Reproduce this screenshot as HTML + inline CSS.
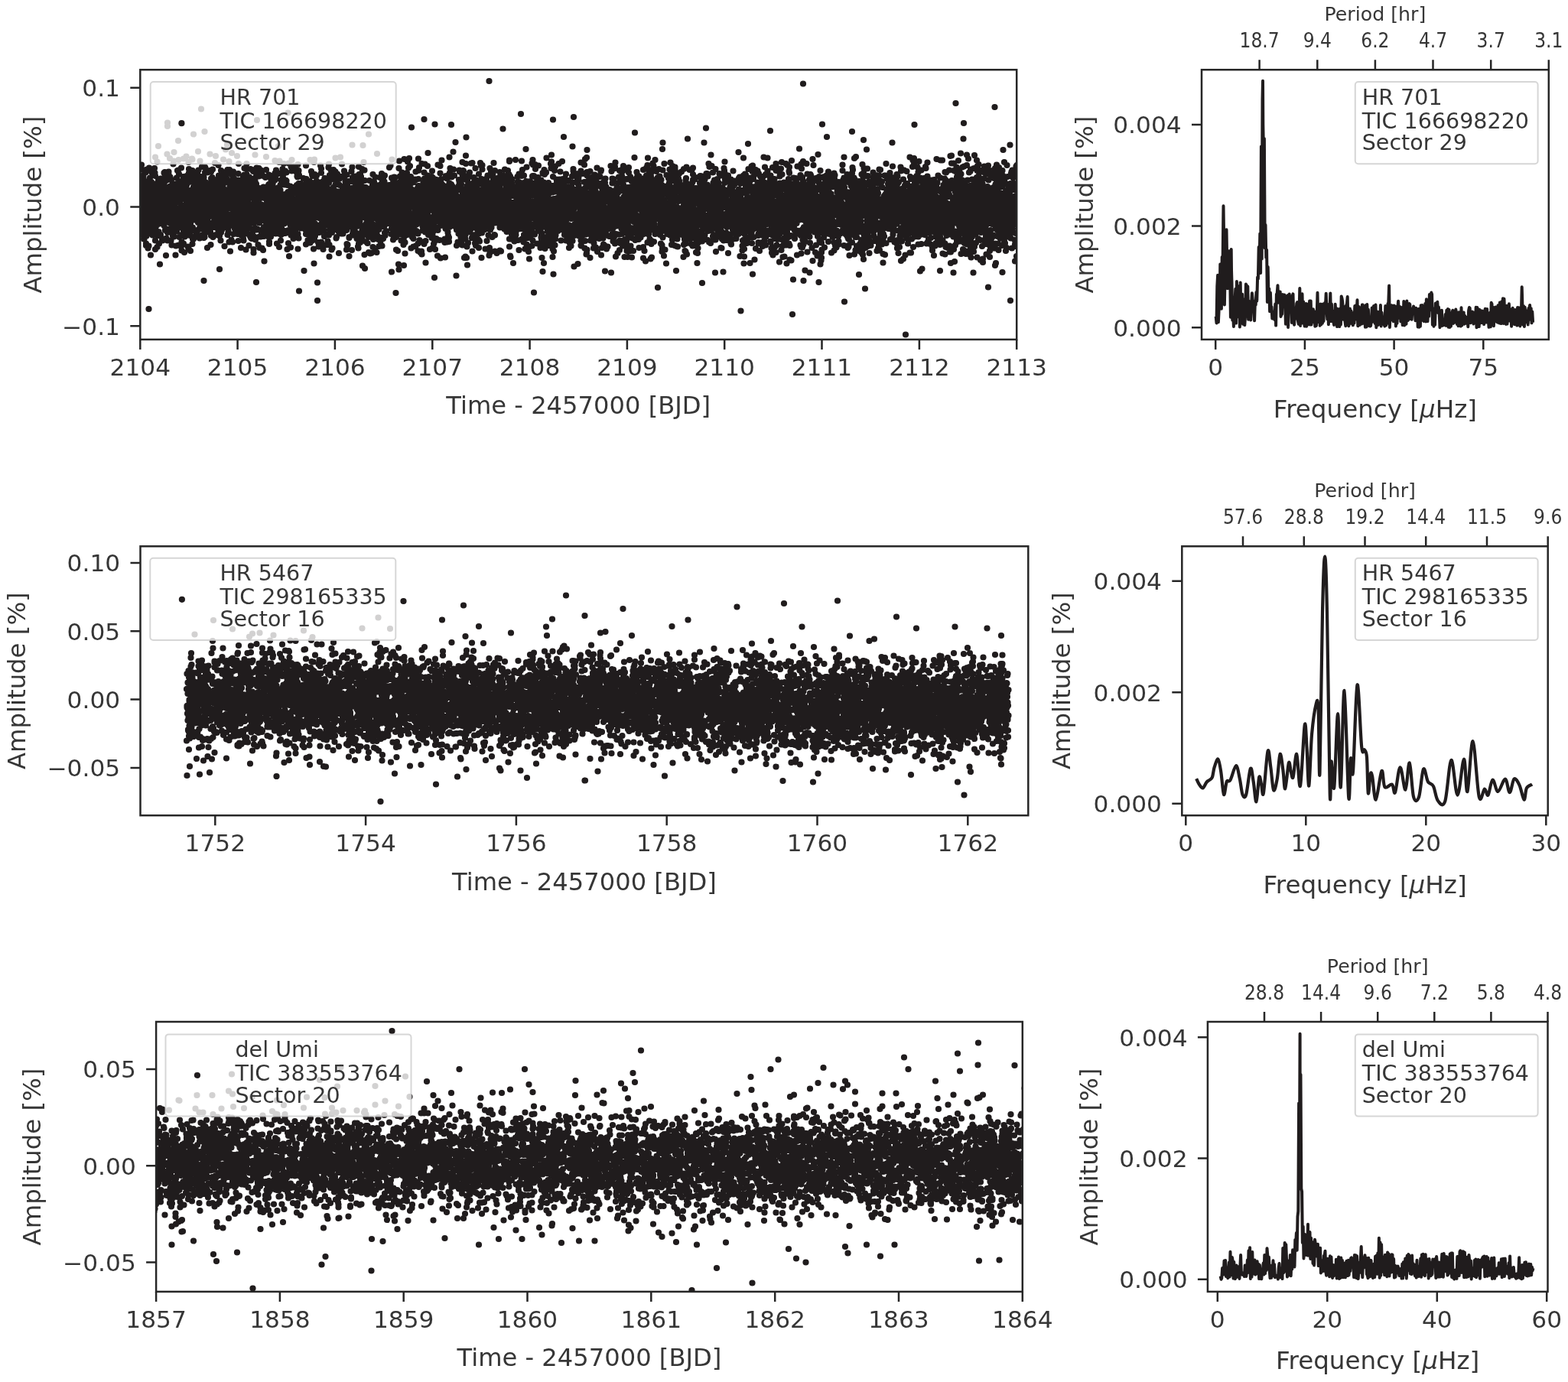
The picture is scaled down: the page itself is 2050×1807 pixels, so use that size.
<!DOCTYPE html>
<html><head><meta charset="utf-8"><title>Light curves and periodograms</title>
<style>
html,body{margin:0;padding:0;background:#fff;overflow:hidden}
svg{display:block}
text{font-family:"DejaVu Sans","Liberation Sans",sans-serif;fill:#363636}
text.c{font-family:"DejaVu Sans Condensed","DejaVu Sans","Liberation Sans",sans-serif;font-stretch:condensed}
</style></head><body>
<svg width="2050" height="1807" viewBox="0 0 2050 1807"><defs><clipPath id="a"><rect x="183.3" y="91.2" width="1145.9" height="352.7"/></clipPath><clipPath id="b"><rect x="183.5" y="714.3" width="1160.8" height="351.9"/></clipPath><clipPath id="c"><rect x="204.1" y="1336" width="1132.7" height="352.9"/></clipPath><clipPath id="d"><rect x="1571" y="91.2" width="453.8" height="352.7"/></clipPath><clipPath id="e"><rect x="1545.3" y="714.3" width="478.4" height="351.9"/></clipPath><clipPath id="f"><rect x="1578.9" y="1336" width="444.6" height="352.9"/></clipPath></defs><rect width="100%" height="100%" fill="#fff"/><path clip-path="url(#a)" d="M179.5 274h0m0 6h0m0-3h0m0 15.5h0m0-12.5h0m0 12.5h0m0.5-42h0m0.5 51h0m0-21h0m0-22.5h0m0.5 12h0m0-26h0m0.5 6.5h0m0 39.5h0m0 3h0m0-31.5h0m0-43h0m0.5 24.5h0m0 42.5h0m0-7.5h0m0 1h0m0-40h0m0 20.5h0m0 16h0m0.5 4.5h0m0-23h0m0 5.5h0m0 14h0m0-27.5h0m0-6h0m0.5 41h0m0-14h0m0.5-34h0m0 61.5h0m0 9h0m0-24.5h0m0.5-20h0m0 9.5h0m0 7.5h0m0.5-23.5h0m0 22h0m0-30.5h0m0.5 18.5h0m0-31.5h0m0 19.5h0m0 5h0m0-43h0m0 53h0m0.5 6.5h0m0 10h0m0-4h0m0-13h0m0-30.5h0m0.5 60h0m0.5-46.5h0m0-29h0m0.5 22h0m0 18h0m0 13.5h0m0-5.5h0m0.5 32h0m0-73h0m0 32h0m0-29h0m0.5 7h0m0 53h0m0-24.5h0m0 45h0m0-14h0m0-9h0m0-4h0m0-37.5h0m0 5h0m0 7.5h0m0.5-9.5h0m0 13.5h0m0 48h0m0-35.5h0m0-17h0m0-4.5h0m0 16h0m0.5 30h0m0-30.5h0m0-12h0m0.5 45h0m0-44h0m0-15h0m0 8h0m0 2.5h0m0-9.5h0m0.5 26.5h0m0 37h0m0-45.5h0m0.5-38.5h0m0 53h0m0 5.5h0m0-34.5h0m0-3.5h0m0.5 41.5h0m0 33.5h0m0-64.5h0m0 62h0m0.5-10h0m0.5-30h0m0-19.5h0m0-37.5h0m0.5 53h0m0-31h0m0 55h0m0-39.5h0m0 35.5h0m0.5-42h0m0 31.5h0m0-26h0m0 31.5h0m0.5-52.5h0m0 15.5h0m0-4.5h0m0 17.5h0m0 59h0m0-49.5h0m0.5-15.5h0m0-12.5h0m0.5 157h0m0-82.5h0m0-53h0m0.5-29.5h0m0-19.5h0m0 73.5h0m0.5 10h0m0-57.5h0m0 22h0m0 10.5h0m0 6.5h0m0-42.5h0m0.5 12.5h0m0-3.5h0m0-18.5h0m0 45.5h0m0-25h0m0.5 52h0m0-26.5h0m0.5-21h0m0 6.5h0m0-7.5h0m0 77h0m0-71h0m0.5-16.5h0m0 13.5h0m0-5h0m0-7.5h0m0 37h0m0-8.5h0m0-2.5h0m0 19h0m0 2h0m0-36h0m0.5 39h0m0-18.5h0m0-13h0m0 13.5h0m0-10h0m0-31h0m0.5 25.5h0m0-38h0m0 56h0m0-41.5h0m0 31h0m0 1h0m0-28h0m0.5 50h0m0-39.5h0m0.5 19h0m0-25.5h0m0 42h0m0 17.5h0m0-27h0m0.5 2h0m0-31.5h0m0.5 25.5h0m0-16.5h0m0 45.5h0m0.5-53h0m0.5 30.5h0m0-9h0m0 31h0m0-19.5h0m0.5-65.5h0m0 82h0m0-57.5h0m0 44.5h0m0.5-63h0m0 43h0m0.5 13.5h0m0-77h0m0 24.5h0m0 96h0m0-64.5h0m0 53h0m0.5-41.5h0m0-20h0m0 4h0m0 2.5h0m0 5.5h0m0.5 17.5h0m0-14.5h0m0 33h0m0.5-33h0m0-21h0m0 33h0m0.5-20h0m0 34.5h0m0-20.5h0m0-20h0m0 24.5h0m0.5-27.5h0m0 16.5h0m0-28h0m0 83.5h0m0-62h0m0-20h0m0-29.5h0m0 92.5h0m0.5 4h0m0-32.5h0m0.5-26.5h0m0 24h0m0-19.5h0m0-7.5h0m0 34.5h0m0.5 4.5h0m0-37.5h0m0 45.5h0m0-37.5h0m0-64.5h0m0 43.5h0m0 50.5h0m0.5-12.5h0m0 18.5h0m0-9.5h0m0 21.5h0m0-60.5h0m0.5 47h0m0 29h0m0-60.5h0m0-21.5h0m0.5 29.5h0m0 14h0m0 5.5h0m0.5-3h0m0 63h0m0-98.5h0m0.5 2.5h0m0 36.5h0m0-31.5h0m0 2.5h0m0 14h0m0.5 37.5h0m0-55.5h0m0-19.5h0m0 44h0m0 2.5h0m0 27h0m0.5-39h0m0-2.5h0m0-5h0m0 6h0m0-20.5h0m0.5 21.5h0m0-30.5h0m0 46.5h0m0-17.5h0m0.5 9.5h0m0-24h0m0 16h0m0-13.5h0m0.5 59.5h0m0-31.5h0m0-20h0m0.5 19.5h0m0 3.5h0m0-13.5h0m0-34.5h0m0 77.5h0m0-47.5h0m0-8.5h0m0.5-1.5h0m0 31h0m0-28h0m0.5 22h0m0-7h0m0.5 6h0m0 13h0m0.5-40h0m0-28h0m0 15.5h0m0 31h0m0 22.5h0m0-15.5h0m0.5-36.5h0m0 14.5h0m0.5 3h0m0-32.5h0m0-3h0m0.5 76h0m0-64h0m0 28h0m0-14.5h0m0.5 15h0m0-2h0m0-14h0m0-15.5h0m0.5 27.5h0m0 72.5h0m0-50.5h0m0.5-31h0m0 59h0m0-11.5h0m0-54h0m0 20.5h0m0.5 15h0m0-19.5h0m0.5-5h0m0 27.5h0m0-20.5h0m0-4h0m0-1h0m0 18h0m0 13h0m0-33.5h0m0 43h0m0-98h0m0 68h0m0.5-109h0m0 124.5h0m0 29.5h0m0-10.5h0m0-139h0m0.5 99.5h0m0 6h0m0-36h0m0 0.5h0m0.5 12h0m0 5h0m0 26.5h0m0-7h0m0.5-44h0m0 19.5h0m0-22.5h0m0 76h0m0-45.5h0m0 4h0m0 9.5h0m0.5-14h0m0 45.5h0m0-21.5h0m0 9h0m0-26h0m0 20.5h0m0-32h0m0.5 34.5h0m0-12.5h0m0.5 19.5h0m0-39h0m0 19h0m0-64.5h0m0.5 24.5h0m0 37.5h0m0-25.5h0m0.5 21h0m0.5 50h0m0-67h0m0 44h0m0-43.5h0m0.5 18.5h0m0 12h0m0-18.5h0m0-6h0m0 37h0m0 9.5h0m0-65.5h0m0.5 19h0m0 24h0m0 26.5h0m0 16h0m0-57.5h0m0 32.5h0m0 5h0m0-47.5h0m0 15h0m0.5-12.5h0m0 30.5h0m0-23h0m0 19h0m0.5-33h0m0-8.5h0m0 38.5h0m0-14h0m0.5 43.5h0m0-25h0m0 19.5h0m0.5-13.5h0m0 1.5h0m0-76.5h0m0 33.5h0m0 0h0m0 14.5h0m0.5 11.5h0m0 14h0m0-15.5h0m0-62h0m0.5 99h0m0-42h0m0 8.5h0m0-16.5h0m0 32.5h0m0-6h0m0-87h0m0 62h0m0.5 24.5h0m0 0.5h0m0 14.5h0m0-38h0m0.5 14h0m0-9.5h0m0 7h0m0-15.5h0m0 36.5h0m0.5-50.5h0m0 29.5h0m0.5-30h0m0 40h0m0-11h0m0 60.5h0m0.5-77.5h0m0 65.5h0m0.5-61h0m0 28.5h0m0-3.5h0m0-45h0m0 32.5h0m0.5 22.5h0m0-55.5h0m0 62.5h0m0-70h0m0 48.5h0m0-32.5h0m0 0.5h0m0 39h0m0.5 3.5h0m0-6.5h0m0-24.5h0m0 20h0m0.5-16h0m0 28h0m0-69.5h0m0 51h0m0 24.5h0m0.5-39.5h0m0-2.5h0m0-13h0m0 29.5h0m0-13h0m0 28h0m0-48h0m0.5 36h0m0-23.5h0m0-68.5h0m0 57h0m0-18.5h0m0.5-13.5h0m0 40.5h0m0 71h0m0-72.5h0m0 26.5h0m0-18h0m0.5-19.5h0m0 38.5h0m0-48h0m0 67h0m0.5-51h0m0 66.5h0m0-20h0m0-15.5h0m0-9.5h0m0.5-4h0m0 2h0m0 13h0m0 7h0m0-9.5h0m0-14.5h0m0 17h0m0.5-24h0m0 44h0m0-44h0m0 37.5h0m0-35.5h0m0.5 27.5h0m0.5-10.5h0m0 6h0m0 18h0m0-33.5h0m0-11.5h0m0 17.5h0m0 30h0m0 24.5h0m0.5-64.5h0m0-38h0m0.5 27.5h0m0 80.5h0m0-42h0m0 21.5h0m0-15h0m0 24.5h0m0.5-19.5h0m0-11h0m0 34.5h0m0.5-39.5h0m0.5-5h0m0 22.5h0m0-60h0m0 17.5h0m0.5 0h0m0 22.5h0m0-3h0m0-44.5h0m0.5 70.5h0m0-16.5h0m0-77.5h0m0 75h0m0-38h0m0-6.5h0m0 6h0m0 74.5h0m0-67.5h0m0.5 36.5h0m0.5-11.5h0m0 54h0m0-40.5h0m0-34.5h0m0 38.5h0m0.5 16h0m0-36h0m0 21.5h0m0-49h0m0-9h0m0.5 59h0m0-27.5h0m0.5 15h0m0-28h0m0-9.5h0m0 12h0m0.5-1h0m0 4h0m0-3h0m0-7.5h0m0 29.5h0m0.5-34.5h0m0-41h0m0 66h0m0.5 30h0m0-8.5h0m0-4.5h0m0-31h0m0-14.5h0m0-12h0m0 37.5h0m0-3h0m0 27.5h0m0.5 13h0m0-68.5h0m0 23h0m0.5-10h0m0 28h0m0 2h0m0-15.5h0m0.5 22h0m0-36h0m0 54.5h0m0 18h0m0.5-23h0m0-1h0m0-29.5h0m0.5-57h0m0 112.5h0m0-88.5h0m0 19h0m0 52.5h0m0-35h0m0.5 0h0m0 26.5h0m0-78h0m0 67.5h0m0-62.5h0m0.5 33h0m0 45.5h0m0-26h0m0-1.5h0m0-39h0m0.5 36h0m0-23h0m0 1h0m0 45.5h0m0.5-31.5h0m0 13h0m0-21h0m0.5 34.5h0m0-65h0m0 9.5h0m0 25.5h0m0-34.5h0m0 45.5h0m0 6h0m0-16.5h0m0 13h0m0-6h0m0 58h0m0.5-45h0m0-54.5h0m0 58.5h0m0.5-56.5h0m0 71h0m0 7h0m0-79h0m0.5 36.5h0m0-13.5h0m0 3.5h0m0-7.5h0m0.5 34.5h0m0-8h0m0-25.5h0m0-42h0m0.5 57h0m0-15h0m0 69.5h0m0-54h0m0 15h0m0-31h0m0-40.5h0m0 54.5h0m0-40h0m0.5 74.5h0m0-18.5h0m0 33.5h0m0.5-56h0m0 7h0m0.5 49h0m0-32h0m0-8.5h0m0 1.5h0m0-18h0m0-80h0m0 69h0m0.5 22h0m0-12.5h0m0-15.5h0m0 13h0m0 1.5h0m0-21h0m0.5 33.5h0m0 22h0m0-43.5h0m0.5 30.5h0m0-19h0m0-7.5h0m0 22h0m0-42.5h0m0.5 49h0m0-22h0m0 0.5h0m0 13.5h0m0.5 41h0m0-47h0m0.5 19h0m0-28.5h0m0-12.5h0m0 21h0m0 25h0m0.5-9h0m0-15.5h0m0 41h0m0.5-34.5h0m0.5 39h0m0-58.5h0m0 18h0m0-7h0m0 7.5h0m0 10h0m0-0.5h0m0-28.5h0m0-15.5h0m0.5 18.5h0m0 2.5h0m0 10.5h0m0 8.5h0m0-13.5h0m0.5 30h0m0-32.5h0m0-28.5h0m0.5 72h0m0-9.5h0m0-31.5h0m0 31.5h0m0-93h0m0 58.5h0m0.5-34h0m0 46.5h0m0.5-7.5h0m0 3.5h0m0 0.5h0m0-11h0m0 7h0m0.5-18h0m0 26.5h0m0.5-2h0m0-30h0m0 73.5h0m0-76.5h0m0 18.5h0m0-19h0m0.5-24h0m0 50h0m0 36h0m0.5 0h0m0-38.5h0m0 40.5h0m0-22.5h0m0.5-16h0m0-29h0m0 68.5h0m0 8.5h0m0.5-24.5h0m0-28h0m0 26.5h0m0-7h0m0-132.5h0m0 117.5h0m0 4h0m0.5-9h0m0 34h0m0.5-43h0m0-28h0m0 62.5h0m0-9.5h0m0 19h0m0-33.5h0m0.5 18h0m0.5 22.5h0m0-41h0m0-14.5h0m0 10h0m0 45.5h0m0-49.5h0m0.5 20.5h0m0-1.5h0m0.5 16.5h0m0-13h0m0 15h0m0-39.5h0m0.5 65.5h0m0 56h0m0-92.5h0m0-11h0m0-31.5h0m0 64h0m0-51.5h0m0.5 48.5h0m0 16h0m0-12.5h0m0.5 13.5h0m0-72.5h0m0-65.5h0m0 132.5h0m0.5-32h0m0 5h0m0-29.5h0m0-29.5h0m0 24.5h0m0-17.5h0m0 62h0m0.5 6h0m0-13h0m0 9.5h0m0-31.5h0m0-39h0m0.5 27.5h0m0 51h0m0-5h0m0-54.5h0m0 30.5h0m0.5 24h0m0-23.5h0m0-23h0m0 5h0m0 24.5h0m0-23h0m0.5 31h0m0-32.5h0m0.5 26.5h0m0-23.5h0m0 18.5h0m0 7h0m0.5 4h0m0 4h0m0 36h0m0-43h0m0-16.5h0m0.5 11h0m0-50h0m0 33.5h0m0-8h0m0 43h0m0.5-20.5h0m0 30h0m0-26h0m0-24h0m0 20.5h0m0-24.5h0m0 29h0m0.5 3.5h0m0-18h0m0-9.5h0m0-11.5h0m0 39.5h0m0.5-41h0m0 56.5h0m0-0.5h0m0-26h0m0.5 11.5h0m0 18h0m0-18.5h0m0-15h0m0.5-11h0m0 14h0m0 4h0m0-4h0m0.5 12.5h0m0-60h0m0-21.5h0m0.5 38.5h0m0 31.5h0m0-20.5h0m0 4h0m0 48h0m0.5 17h0m0-49h0m0-20.5h0m0-4.5h0m0 25.5h0m0.5-47h0m0 53h0m0-35h0m0 65.5h0m0-55h0m0 10.5h0m0-20h0m0 48h0m0-58h0m0.5 36h0m0-10.5h0m0 8.5h0m0.5-1h0m0 0.5h0m0 11.5h0m0-7h0m0.5-1.5h0m0-38h0m0 10.5h0m0.5 2.5h0m0 3h0m0-26.5h0m0.5 40h0m0-5h0m0 4h0m0 17.5h0m0 32h0m0-57.5h0m0.5 1.5h0m0-1.5h0m0.5 44.5h0m0-35.5h0m0-24h0m0 13.5h0m0 45h0m0.5-15.5h0m0-10.5h0m0 4h0m0-38.5h0m0 16h0m0 56.5h0m0.5-60h0m0 18.5h0m0 21.5h0m0.5-41.5h0m0 32h0m0-65.5h0m0 43.5h0m0.5-13.5h0m0-2.5h0m0 5h0m0 9.5h0m0.5-51h0m0 82.5h0m0-42.5h0m0 63h0m0-32.5h0m0-1h0m0 24h0m0-38h0m0.5 30.5h0m0-55h0m0 51.5h0m0-42.5h0m0 34h0m0 12h0m0.5-9.5h0m0-29h0m0 37h0m0-44h0m0.5 33h0m0-10.5h0m0.5 22h0m0 6h0m0-28h0m0.5-20.5h0m0 1h0m0 8.5h0m0 2h0m0 2.5h0m0.5 2.5h0m0-14h0m0-6h0m0.5-27h0m0 37.5h0m0 48.5h0m0-67h0m0.5 27h0m0-13.5h0m0-19h0m0.5 37.5h0m0-5h0m0 16.5h0m0.5 30h0m0-73.5h0m0 117h0m0-68h0m0-6h0m0 9.5h0m0.5-14h0m0 25h0m0-53.5h0m0.5-14.5h0m0 9h0m0 27h0m0 5h0m0-16h0m0 46h0m0-14h0m0.5-3h0m0 0.5h0m0-7.5h0m0 37h0m0.5-73h0m0 62.5h0m0-9h0m0-72h0m0 38h0m0 8.5h0m0 31.5h0m0.5-30.5h0m0 0h0m0-12.5h0m0.5 6.5h0m0 36h0m0-40.5h0m0.5-14.5h0m0 15.5h0m0 2h0m0-35h0m0.5 22.5h0m0.5 19h0m0 7.5h0m0-11.5h0m0 24.5h0m0-45.5h0m0.5 30h0m0-3h0m0-63h0m0 80.5h0m0-13.5h0m0-2.5h0m0 12h0m0.5-48.5h0m0-9h0m0 2.5h0m0 17h0m0 50h0m0.5-11h0m0-19h0m0-13.5h0m0 32h0m0-59h0m0 69h0m0-41h0m0.5 25h0m0-14.5h0m0-26h0m0 44h0m0 39h0m0.5-50.5h0m0-7.5h0m0-16h0m0.5 17h0m0 27.5h0m0-67.5h0m0.5 53h0m0-82.5h0m0.5 87.5h0m0 14h0m0-37h0m0.5-27.5h0m0 25.5h0m0 31.5h0m0.5-34.5h0m0 1h0m0.5-1h0m0 38.5h0m0-21h0m0 0h0m0-83.5h0m0.5 118h0m0-13.5h0m0-56.5h0m0-15h0m0 46h0m0.5-7h0m0 24.5h0m0-20h0m0 40.5h0m0.5-8h0m0-30h0m0-2.5h0m0 36.5h0m0.5-30h0m0-2.5h0m0 11h0m0 1h0m0 23h0m0-78h0m0.5 25h0m0-4h0m0 69h0m0-32.5h0m0-14.5h0m0 24.5h0m0-83h0m0 50.5h0m0-3h0m0.5-36.5h0m0 42.5h0m0.5-21h0m0.5 5h0m0 39.5h0m0 40.5h0m0-56.5h0m0.5 8h0m0-30h0m0.5 39h0m0-8h0m0.5-30h0m0-15h0m0 52h0m0-31.5h0m0 8.5h0m0 27h0m0-25.5h0m0 47h0m0.5-49h0m0-64.5h0m0.5 93h0m0-31h0m0-35h0m0 42.5h0m0-7.5h0m0-2h0m0.5 56.5h0m0-86.5h0m0 25h0m0.5-14.5h0m0-4.5h0m0 37.5h0m0.5 11.5h0m0 3.5h0m0-18h0m0-46h0m0 45.5h0m0 2h0m0.5-37.5h0m0 33h0m0 38.5h0m0-10.5h0m0.5-32h0m0-3h0m0 6h0m0-7.5h0m0 30h0m0-55.5h0m0 31h0m0.5 7h0m0-27h0m0 51h0m0-16.5h0m0.5 17h0m0-2h0m0-45.5h0m0 1h0m0 47h0m0-42h0m0 44.5h0m0.5-15.5h0m0-22h0m0 9h0m0 19h0m0.5-20h0m0-13h0m0 41h0m0-20.5h0m0 12.5h0m0.5-25.5h0m0 12h0m0.5-23h0m0-5.5h0m0 6h0m0-15.5h0m0.5 41h0m0-1h0m0 23.5h0m0-15h0m0-46h0m0 33h0m0 9h0m0.5-78.5h0m0 55.5h0m0 6h0m0-5.5h0m0.5 46h0m0-46h0m0 34h0m0-48.5h0m0.5 27.5h0m0-8h0m0.5 35.5h0m0-44.5h0m0-20.5h0m0 79.5h0m0-88h0m0.5 59.5h0m0-33h0m0 15h0m0 13.5h0m0-68h0m0.5 74.5h0m0-23h0m0 27h0m0-29h0m0 41.5h0m0.5-27.5h0m0-26.5h0m0 29.5h0m0 0h0m0.5-15.5h0m0-21.5h0m0.5-1h0m0 6h0m0 3h0m0 1h0m0-9h0m0 11h0m0-6.5h0m0.5 55.5h0m0-58.5h0m0 20.5h0m0-28h0m0 63.5h0m0-36h0m0 28.5h0m0.5-54h0m0 21.5h0m0-23.5h0m0 67h0m0 19.5h0m0-60h0m0.5 21h0m0-18h0m0 40.5h0m0-47.5h0m0 17.5h0m0.5-30.5h0m0 15h0m0 3h0m0.5 27h0m0-14.5h0m0.5-21.5h0m0 25.5h0m0-4.5h0m0-28h0m0.5 10.5h0m0 26h0m0-26.5h0m0-6h0m0 48h0m0-33h0m0-0.5h0m0.5 44.5h0m0-58h0m0 21.5h0m0-38.5h0m0 50.5h0m0-47.5h0m0-9h0m0 40h0m0.5 1.5h0m0 42h0m0-38.5h0m0-16.5h0m0 1h0m0-3.5h0m0.5 25.5h0m0-27.5h0m0-1.5h0m0 6.5h0m0.5 30.5h0m0-32.5h0m0 24h0m0-62h0m0 53.5h0m0 13h0m0-44.5h0m0-13.5h0m0.5 74.5h0m0-18.5h0m0-53.5h0m0 32h0m0 9h0m0 24.5h0m0-0.5h0m0-5.5h0m0.5 14.5h0m0-43h0m0.5 9.5h0m0-14.5h0m0 31h0m0.5 38.5h0m0-50.5h0m0-19.5h0m0.5-28.5h0m0.5 70.5h0m0-3.5h0m0 10h0m0-77h0m0 53.5h0m0-52.5h0m0-15h0m0.5 42.5h0m0-1.5h0m0-1.5h0m0 9.5h0m0 5.5h0m0 37h0m0-59h0m0.5-8h0m0-2h0m0 27h0m0-42.5h0m0.5 64.5h0m0-45h0m0.5 8h0m0-6.5h0m0 25.5h0m0-25.5h0m0.5 18.5h0m0 23h0m0 12.5h0m0 2.5h0m0.5-45.5h0m0 23h0m0-39h0m0 40h0m0-9.5h0m0-7.5h0m0 61h0m0.5-23h0m0-66.5h0m0 44.5h0m0.5-18.5h0m0 22h0m0-22h0m0.5 15.5h0m0 36h0m0-20h0m0-55h0m0.5 75.5h0m0-88.5h0m0 21.5h0m0 9.5h0m0 16h0m0 13h0m0-6.5h0m0-4.5h0m0.5-3h0m0-22.5h0m0 35h0m0-31h0m0 62.5h0m0.5-75h0m0 17.5h0m0 57.5h0m0-34h0m0-33h0m0.5 68h0m0.5-23.5h0m0-17.5h0m0.5-2h0m0 37.5h0m0-62h0m0 32.5h0m0-7h0m0-48h0m0 46h0m0-23h0m0 35.5h0m0.5 6.5h0m0 24h0m0-62.5h0m0 54h0m0-80h0m0 15h0m0.5 72h0m0-51h0m0 19h0m0-24h0m0-29.5h0m0.5 68h0m0-57.5h0m0 91.5h0m0-59.5h0m0 23.5h0m0 40.5h0m0-54.5h0m0 2.5h0m0-44.5h0m0.5 51.5h0m0-52h0m0 14.5h0m0 5h0m0 17.5h0m0.5-34h0m0 48h0m0-51h0m0 76h0m0-36h0m0-8h0m0.5 4.5h0m0-8h0m0 15h0m0.5-40.5h0m0 39h0m0 22.5h0m0-95.5h0m0.5 19.5h0m0 91.5h0m0-32h0m0-38.5h0m0 3h0m0 2h0m0-5h0m0.5 44h0m0-31.5h0m0.5-15h0m0-10.5h0m0 35h0m0 12h0m0 92h0m0.5-149.5h0m0 52.5h0m0-42.5h0m0.5 71h0m0-143.5h0m0 116.5h0m0 14.5h0m0.5-28.5h0m0-11h0m0 28.5h0m0 22.5h0m0.5-11.5h0m0-8h0m0.5 40h0m0-45h0m0 1h0m0-28.5h0m0 17h0m0 22.5h0m0-38h0m0.5 13.5h0m0 16.5h0m0.5-22h0m0-37h0m0 53h0m0 17.5h0m0-28h0m0 16.5h0m0-48.5h0m0.5 61h0m0-35h0m0 12h0m0-22.5h0m0 63.5h0m0.5-35h0m0 49.5h0m0-67.5h0m0.5 23.5h0m0-0.5h0m0-53.5h0m0.5 30h0m0 2.5h0m0.5 51h0m0-32.5h0m0-29.5h0m0 31.5h0m0-56.5h0m0.5 52h0m0-3h0m0.5 32.5h0m0-36.5h0m0-41h0m0 58h0m0.5 40h0m0-72h0m0 18.5h0m0.5-21h0m0 22h0m1-42h0m0 69h0m0 28h0m0.5-82.5h0m0 33h0m0-22h0m0 16h0m0.5 25.5h0m0-8.5h0m0 20.5h0m0-29h0m0.5-3.5h0m0 65h0m0-42.5h0m0-19.5h0m0-20.5h0m0 24h0m0.5 16.5h0m0-11.5h0m0.5-18h0m0 1h0m0 1h0m0-23.5h0m0.5-3h0m0-13.5h0m0 24h0m0 49h0m0.5-32.5h0m0.5-67.5h0m0 44h0m0-27h0m0 52h0m0 19.5h0m0.5-48.5h0m0 2h0m0.5 9.5h0m0 24h0m0-2h0m0-10h0m0 16h0m0-21.5h0m0 12h0m0 31h0m0-48h0m0 2h0m0 34h0m0-33h0m0.5 8.5h0m0-38.5h0m0 22.5h0m0 16h0m0 7.5h0m0 10h0m0.5 3h0m0 5.5h0m0-22.5h0m0.5 11.5h0m0 0h0m0 21h0m0-38h0m0.5 6h0m0 36h0m0-18h0m0-49.5h0m0 21.5h0m0 5h0m0.5 4h0m0-31.5h0m0-12.5h0m0 61.5h0m0-21h0m0 5.5h0m0.5-21.5h0m0 41.5h0m0-42.5h0m0 67h0m0-53h0m0 50h0m0.5-39h0m0-1.5h0m0 26h0m0-34.5h0m0.5 11h0m0 12h0m0.5-59h0m0 44h0m0-12.5h0m0 27.5h0m0-33h0m0 32h0m0-33.5h0m0.5-9h0m0 13h0m0 50h0m0.5-71h0m0 10.5h0m0 33.5h0m0-46.5h0m0 52h0m0-33h0m0 0.5h0m0.5-25.5h0m0 28.5h0m0.5 36.5h0m0-35h0m0 16h0m0 5h0m0 9h0m0.5-38h0m0 33h0m0 19h0m0-32h0m0-23.5h0m0 20h0m0-31h0m0 44h0m0-45.5h0m0.5 23h0m0 30h0m0-48.5h0m0 22h0m0 28.5h0m0.5-52.5h0m0.5 20h0m0 7h0m0-30.5h0m0 44h0m0 13h0m0-3h0m0-39.5h0m0.5 47h0m0-9.5h0m0-22h0m0 18h0m0.5-22.5h0m0 12.5h0m0 22.5h0m0-18h0m0 21h0m0-38.5h0m0.5 6.5h0m0-19h0m0 25h0m0.5 6.5h0m0-69h0m0 25.5h0m0 38.5h0m0-11h0m0-36.5h0m0.5 32.5h0m0.5 46.5h0m0-19h0m0-52.5h0m0.5 30h0m0-41.5h0m0.5 41h0m0-5.5h0m0 30h0m0-32h0m0-9.5h0m0 22.5h0m0.5 49.5h0m0-67h0m0 33h0m0-36.5h0m0-2h0m0 29h0m0.5-16h0m0 27.5h0m0-3h0m0 1.5h0m0-16.5h0m0 22h0m0-21.5h0m0.5 14h0m0-55.5h0m0 41.5h0m0 4h0m0 8h0m0-13h0m0 18h0m0.5-31h0m0-9.5h0m0 27.5h0m0-10h0m0 7.5h0m0.5-44h0m0-35.5h0m0 112.5h0m0.5-17h0m0-8h0m0 27h0m0-35.5h0m0 27.5h0m0.5-39h0m0 64.5h0m0-111h0m0.5 56h0m0-57.5h0m0 64.5h0m0 15h0m0-10h0m0-6h0m0-3h0m0-10.5h0m0-4.5h0m0.5 18.5h0m0 0h0m0.5 31.5h0m0-28h0m0 6h0m0-6h0m0-22.5h0m0-7h0m0 50.5h0m0-57h0m0.5 37.5h0m0 10h0m0-37h0m0 62h0m0-32h0m0-14.5h0m0-7.5h0m0 45.5h0m0.5-70.5h0m0 45.5h0m0-19.5h0m0 45.5h0m0-33h0m0-15h0m0.5 39.5h0m0-38.5h0m0.5 42h0m0-14h0m0-10.5h0m0.5 16h0m0-33.5h0m0 25.5h0m0-28h0m0 19.5h0m0-38.5h0m0 62h0m0.5-79.5h0m0 19.5h0m0 38.5h0m0-6h0m0.5 17.5h0m0-58.5h0m0.5 24.5h0m0.5 20.5h0m0-15h0m0 7.5h0m0 11h0m0-10.5h0m0-56h0m0.5 12.5h0m0 28.5h0m0-13.5h0m0-15.5h0m0 56h0m0 10.5h0m1-27h0m0 37.5h0m0-1h0m0.5-20.5h0m0-58h0m0 40h0m0 41.5h0m0-48h0m0 34h0m0-5.5h0m0-31.5h0m0.5 2h0m0 20h0m0-40.5h0m0.5 38h0m0-2.5h0m0.5-17.5h0m0 2.5h0m0-19.5h0m0-11h0m1 16.5h0m0 84h0m0-57.5h0m0 1.5h0m0-12h0m0 20.5h0m0.5 25.5h0m0-48h0m0 4h0m0 22.5h0m0.5-6h0m0 8h0m0-137h0m0 103.5h0m0.5 67h0m0-66.5h0m0 32h0m0 17.5h0m0-13h0m0.5-1h0m0-33h0m0-40.5h0m0 50.5h0m0 21.5h0m0-14h0m0 5.5h0m0.5-21.5h0m0-2h0m0 9h0m0 19.5h0m0 53h0m0-63.5h0m0.5-10.5h0m0 12h0m0 13h0m0.5-6.5h0m0-9.5h0m0-17.5h0m0.5 9.5h0m0 30h0m0 2h0m0-50.5h0m0 48h0m0.5-47.5h0m0 79.5h0m0-42h0m0.5 12h0m0-24.5h0m0 4.5h0m0 34h0m0-89.5h0m0.5 42.5h0m0 43h0m0-45h0m0 14h0m0-25.5h0m0 57h0m0.5-80.5h0m0-14.5h0m0.5 64.5h0m0 5.5h0m0-25h0m0.5-31.5h0m0 52.5h0m0-7h0m0-0.5h0m0-17h0m0.5 1h0m0 44.5h0m0.5-4h0m0-22h0m0 3h0m0 14h0m0 25h0m0-94h0m0.5 78.5h0m0-32h0m0-19.5h0m0 16.5h0m0 15h0m0.5-16h0m0 9h0m0-1.5h0m0-21.5h0m0.5 26.5h0m0.5-5.5h0m0 3h0m0 12h0m0-1.5h0m0.5-13.5h0m0 9.5h0m0 9.5h0m0-10.5h0m0 25.5h0m0.5-49.5h0m0-5.5h0m0-24.5h0m0 64h0m0.5-24.5h0m0-1h0m0 45.5h0m0.5-14.5h0m0-30.5h0m0 2h0m0 11.5h0m0 24h0m0-30.5h0m0.5 5h0m0-47.5h0m0 55.5h0m0-17h0m0-22h0m0.5-11.5h0m0 55h0m0.5-54h0m0.5 94h0m0-110.5h0m0 41h0m0-26h0m0 27h0m0 49h0m0-60h0m0.5-20.5h0m0 53.5h0m0 7h0m0.5-13.5h0m0-49.5h0m0 57h0m0-39h0m0 24.5h0m0 46h0m0-71.5h0m0.5 57.5h0m0-4.5h0m0-64h0m0 151.5h0m0-139h0m0.5 24h0m0-8h0m0.5 33.5h0m1-40h0m0-11h0m0 58.5h0m0.5-41h0m0 18.5h0m0 3h0m0.5 14h0m0-31h0m0-3h0m0.5 7h0m0-3h0m0 19.5h0m0-18.5h0m0-21h0m0 5.5h0m0.5 21.5h0m0 2h0m0-16h0m0 4.5h0m0.5 11.5h0m0 3h0m0-20.5h0m0-2h0m0.5 45h0m0-55h0m0 24.5h0m0 9.5h0m0.5-43.5h0m0.5 53h0m0-44h0m0.5 112h0m0-57h0m0.5-10h0m0-20.5h0m0 13.5h0m0-21.5h0m0 28.5h0m0.5 7.5h0m0-43h0m0 27h0m0-13.5h0m0.5 35h0m0-49.5h0m0 42h0m0.5-19h0m0 1h0m0.5-18h0m0 32h0m0 17.5h0m0-54h0m0 43h0m0 24.5h0m0-103h0m0.5 84.5h0m0-25.5h0m0-18.5h0m0-20h0m0 22.5h0m0 8h0m0 23h0m0-56.5h0m0.5 57.5h0m0.5-41.5h0m0 51h0m0-36.5h0m0-20h0m0 24h0m0.5-15h0m0 43h0m0.5-34h0m0-8.5h0m0 19.5h0m0 40.5h0m0-52h0m0-3.5h0m0-21.5h0m0 55.5h0m0.5-50h0m0 11h0m0.5 4.5h0m0 18h0m0 14.5h0m0.5-52h0m0.5 11h0m0 33h0m0 1h0m0-2.5h0m0 22h0m0 12h0m0-53h0m0.5-25h0m0 4.5h0m0 14.5h0m0.5 25.5h0m0-42.5h0m0 23h0m0 12h0m0 8.5h0m0 28h0m0 7h0m0-108.5h0m0.5 40h0m0 46.5h0m0 9.5h0m0-35.5h0m0.5 7h0m0 0h0m0-16h0m0 33h0m0.5-54h0m0 5h0m0 57h0m0-28.5h0m0-31.5h0m0-17.5h0m0.5 91h0m0-31.5h0m0-43.5h0m0 8.5h0m0 15h0m0.5 28h0m0-7h0m0-56.5h0m0 80.5h0m0.5-17.5h0m0-29h0m0-32h0m0 33h0m0 24.5h0m0.5-42.5h0m0 44.5h0m0-7.5h0m0-24.5h0m0 24h0m0.5 19.5h0m0-24.5h0m0-27.5h0m0 14h0m0-9.5h0m0.5 12h0m0 39.5h0m0-59.5h0m0 80h0m0.5-86.5h0m0 105.5h0m0-42h0m0-32.5h0m0-18.5h0m0 29h0m0-68.5h0m0 31.5h0m0.5 70h0m0-48h0m0 6.5h0m0-63.5h0m0 49h0m0.5-29.5h0m0 21.5h0m0 0h0m0-6h0m0.5 65h0m0-60.5h0m0 25.5h0m0 19h0m0 10.5h0m0.5-22h0m0-50.5h0m0.5 68.5h0m0-26.5h0m0 23.5h0m0.5-11.5h0m0-2.5h0m0-12h0m0.5-4.5h0m0-36h0m0 7h0m0 37h0m0.5-0.5h0m0 2.5h0m0 4.5h0m0-13.5h0m0-15h0m0-8.5h0m0.5 29h0m0-17h0m0-8.5h0m0 123h0m0 23.5h0m0.5-133h0m0 14h0m0-31.5h0m0 42h0m0.5 32.5h0m0-52.5h0m0 31h0m0-11h0m0-33h0m0.5 71h0m0-54h0m0.5 2h0m0 0h0m0 5h0m0 6h0m0.5 1.5h0m0-14h0m0-8h0m0 43h0m0-31.5h0m0.5-33.5h0m0 28h0m0 15.5h0m0-3h0m0-20.5h0m0.5 6h0m0-24h0m0 35.5h0m0 9h0m0 32h0m0-67h0m0.5 26h0m0-5h0m0-55h0m0.5 86h0m0-4.5h0m0-16h0m0-3h0m0-14h0m0 13.5h0m0-3.5h0m0.5 1.5h0m0-30h0m0-26h0m0 5.5h0m0 67h0m0 23.5h0m0.5-19h0m0-28.5h0m0-30.5h0m0.5 35h0m0-22h0m0 26h0m0-5.5h0m0-34h0m0 51h0m0-4h0m0 8h0m0.5-21h0m0-14h0m0 40.5h0m0-27.5h0m0 18h0m0-21h0m0.5-25h0m0 16.5h0m0.5-22.5h0m0 9.5h0m0 12.5h0m0-5h0m0 72h0m0.5-79.5h0m0 13h0m0 20h0m0 41h0m0-49.5h0m0 13h0m0-20h0m0-17.5h0m0 7h0m0 38.5h0m0.5-25h0m0 3h0m0-1h0m0.5 32h0m0 8h0m0-38.5h0m0-13.5h0m0.5 3h0m0-27h0m0 29.5h0m0 22h0m0-1h0m0.5-28.5h0m0.5 14h0m0-9.5h0m0 11h0m0 24h0m0.5-18.5h0m0-25h0m0 8.5h0m0-7h0m0 20h0m0-11h0m0-25h0m0 18h0m0.5 32.5h0m0-45.5h0m0 2.5h0m0 32.5h0m0 43.5h0m0.5-43h0m0-28.5h0m0 13h0m0 20h0m0 25h0m0 0.5h0m0.5-63h0m0 13h0m0 6.5h0m0 6h0m0 15.5h0m0-7h0m0-11h0m0.5 40h0m0-35.5h0m0-38h0m0 36.5h0m0-12h0m0 7h0m0.5 50.5h0m0-33.5h0m0-44.5h0m0 35.5h0m0 8h0m0.5-22h0m0 32h0m0-33.5h0m0 29h0m0-31h0m0.5-6h0m0 41.5h0m0-58.5h0m0 87.5h0m0-54h0m0-47h0m0.5 20h0m0 8.5h0m0-33h0m0 93h0m0.5 28h0m0-83.5h0m0 30h0m0 38h0m0-61.5h0m0.5 27.5h0m0 8h0m0-65h0m0.5 48h0m0 20.5h0m0.5-25h0m0 2h0m0 26h0m0 2.5h0m0.5-35h0m0-46h0m0 39.5h0m0 7h0m0.5 2h0m0 4h0m0-22h0m0 18h0m0-37h0m0.5 93h0m0.5-65h0m0-3h0m0 45.5h0m0-38h0m0.5 8.5h0m0 50h0m0-77h0m0 23h0m0 7.5h0m0 14h0m0-65h0m0.5 30.5h0m0-30.5h0m0 64.5h0m0-31h0m0.5-4.5h0m0 21h0m0.5 20.5h0m0-46.5h0m0-29h0m0 23h0m0 38h0m0-8h0m0-26h0m0.5 28.5h0m0-17.5h0m0 10h0m0.5-21.5h0m0-13.5h0m0 39.5h0m0 6.5h0m0.5-11.5h0m0-40.5h0m0 56.5h0m0 9h0m0-40h0m0 11.5h0m0.5 1h0m0-6.5h0m0 8.5h0m0.5 24h0m0-10h0m0-58.5h0m0 37h0m0 2.5h0m0-22.5h0m0-35h0m0.5 84h0m0-11.5h0m0.5 0.5h0m0-17.5h0m0 38h0m0 11.5h0m0.5-12.5h0m0-12h0m0 23h0m0-35.5h0m0 10h0m0.5-45.5h0m0 21.5h0m0 34.5h0m0-3h0m0.5-6h0m0-18h0m0-40.5h0m0.5 29h0m0 34h0m0-61h0m0.5 48.5h0m0-27.5h0m0 5.5h0m0.5-15h0m0 61.5h0m0-29h0m0-4.5h0m0.5 62h0m0-79h0m0 23.5h0m0 12h0m0.5-12.5h0m0-2h0m0-39h0m0.5 18.5h0m0-2h0m0-8.5h0m0.5 35h0m0-44.5h0m0 61.5h0m0-1.5h0m0-28.5h0m0.5 7h0m0 8h0m0-73.5h0m0.5 59h0m0 33h0m0-32h0m0.5 40h0m0.5-19.5h0m0-24h0m0-0.5h0m0 31h0m0-26h0m0 25h0m0.5-77h0m0.5 44h0m0-28h0m0.5 49.5h0m0-12.5h0m0 32h0m0-52h0m0 56.5h0m0.5-8h0m0-43.5h0m0 53h0m0.5-9.5h0m0-50.5h0m0 33h0m0-6h0m0.5 6.5h0m0-11h0m0 29h0m0-32h0m0 14h0m0.5-15.5h0m0-8h0m0-32h0m0 56h0m0-12.5h0m0 8.5h0m0-5.5h0m0.5-17.5h0m0-8.5h0m0 24.5h0m0-38h0m0.5 18.5h0m0 22h0m0-6.5h0m0.5 5h0m0-32.5h0m0 19h0m0.5-14h0m0 52.5h0m0-26.5h0m0-1h0m0 18.5h0m0 14.5h0m0-59.5h0m0 37h0m0-32h0m0.5 2.5h0m0 10h0m0-7h0m0 37h0m0-13.5h0m0-34h0m0 13h0m0 2h0m0 41.5h0m0.5 4h0m0 25.5h0m0.5-98h0m0 35h0m0 55.5h0m0-46h0m0 7h0m0.5-7h0m0-9h0m0 56.5h0m0-79h0m0 79.5h0m0-54h0m0.5 53h0m0-66.5h0m0 14h0m1-30.5h0m0 30.5h0m0.5 16h0m0-7.5h0m0.5 0h0m0-16h0m0 26h0m0 2h0m0 47h0m0-81.5h0m0 43h0m0 13.5h0m0 1h0m0-33h0m0-4.5h0m0 7.5h0m1 9.5h0m0-27.5h0m0.5 13h0m0 19.5h0m0 1h0m0-21.5h0m0-26.5h0m0.5 39h0m0.5-23h0m0-14.5h0m0 31h0m0.5-24h0m0-7h0m0 16.5h0m0-42.5h0m0 44h0m0 13h0m0.5-18.5h0m0 0h0m0 1h0m0 33.5h0m0 30h0m0-81h0m0.5-56.5h0m0 105.5h0m0-57.5h0m0-19h0m0 65.5h0m0-17.5h0m0-19h0m0 41.5h0m0.5-57h0m0 74h0m0-58h0m0 26.5h0m0-24h0m0.5 52h0m0-56.5h0m0 3.5h0m0 37h0m0 21h0m0.5-39.5h0m0 8h0m0 17h0m0-24.5h0m0.5 18.5h0m0-56h0m0 18h0m0 37h0m0.5-12.5h0m0.5-27h0m0 8.5h0m0 43h0m0-63.5h0m0.5 16.5h0m0 51.5h0m0-16h0m0-28h0m0.5 5.5h0m0 16.5h0m0-50h0m0 76.5h0m0.5-63.5h0m0 20.5h0m0.5 20.5h0m0.5-25.5h0m0 47h0m0-39.5h0m0 3.5h0m0.5 42h0m0-59.5h0m0 4.5h0m0 39h0m0-51h0m0 23.5h0m0 16.5h0m0.5-9.5h0m0 14h0m0-20.5h0m0 14h0m0.5-41.5h0m0-7h0m0.5 88h0m0-56h0m0 45.5h0m0-73.5h0m0 27.5h0m0 17.5h0m0.5 41h0m0-17h0m0-55.5h0m0 53.5h0m0.5-16.5h0m0-7.5h0m0 37h0m0-44.5h0m0-5.5h0m0-50.5h0m0 67.5h0m0.5-52h0m0 60.5h0m0-66h0m0 27.5h0m0.5 57h0m0-47.5h0m0-8h0m0 33h0m0-62h0m0.5 64.5h0m0-15.5h0m0 12h0m0-37.5h0m0 8h0m0.5-32h0m0 89.5h0m0-48.5h0m0-33.5h0m1 24h0m0-27h0m0-1h0m0 29h0m0 0h0m0.5-7.5h0m0 54.5h0m0-57h0m0.5 33.5h0m0-33.5h0m0 25h0m0.5-54h0m0 32h0m0-16.5h0m0 64h0m0-37.5h0m0-16h0m0 49.5h0m0 15h0m0.5-43.5h0m0-10h0m0 23.5h0m0-2.5h0m0-35h0m0 1.5h0m0 102h0m0-92.5h0m0 29h0m0.5-20.5h0m0-73.5h0m0.5 88h0m0-21h0m0-1.5h0m0.5 50.5h0m0-33.5h0m0 0h0m0-60.5h0m0 66h0m0-8.5h0m0-18h0m0 7.5h0m0 23.5h0m0.5-36h0m0 21.5h0m0.5-45.5h0m0 28.5h0m0 2h0m0 14h0m0 66h0m0.5 18h0m0-115h0m0 70.5h0m0-11h0m0.5 9.5h0m0.5-7.5h0m0-28h0m0 14.5h0m0 12h0m0-51h0m0.5 24h0m0 11h0m0 36h0m0-23h0m0.5-47h0m0 36.5h0m0-13.5h0m0-4.5h0m0.5 6h0m0-9.5h0m0 26.5h0m0-2.5h0m0-12h0m0.5 11h0m0-37.5h0m0 37.5h0m0 0h0m0.5-19h0m0 13h0m0-26.5h0m0 25h0m0-26h0m0 67.5h0m0-61h0m0.5 29.5h0m0-19h0m0.5 27.5h0m0-38.5h0m0 16.5h0m0-22.5h0m0.5 19.5h0m0 9.5h0m0 50.5h0m0-20h0m0-62h0m0 28.5h0m0 23h0m0-124h0m0.5 129.5h0m0-14h0m0-14.5h0m0.5 0h0m0 14h0m0-28.5h0m0 28h0m0-0.5h0m0-19.5h0m0-34h0m0.5 43.5h0m0-20h0m0 19h0m0.5-14.5h0m0 11h0m0-11h0m0 33.5h0m0-49h0m0 56.5h0m0-28h0m0-14.5h0m0 37h0m0 32h0m0-85h0m0.5 9.5h0m0 19.5h0m0.5 11h0m0-7.5h0m0 10.5h0m0.5-28h0m0 42h0m0-20.5h0m0 48h0m0-74h0m0.5 14.5h0m0.5 6h0m0.5-14.5h0m0 33h0m0-54.5h0m0 14.5h0m0.5 67h0m0-55h0m0 1.5h0m0 36.5h0m0-51.5h0m0-26.5h0m0 32.5h0m0.5-18.5h0m0 71h0m0.5-32.5h0m0-21.5h0m0 36h0m0.5-1h0m0-56.5h0m0 43.5h0m0.5-31.5h0m0 45.5h0m0 7.5h0m0-8.5h0m0-16h0m0-10.5h0m1 40h0m0-48.5h0m0 68.5h0m0-65h0m0 5.5h0m0-36.5h0m0.5 65h0m0-36h0m0.5 6h0m0-4.5h0m0 24h0m0-40h0m0.5-4h0m0 26h0m0 5h0m0.5-8.5h0m0-8h0m0 73.5h0m0-77.5h0m0 11.5h0m0 14.5h0m0 25h0m0.5-25h0m0-77.5h0m0 106.5h0m0-43h0m0 1.5h0m0-6h0m0 0.5h0m0 34h0m0.5-12h0m0-3h0m0-14.5h0m0.5 21h0m0 1h0m0.5-21.5h0m0-20h0m0 67.5h0m0-18h0m0.5-51h0m0 33.5h0m0 9.5h0m0 10.5h0m0-5h0m0-27h0m0 16.5h0m0.5 40h0m0-46.5h0m0 18.5h0m0 6h0m0-16.5h0m0.5-26h0m0-9h0m0.5 32.5h0m0-4.5h0m0-7.5h0m0-37h0m0.5 10.5h0m0 29h0m0 39h0m0-55.5h0m0 9h0m0.5-15.5h0m0 67h0m0-20.5h0m0-53.5h0m0.5 22h0m0-14.5h0m0 22.5h0m0-5h0m0 45.5h0m0.5-68.5h0m0 12h0m0 9h0m0-1.5h0m0.5 12.5h0m0-5h0m0 17.5h0m0-61h0m0 39.5h0m0.5 2h0m0 53h0m0-43.5h0m0-39.5h0m0 33.5h0m0.5-24.5h0m0.5 31h0m0.5-34h0m0 42h0m0-22h0m0-23h0m0 19h0m0 51.5h0m0-78.5h0m0.5 29.5h0m0 22h0m0 7.5h0m0-40h0m0 32.5h0m0.5 11.5h0m0-36.5h0m0.5 33h0m0-55.5h0m0.5 57h0m0-13h0m0-37.5h0m0-14.5h0m0 75h0m0-51h0m0.5 54.5h0m0-21h0m0-7.5h0m0-1.5h0m0 6h0m0.5-14h0m0-27.5h0m0 32h0m0 2.5h0m0-10h0m0-22h0m0.5 1h0m0 10.5h0m0 11h0m0.5-17h0m0 51.5h0m0.5-42h0m0 19h0m0-32h0m0.5 30.5h0m0 1h0m0-4.5h0m0-30h0m0 43h0m0-29.5h0m0.5 30h0m0-28h0m0 5h0m0.5 27.5h0m0-21h0m0 0.5h0m0-26h0m0 38h0m0-3h0m0 11h0m0.5-4.5h0m0-2.5h0m0.5 5.5h0m0.5-17h0m0-20.5h0m0-10.5h0m0 20.5h0m0.5-5h0m0-9.5h0m0 37h0m0-66h0m0.5 72h0m0.5-32h0m0 23h0m0-19h0m0-2h0m0.5-44.5h0m0.5 26.5h0m0 20.5h0m0 0h0m0 15.5h0m0.5-16h0m0 30h0m0 13h0m0-53h0m0.5-20.5h0m0 21.5h0m0 101.5h0m0-70h0m0 13h0m0.5-33.5h0m0 18.5h0m0-20.5h0m0-54.5h0m0.5 32h0m0 19.5h0m0 46.5h0m0.5-64h0m0 17.5h0m0 7h0m0-5.5h0m0.5 8h0m0 44h0m0-78.5h0m0.5 53.5h0m0-11h0m0-10h0m0-13.5h0m0 1h0m0 53.5h0m0.5-4h0m0-64h0m0 13.5h0m0.5 18h0m0 8.5h0m0 18.5h0m0-41.5h0m0-21h0m0-5h0m0 24h0m0 45h0m0-47.5h0m0.5 23.5h0m0-19.5h0m0 13h0m0 26h0m0-10h0m0-18h0m0 9h0m0.5-32.5h0m0-12.5h0m0 41.5h0m0-26.5h0m0 18.5h0m0.5-7h0m0 7.5h0m0 44.5h0m0-27.5h0m0.5 100h0m0-109h0m0-5.5h0m0-2.5h0m0.5 60.5h0m0-38.5h0m0 21.5h0m0-4.5h0m0.5-24h0m0-15h0m0-17h0m0.5 18h0m0 31h0m0.5-5h0m0-36h0m0-3.5h0m0.5 23h0m0 9.5h0m0 16h0m0 26h0m0-88.5h0m0 2h0m0 3.5h0m0 37.5h0m0 11.5h0m0.5-17h0m0-3h0m0-20.5h0m0 9h0m0-3.5h0m0 24h0m0.5-36.5h0m0 33h0m0-6h0m0-28.5h0m0 18h0m0 82.5h0m0.5-44.5h0m0-15h0m0-0.5h0m0-65.5h0m0 33h0m0 99.5h0m0.5-82.5h0m0 25h0m0 11.5h0m0-96h0m0 64.5h0m0.5 18h0m0-28h0m0 35.5h0m0-33h0m0 2h0m0 8h0m0 15.5h0m0-30.5h0m0 20.5h0m0-9h0m0.5-6.5h0m0-17.5h0m0 11.5h0m0 8.5h0m0-39.5h0m0 7.5h0m0 30h0m0.5 8h0m0 14h0m0-39.5h0m0 8.5h0m0 25.5h0m0-3.5h0m0-21.5h0m1 55h0m0-79.5h0m0 31h0m0 9.5h0m0-23.5h0m0 35.5h0m0.5 18.5h0m0-21h0m0-12.5h0m0 15h0m0-25.5h0m0.5 20h0m0 7h0m0 7h0m0-70.5h0m0 27h0m0 29.5h0m0.5 5.5h0m0.5-15.5h0m0-14.5h0m0.5 9.5h0m0-20.5h0m0-3h0m0.5 39.5h0m0-28.5h0m0-9h0m0 74.5h0m0.5-57h0m0-14h0m0 22h0m0 76h0m0-79h0m0 28.5h0m0 18.5h0m0.5-23h0m0-38h0m0 12h0m0 34h0m0 9.5h0m0-101.5h0m0 91h0m0.5-34h0m0 15.5h0m0.5 14.5h0m0-35h0m0 23.5h0m0 48h0m0-14.5h0m0.5-78h0m0 46.5h0m0-54h0m0 7.5h0m0.5 51h0m0-43.5h0m0 12h0m0.5 17.5h0m0 11.5h0m0-47.5h0m0 9h0m0 18h0m0-29.5h0m0.5 52h0m0 2.5h0m0 10h0m0-51.5h0m0 33.5h0m0-48.5h0m0 34h0m0.5-21h0m0 30h0m0-15.5h0m0-32.5h0m0 67h0m0-71.5h0m0.5 81h0m0-9.5h0m0-3h0m0-18.5h0m0 11.5h0m0-34h0m0-4.5h0m0.5-37.5h0m0.5 71h0m0-45.5h0m0 19h0m0-7h0m0.5 41.5h0m0-14.5h0m0-56.5h0m0.5 59.5h0m0 8h0m0.5-34h0m0-13h0m0 37.5h0m0-70.5h0m0.5 62.5h0m0 11h0m0 21.5h0m0.5-85h0m0 42.5h0m0-28.5h0m0 35h0m0.5-25.5h0m0.5-9.5h0m0 22.5h0m0 28.5h0m0-35.5h0m0 11h0m0 3.5h0m0.5 63.5h0m0-28h0m0.5-130h0m0 93h0m0 24h0m0.5 11.5h0m0 13h0m0-9h0m0-46.5h0m0 8.5h0m0.5 49h0m0-62h0m0-10.5h0m0.5 33h0m0-17.5h0m0 5h0m0 3h0m0 23h0m0.5 22.5h0m0-52.5h0m0 7h0m0-3h0m0-3.5h0m0 30h0m0.5-35h0m0 62.5h0m0-73.5h0m0 54h0m0 30h0m0.5-31.5h0m0-31h0m0-11h0m0-12h0m0 23.5h0m0.5 7h0m0-15h0m0 44h0m0-38.5h0m0.5 10.5h0m0-10h0m0 19.5h0m0-5.5h0m0.5-38h0m0.5 1h0m0 51h0m0-3.5h0m0-19h0m0.5-39.5h0m0 59h0m0 5h0m0 33h0m0-56h0m0.5 1.5h0m0.5 35h0m0-46h0m0 34.5h0m0-29.5h0m0 20.5h0m0 12h0m0.5-43h0m0 27.5h0m0 7.5h0m0.5-32h0m0.5 32h0m0 0.5h0m0-26.5h0m0-13.5h0m0 41h0m0.5-24h0m0 12h0m0 43.5h0m0-57.5h0m0 44.5h0m0 22.5h0m0-47h0m0.5-38h0m0 23.5h0m0 8h0m0 1h0m0-9h0m0-32.5h0m0-26.5h0m0 47h0m0-31.5h0m0.5 20h0m0 15h0m0 24h0m0-20.5h0m0.5-10.5h0m0 16.5h0m0-48.5h0m0 53h0m0-21h0m0 18h0m0.5 1h0m0-10h0m0 54h0m0-57h0m0.5 17h0m0 13h0m0.5-12h0m0 55h0m0-72.5h0m0 7h0m0 0h0m0 27h0m0-42.5h0m0 10h0m0 0h0m0.5 27.5h0m0-4h0m0-5.5h0m0 10.5h0m0 2h0m0-27h0m0 8h0m0.5 13.5h0m0 32h0m0-65h0m0 24h0m0.5-20h0m0 16.5h0m0 8.5h0m0-13h0m0 61.5h0m0.5-45.5h0m0-69h0m0 48.5h0m0-13h0m0 83h0m0-75h0m0 22.5h0m0-24.5h0m0.5 12h0m0-5.5h0m0-1h0m0.5-13h0m0 53.5h0m0-19.5h0m0-7.5h0m0 21.5h0m0-9h0m0.5-20.5h0m0 12.5h0m0 1.5h0m0-38.5h0m0.5-3.5h0m0 29h0m0-22.5h0m0 48.5h0m0.5-9h0m0-34h0m0 33h0m0-25h0m0.5 41h0m0-46.5h0m0-10.5h0m0-86.5h0m0 163h0m0-93.5h0m0 47.5h0m0-30.5h0m0.5 39h0m0-15h0m0 27h0m0-2h0m0-58h0m0.5 20.5h0m0-15.5h0m0-24h0m0 38.5h0m0-6h0m0.5-12.5h0m0 69h0m0.5 40h0m0-97h0m0 38.5h0m0 30h0m1-46h0m0-12h0m0 20h0m0-7h0m0 26h0m0-24h0m0.5-27h0m0 10h0m0.5 9.5h0m0-21h0m0 16.5h0m0.5-43h0m0 64h0m0 8.5h0m0-6h0m0-54h0m0 19.5h0m0 27h0m0.5-76h0m0 71h0m0 15h0m0 1h0m0-45h0m0 55h0m0.5 10h0m0-30.5h0m0 16.5h0m0 4.5h0m0-2h0m0-55.5h0m0.5 61.5h0m0-40h0m0-1.5h0m0.5-16.5h0m0 13.5h0m0-8.5h0m0.5 17h0m0 25h0m0-35.5h0m0.5-16h0m0 47.5h0m0 39.5h0m0.5-69.5h0m0-21.5h0m0 24h0m0 27.5h0m0-14h0m0.5-21.5h0m0 11h0m0 3.5h0m0.5 31h0m0-52.5h0m0 53.5h0m0-62.5h0m0 54.5h0m0.5-5h0m0-26.5h0m0 12h0m0.5-5.5h0m0 8.5h0m0-2.5h0m0 16.5h0m0-56h0m0 23h0m0 57h0m0.5-63.5h0m0 19h0m0-43h0m0 101h0m0.5-28h0m0 1h0m0-7.5h0m0 17.5h0m0-15h0m0-57h0m0.5 9.5h0m0-12.5h0m0 14h0m0 42h0m0-28h0m0 9h0m0-0.5h0m0.5 33.5h0m0-19.5h0m0.5 36h0m0-21h0m0-45h0m0.5-7.5h0m0 11.5h0m0 19.5h0m0-21h0m0.5-16h0m0 51h0m0-24.5h0m0 50h0m0-53.5h0m0 100.5h0m0-107.5h0m0.5-93h0m0 92.5h0m0.5 71h0m0-29.5h0m0-6.5h0m0-16h0m0-22.5h0m0 62h0m0-42.5h0m0 4h0m0-17h0m0 10h0m0 6.5h0m0 11.5h0m0 2.5h0m0.5-15h0m0 10h0m0-49h0m0 37h0m0.5-19.5h0m0 11h0m0.5 49h0m0-50.5h0m0-9.5h0m0 32.5h0m0-41.5h0m0-8h0m0.5 46h0m0-8h0m0.5-22h0m0-5.5h0m0-4.5h0m0.5 13.5h0m0 80h0m0-82h0m0.5-5.5h0m0 26h0m0 28h0m0-85.5h0m0.5 30.5h0m0 37.5h0m0.5-28h0m0 25h0m0-23h0m0 11.5h0m0.5-23h0m0 15h0m0 12.5h0m0-6.5h0m0.5 47h0m0-41h0m0.5-23.5h0m0-5h0m0-9h0m0 36h0m0 9h0m0.5 5.5h0m0-69h0m0 9.5h0m0.5 65h0m0 46h0m0-42.5h0m0-4h0m0.5-33.5h0m0.5 0.5h0m0 22h0m0-30.5h0m0-15.5h0m0.5 42h0m0-35.5h0m0 2h0m0-33h0m0 73.5h0m0-1h0m0.5-11h0m0-24.5h0m0 4.5h0m0 11h0m0.5 10.5h0m0.5-13.5h0m0-4h0m0 4.5h0m0-15.5h0m0-2h0m0.5 31.5h0m0-20h0m0.5 17.5h0m0 14.5h0m0-37h0m0 28.5h0m0.5 0.5h0m0-10h0m0.5 48h0m0-54h0m0 51.5h0m0-17.5h0m0-24.5h0m0 21h0m0.5-24h0m0 44.5h0m0-27.5h0m0 32h0m0.5-64.5h0m0 1.5h0m0 82.5h0m0-62h0m0-15h0m0-15.5h0m0 36h0m0.5 14h0m0 5h0m0-23.5h0m0-25.5h0m0.5 29h0m0-16.5h0m0-32.5h0m0.5 56h0m0-35.5h0m0.5 4h0m0.5 31.5h0m0-19.5h0m0-13.5h0m0-19.5h0m0 83h0m0-85.5h0m0 50.5h0m0.5-11.5h0m0-26.5h0m0 21.5h0m0 2.5h0m0 14.5h0m0.5-5.5h0m0 27.5h0m0-16.5h0m0-41h0m0 56.5h0m0.5-26.5h0m0-47.5h0m0 79h0m0-56.5h0m0 12h0m0.5 15h0m0 12h0m0-14h0m0 36.5h0m0.5-66.5h0m0 14h0m0 4h0m0 51.5h0m0-5.5h0m0.5-71h0m0 57.5h0m0-30h0m0-61.5h0m0.5 86.5h0m0-66h0m0.5-6h0m0 69h0m0-2h0m0.5-24.5h0m0-20h0m0 28h0m0-21h0m0.5 14.5h0m0-6.5h0m0.5 8.5h0m0-25h0m0 10.5h0m0-88.5h0m0 120.5h0m0.5-52h0m0 51.5h0m0-10h0m0-28h0m0-2.5h0m0 3.5h0m0.5 13h0m0-9h0m0 41.5h0m0.5-44.5h0m0 30.5h0m0-22h0m0.5 27.5h0m0 3.5h0m0-42.5h0m0 13h0m0 16h0m0 19.5h0m0-20h0m0.5 14h0m0-23.5h0m0 0.5h0m0-65h0m0.5 23h0m0.5 25h0m0 38.5h0m0-4.5h0m0-21.5h0m0 36.5h0m0.5-13h0m0-53h0m0 60.5h0m0.5-20.5h0m0-9h0m0-7h0m0.5 23.5h0m0 10.5h0m0.5-33h0m0 24h0m0-92.5h0m0.5 72.5h0m0 31.5h0m0 4h0m0-36.5h0m0 34.5h0m0-30.5h0m0 9h0m0-16.5h0m0.5 106.5h0m0-94h0m0.5-2h0m0-7h0m0 43h0m0 20.5h0m0.5-72.5h0m0.5 27h0m0-16h0m0 18.5h0m0.5-17.5h0m0 56h0m0-56h0m0.5 35h0m0 2h0m0-36.5h0m0.5 44.5h0m0-34.5h0m0-12.5h0m0-10.5h0m0 32h0m0 2.5h0m0.5-40h0m0 26.5h0m0-34h0m0.5-12.5h0m0 83.5h0m0-68.5h0m0-0.5h0m0.5 39.5h0m0-52h0m0 37h0m0.5-2h0m0 0h0m0 30h0m0-1h0m0-5.5h0m0.5 25h0m0-60h0m0.5 24h0m0 38h0m0-42.5h0m0 47.5h0m0-33h0m0-46.5h0m0 23h0m0.5 21.5h0m0-3h0m0 1h0m0 0h0m0-37h0m0.5 30.5h0m0 9.5h0m0-4.5h0m0 26.5h0m0-46.5h0m0 61.5h0m0-17h0m0-9h0m0.5-32.5h0m0 22.5h0m0 24h0m0-11.5h0m0.5 26h0m0-92h0m0 25.5h0m0-42h0m0 56.5h0m0.5 13.5h0m0-14h0m0 30h0m0.5 2h0m0-68.5h0m0 39.5h0m0 1h0m0-49h0m0.5 70h0m0-35h0m0-34.5h0m0 41h0m0 16h0m0-14h0m0.5 20.5h0m0-8.5h0m0-31.5h0m0 39.5h0m0.5-52h0m0 14.5h0m0-15.5h0m0 61h0m0 42.5h0m0-80.5h0m0 44h0m0-33.5h0m0.5-14h0m0 6h0m0.5-5.5h0m0 8h0m0.5-13.5h0m0 9h0m0 2h0m0 41.5h0m0 12h0m0-5.5h0m0 28.5h0m0.5-121.5h0m0-10.5h0m0 81.5h0m0-3h0m0-29h0m0.5 15h0m0-88.5h0m0.5 88h0m0-18.5h0m0 88h0m0-66.5h0m0 16.5h0m0.5 35.5h0m0-45h0m0-15h0m0 11h0m0-25h0m0.5 98h0m0-116.5h0m0 12.5h0m0 59h0m0-59h0m0-6.5h0m0.5 24.5h0m0 2.5h0m0.5 19h0m0-8h0m0 7.5h0m0 20.5h0m0-59h0m0 45h0m0 29.5h0m0-33.5h0m0 1.5h0m0.5-14.5h0m0-5h0m0.5-17.5h0m0-8.5h0m0 55h0m0-20.5h0m0.5 11.5h0m0-32h0m0 25h0m0 9h0m0.5-15.5h0m0 13.5h0m0-55h0m0 44.5h0m0-50h0m0 34h0m0.5 20h0m0 19h0m0 5h0m0-36.5h0m0-7h0m0.5 20h0m0.5 19.5h0m0-10h0m0-12h0m0-14h0m0-15h0m0.5 7.5h0m0 20.5h0m0 8h0m0-71h0m0 65.5h0m0-13h0m0 23h0m0.5-22h0m0 29.5h0m0-37.5h0m0-5h0m0.5 57h0m0-47h0m0-7h0m0.5-44h0m0 32h0m0 83.5h0m0.5-53.5h0m0-2h0m0-24.5h0m0.5 23h0m0-5.5h0m0 21.5h0m0.5-1h0m0-38h0m0-3.5h0m0 10.5h0m0 37.5h0m0-38h0m0.5 24h0m0 18.5h0m0-59h0m0-6.5h0m0 13h0m0.5 9h0m0 53.5h0m0-57h0m0 28h0m0 6.5h0m0 3h0m0.5-49h0m0 33.5h0m0-26h0m0-8.5h0m0-2.5h0m0 20.5h0m0 6.5h0m0.5 55.5h0m0-11h0m0.5-87h0m0 41h0m0 24.5h0m0.5 10.5h0m0 25h0m0.5-47.5h0m0 16.5h0m0-8h0m0 13h0m0-45.5h0m0-14h0m0 76h0m0.5-72h0m0 34.5h0m0-25h0m0.5 26h0m0-17h0m0 41h0m0.5-46.5h0m0 4.5h0m0 8h0m0-17.5h0m0.5 3.5h0m0 27h0m0 8h0m0 27h0m0-64h0m0 52.5h0m0-17h0m0 7h0m0 0.5h0m0.5-8.5h0m0 1.5h0m0.5 28.5h0m0-43h0m0 3.5h0m0-5.5h0m0.5 22.5h0m0 23h0m0-86.5h0m0 78h0m0-17h0m0 35.5h0m0.5-51.5h0m0-32h0m0 58.5h0m0-32h0m0.5 15.5h0m0 7.5h0m0 25.5h0m0-61.5h0m1-41h0m0 86h0m0.5-39.5h0m0 4h0m0 7h0m0-22h0m0.5 30h0m0-8h0m0 8.5h0m0-62.5h0m0.5 23.5h0m0 97h0m0-103h0m0.5 70.5h0m0-7h0m0-40.5h0m0 14.5h0m0-5.5h0m0.5-44.5h0m0-5.5h0m0.5 76h0m0-33.5h0m1-9h0m0-2h0m0 39h0m0-12.5h0m0.5-2h0m0-2.5h0m0-1.5h0m0-25.5h0m0 34.5h0m0.5 23.5h0m0-46.5h0m0 19h0m0-6.5h0m0 2.5h0m0.5 17h0m0-23h0m0-27h0m0 56h0m0-55h0m0 15.5h0m0.5 11.5h0m0 16h0m0-18.5h0m0.5 20h0m0 5h0m0-27h0m0-10.5h0m0 13.5h0m0-12h0m0 15h0m0 60h0m0.5-57.5h0m0-22.5h0m0 53h0m0-12h0m0.5 11h0m0-61h0m0 27.5h0m0.5-3.5h0m0 29h0m0-56h0m0.5 64h0m0-47.5h0m0 65h0m0-52.5h0m0 32h0m0-10h0m0.5-31h0m0-12.5h0m0 30h0m0 0h0m0 3.5h0m0-30h0m0.5 2.5h0m0-17.5h0m0.5 40.5h0m0 29h0m0-22.5h0m0-30.5h0m0 15.5h0m0.5 20h0m0 26h0m0-68.5h0m0 48h0m0-20h0m0-9h0m0.5 36h0m0-16h0m0-23.5h0m0-2h0m0 73h0m0-75h0m0.5 9h0m0 74.5h0m0-68h0m0-160h0m0 176h0m0.5 5h0m0-5h0m0-13.5h0m0 55.5h0m0.5-76.5h0m0-27.5h0m0 110.5h0m0-75.5h0m0.5-11.5h0m0 57h0m0-2h0m0.5-12.5h0m0-9h0m0-24.5h0m0 41h0m0.5-12h0m0-37h0m0 18h0m0 0h0m0-5h0m0-34h0m0 0.5h0m0 44.5h0m0.5 10.5h0m0-18.5h0m0 37h0m0-72h0m0.5 40h0m0 22.5h0m0-23.5h0m0.5-25.5h0m0 53h0m0-16.5h0m0-10.5h0m0 45h0m0.5-79h0m0 22h0m0 9.5h0m0.5 28.5h0m0-40.5h0m0 20.5h0m0-44.5h0m0 44h0m0-20.5h0m0.5-15h0m0 33.5h0m0-18h0m0 8h0m0 4.5h0m0.5 13h0m0-9.5h0m0-53.5h0m0.5 51h0m0-31.5h0m0 13h0m0 10h0m0.5 25.5h0m0 26h0m0.5 21.5h0m0-62.5h0m0-43h0m0 34h0m0 50.5h0m0-16h0m0-11.5h0m0.5-8.5h0m0 13.5h0m0-51.5h0m0 4h0m0 37h0m0.5-21.5h0m0 5.5h0m0 16.5h0m0-28.5h0m0 35h0m0.5-16.5h0m0 11h0m0.5 9h0m0-18.5h0m0 9h0m0-20h0m0-16h0m0 13.5h0m0.5 26h0m0-19.5h0m0 19.5h0m0 52h0m0.5-67.5h0m0 16.5h0m0-15h0m0 25h0m0-19.5h0m0-19.5h0m0.5 20h0m0 2h0m0-5h0m0 1.5h0m0-2h0m0.5 12.5h0m0-25h0m0 32h0m0.5-10h0m0-29.5h0m0-4h0m0 36h0m0.5-7.5h0m0 15.5h0m0.5-19.5h0m0 0h0m0-36h0m0 9.5h0m0 38h0m0.5-17.5h0m0 3.5h0m0 17.5h0m0-39h0m0 4h0m0-11h0m0 36.5h0m0-7h0m0.5-41.5h0m0 102.5h0m0-41.5h0m0 10h0m0-21.5h0m0 23h0m0-51.5h0m0-9h0m0 23.5h0m0.5-8.5h0m0 24h0m0 15h0m0-32.5h0m0.5 11h0m0-9.5h0m0 9h0m0 27.5h0m0.5-11.5h0m0 8.5h0m0 35h0m0-53h0m0.5 4.5h0m0 2h0m0-21h0m0 18.5h0m0.5-42.5h0m0 2.5h0m0 32h0m0-1h0m0-3h0m0 19h0m0.5-2h0m0 4.5h0m0-18h0m0.5-13.5h0m0.5 13.5h0m0-42h0m0-60.5h0m0.5 86.5h0m0 6.5h0m0-24.5h0m0.5 12h0m0 2.5h0m0-20.5h0m0 47h0m0-19h0m0.5 38.5h0m0.5-47h0m0 49h0m0-46h0m0 12.5h0m0.5-31.5h0m0-13h0m0 68.5h0m0-31.5h0m0.5-7.5h0m0 27h0m0-48h0m0.5 51h0m0-7.5h0m0 0.5h0m0.5-31h0m0-9h0m0 44.5h0m0.5 14h0m0-8h0m0 7h0m0.5-18h0m0-18h0m0 43h0m0-14.5h0m0 19h0m0.5-49h0m0 20h0m0.5 21h0m0-48h0m0 39.5h0m0.5-19.5h0m0-30h0m0-14h0m0 61.5h0m0.5-47.5h0m0 56h0m0-19.5h0m0.5-13.5h0m0 29h0m0 10.5h0m0-33h0m0.5-17.5h0m0-21h0m0 47h0m0-26h0m0.5-13h0m0 36h0m0-29h0m0 69.5h0m0-103h0m0 81.5h0m0-38h0m0-42h0m0 111.5h0m0.5-80h0m0.5 92h0m0-104h0m0.5 26h0m0 39.5h0m0-45.5h0m0 85.5h0m0-55.5h0m0-45h0m0 36h0m0-29.5h0m0.5 58h0m0 1h0m0-14.5h0m0-44.5h0m0.5 27.5h0m0.5 37h0m0-53.5h0m0-14h0m0 5h0m0 53h0m0 4h0m0-67h0m0.5 8h0m0-7.5h0m0 53.5h0m0-37.5h0m0 36h0m0 0.5h0m0-22h0m0.5 48h0m0-58.5h0m0 40.5h0m0-39.5h0m0.5 0.5h0m0-4.5h0m0 50.5h0m0-11h0m0-3h0m0-4.5h0m0-18.5h0m0.5 36.5h0m0-9h0m0-12h0m0 63.5h0m0-67h0m0.5-33h0m0.5 10.5h0m0 40.5h0m0 12h0m0.5 8.5h0m0-14.5h0m0-45h0m0.5 16.5h0m0 37h0m0-42.5h0m0 34h0m0 11h0m0-12.5h0m0.5 11h0m0-32h0m0 15.5h0m0.5-85h0m0 89h0m0.5 5h0m0-36.5h0m0 33.5h0m0 7h0m0-27h0m0.5 1.5h0m0-25h0m0 12.5h0m0-6.5h0m0 4h0m0-19h0m0.5 49.5h0m0-12h0m0-33h0m0.5 20h0m0 8.5h0m0 0.5h0m0-22h0m0 10h0m0.5 11.5h0m0-17.5h0m0-12h0m0 8h0m0 31.5h0m0-20h0m0 7h0m0 10h0m0-20.5h0m0 12h0m0-30h0m0-18h0m0 67h0m0.5-60h0m0 7h0m0 26h0m0 19h0m0-27.5h0m0 2.5h0m0.5 3.5h0m0-22h0m0 53h0m0 14.5h0m0-39.5h0m0.5-6.5h0m0 13.5h0m0-6h0m0-20h0m0 13.5h0m0 8.5h0m0 9.5h0m0.5-59.5h0m0 28h0m0 13.5h0m0-14.5h0m0 38.5h0m0-14.5h0m0-40.5h0m0 89h0m0.5-84h0m0 31h0m0 1.5h0m0.5 10h0m0-29h0m1-0.5h0m0 22h0m0-28h0m0 2.5h0m0.5 32h0m0-135.5h0m0 150h0m0-54.5h0m0.5 48.5h0m0-29.5h0m0-24h0m0.5-9.5h0m0 61h0m0-64.5h0m0 19.5h0m0 6.5h0m0-42h0m0 76.5h0m0.5 10.5h0m0-20.5h0m0-22.5h0m0 58h0m0-39h0m0 1.5h0m0 2h0m0-19.5h0m0.5 15h0m0-50.5h0m0 50.5h0m0-31.5h0m0 58h0m0-26.5h0m0.5 10.5h0m0.5-27.5h0m0 36h0m0-20.5h0m0-5h0m0.5 15h0m0-30.5h0m0 66h0m0-77.5h0m0.5 33h0m0 15.5h0m0 19.5h0m0-67h0m0-10.5h0m0 26.5h0m0.5 40.5h0m0-35.5h0m0 12h0m0.5-9h0m0 7.5h0m0-10h0m0.5 28.5h0m0-38.5h0m0 74h0m0-82h0m0.5 26h0m0 5.5h0m0-10.5h0m0-11.5h0m0 58.5h0m0.5-69h0m0-47.5h0m0 109h0m0-42.5h0m0.5 30h0m0 9.5h0m0 1h0m0-41.5h0m0-23.5h0m0.5 33h0m0 26.5h0m0 12.5h0m0-90.5h0m0 72h0m0 29h0m0 6.5h0m0.5-1.5h0m0-66.5h0m0-12.5h0m0.5 26.5h0m0 8.5h0m0.5-17.5h0m0-18h0m0 41.5h0m0-17h0m0 7.5h0m0.5 34h0m0-24h0m0.5-40h0m0 82h0m0-50h0m0 24h0m0-44h0m0-19h0m0 60h0m0-47.5h0m0.5 12h0m0-4.5h0m0 29.5h0m0-7h0m0-26h0m0-8h0m0.5 1.5h0m0 88.5h0m0-46h0m0-37.5h0m0.5 18.5h0m0-7h0m0 3h0m0 12h0m0-16.5h0m0.5-28h0m0.5 37.5h0m0 47.5h0m0-24.5h0m0-3h0m0-14.5h0m0.5-4h0m0-3h0m0 20h0m0-9h0m0.5-18h0m0-3h0m0 3h0m0.5 3.5h0m0 15.5h0m0-35h0m0 49.5h0m0 7.5h0m0-30h0m0.5 44.5h0m0-73.5h0m0-34.5h0m0.5 41.5h0m0 13.5h0m0-38h0m0 73.5h0m0-61.5h0m0.5-33.5h0m0 105.5h0m0-70h0m0 25.5h0m0 13h0m0-53h0m0.5 34h0m0-48.5h0m0 50h0m0.5 8.5h0m0.5-18.5h0m0 17h0m0-32h0m0-10.5h0m0 50.5h0m0 102h0m0-98h0m0.5-11.5h0m0-25.5h0m0-0.5h0m0.5 26h0m0-2h0m0-25h0m0-15h0m0 49.5h0m0 24.5h0m0 1.5h0m0-40h0m0-21.5h0m0 20.5h0m0.5-50.5h0m0 50.5h0m0-19.5h0m0 4.5h0m0.5-11.5h0m0 56.5h0m0-74.5h0m0 46.5h0m0-25.5h0m0.5 5.5h0m0 35h0m0-10.5h0m0-20.5h0m0 38h0m0-26.5h0m0 11.5h0m0-3.5h0m0.5-14h0m0 13h0m0-4h0m0.5 6h0m0-19.5h0m0 44.5h0m0-9h0m0-27.5h0m0 34h0m0.5-33.5h0m0-10.5h0m0 22.5h0m0-7.5h0m0-13h0m0.5 20h0m0-4.5h0m0-24.5h0m0-8h0m0 83h0m0.5-52.5h0m0 9h0m0-35.5h0m0 59h0m0.5-39h0m0-10.5h0m0 4.5h0m0 37.5h0m0-36.5h0m0-22.5h0m0.5 64h0m0-34.5h0m0-45h0m0 66.5h0m0.5-18h0m0-9.5h0m0-18.5h0m0 49.5h0m0 1h0m0-31h0m0 25h0m0.5 20h0m0-4.5h0m0-16h0m0-40h0m0 33.5h0m0-19h0m0 36h0m0.5 10h0m0.5-33.5h0m0 34.5h0m0.5 21.5h0m0-50h0m0 4h0m0.5-13.5h0m0.5 33.5h0m0-40h0m0-22.5h0m0 75h0m0-55h0m0.5 50h0m0-23h0m0-1.5h0m0 32h0m0-47.5h0m0 41.5h0m0.5 12.5h0m0-71.5h0m0 89h0m0-51.5h0m0 19.5h0m0.5-66.5h0m0 9.5h0m0 35.5h0m0.5-57.5h0m0 26h0m0 9h0m0 94h0m0.5-87h0m0-17h0m0-25h0m0 29.5h0m0 3.5h0m0-32h0m0 67.5h0m0-1.5h0m0-35.5h0m1 12.5h0m0 74h0m0-105.5h0m0 79h0m0.5-57h0m0-11h0m0-27.5h0m0.5 72h0m0-48h0m0 25h0m0 0h0m0-27h0m0 5.5h0m0-21.5h0m0.5 97h0m0-72.5h0m0 33.5h0m0-11h0m0.5 5h0m0 38h0m0-78.5h0m0 11h0m0-9.5h0m0 73h0m0-70.5h0m0.5 20.5h0m0 46h0m0-58.5h0m0 23h0m0-9h0m0.5-40h0m0 63h0m0-13.5h0m0-33.5h0m0.5 28h0m0-23h0m0 48.5h0m0-7h0m0-38.5h0m0-43h0m0.5 70h0m0 22h0m0-19.5h0m0 14.5h0m0-19.5h0m0.5-21h0m0 3.5h0m0.5 17.5h0m0 28h0m0-18.5h0m0-6h0m0 25h0m0.5-29h0m0 12.5h0m0 23h0m0-54h0m0.5-1h0m0 40h0m0-34.5h0m0-20.5h0m0 30h0m0 43h0m0.5-68h0m0 3.5h0m0 31.5h0m0-0.5h0m0-16.5h0m0 11.5h0m0.5-26.5h0m0 74h0m0-42h0m0-37.5h0m0 79h0m0-18h0m0-29.5h0m0.5 16h0m0.5 7.5h0m0-36h0m0.5 11h0m0 23.5h0m0-44.5h0m0-0.5h0m0-3.5h0m0 27h0m0.5-24h0m0 21.5h0m0-0.5h0m0 22.5h0m0-79h0m0 92h0m0 9h0m0.5-25.5h0m0-69.5h0m0 61.5h0m0-7h0m0.5-63h0m0 34.5h0m0 31h0m0-74.5h0m0 90.5h0m0-30h0m0 50h0m0-21h0m0-41.5h0m0.5 36h0m0-43.5h0m0 1h0m0 63h0m0-22h0m0.5-18h0m0-6.5h0m0 45.5h0m0-57.5h0m0 31h0m0 1.5h0m0.5 55h0m0-75h0m0 64.5h0m0-13h0m0-61h0m0 11h0m0.5 10h0m0-9h0m0 1h0m0 19.5h0m0-127.5h0m0 74.5h0m0.5 65.5h0m0 23.5h0m0-77h0m0 115.5h0m0.5-97h0m0 2h0m0-20.5h0m0 58.5h0m0 27h0m0.5-68.5h0m0 19h0m0.5-14.5h0m0 13h0m0-54.5h0m0 90h0m0-36h0m0 4.5h0m0-8h0m0.5 47h0m0-74h0m0-3.5h0m0 2.5h0m0 45.5h0m0 20h0m0.5 1.5h0m0-7h0m0-88h0m0.5 90h0m0-5h0m0.5-23h0m0-29h0m0.5-10h0m0 44.5h0m0-13.5h0m0-37h0m0 47.5h0m0.5 16.5h0m0-60h0m0 24h0m0-20.5h0m0.5 40.5h0m0-23.5h0m0 10h0m0-7.5h0m0.5 27h0m0.5 5.5h0m0 8h0m0-36.5h0m0 6h0m0.5-5h0m0 1h0m0 4.5h0m0-35.5h0m0 2.5h0m0.5 38h0m0-63h0m0 32h0m0 39.5h0m0-11.5h0m0.5 13.5h0m0-29.5h0m0 19.5h0m0-28h0m0.5 36.5h0m0-3.5h0m0-26h0m0-22h0m0.5 7.5h0m0 35h0m0 1h0m0-11.5h0m0-8.5h0m0 0h0m0-10h0m0.5-23.5h0m0 71.5h0m0.5-9h0m0 6h0m0-47h0m0.5 68.5h0m0-40.5h0m0 12h0m0-36.5h0m0 1h0m0.5 29h0m0-6h0m0-11h0m0 26.5h0m0-53h0m0 24h0m0 37.5h0m0-15.5h0m0.5 18h0m0-38h0m0.5 26h0m0 5h0m0-40h0m0 21h0m0 20.5h0m0 1.5h0m0-2h0m0-83h0m0.5 67.5h0m0 14.5h0m0-59h0m0 41.5h0m0 10.5h0m0 13.5h0m0.5-31.5h0m0 3h0m0 19.5h0m0-26h0m0.5 31.5h0m0.5-13h0m0-104h0m0 102.5h0m0-22h0m0 15.5h0m0-7h0m0 33.5h0m0-49.5h0m0.5-11h0m0 10.5h0m0.5 55.5h0m0-20.5h0m0 2h0m0-28.5h0m0 33h0m0.5-11.5h0m0-45.5h0m0 25.5h0m0 19h0m0 4h0m0-37.5h0m0-14h0m0.5 47h0m0 27h0m0-44h0m0 22.5h0m0 21h0m0-54.5h0m0 14h0m0 23.5h0m0-5h0m0.5-19.5h0m0 10h0m0-1h0m0.5-46.5h0m0 28.5h0m0 58.5h0m0-35.5h0m0-23.5h0m0.5 5.5h0m0 31.5h0m0-8.5h0m0-14h0m0 17.5h0m0.5-21h0m0.5 31.5h0m0-4h0m0-26.5h0m0.5 43.5h0m0-61.5h0m0.5 46h0m0 16.5h0m0-51h0m0-11.5h0m0.5-13.5h0m0 8h0m0 16h0m0-13h0m0 9h0m0 55h0m0-60h0m0.5 27h0m0 18h0m0-29.5h0m0-8h0m0 35.5h0m0 11h0m0-50.5h0m0-4h0m0.5 73.5h0m0-47h0m0.5 40h0m0.5-57h0m0 15.5h0m0.5-27.5h0m0 0.5h0m0 17.5h0m0.5-20h0m0 55h0m0.5 20.5h0m0-49.5h0m0-2h0m0.5 16h0m0-38.5h0m0 7h0m0 42h0m0.5-52h0m0 67h0m0-30h0m0.5-51h0m0 84.5h0m0-33.5h0m0.5-43h0m0 16.5h0m0 1h0m0-64.5h0m0 123.5h0m0.5-50h0m0 40.5h0m0-45h0m0 7h0m0-4h0m0 11.5h0m0.5 21.5h0m0-41h0m0 9h0m0-41h0m0-2.5h0m0 82h0m0.5-37.5h0m0-112.5h0m0 72.5h0m0 59.5h0m0-3h0m0.5-9h0m0-17.5h0m0-0.5h0m0 8.5h0m0 85h0m0-93h0m0-4.5h0m0.5 42.5h0m0 14.5h0m0-26h0m0-21.5h0m1 7h0m0-10.5h0m0.5-6h0m0 35.5h0m0 13.5h0m0.5-42.5h0m0 35h0m0-6h0m0.5-17.5h0m0 36.5h0m0-7h0m0.5-51h0m0 49.5h0m0.5-15.5h0m0 7.5h0m0-57h0m0 7h0m0 14h0m0.5 41.5h0m0 2h0m0-62h0m0 60.5h0m0-5h0m0.5-20.5h0m0 75.5h0m0-105h0m0.5 10.5h0m0 11.5h0m0 20h0m0-55h0m0 13.5h0m0 39h0m0.5-48h0m0 31.5h0m0 38h0m0-65.5h0m0 6h0m0 43h0m0.5 23h0m0-3.5h0m0-55.5h0m0 60h0m0-15.5h0m0.5-36h0m0 13.5h0m0 9h0m0-30h0m0 38h0m0-20h0m0 22h0m1-3.5h0m0-16h0m0 5.5h0m0 33h0m0-25.5h0m0.5-16.5h0m0 23.5h0m0-36.5h0m0 34h0m0.5 19h0m0 8h0m0-43h0m0 11h0m0 38.5h0m0-108.5h0m0 11h0m0 36h0m0 6.5h0m0.5 47h0m0 8.5h0m0-44h0m0-2.5h0m0-14h0m0.5 16.5h0m0-29h0m0 20.5h0m0 13.5h0m0-35h0m0 18.5h0m0-7.5h0m0.5 14h0m0 8.5h0m0 12.5h0m0-3.5h0m0-35.5h0m0 23h0m0.5 4h0m0 1h0m0 3h0m0-24h0m0 13h0m0.5-47.5h0m0.5 61h0m0-3h0m0-9.5h0m0 24h0m0-37.5h0m0.5 8.5h0m0 34.5h0m0.5-2h0m0-13h0m0-23h0m0 40h0m0.5-13h0m0-56h0m0-22.5h0m0.5 59.5h0m0 49.5h0m0.5-30.5h0m0-86h0m0 44h0m0 12.5h0m0-26.5h0m0 77h0m0.5-37.5h0m0-2.5h0m0 20h0m0-15.5h0m0-34h0m0 17.5h0m0.5 13h0m0 5h0m0-25.5h0m0 51h0m0.5 26h0m0-58h0m0 4h0m0-2.5h0m0.5 13.5h0m0-8h0m0-75.5h0m0 125h0m0.5-48h0m0-87h0m0 33.5h0m0-4.5h0m0 101.5h0m0-74h0m0 15h0m0.5 19h0m0-43.5h0m0 32.5h0m0-22.5h0m0.5 21h0m0-4.5h0m0.5 31.5h0m0-61.5h0m0 58.5h0m0-11.5h0m0.5 9h0m0-32.5h0m0-5h0m0 14.5h0m0-11h0m0.5 27.5h0m0-47h0m0 51.5h0m0-13.5h0m0-46h0m0 59h0m0.5 8.5h0m0-28h0m0-30h0m0-8.5h0m0.5 27.5h0m0 15h0m0-5.5h0m0-2.5h0m0-32.5h0m0.5 21h0m0-6.5h0m0-7h0m0 11.5h0m0 81h0m0-113h0m0 50.5h0m0.5-1h0m0-35h0m0 76h0m0-52.5h0m0-7h0m0.5 5.5h0m0.5 14.5h0m0-7h0m0-36h0m0 63.5h0m0-23h0m0 35.5h0m0-3h0m0-51h0m0.5-8.5h0m0 53.5h0m0-40.5h0m0-7.5h0m0-0.5h0m0 7h0m0-21h0m0.5 12.5h0m0 35.5h0m0 22h0m0-58.5h0m0.5 43.5h0m0-7.5h0m0-18.5h0m0.5 47.5h0m0 0.5h0m0-24h0m0-52.5h0m0.5 7.5h0m0 63.5h0m0-37h0m0 13.5h0m0.5 40h0m0-24.5h0m0-20.5h0m0 26.5h0m0.5-7h0m0-25h0m0-35h0m0 79h0m0-72h0m0.5 24h0m0 23.5h0m0 7h0m0 4.5h0m0-49h0m0 13h0m0 3.5h0m0.5-44h0m0 19.5h0m0-6.5h0m0 12.5h0m0.5 21.5h0m0-14.5h0m0 2.5h0m0-18h0m0.5 10.5h0m0-6.5h0m0 25h0m0 22.5h0m0-52.5h0m0 9h0m0 14.5h0m0-17h0m0 30.5h0m0.5 30h0m0-38h0m0 25.5h0m0 24.5h0m0-13.5h0m0-69.5h0m0 38h0m0 10.5h0m0.5-27.5h0m0.5 16.5h0m0-14h0m0-31h0m0-3h0m0.5-10.5h0m0 66h0m0-43h0m0 53.5h0m0.5-37.5h0m0 22h0m0 48.5h0m0.5-89.5h0m0 62.5h0m0-34h0m0.5 4h0m0-0.5h0m0 20h0m0-16h0m0 17h0m0-52.5h0m0.5 64h0m0-33.5h0m0-29h0m0 36.5h0m0 23.5h0m0.5-17.5h0m0-3.5h0m0 7.5h0m0 9.5h0m0-40.5h0m0.5 55h0m0-55.5h0m0 47h0m0.5-48h0m0 54.5h0m0.5-40.5h0m0-3.5h0m0-11h0m0-24h0m0.5 11h0m0 66.5h0m0-55.5h0m0 25.5h0m0-16.5h0m0.5-18h0m0-20h0m0 52.5h0m0.5 10h0m0-43.5h0m0-20.5h0m0 111h0m0.5-77.5h0m0-11.5h0m0.5-3.5h0m0 36h0m0 16.5h0m0 30.5h0m0-44h0m0.5-33h0m0 31h0m0 28h0m0.5-46.5h0m0 36.5h0m0-57h0m0 47.5h0m0.5-1.5h0m0 26.5h0m0-51h0m0 19h0m0.5 40h0m0-17.5h0m0.5-39.5h0m0-6h0m0 11h0m0 1h0m0.5-9h0m0 39.5h0m0-21h0m0 42.5h0m0-63.5h0m0 43h0m0-8h0m0.5-10h0m0-10h0m0 36h0m0-73.5h0m0.5 4.5h0m0 43h0m0 72.5h0m0-51h0m0-56h0m0.5 74.5h0m0-29.5h0m0-40.5h0m0-18.5h0m0.5 41h0m0-10.5h0m0 31.5h0m0.5-51h0m0 42.5h0m0 14.5h0m0-43h0m0-13.5h0m0 61.5h0m0.5-51.5h0m0 39.5h0m0 31h0m0.5-47.5h0m0 17.5h0m0.5-8.5h0m0-10h0m0.5 22h0m0 23.5h0m0-37.5h0m0.5 14.5h0m0-38h0m0 16h0m0.5 12.5h0m0-9.5h0m0 0.5h0m0.5-28.5h0m0 38h0m0-2h0m0.5 20.5h0m0-50.5h0m0 2h0m0 26.5h0m0-11h0m0 1.5h0m0.5-1h0m0-28.5h0m0 23h0m0-19.5h0m0.5 31h0m0-28.5h0m0 42h0m0-47h0m0.5 48h0m0-28h0m0.5 8h0m0-26h0m0 10h0m0-44h0m0.5 139.5h0m0-76.5h0m0 13h0m0.5-26.5h0m0-42.5h0m0.5 30.5h0m0 52.5h0m0-13h0m0.5-29h0m0-31.5h0m0 72.5h0m0-14h0m0-52.5h0m0.5 39.5h0m0 8h0m0 12h0m0-29.5h0m0.5 2.5h0m0 43.5h0m0.5-18h0m0-63.5h0m0 33h0m0 21.5h0m0.5-28h0m0-11h0m0 10h0m0.5 1.5h0m0 5h0m0-9h0m0-36.5h0m0 89h0m0-36.5h0m0.5 5h0m0-16h0m0.5-44h0m0 49h0m0 3h0m0 11.5h0m0 24h0m0-38h0m0 51h0m0.5-64.5h0m0 32h0m0-73.5h0m0 105h0m0.5-43.5h0m0-22.5h0m0 14.5h0m0 5.5h0m0 64h0m0.5-58.5h0m0-14.5h0m0 43.5h0m0-41.5h0m0 1.5h0m0.5 29.5h0m0-30h0m0 8.5h0m0 15h0m0-36h0m0 37.5h0m0-8h0m0-19h0m0-4h0m0.5 14.5h0m0-29h0m0 12h0m0 25.5h0m0 9.5h0m0.5-41.5h0m0 35h0m0-17h0m0.5-16.5h0m0 30h0m0-30.5h0m0 79.5h0m0-64h0m0.5 9h0m0-37h0m0 13h0m0.5 26.5h0m0 37.5h0m0-51h0m0 41.5h0m0.5-75h0m0 34.5h0m0.5 17.5h0m0-9.5h0m0-4.5h0m0.5 21.5h0m0-68h0m0 26.5h0m0 77.5h0m0.5-12.5h0m0-23h0m0-60.5h0m0 62h0m0.5-60.5h0m0 59h0m0-16.5h0m0-26h0m0 69h0m0-34.5h0m0.5 4h0m0-12h0m0-29h0m0.5 3h0m0 30h0m0.5 11h0m0 15.5h0m0-7h0m0-29h0m0.5-40h0m0 50h0m0-18h0m0-1h0m0 27.5h0m0.5-5h0m0 22h0m0-30h0m0 17.5h0m0.5 28h0m0-4.5h0m0-56.5h0m0 8.5h0m0-28h0m0 26.5h0m0-46h0m0 3h0m0.5 54h0m0 15.5h0m0 8h0m0-36h0m0 7h0m0 22h0m0.5 27h0m0-80h0m0-7h0m0 27.5h0m0-45h0m0.5 51h0m0 9.5h0m0-14.5h0m0-5.5h0m0 1h0m0 14.5h0m0.5 10h0m0-22.5h0m0 2.5h0m0.5 14h0m0 21.5h0m0-35h0m0 7.5h0m0 65h0m0-79.5h0m0.5-6.5h0m0 30.5h0m0 32.5h0m0.5-64.5h0m0 47.5h0m0-24h0m0 13.5h0m0-64h0m0 68.5h0m0 31h0m0.5-28h0m0-32h0m0 43h0m0.5-47h0m0 5.5h0m0 22h0m0 3h0m0-17h0m0 44.5h0m0.5-32h0m0-48.5h0m0 83.5h0m0-24.5h0m0-36h0m0-23.5h0m0.5 68.5h0m0-3.5h0m0 14.5h0m0 14.5h0m0.5-76h0m0-4.5h0m0 38.5h0m0 19.5h0m0.5-35.5h0m0 17.5h0m0 37.5h0m0-72h0m0 17.5h0m0 65.5h0m0.5-51h0m0-4h0m0-13.5h0m0-22.5h0m0-11h0m0 12h0m0 36.5h0m0.5 13h0m0-41h0m0 24.5h0m0-2.5h0m0.5-57.5h0m0 43.5h0m0 34h0m0-26.5h0m0-44.5h0m0 64h0m0.5-36.5h0m0 6.5h0m0 11h0m0 10.5h0m0-36h0m0 64.5h0m0.5-38.5h0m0-16.5h0m0 26h0m0 48h0m0-69h0m0 28.5h0m0-2.5h0m0.5-33h0m0 8.5h0m0 9.5h0m0-12.5h0m0 0h0m0 30.5h0m0.5 11.5h0m0-69h0m0 34.5h0m0.5 56h0m0-61.5h0m0 10.5h0m0-8h0m0.5 37.5h0m0 2h0m0-14.5h0m0 10.5h0m0 7h0m0-4h0m0-30h0m0.5-22.5h0m0-4.5h0m0-7.5h0m0 47h0m0.5-21.5h0m0 20.5h0m0 0h0m0 54h0m0-68.5h0m0.5-13.5h0m0 29h0m0-18h0m0 12h0m0-22.5h0m0.5 56.5h0m0-27.5h0m0-3h0m0-1.5h0m0-17.5h0m0-19h0m0.5 6.5h0m0 13.5h0m0 38.5h0m0-1.5h0m0-64.5h0m0.5 69h0m0 23.5h0m0-64.5h0m0.5 20h0m0 5.5h0m0 1h0m0-37.5h0m0.5 14.5h0m0 12.5h0m0-18h0m0.5-5.5h0m0 25h0m0 20.5h0m0-95.5h0m0 51h0m0.5 12h0m0 15h0m0-25.5h0m0-20h0m0-65h0m0.5 140.5h0m0-36h0m0-4h0m0 5h0m0-13h0m0 48h0m0.5-32.5h0m0.5-43.5h0m0 55.5h0m0.5-50h0m0 28h0m0 1.5h0m0-40h0m0.5 11.5h0m0 53h0m0-28.5h0m0 43.5h0m0-87.5h0m0.5 69.5h0m0-28.5h0m0 25.5h0m0-18.5h0m0.5-26.5h0m0-3h0m0 58h0m0-72.5h0m0 5h0m0 67.5h0m0.5 6h0m0-39.5h0m0.5-34.5h0m0 79h0m0-76h0m0.5 54.5h0m0 17.5h0m0-74h0m0 5.5h0m0 12h0m0 5.5h0m0 55.5h0m0.5-52h0m0 26.5h0m0 36.5h0m0-93.5h0m0.5 5h0m0 17h0m0 4h0m0 26.5h0m0.5-36h0m0 35h0m0 5.5h0m0.5-28.5h0m0 11.5h0m0-4h0m0-29.5h0m0 61h0m0.5 12.5h0m0-11h0m0-40.5h0m0-3.5h0m0.5 19h0m0-27.5h0m0 19.5h0m0-11.5h0m0 18h0m0.5-31h0m0 50.5h0m0-27h0m0-18.5h0m0.5 53h0m0-33h0m0-7h0m0-5.5h0m0.5 32h0m0-44h0m0 52h0m0 9.5h0m0.5-9.5h0m0-24h0m0-24.5h0m0.5 42h0m0-21.5h0m0-23h0m0 63h0m0-48.5h0m0 15h0m0.5 3h0m0 47h0m0-54h0m0-35.5h0m0 23.5h0m0-1h0m0-34h0m0 77.5h0m0 38h0m0.5-40.5h0m0-44h0m0 39h0m0-51.5h0m0 65.5h0m0-53h0m0 0.5h0m0 36h0m0-6.5h0m0.5 7h0m0 3h0m0 12h0m0-33h0m0.5-27h0m0-12h0m0 57h0m0 38h0m0-28.5h0m0-22h0m0.5 18.5h0m0.5 8.5h0m0-53.5h0m0 51.5h0m0-13.5h0m0-31h0m0 0.5h0m0.5-2h0m0 31.5h0m0 53.5h0m0-102h0m0 22.5h0m0.5-28h0m0 27.5h0m0-28h0m0 60h0m0-20.5h0m0-16h0m0 11h0m0 32h0m0-14.5h0m0.5-37.5h0m0 19.5h0m0-48h0m0 42.5h0m0-32.5h0m0 22h0m0 38h0m0.5-31.5h0m0-7.5h0m0 19.5h0m0-3.5h0m0 0.5h0m0.5-32h0m0 68.5h0m0-15.5h0m0-10h0m0-16h0m0-26.5h0m0.5 81.5h0m0-36.5h0m0-64.5h0m0 66h0m0.5-42h0m0 39.5h0m0-73h0m0 51.5h0m0-15.5h0m0 45h0m0.5 4.5h0m0-32.5h0m0.5 45.5h0m0-18h0m0 19.5h0m0-67.5h0m0 20h0m0.5-33.5h0m0 34.5h0m0 25.5h0m0.5-2.5h0m0 16.5h0m0 0h0m0.5-43h0m0 26.5h0m0 0h0m0 29.5h0m0-48.5h0m0.5-17.5h0m0 17.5h0m0-13.5h0m0 23.5h0m0.5 6h0m0 58.5h0m0-76.5h0m0 19h0m0.5-59h0m0 70.5h0m0-37.5h0m0 1.5h0m0-26h0m0 52h0m0.5-57h0m0 45.5h0m0 10h0m0-27.5h0m0 65.5h0m0.5-39.5h0m0-42h0m0 77.5h0m0 21.5h0m0-103h0m0.5 38h0m0 12h0m0-9.5h0m0 26.5h0m0-21h0m0 2h0m0 13.5h0m0.5-57h0m0 31.5h0m0.5-56h0m0 34h0m0.5-3h0m0 15.5h0m0.5 30h0m0-31.5h0m0 26h0m0-26.5h0m0-41h0m0 28h0m0 7h0m0 10.5h0m0.5 29.5h0m0-20.5h0m0 9h0m0-45h0m0 58.5h0m0 22h0m0-48.5h0m0.5 26h0m0-21h0m0-4.5h0m0 2h0m0 18h0m0.5-45.5h0m0 39h0m0.5-24h0m0 45h0m0-46h0m0 12h0m0-21.5h0m0 37.5h0m0 21.5h0m0-97h0m0 73h0m0-15.5h0m0.5 7.5h0m0-13h0m0-10h0m0 53.5h0m0.5-31h0m0-28.5h0m0.5 7.5h0m0-16.5h0m0 62h0m0-12h0m0-62h0m0.5 25h0m0.5 20h0m0 7h0m0-8.5h0m0-17h0m0.5 24h0m0-3.5h0m0-18h0m0 33h0m0-38h0m0.5-16h0m0 15.5h0m0 128.5h0m0.5-120.5h0m0 10h0m0-19h0m0 31.5h0m0.5-39h0m0-1.5h0m0 12h0m0.5-28.5h0m0 14h0m0 64h0m0-16.5h0m0.5 1.5h0m0-25h0m0.5 20h0m0-46.5h0m0 44.5h0m0-2h0m0-31.5h0m0-13h0m0 22h0m0.5 54.5h0m0-58.5h0m0-6h0m0.5 61h0m0-13.5h0m0-45h0m0 47h0m0-5h0m0.5 10.5h0m0-42.5h0m0 26.5h0m0-19.5h0m0 56.5h0m0.5-83.5h0m0 10.5h0m0 22.5h0m0-14h0m0.5 9h0m0 36h0m0.5-26h0m0 6.5h0m0 41h0m0-78.5h0m0 87h0m0-86.5h0m0.5 16h0m0 29.5h0m0 14h0m0-28h0m0 51h0m0-130h0m0 93.5h0m0.5 11h0m0-113h0m0 138.5h0m0-23h0m0-8.5h0m0 17h0m0-56h0m0-4h0m0 23.5h0m0-8h0m0-43.5h0m1 48.5h0m0 16.5h0m0.5 47h0m0-36.5h0m0-29h0m0 1h0m0.5-18.5h0m0 24.5h0m0-62h0m0 82h0m0-34.5h0m0 18h0m0.5 3.5h0m0 11.5h0m0.5-13.5h0m0 45.5h0m0-79.5h0m0 3h0m0 16h0m0.5 5.5h0m0-6h0m0 8.5h0m0.5-25.5h0m0.5 96h0m0-47.5h0m0-45h0m0.5 15.5h0m0 7h0m0-27.5h0m0 43h0m0-61h0m0 70h0m0.5-27.5h0m0-6h0m0.5 40.5h0m0-63h0m0 58h0m0-33h0m0 29h0m0.5-17h0m0 3.5h0m0-4h0m0 26h0m0-56h0m0 17h0m0.5 30h0m0-10.5h0m0-10.5h0m0.5-18.5h0m0 8h0m0-32h0m0 43.5h0m0.5 22h0m0-27.5h0m0 13.5h0m0-7.5h0m0 8h0m0.5 9.5h0m0-55.5h0m0 11.5h0m0 39.5h0m0-48h0m0.5 55.5h0m0-49.5h0m0 42h0m0 3h0m0-37h0m0 13.5h0m0-48h0m0 79.5h0m0-45h0m0.5-18h0m0 69.5h0m0-49h0m0.5 36.5h0m0-28h0m0 4.5h0m0 2h0m0-61h0m0.5 53h0m0 28.5h0m0-67h0m0 48h0m0.5-2h0m0-37h0m0-8h0m0 57.5h0m0-16.5h0m0 34.5h0m0-37.5h0m0 5.5h0m0 10.5h0m0.5 15.5h0m0-9h0m0 31.5h0m0.5-26.5h0m0 12h0m0-20h0m0-22.5h0m0.5 11h0m0 25.5h0m0-82.5h0m0 96.5h0m0-68.5h0m0.5 29.5h0m0-51.5h0m0 61h0m0 36h0m0-47.5h0m0.5-18h0m0 17.5h0m0-12h0m0 6h0m0 22.5h0m0-9h0m0.5 30h0m0-33h0m0-0.5h0m0-22.5h0m0 13.5h0m0 16.5h0m0.5-53.5h0m0 72.5h0m0-38.5h0m0.5 39h0m0-16h0m0 17.5h0m0-55.5h0m0.5 72h0m0-46h0m0.5-56.5h0m0 18.5h0m0 44.5h0m0-27h0m0 16h0m0-49.5h0m0.5 83.5h0m0-19h0m0 12h0m0.5-39h0m0 13h0m0 2h0m0 20h0m0-11.5h0m0.5-32h0m0 104h0m0-52h0m0.5 20h0m0-37h0m0-2h0m0-34h0m0-7h0m0 29.5h0m0-27.5h0m0 67.5h0m0-18.5h0m0.5-16.5h0m0 29h0m0-35h0m0-43h0m0.5 72.5h0m0 12.5h0m0-41h0m0.5-10h0m0-16h0m0 77h0m0-76h0m0 61.5h0m0-72.5h0m0 12h0m0 14.5h0m0 29h0m0.5 10.5h0m0-15h0m0.5-45.5h0m0-7.5h0m0 54h0m0.5 13h0m0-37.5h0m0-16.5h0m0 32h0m0.5-52.5h0m0 10.5h0m0 9.5h0m0-19h0m0.5 17h0m0 37h0m0 12.5h0m0-15.5h0m0.5-20.5h0m0 22h0m0-31h0m0 25h0m0 14h0m1 18h0m0-27.5h0m0-26.5h0m0.5 39.5h0m0-14h0m0 19.5h0m0-34h0m0-20.5h0m0.5 19.5h0m0 11.5h0m0-1h0m0-47.5h0m1 82.5h0m0.5-44.5h0m0-3.5h0m0.5-14.5h0m0 7.5h0m0 44.5h0m0.5 39.5h0m0-78.5h0m0 49h0m0-53.5h0m0 34h0m0.5-18.5h0m0 51.5h0m0-78h0m0-21h0m0 59.5h0m0 19h0m0-27.5h0m0-23h0m0.5 22.5h0m0 18.5h0m0-44.5h0m0 39.5h0m0.5-2.5h0m0 36h0m0-25h0m0 17.5h0m0-65h0m0 34.5h0m0 20.5h0m0-19h0m0 31h0m0.5 15h0m0-72.5h0m0 47.5h0m0-51h0m0 23.5h0m0 19h0m0 4.5h0m0-14.5h0m0 1h0m0-40h0m0.5 12h0m0.5 35.5h0m0-14h0m0-5h0m0-38.5h0m0 59h0m0-58h0m0 82h0m0 10.5h0m0.5-79h0m0 19h0m0 14h0m0-50h0m0 66.5h0m0.5-81h0m0 56h0m0-13.5h0m0 32h0m0.5-44.5h0m0 15.5h0m0 68.5h0m0-64h0m0.5 19.5h0m0-47.5h0m0 19.5h0m0-2h0m0 2.5h0m0 24.5h0m0-11h0m0 1.5h0m0.5 27.5h0m0-15h0m0-106.5h0m0 97.5h0m0 0.5h0m0 27.5h0m0-45.5h0m0-8.5h0m0.5 40h0m0.5 8.5h0m0-9.5h0m0-6.5h0m0 2.5h0m0 24h0m0-65.5h0m0 7.5h0m0 22.5h0m0 11h0m0.5 18h0m0-30.5h0m0 1.5h0m0-6h0m0.5 24h0m0 2h0m0-2.5h0m0 9h0m0 8h0m0-41.5h0m0 34h0m0.5-81.5h0m0.5 39.5h0m0 22h0m0 26h0m0.5-29h0m0 8.5h0m0-24.5h0m0 47.5h0m0-55h0m0.5-7.5h0m0 4.5h0m0-12h0m0 60.5h0m0.5 16.5h0m0-20h0m0-25.5h0m0-22.5h0m0.5 35.5h0m0 4.5h0m0.5-69h0m0 78h0m0-42h0m0.5 2h0m0-15.5h0m0 63.5h0m0-5.5h0m0-35h0m0.5-5.5h0m0 59.5h0m0-83.5h0m0 29.5h0m0.5-32.5h0m0 65h0m0-72h0m0 57h0m0 16.5h0m0-82h0m0.5 60h0m0 5.5h0m0.5 5h0m0-15h0m0 14h0m0-38.5h0m0 70.5h0m0-41.5h0m0.5-12.5h0m0-3h0m0 19h0m0-10h0m0 38h0m0.5-53h0m0 6.5h0m0 33h0m0-11.5h0m0 12h0m0.5-10.5h0m0-31.5h0m0-21.5h0m0 60h0m0-9.5h0m0 14h0m0-41.5h0m0 37h0m0.5-10h0m0-19.5h0m0 19.5h0m1-52.5h0m0 98h0m0-84h0m0.5 1.5h0m0 68h0m0-35.5h0m0.5 21.5h0m0.5-38.5h0m0-3.5h0m0 48.5h0m0-34h0m0 14.5h0m0-10.5h0m0 66h0m0-49h0m0.5 36h0m0-28h0m0.5-52h0m0 39.5h0m0 27h0m0 7h0m0.5-18h0m0-14.5h0m0-33.5h0m0 20.5h0m0 24.5h0m0.5-37.5h0m0 0.5h0m0.5-14h0m0.5 1.5h0m0 21h0m0-7.5h0m0 8h0m0 8h0m0-23h0m0.5-21h0m0 28h0m0 20.5h0m0-33h0m0 31h0m0.5-56h0m0 50.5h0m0.5-35.5h0m0 23h0m0-5.5h0m0 48.5h0m0-57h0m0 40.5h0m0.5-15h0m0 14h0m0.5-25h0m0 35.5h0m0-67.5h0m0 52.5h0m0-5h0m0-8h0m0 30h0m0-45.5h0m0.5 43.5h0m0-24h0m0-31h0m0 33h0m0 21h0m0 11.5h0m0.5-4h0m0-23.5h0m0-28h0m0 13h0m0-41.5h0m0 85h0m0 54.5h0m0.5-71h0m0-31h0m0 29h0m0-58h0m0.5 68h0m0-29.5h0m0 10h0m0.5-46h0m0 50.5h0m0-60.5h0m0 9h0m0 57h0m0.5-11h0m0-54.5h0m0.5-45.5h0m0 85h0m0-26.5h0m0 21.5h0m0.5 16h0m0 30h0m0-53.5h0m0-6h0m0 35.5h0m0-15.5h0m0.5 19h0m0-50h0m0 30.5h0m0 34.5h0m0-51h0m0-21.5h0m0.5 64.5h0m0-40.5h0m0.5 40.5h0m0-51.5h0m0 7.5h0m0 42.5h0m0.5-35h0m0-95h0m0.5 59.5h0m0 33h0m0-15.5h0m0 11.5h0m0 26h0m0 12h0m0 0h0m0.5-46.5h0m0 14.5h0m0-1.5h0m0.5-4h0m0-29.5h0m0 36h0m0 50.5h0m0-72h0m0.5 4.5h0m0 27.5h0m0.5-2.5h0m0-40.5h0m0 70.5h0m0.5 1h0m0-32.5h0m0 32.5h0m0-56.5h0m0.5 44h0m0-75.5h0m0 45.5h0m0-5.5h0m0.5-9.5h0m0 36.5h0m0-8h0m0 43.5h0m0.5-29h0m0-69.5h0m0 46h0m0-16.5h0m0 19h0m0.5 34.5h0m0-19h0m0-4h0m0 19h0m0-19.5h0m0.5 5h0m0 0.5h0m0-27h0m0 3.5h0m0-11.5h0m0.5 26.5h0m0-6h0m0 19.5h0m0 0h0m0 30h0m0.5-43h0m0-15.5h0m0-57h0m0.5 95.5h0m0-46.5h0m0 37.5h0m0 12.5h0m0.5-47.5h0m0 43h0m0-80h0m0.5 77h0m0-21h0m0-28h0m0 51.5h0m0.5-0.5h0m0 18h0m0-61h0m0.5 56h0m0-83.5h0m0 54.5h0m0-5.5h0m0.5-15.5h0m0 35.5h0m0 4.5h0m0-60h0m0.5 41.5h0m0-22.5h0m0 37h0m0.5-32h0m0 48h0m0-69h0m0.5 69.5h0m0 1.5h0m0-36.5h0m0 10h0m0-51h0m0.5 52h0m0-17.5h0m0-10.5h0m0 25.5h0m0.5 13h0m0-30.5h0m0 89h0m0-65.5h0m0-20h0m0 36h0m0.5-63.5h0m0 32h0m0-54.5h0m0 87h0m0-22h0m0 27.5h0m0.5-60h0m0 7h0m0-10h0m0 57h0m0 21.5h0m0.5-73h0m0 15h0m0-3.5h0m0-10h0m0 38.5h0m0-12h0m0.5-6.5h0m0.5 21h0m0-3h0m0.5-57h0m0 69h0m0-73.5h0m0 66h0m0-38.5h0m0.5 32h0m0-43.5h0m0 42.5h0m0 8.5h0m0 7h0m0-51h0m0.5 18h0m0-14.5h0m0 19.5h0m0-3h0m0.5-38h0m0 60.5h0m0-6h0m0-35.5h0m0 11.5h0m0-8.5h0m0-16.5h0m0 40h0m0.5-11h0m0-2h0m0 30h0m0-23.5h0m0.5 20h0m0-31h0m0 42.5h0m0-82.5h0m0.5 28h0m0 37.5h0m0-12h0m0-15.5h0m0.5 0h0m0-7.5h0m0 35h0m0-22.5h0m0-24.5h0m0 40h0m0.5 9h0m0-1.5h0m0 6h0m0-1h0m0.5-23h0m0-7.5h0m0 40.5h0m0 16h0m0-54h0m0.5 32h0m0-9.5h0m0-63h0m0 15.5h0m0.5 12h0m0-4h0m0 71.5h0m0-60h0m0 26.5h0m0-8h0m0.5 29.5h0m1-66.5h0m0 64h0m0-56h0m0 4h0m0 24.5h0m0.5 73h0m0-89.5h0m0 39h0m0.5-23h0m0-22.5h0m0 1h0m0 1.5h0m0 52.5h0m0.5-94.5h0m0 67h0m0-27.5h0m0-5h0m0 16.5h0m0.5 18h0m0-66h0m0 70h0m0-4.5h0m0 25.5h0m0.5-85h0m0 78h0m0-51h0m0-17h0m0 52h0m0-11h0m0-53.5h0m0-15h0m0.5 23h0m0 30.5h0m0.5 41h0m0-15h0m0-26h0m0-6h0m0.5 22h0m0-27.5h0m0 9.5h0m0 32.5h0m0.5-40h0m0 49h0m0-35h0m0 44h0m0.5 0.5h0m0-21h0m0-25.5h0m0-16h0m0 1.5h0m0.5 37.5h0m0-12h0m0 18.5h0m0-10.5h0m0.5-6.5h0m0-25.5h0m0-6h0m0 23.5h0m0.5-8h0m0.5 26h0m0-15h0m0-11h0m0-34.5h0m0 20.5h0m0 81h0m0.5-44.5h0m0-11h0m0.5 6h0m0-19.5h0m0 16.5h0m0.5-40.5h0m0 44.5h0m0 24h0m0-22.5h0m0-48h0m0 59.5h0m0.5-11h0m0-6.5h0m0 4h0m0.5-37.5h0m0 63h0m0-56.5h0m0 36h0m0.5-0.5h0m0-41.5h0m0 33.5h0m0.5-43h0m0-1h0m0 29h0m0 55h0m0.5-28.5h0m0-45.5h0m0 37h0m0 38h0m0-77.5h0m0.5 34h0m0-12h0m0 14h0m0 2.5h0m0-14h0m0.5 4h0m0 11.5h0m0 11h0m0 3.5h0m0.5-15h0m0 6h0m0 25.5h0m0-20h0m0-33.5h0m0-10h0m0.5 17.5h0m0 33h0m0-10.5h0m0-17h0m0-3h0m0 2h0m0-17.5h0m0.5-10.5h0m0 15.5h0m0-35.5h0m0.5 37h0m0 2h0m0 13h0m0-1h0m0 13.5h0m0 6h0m0-43h0m0 4.5h0m0 18.5h0m0.5-16h0m0 34h0m0 7h0m1-58h0m0 53.5h0m0-58h0m0 25h0m0 23.5h0m0 17.5h0m0 2.5h0m0.5-67.5h0m0 18.5h0m0.5 39h0m0-12.5h0m0 7h0m1-29.5h0m0 50h0m0 2h0m0-38.5h0m0 34h0m0.5-33h0m0-23.5h0m0 24.5h0m0 1.5h0m0.5 14h0m0-19.5h0m0.5-6.5h0m0 25h0m0-26.5h0m0.5 5h0m0-5.5h0m0-6.5h0m0.5 17h0m0-37.5h0m0 28h0m0.5 42h0m0-43h0m0 19.5h0m0-83.5h0m0 86h0m0.5 12.5h0m0-7.5h0m0-57h0m0 14.5h0m0 38h0m0-17h0m0.5 23h0m0-40h0m0.5 50h0m0-33.5h0m0-35h0m0 61.5h0m0-63h0m0 43h0m0-39h0m0.5 42.5h0m0-17h0m0 11.5h0m0 62.5h0m0-46.5h0m0.5-32h0m0 18h0m0-34.5h0m0-7.5h0m0 50.5h0m0 14h0m0-42.5h0m0.5 152h0m0-147.5h0m0 31h0m0-20.5h0m0.5 17.5h0m0-15h0m0 8h0m0 5.5h0m0-10h0m0.5 6h0m0-11h0m0-1h0m0 2.5h0m0.5 7.5h0m0-1h0m0 11h0m0.5-21h0m0 59h0m0-52.5h0m0-5.5h0m0-20.5h0m0 2h0m0 15.5h0m0 55h0m0.5-55.5h0m0 0.5h0m0 37.5h0m0-28h0m0 38.5h0m0-77.5h0m0 56.5h0m0.5-0.5h0m0-44h0m0 33.5h0m0-30.5h0m0 34h0m0 13.5h0m0-36.5h0m0-27h0m0.5-29.5h0m0 29h0m0 31h0m0 10.5h0m0-47.5h0m0.5 53.5h0m0 61.5h0m0-31h0m0.5 22h0m0-31h0m0 21h0m0.5-57.5h0m0 38h0m0.5-56h0m0-22.5h0m0 46.5h0m0-7.5h0m0 10h0m0 7h0m0-15h0m0.5 7h0m0-44.5h0m0 32.5h0m0-11h0m0 12h0m0.5 31h0m0-52h0m0 57h0m0-1.5h0m0-70.5h0m0.5 39h0m0 34h0m0-26.5h0m0-7.5h0m0.5-15h0m0-2h0m0 39h0m0-13.5h0m0 4.5h0m0-7h0m0.5-24.5h0m0 69h0m0-58.5h0m0 40h0m0-29h0m0.5 42.5h0m0-36h0m0.5-37h0m0 36h0m0-4.5h0m0 39h0m0.5-78h0m0 6h0m0-50.5h0m0 111h0m0-54.5h0m0.5 45h0m0-11.5h0m0-57h0m0 64.5h0m0.5 7h0m0-71.5h0m0 19h0m0.5 38h0m0-13.5h0m0-3h0m0 9h0m0 13h0m0.5-42.5h0m0 1h0m0 61h0m0.5-21.5h0m0-47.5h0m0 110h0m0.5-53.5h0m0-58h0m0.5 3h0m0 52.5h0m0 22h0m0.5-52h0m0 7.5h0m0-1h0m0.5-47h0m0 76h0m0 3.5h0m0 7.5h0m0.5-44h0m0-11.5h0m0 33h0m0 36h0m0-45h0m0 7.5h0m0-3h0m0.5-53.5h0m0 65.5h0m0 11h0m0-49.5h0m0.5 107.5h0m0-142h0m0.5 47.5h0m0 46h0m0-23h0m0 13h0m0-55.5h0m0.5 45.5h0m0-30h0m0-6h0m0-20h0m0.5 76h0m0-51h0m0 9h0m0.5-39h0m0 66h0m0-16h0m0-10h0m0 29h0m0.5-37.5h0m0 10h0m0-16.5h0m0 7h0m0 23.5h0m0-32h0m0 87h0m0-72h0m0-40h0m0.5 57.5h0m0-27.5h0m0 11h0m0.5 17.5h0m0-42h0m0.5 41.5h0m0-63.5h0m0 103h0m0.5-34.5h0m0-13h0m0-19.5h0m0.5-6h0m0 45.5h0m0-34h0m0-14h0m0.5-2h0m0.5 6h0m0 9h0m0 31.5h0m0-21.5h0m0-18.5h0m0.5 9.5h0m0-25h0m0 0h0m0-15h0m0 30h0m0 20h0m0.5 2.5h0m0 6.5h0m0 16.5h0m0-51.5h0m0 45.5h0m0.5 25.5h0m0-10.5h0m0-24h0m0 22h0m0 11h0m0-54.5h0m0.5 11h0m0-6h0m0-40.5h0m0.5 20h0m0 49.5h0m0-19h0m0-7h0m0.5-17.5h0m0-4h0m0 79h0m0-50.5h0m0.5-26h0m0 43.5h0m0 3h0m0-52h0m0.5-15.5h0m0 40.5h0m0 10h0m0 5.5h0m0.5-13h0m0-27h0m0 40h0m0-7h0m0.5 4.5h0m0-32.5h0m0 43.5h0m0-41.5h0m0.5 41h0m0-27.5h0m0 12h0m0-21h0m0 28h0m0.5 14h0m0-64h0m0 49h0m0-41h0m0 41.5h0m0-26h0m0-15.5h0m0 18.5h0m0.5 11h0m0 16.5h0m0-50.5h0m0 14h0m0 63.5h0m0-48.5h0m0.5 22h0m0-58h0m0 89.5h0m0-75.5h0m0 8.5h0m0 42h0m0.5 11h0m0-43h0m0 31.5h0m0-40h0m0.5 26h0m0-3.5h0m0-20.5h0m0 6h0m0 10.5h0m0.5-69.5h0m0 34.5h0m0 60h0m0 5h0m0-26.5h0m0.5 0.5h0m0 0h0m0 8.5h0m0-46.5h0m0.5 12.5h0m0 37h0m0-18.5h0m0 16.5h0m0 26h0m0.5-96h0m0 38.5h0m0.5-28h0m0 44h0m0 30h0m0-53.5h0m0 20.5h0m0 16h0m0-47h0m0 54.5h0m0.5-46h0m0-19.5h0m0 52h0m0 40.5h0m0-75.5h0m0 38h0m0.5-38.5h0m0 65h0m0-53h0m0 37h0m0.5-17.5h0m0-4h0m0.5 19.5h0m0.5-23h0m0 10.5h0m0-35h0m0.5 12.5h0m0-1.5h0m0 33h0m0-81.5h0m0 61.5h0m0-44.5h0m0.5 78h0m0-40h0m0 8.5h0m0 9h0m0.5 23h0m0-43.5h0m0 2h0m0 5h0m0 1.5h0m0 15h0m0.5 3.5h0m0-11.5h0m0.5-24h0m0 29h0m0 12h0m0-39.5h0m0 20.5h0m0-10.5h0m0.5-11.5h0m0 18h0m0 38h0m0.5-31h0m0 27.5h0m0.5-70h0m0 54h0m0-17h0m0-34.5h0m0-64h0m0 102h0m0.5-22h0m0 5.5h0m0 48h0m0-35h0m0-40h0m0 86h0m0 1.5h0m0-62h0m0.5 7h0m0 12.5h0m0 1h0m0-36h0m0.5 85h0m0-29h0m0-8h0m0.5-21.5h0m0-3h0m0 67.5h0m0-39h0m0 11h0m0-61.5h0m0.5 37h0m0-34.5h0m0 30.5h0m0 23h0m0.5-56h0m0 27.5h0m0 39h0m0-20.5h0m0 2.5h0m0-40h0m0 14.5h0m0 33h0m0-78h0m0.5 64h0m0-26.5h0m0 6.5h0m0 70.5h0m0-44.5h0m0.5-22h0m0.5 34h0m0-47h0m0.5 29h0m0 13h0m0.5-52h0m0 47.5h0m0-50.5h0m0 10.5h0m0 56.5h0m0-74h0m0.5 55.5h0m0 13.5h0m0 20h0m0-34.5h0m0 23.5h0m0-63.5h0m0 48.5h0m0.5-33.5h0m0 27.5h0m0.5-19.5h0m0 9h0m0-7.5h0m0-32h0m0 5h0m0.5 8h0m0-37.5h0m0-2.5h0m0 116h0m0-107h0m0.5 41h0m0 13h0m0 16h0m0 10.5h0m0-26.5h0m0-24.5h0m0.5 33h0m0 35h0m0-47.5h0m0.5 22h0m0 13.5h0m0-57.5h0m0 19h0m0.5 16h0m0 27h0m0-45.5h0m0 3.5h0m0-29h0m0 14h0m0 34h0m0-5h0m0.5-44.5h0m0 55h0m0.5-16h0m0-2.5h0m0 0.5h0m0-9h0m0-2h0m0 33h0m0 1.5h0m0-15.5h0m0.5-3.5h0m0.5 8h0m0-43.5h0m0-1.5h0m0 28.5h0m0.5-1.5h0m0-47h0m0 39.5h0m0 10.5h0m0 67.5h0m0-101.5h0m0.5-1.5h0m0 45.5h0m0-26.5h0m0 47h0m0-75h0m0.5 51.5h0m0-23.5h0m0-17h0m0 50h0m0 3h0m0 6h0m0.5-7h0m0-41h0m0 19h0m0 3h0m0.5 19.5h0m0 9h0m0-11h0m0-6.5h0m0-65h0m0 48.5h0m0.5 24h0m0-12h0m0-10h0m0 42h0m0-22h0m0-20h0m0 56h0m0.5-83.5h0m0 40.5h0m0 3h0m0-75h0m0.5 62.5h0m0-13.5h0m0-3.5h0m0 39h0m0-37h0m0 14.5h0m0-8h0m0-38h0m0.5 93.5h0m0-46h0m0 24h0m0-3h0m0.5-10h0m0 49.5h0m0-59.5h0m0 0.5h0m0 2.5h0m0.5-36.5h0m0 24h0m0 16.5h0m0-42.5h0m0 54h0m0-23.5h0m0.5-25h0m0-2h0m0.5 47h0m0-25h0m0 49.5h0m0-77.5h0m0 18h0m0 21.5h0m0-17.5h0m0 20.5h0m0.5-3.5h0m0 58h0m0-24h0m0-31.5h0m0-10h0m0 10h0m0-20.5h0m0 23.5h0m0.5-17.5h0m0 26h0m0-28h0m0-16.5h0m0.5 45.5h0m0-32h0m0 27.5h0m0.5 7.5h0m0-17.5h0m0-8h0m0.5-13h0m0-2.5h0m0 32h0m0-72.5h0m0 53.5h0m0 38.5h0m0-5h0m0.5-5h0m0 24.5h0m0-34h0m0-3h0m0.5-24.5h0m0 85.5h0m0.5-89h0m0 26.5h0m0 21h0m0.5-11h0m0 19h0m0-39h0m0-56h0m0.5 48h0m0 16h0m0-5.5h0m0.5-18.5h0m0 9h0m0-6h0m0.5 38.5h0m0-56h0m0 10h0m0-17.5h0m0 25h0m0 2.5h0m0.5 57h0m0-52.5h0m0 31h0m0 12.5h0m0-85.5h0m0 19h0m0-7.5h0m0.5 45.5h0m0-3.5h0m0-51.5h0m0-7.5h0m0 64.5h0m0-24h0m0-13.5h0m0 12.5h0m0 11.5h0m0.5 13.5h0m0 56.5h0m0-98h0m0 29h0m0 50.5h0m0-25h0m0 0.5h0m0.5-44.5h0m0 28h0m0-36h0m0 46h0m0-27h0m0.5 15.5h0m0-9.5h0m0.5 8h0m0 31h0m0-22h0m0 11.5h0m0.5 43h0m0-60h0m0.5 5.5h0m0-20h0m0-5.5h0m0-50.5h0m0 80h0m0 3h0m0-14.5h0m0-1h0m0.5-0.5h0m0-33.5h0m0.5 167.5h0m0-149h0m0 2h0m0-11.5h0m0.5 8h0m0 48.5h0m0-12.5h0m0.5-56h0m0 38h0m0 1.5h0m0 85.5h0m0.5-133h0m0.5 32h0m0 17h0m0-32.5h0m0 18.5h0m0-5h0m0 34h0m0-21.5h0m0.5 25.5h0m0-21.5h0m0.5-2.5h0m0 35.5h0m0-59.5h0m0 39.5h0m0.5-13.5h0m0.5-45.5h0m0 50h0m0 9.5h0m0-19h0m0 33h0m0-73.5h0m0 51h0m0-1h0m0.5 21.5h0m0-49.5h0m0-7.5h0m0 25.5h0m0.5-37.5h0m0 40h0m0 26h0m0 1.5h0m0-24.5h0m0-33.5h0m0.5 1.5h0m0 56.5h0m0-11h0m0-25h0m0 0h0m0.5-25h0m0 16h0m0-14h0m0 89.5h0m0-73h0m0.5 18.5h0m0-61.5h0m0 84h0m1-38.5h0m0-22h0m0.5 15.5h0m0 28h0m0 3.5h0m0-38.5h0m0.5 3h0m0 14.5h0m0-9.5h0m0.5 12.5h0m0 4.5h0m0-4.5h0m0-75.5h0m0 74h0m0 11h0m0.5-47h0m0.5 28.5h0m0.5-32h0m0 28h0m0-1h0m0 64.5h0m0.5-12.5h0m0-45h0m0 0.5h0m0 3.5h0m0.5 2h0m0 62.5h0m0-8.5h0m0-108.5h0m0.5 54.5h0m0-48.5h0m0 85.5h0m0-60.5h0m0 28h0m0-28.5h0m0 27h0m0 3.5h0m0.5 2.5h0m0 3.5h0m0-26h0m0 4h0m0.5 40.5h0m0-33.5h0m0-34.5h0m0 49h0m0-38h0m0 14h0m0 66.5h0m0.5-10h0m0-42h0m0-19.5h0m0.5 68.5h0m0-211h0m0 127h0m0 22.5h0m0 28.5h0m0-76.5h0m0.5 49.5h0m0-0.5h0m0 53h0m0-72.5h0m0 126.5h0m0-47.5h0m0-52.5h0m0.5 16.5h0m0-11.5h0m0 10.5h0m0-42.5h0m0 60.5h0m0-3.5h0m0.5-16h0m0 33h0m0-70.5h0m0.5 8h0m0 58h0m0.5-31.5h0m0-33h0m0 108.5h0m0.5-106h0m0 68.5h0m0-18.5h0m0-21.5h0m0.5 26.5h0m0-51.5h0m0 7.5h0m0 38.5h0m0-35h0m0.5 35h0m0-6h0m0.5-28h0m0-49h0m0 56.5h0m0 31.5h0m0-60h0m0 54.5h0m0-31h0m0-20h0m0.5 24.5h0m0.5-42.5h0m0 63.5h0m0 38.5h0m0-38.5h0m0.5-17h0m0-22.5h0m0.5 11h0m0.5 34h0m0-7.5h0m0-16.5h0m0.5 24h0m0 7h0m0-62.5h0m0 44h0m0.5-50h0m0 32h0m0.5 42.5h0m0 47h0m0-88h0m0-10h0m0 3h0m0 28h0m0-20h0m0-9h0m0.5 36.5h0m0-41.5h0m0 62h0m0-43h0m0.5-46.5h0m0 72.5h0m0-11h0m0-15h0m0 4.5h0m0 1.5h0m0-45.5h0m0.5-6h0m0 41h0m0 15.5h0m0-45.5h0m0 41.5h0m0-10.5h0m0.5-30.5h0m0 6.5h0m0 5h0m0.5-16h0m0 34h0m0-32h0m0 56.5h0m0-28h0m0 4.5h0m0.5 53h0m0-77.5h0m0 41.5h0m0.5-48.5h0m0 25h0m0-21h0m0 10h0m0 44.5h0m0-43h0m0-18.5h0m0 23.5h0m0 11h0m0.5 4.5h0m0-1h0m0-66.5h0m0 65h0m0 68h0m0.5-72h0m0-4h0m0.5 21.5h0m0-70.5h0m0 35h0m0 50h0m0-18.5h0m0.5-30.5h0m0 9.5h0m0-12.5h0m0 43.5h0m0 9.5h0m0.5-68h0m0 65h0m0-38h0m0 29.5h0m0.5 13h0m0-29h0m0 28.5h0m0-33h0m0 23h0m0.5-32.5h0m0 23.5h0m0 0.5h0m0.5-26.5h0m0-11.5h0m0 3h0m0 51h0m0-39.5h0m0 14.5h0m0 54.5h0m0.5-97h0m0 12.5h0m0 17.5h0m0.5 11h0m0-9.5h0m0 56h0m0.5-64.5h0m0-7h0m0 33h0m0.5-14.5h0m0 0h0m0 2.5h0m0-5h0m0 27.5h0m0.5-60h0m0 102h0m0-32h0m0-15.5h0m0.5 22h0m0-51h0m0.5 16.5h0m0 30.5h0m0-24.5h0m0-4h0m0 18h0m0-29h0m0-63.5h0m0.5 35h0m0 34h0m0 13.5h0m0-46.5h0m0 49h0m0.5 12.5h0m0 69.5h0m0-101.5h0m0-33h0m0.5 23.5h0m0-27h0m0.5 15h0m0-0.5h0m0 69h0m0.5-68h0m0 29h0m0 12.5h0m0-40.5h0m0.5 98h0m0-87h0m0-35.5h0m0 43h0m0.5-21.5h0m0 22h0m0-2h0m0.5 31.5h0m0-15h0m0 59.5h0m0-96.5h0m0.5 73.5h0m0 12.5h0m0-61h0m0 68h0m0-39h0m0-11.5h0m0.5 40h0m0-38h0m0-26h0m0 41.5h0m0-31.5h0m0 22.5h0m0.5 1h0m0-44h0m0 29h0m0 10h0m0-42h0m0-86.5h0m0.5 93.5h0m0 29.5h0m0 6h0m0-17.5h0m0 16h0m0.5 2.5h0m0-36.5h0m0 19.5h0m0-12h0m0 27.5h0m0 13.5h0m0-10h0m0.5-34.5h0m0 32.5h0m0 2.5h0m0.5-54.5h0m0 35.5h0m0-20h0m0 28h0m0 26.5h0m0-56h0m0.5-7h0m0-16.5h0m0 34h0m0 10h0m0.5 48.5h0m0-84h0m0 38h0m0 15h0m0 11.5h0m0-52.5h0m0 36.5h0m0-55h0m0.5 27.5h0m0 28.5h0m0-33.5h0m0.5 12h0m0 33.5h0m0-50.5h0m0-2h0m0 2h0m0 43h0m0.5-4.5h0m0-43.5h0m0 13h0m0 15.5h0m0 14.5h0m0 2.5h0m0-18h0m0-8h0m0.5-18h0m0 33.5h0m0 21h0m0-24h0m0.5-12.5h0m0 40.5h0m0-21h0m0-55h0m0.5-50.5h0m0 73h0m0 12h0m0 32.5h0m0.5-11h0m0-27h0m0.5-2.5h0m0 27.5h0m0.5-39h0m0 25.5h0m0 30.5h0m0-30.5h0m0-29.5h0m0 5h0m0 3h0m0 16h0m0.5-40h0m0 44.5h0m0-1.5h0m0 48.5h0m0-31.5h0m0-60h0m0 68h0m0-5h0m0-63h0m0 65h0m0.5-18h0m0 3.5h0m0-38.5h0m0.5 15.5h0m0 53h0m0.5-6h0m0-7.5h0m0-34.5h0m0 49h0m0-66h0m0 12h0m0 38.5h0m0.5-48h0m0 32.5h0m0-41h0m0-5.5h0m0.5 62h0m0-48h0m0 0.5h0m0 39.5h0m0-12.5h0m0.5 24h0m0-3h0m0.5-22.5h0m0-15h0m0 6h0m0 6.5h0m0 20.5h0m0-23.5h0m0 2.5h0m0 23h0m0.5-18h0m0-8.5h0m0-5h0m0 73.5h0m0-45.5h0m0-51h0m0 46h0m0-1.5h0m0.5 17.5h0m0-25.5h0m0-26h0m0-5h0m0 30h0m0.5-11h0m0 0h0m0 32.5h0m0-27.5h0m0 19h0m0 1h0m0 4.5h0m0.5 0.5h0m0 21.5h0m0-73.5h0m0 4.5h0m0 40.5h0m0.5 9h0m0 14h0m0-46.5h0m0.5-26h0m0 32.5h0m0-2.5h0m0-2.5h0m0 14h0m0-11.5h0m0.5 12h0m0-12h0m0 35h0m0.5 30.5h0m0-57h0m0-2h0m0 29.5h0m0-56.5h0m0-4h0m0 79.5h0m0-90.5h0m0.5 8.5h0m0 65h0m0 7.5h0m0-73.5h0m0.5 32.5h0m0 10h0m0-47.5h0m0 48.5h0m0.5-15h0m0 58.5h0m0-77.5h0m0 22h0m0 5h0m0-33h0m0.5 35h0m0 1.5h0m0-13h0m0.5 30.5h0m0-28.5h0m0-19h0m0 1h0m0.5 78.5h0m0.5-16h0m0-42h0m0 8.5h0m0-7h0m0 14.5h0m0 20h0m0.5-50.5h0m0 69h0m1-70.5h0m0 22.5h0m0-13h0m0 47h0m0-50.5h0m0 37.5h0m0 16h0m0.5-61.5h0m0 2h0m0 59.5h0m0-34h0m0.5-37h0m0 69h0m0 8.5h0m0-27.5h0m0 5h0m0 26.5h0m0.5-31.5h0m0.5-40h0m0 15h0m0 42.5h0m0-46.5h0m0-8h0m0 21.5h0m0.5 18h0m0-18h0m0.5 4.5h0m0 28.5h0m0-56.5h0m0 19h0m0.5-8.5h0m0-16h0m0 5h0m0 33.5h0m0 9.5h0m0.5-18.5h0m0-2h0m0.5-6.5h0m0 29.5h0m0-12.5h0m0 12h0m0-16h0m0.5 5.5h0m0.5 2h0m0-31h0m0.5 0h0m0 50h0m0-59h0m0-2h0m0-27.5h0m0 7.5h0m0.5 77.5h0m0-50h0m0-3h0m0.5-9h0m0 50.5h0m0 0h0m0-2.5h0m0-51.5h0m0.5 62.5h0m0-27.5h0m0.5-37.5h0m0 88.5h0m0-29.5h0m0-22h0m0-64h0m0.5 52h0m0-12.5h0m0 149.5h0m0.5-112.5h0m0 0.5h0m0 21h0m0.5-11h0m0-12h0m0 0.5h0m0 13h0m0-13h0m0 12h0m0-10h0m0-47h0m0.5 70h0m0-29.5h0m0-19.5h0m0.5 36h0m0-11.5h0m0 4.5h0m0-18.5h0m0 14.5h0m0-6h0m0.5 31h0m0-29.5h0m0 11h0m0.5-21.5h0m0 12.5h0m0-43.5h0m0.5 66.5h0m0-8h0m0-23h0m0-14h0m0-6.5h0m0 36h0m0 18.5h0m0-77.5h0m0.5 25.5h0m0 20h0m0 36h0m0-51h0m0.5-20.5h0m0 34h0m0 21.5h0m0-6.5h0m0-25.5h0m0-4h0m0 66.5h0m0-67.5h0m0 35.5h0m0 15.5h0m0-49.5h0m0 40.5h0m0.5 13.5h0m0-28.5h0m0-18h0m0.5 41.5h0m0-29.5h0m0-45h0m0 46h0m0-10h0m0 54h0m0-1.5h0m0.5-31h0m0 23h0m0-82.5h0m0 67h0m0.5-27.5h0m0 20.5h0m0 43.5h0m0-50h0m0.5 8.5h0m0-54.5h0m0 14.5h0m0.5 33.5h0m0-31h0m0 35.5h0m0-57h0m0 66.5h0m0.5-23h0m0 5h0m0.5 22h0m0 0.5h0m0-61.5h0m0 50h0m0-23.5h0m0.5 27h0m0.5-18h0m0 15h0m0.5-3h0m0 26.5h0m0-47h0m0-43.5h0m0 41h0m0-95.5h0m0 94.5h0m0.5-47.5h0m0 49h0m0 16.5h0m0 7.5h0m0-32.5h0m0-11.5h0m0 19.5h0m0-11h0m0.5-34.5h0m0 33.5h0m0 22h0m0-0.5h0m0 16h0m0-20h0m0-0.5h0m0.5 34.5h0m0-50.5h0m0 0h0m0 23h0m0-14h0m0.5 32.5h0m0-10.5h0m0-27h0m0-21h0m0.5-7h0m0 3.5h0m0 52h0m0.5-19.5h0m0-32h0m0 64h0m0-10h0m0-27.5h0m0 69.5h0m0-125.5h0m0.5 88.5h0m0-61h0m0 61h0m0 3.5h0m0-27.5h0m0.5-29.5h0m0 47.5h0m0.5-35.5h0m0 56h0m0-34.5h0m0 11h0m0-6h0m0 46.5h0m0.5-57h0m0-14h0m0 39h0m0-90h0m0.5 35.5h0m0.5 87.5h0m0-37h0m0-23.5h0m0 54h0m0-11.5h0m0.5-39h0m0 6.5h0m0 49.5h0m0.5-32.5h0m0-20.5h0m0-21h0m0 28h0m0-24h0m0 41h0m0-49h0m0.5 6h0m0.5-13h0m0 61.5h0m0-26h0m0 8h0m0 3.5h0m0-3.5h0m0.5-7.5h0m0.5-41h0m0 54h0m0-9h0m0 77h0m0.5-97h0m0 36.5h0m0.5-57.5h0m0 23.5h0m0 20h0m0 9h0m0.5 31h0m0-29h0m0-42h0m0 65h0m0-37h0m0.5 7.5h0m0-6h0m0-1.5h0m0-37h0m0.5 37.5h0m0 7h0m0-7.5h0m0-13h0m0.5 45h0m0-72h0m0 57.5h0m0 31h0m0-53.5h0m0 20.5h0m0.5-15h0m0 18.5h0m0-28.5h0m0-17h0m0-27h0m0 27.5h0m0.5 27h0m0-2.5h0m0.5-31.5h0m0 20h0m0 35h0m0 24h0m0-52.5h0m0-60h0m0 60h0m0 26.5h0m0-2.5h0m0-24.5h0m0.5 21h0m0-21h0m0 58.5h0m0.5-101.5h0m0 35.5h0m0-13h0m0-5.5h0m0 3.5h0m0.5-5h0m0-64h0m0 156h0m0-113h0m0 30h0m0-9.5h0m0-8h0m0 32.5h0m0-7.5h0m0 34.5h0m0.5-47h0m0 24h0m0-55h0m0 60h0m0 26.5h0m0.5-27h0m0 35.5h0m0-48.5h0m0-2.5h0m0.5-19.5h0m0 16h0m0 0.5h0m0 39h0m0 19.5h0m0-50h0m0-10h0m0.5 48.5h0m0 69.5h0m0-73.5h0m0-4h0m0-31.5h0m0.5-15h0m0 45h0m0 25.5h0m0-51h0m0.5 37h0m0 0h0m0 6.5h0m0-40h0m0.5 22.5h0m0 8h0m0.5-10.5h0m0 8h0m0-37.5h0m0-8h0m0-63.5h0m0 98.5h0m0-11.5h0m0 19h0m0.5-44.5h0m0 36h0m0-4.5h0m0-32h0m0 5.5h0m0-23h0m0 25h0m0.5-1.5h0m0-42h0m0 10h0m0.5 29.5h0m0 62h0m0-35h0m0-57h0m0 20h0m0.5 42h0m0 4.5h0m0-26h0m0 7h0m0-23.5h0m0.5 45h0m0 15h0m0-48.5h0m0.5 9h0m0 10.5h0m0 12h0m0 12.5h0m0-7h0m0-19.5h0m0-41.5h0m0 13h0m0.5 3h0m0 6.5h0m0 27h0m0-53.5h0m0 18h0m0 12.5h0m0 63h0m0-16.5h0m0.5-36h0m0 2h0m0 3.5h0m0.5-9.5h0m0-11h0m0 7.5h0m0 7.5h0m0-10h0m0 28.5h0m0-43.5h0m0.5 29.5h0m0-43.5h0m0 41.5h0m0-31h0m0 28.5h0m0-2.5h0m0 17.5h0m0.5-3.5h0m0-10h0m0 18h0m0-41h0m0 64h0m0-73.5h0m0.5 28.5h0m0 1h0m0-15h0m0 34.5h0m0-41h0m0.5 11h0m0 6.5h0m0.5-15h0m0 14.5h0m0.5-2.5h0m0 28.5h0m0-12.5h0m0-25.5h0m0 16h0m0 21h0m0-60.5h0m0.5 46h0m0.5 14.5h0m0-56.5h0m0-9h0m0 10h0m0 11h0m0-27.5h0m0 57.5h0m0-29.5h0m0-4h0m0 28h0m0 2h0m0.5-10h0m0 4.5h0m0 29h0m0.5 5.5h0m0.5-13.5h0m0.5 20h0m0-15h0m0-9.5h0m0.5-24.5h0m0 29h0m0.5-57.5h0m0 43.5h0m0-1.5h0m0-21h0m0 26.5h0m0-2.5h0m0-32.5h0m0.5 8h0m0.5-29h0m0 43h0m0 23.5h0m0-44h0m0.5 26.5h0m0-22h0m0-19.5h0m0 57.5h0m0-16h0m0-43h0m0 56.5h0m0.5-20h0m0-37h0m0 93.5h0m0.5-80.5h0m0.5 52h0m0-3.5h0m0 3.5h0m0-60h0m0 56h0m0.5 29h0m0-72h0m0 59.5h0m0-12.5h0m0.5-23h0m0.5-16.5h0m0 19h0m0 40.5h0m0-44h0m0 16h0m0.5-24h0m0-38h0m0-8h0m0 106h0m0.5-0.5h0m0-25.5h0m0-25h0m0.5-12.5h0m0 55h0m0-37h0m0.5 24.5h0m0-7h0m0-77.5h0m0 14.5h0m0.5 63.5h0m0-17h0m0-42.5h0m0 62h0m0.5-9.5h0m0-24h0m0.5 28.5h0m0-19h0m0 12.5h0m0.5 8h0m0 20.5h0m0-38.5h0m0 15h0m0-12.5h0m0-22.5h0m0-23.5h0m0.5 23h0m0 20h0m0-3h0m0-32.5h0m0.5 31h0m0 13.5h0m0-18.5h0m0.5 43h0m0-51h0m0 69h0m0-66.5h0m0 78h0m0.5-44.5h0m0-3h0m0-1.5h0m0 11.5h0m0-42h0m0.5-1h0m0-6h0m0.5 30.5h0m0-2.5h0m0 24h0m0.5-79.5h0m0 50h0m0-24h0m0.5 77.5h0m0-45h0m0.5-58.5h0m0.5 24h0m0.5-39.5h0m0 104h0m0-42.5h0m0-21.5h0m0.5 35.5h0m0-14.5h0m0 0h0m0-27.5h0m0 20.5h0m0.5-35.5h0m0 59h0m0-10h0m0.5-24h0m0-23.5h0m0 46.5h0m0.5 17.5h0m0.5 0.5h0m0-42h0m0-16h0m0 16h0m0 0h0m0 34.5h0m0-8h0m0.5 16h0m0-19.5h0m0.5-7h0m0 15h0m0-2h0m0.5-22.5h0m0 17h0m0.5-51.5h0m0 41.5h0m0-40h0m0 58.5h0m0.5-50.5h0m0 45.5h0m0-15.5h0m0 5.5h0m0-47.5h0m0.5 27h0m0 39.5h0m0-36.5h0m0-3.5h0m0-3h0m0 10h0m0 39.5h0m0 14h0m0-47.5h0m0.5 1h0m0 11.5h0m0-2.5h0m0-31.5h0m0 18.5h0m0.5 14.5h0m0-14.5h0m0.5 23h0m0 11.5h0m0-51.5h0m0 4.5h0m0.5 19.5h0m0.5-33h0m0 75h0m0-125h0m0 91.5h0m0 5.5h0m0 13h0m0.5-79h0m0 62h0m0-36.5h0m0 34h0m0-5.5h0m0-16.5h0m0 20h0m0.5 27.5h0m0 4h0m0-23h0m0-45h0m0 64h0m0-47h0m0.5 4.5h0m0 28.5h0m0.5-8.5h0m0 5.5h0m0 4.5h0m0-17.5h0m0 26h0m0-28.5h0m0-38h0m0.5 62.5h0m0.5-51h0m0 23.5h0m0 24.5h0m0 25h0m0-55h0m0-10.5h0m0.5 11h0m0 54h0m0.5-43h0m0-0.5h0m0.5 6.5h0m0 3h0m0.5-46.5h0m0 37.5h0m0 20h0m0.5-29h0m0 11h0m0-1.5h0m0-6h0m0-20.5h0m0 16h0m0-3.5h0m0.5 32.5h0m0 26.5h0m0-90.5h0m0 37.5h0m0.5 3h0m0-18h0m0 74h0m0.5-57.5h0m0-36.5h0m0 24h0m0 59.5h0m0-65.5h0m0 14.5h0m0.5-15h0m0-8.5h0m0 46h0m0 16h0m0-63.5h0m0.5 93h0m0-51.5h0m0.5-41.5h0m0 50h0m0-10.5h0m0-7.5h0m0.5 14h0m0-14h0m0 12.5h0m0 7h0m0-42.5h0m0.5 76h0m0-40h0m0-29h0m0-0.5h0m0 36h0m0-15.5h0m0.5-10h0m0-12.5h0m0 19h0m0 3.5h0m0 7.5h0m0 27h0m0-50.5h0m0 16.5h0m0.5-14h0m0.5-42h0m0 35h0m0 7.5h0m0 43.5h0m0-15.5h0m0.5-65.5h0m0 117.5h0m0-32.5h0m0-61.5h0m0 17h0m0 34h0m0.5-19h0m0-3h0m0-5.5h0m0.5 28h0m0-22h0m0 39h0m0.5-50.5h0m0 5h0m0 37h0m0.5-42.5h0m0.5-1h0m0 13.5h0m0-21h0m0.5 11h0m0 7h0m0 8h0m0-47.5h0m0 11.5h0m0 38.5h0m0 54h0m0.5-61h0m0-1h0m0-7.5h0m0-2h0m0 28h0m0-16h0m0-9h0m0-22h0m0 32.5h0m0-25.5h0m0.5 51h0m0-46.5h0m0-37h0m0 68.5h0m0-17h0m0.5 10.5h0m0-8h0m0.5-2.5h0m0 26h0m0-37.5h0m0-9.5h0m0-10.5h0m0 45h0m0.5 46h0m0-68h0m0 24h0m0.5 148h0m0-174.5h0m0-21.5h0m0 25h0m0 4h0m0.5-4h0m0 9h0m0 11.5h0m0.5-14h0m0 37h0m0-14h0m0-28.5h0m0.5 19h0m0-62.5h0m0 69.5h0m0 1.5h0m0.5 17h0m0-72h0m0.5 40h0m0-10.5h0m0-27h0m0.5 49h0m0-31h0m0 58h0m0.5-37h0m0 18h0m0-16h0m0 5.5h0m0.5-36h0m0 4h0m0 22.5h0m0.5 10.5h0m0-36.5h0m0 10h0m0.5-7h0m0-2.5h0m0 15h0m0-19.5h0m0 7h0m0 48.5h0m0-10h0m0.5-89.5h0m0 91.5h0m0 33.5h0m0.5-48.5h0m0-12h0m0-5h0m0-34h0m0 50.5h0m0.5-27h0m0 2h0m0 39h0m0-31h0m0 39.5h0m0.5 26.5h0m0-96.5h0m0 62.5h0m0-13.5h0m0-33.5h0m0-5.5h0m0 47h0m0-20.5h0m0.5-24h0m0-3h0m0.5 8.5h0m0 60.5h0m0-26h0m0-32.5h0m0 34.5h0m0.5-6h0m0-4h0m0-7h0m0 5h0m0.5 9.5h0m0-68h0m0 33.5h0m0-3.5h0m0 34h0m0.5-7.5h0m0-11.5h0m0 31.5h0m0-33.5h0m0-2.5h0m0 6h0m0 6.5h0m0-61.5h0m0.5 113.5h0m0-51.5h0m0 0h0m0-14h0m0 30.5h0m0.5 5h0m0-25.5h0m0 4h0m0 31h0m0-2h0m0-10.5h0m0-47.5h0m0.5 22h0m0 5h0m0-62.5h0m0 2.5h0m0 5h0m0.5-51.5h0m0 140.5h0m0.5-19.5h0m0-23.5h0m0 4.5h0m0 22.5h0m0 22h0m0-33h0m0-38.5h0m0.5 42h0m0 8h0m0-6h0m0.5-50h0m0 44.5h0m0.5-23h0m0-12.5h0m0 3h0m0 35h0m0.5 2.5h0m0-1.5h0m0.5-3.5h0m0-40.5h0m0-6h0m0 68h0m0.5-5h0m0-48.5h0m0.5 55.5h0m0-25h0m0 4.5h0m0-61h0m0.5 38h0m0 10.5h0m0-9h0m0.5 19.5h0m0 23.5h0m0 18.5h0m0-10h0m0-84.5h0m0 73.5h0m0-49.5h0m0.5-0.5h0m0 51h0m0-36.5h0m0 10.5h0m0-36.5h0m0.5 21h0m0 10.5h0m0 20h0m0 6h0m0 0.5h0m0-84h0m0.5 51h0m0-3h0m0-9h0m0.5 25.5h0m0-11h0m0-17.5h0m0.5-2h0m0 24h0m0 85.5h0m0-47.5h0m0-74.5h0m0.5 35.5h0m0 3h0m0-6h0m0 41h0m0.5-52h0m0-4h0m0 40.5h0m0-13h0m0 5h0m0-35h0m0.5 10.5h0m0 35h0m0-16h0m0 42h0m0-96.5h0m0 23h0m0.5 48h0m0 11.5h0m0.5 46.5h0m0-61h0m0.5-5h0m0-28h0m0 5h0m0.5-19.5h0m0 19h0m0-26h0m0 36h0m0-16h0m0.5 9h0m0-12h0m0 37.5h0m0-10h0m0-31.5h0m0.5 39.5h0m0-18h0m0-17.5h0m0.5-20h0m0 70h0m0-48h0m0 42h0m0-4.5h0m0-32.5h0m0.5 19.5h0m0-27h0m0 23h0m0.5-18.5h0m0 0.5h0m0 49.5h0m0-19h0m0-21h0m0.5 5h0m0 26h0m0-45h0m0 23h0m0-4h0m0-30.5h0m0.5 52.5h0m0-34h0m0-42h0m0 62h0m0.5-15.5h0m0-44.5h0m0 42h0m0 43h0m0.5-25.5h0m0-33.5h0m0 41h0m0-12h0m0 5.5h0m0.5 3h0m0-35.5h0m0 6.5h0m0 64h0m0-19.5h0m0.5 3h0m0-40h0m0 3.5h0m0 31h0m0.5-0.5h0m0-40h0m0 61h0m0-86.5h0m0 45h0m0-14h0m0-49h0m0.5 64h0m0-11.5h0m0-25.5h0m0 21h0m0 22h0m0 15h0m0.5-43h0m0 27.5h0m0.5-45.5h0m0 43.5h0m0-24h0m0 23h0m0 33.5h0m0-12h0m0.5-65.5h0m0 39.5h0m0-28.5h0m0.5 17h0m0 35h0m0-58h0m0 64.5h0m0.5-14.5h0m0-41.5h0m0 39h0m0-24.5h0m0 2.5h0m0.5-0.5h0m0 54h0m0-34h0m0-4h0m0 15h0m0-36h0m0.5 40h0m0-20h0m0-26.5h0m0 16.5h0m0.5 13.5h0m0-5.5h0m0 33h0m0-9.5h0m0.5-14.5h0m0-18.5h0m0 20.5h0m0-8.5h0m0.5 2.5h0m0-33h0m0-0.5h0m0 12h0m0.5-26h0m0 16.5h0m0 8.5h0m0 34.5h0m0.5-26.5h0m0 55h0m0 4h0m0-50h0m0 10.5h0m0.5-14h0m0 3.5h0m0 8h0m0 5.5h0m0.5-23h0m0-14.5h0m0.5 49.5h0m0-59.5h0m0 57.5h0m0.5 33h0m0-60h0m0.5 5.5h0m0-15h0m0-25.5h0m0 25.5h0m0-29.5h0m0.5 54.5h0m0-26h0m0 29h0m0-45h0m0 10h0m0 35h0m0.5 7h0m0-47h0m0 34h0m0 35h0m0-82.5h0m0 44.5h0m0-20.5h0m0 16h0m0.5 15h0m0-22.5h0m0-29h0m0.5 50h0m0-18.5h0m0 44h0m0-8.5h0m0-36h0m0 16h0m0 10h0m0.5-56.5h0m0 14h0m0 30.5h0m0-0.5h0m0.5-27.5h0m0 19.5h0m0 13h0m0-14.5h0m0-28h0m0-41.5h0m0.5 51h0m0 11h0m0-12h0m0 26.5h0m0.5-0.5h0m0-45h0m0 42h0m0 10h0m0 4.5h0m0-17.5h0m0 1h0m0.5-20h0m0 55h0m0-23.5h0m0.5-5.5h0m0 2h0m0 12h0m0-37h0m0-32.5h0m0.5 18h0m0 66h0m0-53h0m0.5 23.5h0m0-0.5h0m0 24h0m0-34.5h0m0 26h0m0.5 5h0m0-43.5h0m0 6h0m0 7h0m0.5-14.5h0m0 16.5h0m0-5.5h0m0 39.5h0m0-24h0m0 12h0m0.5 11.5h0m0 11h0m0-60h0m0 94h0m0-39.5h0m0.5-55.5h0m0-26.5h0m0 50h0m0-73h0m0 67h0m0.5-12h0m0 21.5h0m0.5-35h0m0 18.5h0m0.5-2.5h0m0-20h0m0.5 39.5h0m0 17.5h0m0-7h0m0-47h0m0.5 25h0m0-65.5h0m0 47h0m0 11h0m0.5 26h0m0-10h0m0 48h0m0-69.5h0m0 0h0m0 15h0m0 37h0m0.5-54.5h0m0 19.5h0m0 7.5h0m0-12.5h0m0.5-29.5h0m0 30.5h0m0-15.5h0m0-17.5h0m0 40.5h0m0.5-1h0m0 16h0m0-42.5h0m0-2.5h0m0 44h0m0.5-16h0m0-24.5h0m0-2h0m0 33h0m0.5-53.5h0m0 58h0m0-32h0m0-5.5h0m0.5 78.5h0m0-14h0m0-93.5h0m0 13.5h0m0.5 39.5h0m0.5 45h0m0-53.5h0m0-17h0m0 15.5h0m0 6.5h0m0-36h0m0.5-2.5h0m0-10.5h0m0 78h0m0-15.5h0m0-0.5h0m0.5-20.5h0m0 35h0m0-31.5h0m0 25.5h0m0-48.5h0m0 39h0m0 21.5h0m0-22h0m0-20.5h0m0.5-13.5h0m0 29.5h0m0 2.5h0m0 2h0m0-17h0m0 3h0m0.5-29.5h0m0 15h0m0.5 66.5h0m0-51.5h0m0.5-2h0m0.5 16.5h0m0 5h0m0-43h0m0 35.5h0m0-10h0m0.5 2.5h0m0 3.5h0m0.5-58h0m0 32h0m0.5 23h0m0 4h0m0 40h0m0.5-29.5h0m0 37.5h0m0.5-125.5h0m0 93.5h0m0.5 32h0m0-27h0m0-9h0m0-12h0m0 62.5h0m0-74h0m0.5-30.5h0m0.5 4.5h0m0-40.5h0m0 62.5h0m0 9.5h0m0-62h0m0 93.5h0m0.5-33.5h0m0-27.5h0m0 0h0m0-10h0m0 61h0m0.5-6.5h0m0-16.5h0m0.5 6.5h0m0-21h0m0-1h0m0 27h0m0.5-8h0m0 4.5h0m0-12.5h0m0 32.5h0m0-12h0m0.5-19.5h0m0 39h0m0 47h0m0-114h0m0.5-19.5h0m0-9.5h0m0 71h0m0-4h0m0-3.5h0m0 49h0m0.5-52.5h0m0-29.5h0m0 62h0m0-65h0m0.5 6.5h0m0 94.5h0m0-56h0m0-16h0m0 17h0m0.5-37h0m0 59.5h0m0-61.5h0m0 31h0m0.5-55h0m0 56.5h0m0 11h0m0 29h0m0.5-18h0m0-167.5h0m0 131.5h0m0 7h0m0 5h0m0-15h0m0-8.5h0m0 18h0m0.5 34.5h0m0-71h0m0 38.5h0m0 34h0m0.5-59.5h0m0-31h0m0 59.5h0m0-53h0m0 59.5h0m0-21h0m0.5 17.5h0m0-42.5h0m0-7h0m0 85h0m0-3h0m0-24.5h0m0-20h0m0.5-6h0m0-24.5h0m0 29.5h0m0.5 41h0m0-46h0m0 22.5h0m0.5 4h0m0-25h0m0-13h0m0-6.5h0m0.5 48h0m0-83h0m0 82.5h0m0-31h0m0.5-10h0m0 42h0m0-50h0m0 30h0m0 37h0m0.5-54h0m0-23.5h0m0 26.5h0m0 26.5h0m0-34.5h0m0 44h0m0-73.5h0m0 67.5h0m0 15h0m0.5-62.5h0m0 37h0m0-38h0m0-16.5h0m0 78h0m0.5-57.5h0m0-16.5h0m0 46.5h0m0-3.5h0m0.5-14h0m0 25h0m0 10.5h0m0-28.5h0m0-7.5h0m0 26h0m0-17.5h0m0.5-65h0m0 57h0m0 8.5h0m0 49.5h0m0.5-88h0m0 69h0m0-62h0m0 66h0m0-49.5h0m0 51h0m0 30h0m0-85.5h0m0 4.5h0m0.5-6h0m0 36h0m0.5 17h0m0.5-23.5h0m0-23.5h0m0-3.5h0m0 2.5h0m0 8.5h0m0.5-40h0m0 76.5h0m0-55.5h0m0 29h0m0.5 57.5h0m0-51h0m0-39h0m0 59h0m0-25h0m0.5-31.5h0m0-57h0m0 111h0m0-11h0m0 15.5h0m0.5 8.5h0m0-144.5h0m0.5 123h0m0-36.5h0m0 55.5h0m0-85.5h0m0 61.5h0m0.5 11.5h0m0 21.5h0m0-29.5h0m0 35.5h0m0-52h0m0.5-14.5h0m0 7.5h0m0-3h0m0 17h0m0.5-36.5h0m0.5 30h0m0.5 13h0m0 52.5h0m0-95h0m0 41.5h0m0.5 14h0m0-34.5h0m0 70.5h0m0-67h0m0 1h0m0.5 36.5h0m0-14.5h0m0-82h0m0 47.5h0m0 25h0m0-59h0m0 81h0m0.5 22.5h0m0-10h0m0-55.5h0m0-10.5h0m0 5.5h0m0.5-6h0m0 4.5h0m0 27.5h0m0-39.5h0m0.5 37h0m0-9h0m0 5.5h0m0-1h0m0 0h0m0-23h0m0 14.5h0m0 2h0m0 20h0m0-5h0m0 11h0m0.5-80h0m0 59h0m0 13.5h0m0-17.5h0m0 9.5h0m0.5 33h0m0-5.5h0m0-44h0m0 24h0m0-31.5h0m0.5 19.5h0m0-42h0m0 52h0m0-18.5h0m0 19.5h0m0 24h0m0-34h0m0.5 14.5h0m0-26h0m0 38.5h0m0-24h0m0 61h0m0-17h0m0-62h0m0.5 47h0m0-46.5h0m0 36h0m0 28h0m0-47.5h0m0.5-46.5h0m0 40h0m0-18h0m0.5 10.5h0m0 36.5h0m0 21h0m0-10.5h0m0-41.5h0m0 34.5h0m0-75h0m0 103.5h0m0-41h0m0.5-8h0m0-3h0m0 63.5h0m0-50.5h0m0-30h0m0 12.5h0m0-26h0m1 50h0m0 5.5h0m0.5-50h0m0 37h0m0-11.5h0m0 25.5h0m0-1.5h0m0 12h0m0-32h0m0-43h0m0 20h0m0.5 9h0m0-12h0m0 33.5h0m0-24h0m0 25h0m0-27.5h0m0.5 16h0m0 22.5h0m0 25h0m0-28h0m0-14h0m0-22.5h0m0-0.5h0m0.5 42.5h0m0-17h0m0 16.5h0m0-28h0m0 85.5h0m0.5-84.5h0m0-28.5h0m0 15.5h0m0 27h0m0 43h0m0-10h0m0.5-53h0m0 16h0m0-34h0m0-2h0m0-26h0m0 71.5h0m0-18.5h0m0.5-70h0m0 60.5h0m0 59h0m0-39h0m0-46.5h0m0.5 49.5h0m0 2h0m0.5-36.5h0m0-10h0m0 24h0m0 3.5h0m0.5 22.5h0m0-43h0m0 14.5h0m0 21.5h0m0 21h0m0.5-36.5h0m0 14h0m0 34h0m0-24h0m0 1h0m0-50h0m0.5 39.5h0m0-35h0m0 1.5h0m0 50.5h0m0-47h0m0.5 26h0m0-3h0m0-27h0m0-18h0m0-22.5h0m0 47.5h0m0.5 19.5h0m0-53.5h0m0 68.5h0m0-46h0m0 91h0m0.5-88h0m0 38.5h0m0-12.5h0m0-7.5h0m0-11.5h0m0-37h0m0 17.5h0m0 14.5h0m0-33.5h0m0.5 71h0m0-54.5h0m0.5 42.5h0m0-16h0m0-17.5h0m0 54h0m0 15.5h0m0-62.5h0m0 35h0m0-19h0m0 5h0m0 11h0m0.5-66.5h0m0 32h0m0-0.5h0m0 17.5h0m0 22h0m0.5-59.5h0m0 65.5h0m0-12.5h0m0-2.5h0m0-28h0m0 31h0m0.5 6h0m0-7h0m0 23.5h0m0-4.5h0m0-45.5h0m0 21h0m0 5h0m0.5-1.5h0m0-44h0m0 4.5h0m0.5 51h0m0 3h0m0-24h0m0-45h0m0.5 42.5h0m0-26h0m0 75h0m0-37h0m0-14h0m0 77h0m0-87.5h0m0 26h0m0 22h0m0-0.5h0m0.5-43.5h0m0 1.5h0m0 32.5h0m0-26h0m0 39.5h0m0-20.5h0m0-1h0m0.5-15h0m0-2.5h0m0 18h0m0 16.5h0m0.5-12h0m0-34.5h0m0 17.5h0m0-28h0m0 2.5h0m0-5h0m0.5 50.5h0m0 31.5h0m0-21h0m0-23h0m0.5-38h0m0 6.5h0m0.5 56h0m0 36h0m0-43h0m0-48h0m0 33.5h0m0 62h0m0.5-62.5h0m0-21h0m0.5 12.5h0m0 26.5h0m0.5-31.5h0m0-33.5h0m0 27h0m0 22.5h0m0-25h0m0.5-40.5h0m0 64h0m0-4h0m0.5-51.5h0m0-7.5h0m0.5 84h0m0-10h0m0-8h0m0 32h0m0-34h0m0-60.5h0m0 69.5h0m0.5-35.5h0m0 40.5h0m0 15.5h0m0-46h0m0.5 20h0m0 22.5h0m0-40.5h0m0-19.5h0m0 13.5h0m0-13h0m0 70h0m0.5-25h0m0-49h0m0 47.5h0m0 40h0m0-55h0m0.5 39h0m0-89h0m0 19h0m0.5 15.5h0m0 28.5h0m0-23.5h0m0-39.5h0m0 37h0m0 28h0m0.5-1.5h0m0-47h0m0.5 12.5h0m0 12h0m0 5.5h0m0 11h0m0 4h0m0.5-72.5h0m0 71h0m0-31.5h0m0 25.5h0m0-24.5h0m0 118.5h0m0.5-125h0m0 3.5h0m0-18.5h0m0 11h0m0.5 26h0m0 37.5h0m0-62.5h0m0.5 37h0m0-2.5h0m0.5 54h0m0-108.5h0m0 77h0m0 23.5h0m0-40.5h0m0-38.5h0m0.5 73h0m0-57h0m0-19h0m0 67h0m0-55h0m0.5 43h0m0-14.5h0m0-8h0m0 0.5h0m0 13h0m0-69h0m0.5 7h0m0 35.5h0m0 49h0m0.5-32h0m0-9.5h0m0 7h0m0.5-26h0m0.5 23.5h0m0 14h0m0 1.5h0m0 17.5h0m0.5-56.5h0m0 6.5h0m0 30.5h0m0.5 27.5h0m0.5-60.5h0m0 62.5h0m0-58.5h0m0 6.5h0m0 39h0m0.5-31.5h0m0 1.5h0m0-32.5h0m0 26.5h0m0 53h0m0-56.5h0m0 11.5h0m0.5-46.5h0m0 39.5h0m0-1.5h0m0-13h0m0 13h0m0-0.5h0m0.5 7.5h0m0-15h0m0-0.5h0m0 7.5h0m0.5-20.5h0m0 5h0m0-114.5h0m0 136.5h0m0-14h0m0.5 25h0m0-28h0m0 87.5h0m0-59.5h0m0 33h0m0-87h0m0-13.5h0m0 104.5h0m0-70.5h0m0.5-13h0m0 58h0m0.5 19.5h0m0 25.5h0m0-25h0m0-93h0m0 29.5h0m0.5 26h0m0-33h0m0 37.5h0m0-24.5h0m0 29.5h0m0.5-33.5h0m0-42h0m0 20.5h0m0 12h0m0 19.5h0m0 11h0m0-17.5h0m0 17h0m0.5-15.5h0m0 32h0m0-60.5h0m0 56h0m0.5-8h0m0-36.5h0m0 63.5h0m0-8h0m0-9.5h0m0-20h0m0.5 6.5h0m0-21h0m0 17.5h0m0 25.5h0m0-54h0m0-5.5h0m0 44h0m0.5 9.5h0m0-25.5h0m0 50h0m0.5 8.5h0m0-104.5h0m0 30h0m0-24.5h0m0.5 78.5h0m0-87.5h0m0.5 56h0m0-34h0m0.5-15h0m0 78h0m0-29.5h0m0-16.5h0m0.5 2h0m0 21.5h0m0 30h0m0-35h0m0 14h0m0-38.5h0m0 18h0m0 2.5h0m0-42h0m0 78.5h0m0.5-51h0m0 24.5h0m0-8.5h0m0 35.5h0m0.5-67.5h0m0 32h0m0 4.5h0m0-15.5h0m0.5 37h0m0-62.5h0m0.5 49.5h0m0-26.5h0m0 18.5h0m0.5-35h0m0 47h0m0 30h0m0.5-51.5h0m0-11.5h0m0-17.5h0m0 22h0m0 26h0m0-55h0m0-10.5h0m0 65.5h0m0 23.5h0m0 44h0m0-67h0m0-1h0m0.5 19.5h0m0-78h0m0 63h0m0-27.5h0m0-7.5h0m0 9.5h0m0-6.5h0m0.5-64.5h0m0 64.5h0m0 39.5h0m0.5-41.5h0m0 35.5h0m0-22.5h0m0 4.5h0m0-3.5h0m0.5-0.5h0m0-19h0m0.5 12h0m0 50.5h0m0-103.5h0m0 68.5h0m0.5 25.5h0m0-72h0m0 73h0m0-46.5h0m0 9.5h0m0.5-31h0m0 79h0m0-29.5h0m0 17h0m0-13.5h0m0.5-10.5h0m0 18.5h0m0-49h0m0.5 16.5h0m0 23h0m0 37.5h0m0.5-55.5h0m0 4h0m0-27.5h0m0.5 75h0m0-46.5h0m0-4h0m0 32.5h0m0.5-42.5h0m0 29.5h0m0-77h0m0 66h0m0-5.5h0m0 3h0m0.5 30h0m0-10h0m0-22h0m0 1h0m0-10h0m0-1.5h0m0.5 0.5h0m0 6.5h0m0-32h0m0 44h0m0-55h0m0.5 57.5h0m0-31.5h0m0-14h0m0.5 46h0m0 0h0m0-27.5h0m0.5 21.5h0m0-25h0m0 49h0m0.5-7.5h0m0-26.5h0m0 18h0m0-4h0m0.5-23h0m0 3h0m0 13h0m0.5 28.5h0m0-119h0m0 61h0m0 41h0m0-16h0m0 6.5h0m0.5-22.5h0m0-1h0m0 46.5h0m0 88h0m0-153h0m0.5 32h0m0 39.5h0m0.5-85h0m0 57h0m0-39.5h0m0 29.5h0m0-26h0m0 42.5h0m0-14h0m0.5 17.5h0m0-8h0m0 4h0m0-11.5h0m0-53.5h0m0 22.5h0m0-4h0m0.5 44h0m0 37.5h0m0.5-102h0m0 70.5h0m0.5-31.5h0m0-3.5h0m0 1.5h0m0 1h0m0 38.5h0m0-18h0m0.5-9.5h0m0-8.5h0m0-30.5h0m0.5 24.5h0m0-9h0m0-8.5h0m0 34.5h0m0.5-13h0m0 23h0m0-9h0m0 11h0m0-20h0m0 19h0m0.5-20.5h0m0-39.5h0m0 32.5h0m0.5 31.5h0m0-41h0m0.5 66.5h0m0 27h0m0-81.5h0m0 59.5h0m0-72.5h0m0 74.5h0m0-28.5h0m0 20.5h0m0.5 8.5h0m0-39.5h0m0.5 22.5h0m0-62.5h0m0 20h0m0-6.5h0m0.5 5h0m0 12h0m0 0h0m0-8.5h0m0 24.5h0m0 1h0m0-12h0m0 3h0m0 2.5h0m0-66h0m0.5 29h0m0 88.5h0m0-112.5h0m0 51.5h0m0-42.5h0m0.5-15.5h0m0 65.5h0m0-20h0m0-16.5h0m0-1h0m0 13.5h0m0 29.5h0m0.5-2.5h0m1-12.5h0m0 70h0m0.5-61.5h0m0 0.5h0m0 9.5h0m0-76.5h0m0 46.5h0m0.5-9h0m0 8h0m0.5-17.5h0m0 32.5h0m0-2.5h0m0 26h0m0-57.5h0m0 57.5h0m0-63h0m0.5 54.5h0m0-11h0" stroke="#201c1d" stroke-width="8.2" stroke-linecap="round"/>
<path clip-path="url(#b)" d="M244 901h0m0 67.5h0m0.5-45.5h0m0 2h0m0 89h0m0-133h0m0 43h0m0.5-1.5h0m0 3.5h0m0 7h0m0.5-40.5h0m0 7.5h0m0 42h0m0-35h0m0 25h0m0.5-7h0m0 30h0m0-1h0m0 0.5h0m0.5-77.5h0m0 61h0m0-13.5h0m0 31.5h0m0.5-23.5h0m0 30h0m0-77h0m0 94.5h0m0-53h0m0 5h0m0.5-17h0m0-12.5h0m0 46.5h0m0-32.5h0m0 44.5h0m0.5 41h0m0-36.5h0m0-7h0m0-16.5h0m0-21.5h0m0.5-13.5h0m0-15h0m0.5 26h0m0 35h0m0-67h0m0 40h0m0-12h0m0-21h0m0.5 19.5h0m0-1h0m0-40h0m0-11.5h0m0.5-6h0m0 103.5h0m0-17h0m0-43h0m0 49.5h0m0-20h0m0-19.5h0m0.5 43h0m0-67.5h0m0-14h0m0 23.5h0m0 7.5h0m0 58h0m0.5-0.5h0m0-78.5h0m0 37h0m0 42.5h0m0 1h0m0.5-74.5h0m0 71h0m0-24h0m0-8h0m0.5 21h0m0-56h0m0.5 38.5h0m0-22.5h0m0 22.5h0m0-19h0m0 25.5h0m0.5 29h0m0-44h0m0-10h0m0.5-4h0m0 6.5h0m0.5-2h0m0.5 33h0m0-35.5h0m0-77.5h0m0 92.5h0m0.5 4h0m0 7.5h0m0-5.5h0m0-28.5h0m0 18.5h0m0.5 24.5h0m0 3h0m0.5-66h0m0 65.5h0m0-53h0m0 21h0m0 30.5h0m0.5-5h0m0-10.5h0m0-1h0m0 9h0m0-40h0m0.5 23h0m0 4h0m0 4.5h0m0-23.5h0m0 88h0m0-57h0m0 23h0m0-36.5h0m0.5 15.5h0m0.5-12h0m0-3h0m0 8h0m0-21h0m0 32.5h0m0.5 19.5h0m0-63h0m0 0.5h0m0-18h0m0 59.5h0m0 16.5h0m0-17.5h0m0-43h0m0 25h0m0.5 15.5h0m0 8.5h0m0.5-3.5h0m0-62.5h0m0-14.5h0m0 40.5h0m0-34h0m0.5 106.5h0m0-83h0m0 69.5h0m0-22h0m0-30h0m0.5-0.5h0m0 28.5h0m0 13h0m0-61h0m0.5 120.5h0m0-107.5h0m0-30.5h0m0 56h0m0.5-40.5h0m0 22.5h0m0-15.5h0m0.5-11.5h0m0 32.5h0m0-5.5h0m0 51h0m0.5-43.5h0m1-56h0m0 84.5h0m0-37.5h0m0 18h0m0.5 47h0m0-112.5h0m0 12.5h0m0-6.5h0m0 59.5h0m0.5-28h0m0 37h0m0 0.5h0m0-43h0m0 15h0m0 37h0m0.5 20.5h0m0-2h0m0-44.5h0m0 19h0m0.5 6h0m0 0.5h0m0-35.5h0m0.5 33.5h0m0-35.5h0m0-18.5h0m0 103.5h0m0-109h0m0 11h0m0.5 20.5h0m0.5-12h0m0 31.5h0m0-27h0m0.5-24h0m0 42h0m0-33h0m0.5 18.5h0m0.5-16.5h0m0.5-16h0m0 68h0m0-13.5h0m0-27.5h0m0 9.5h0m0-38h0m0 5.5h0m0.5 31h0m0 28.5h0m0-46h0m0.5 8h0m0-33h0m0 50h0m0-35h0m0.5 1h0m0-18h0m0 42.5h0m0 53.5h0m0-23h0m0-68h0m0.5 90h0m0-63h0m0 28h0m0.5-4h0m0 62h0m0-107h0m0 51h0m0.5-17.5h0m0-14.5h0m0 42h0m0-62h0m0.5 96h0m0-35h0m0-71.5h0m0 51.5h0m0.5-36h0m0.5 42.5h0m0-21.5h0m0 61.5h0m0.5-2h0m0 43.5h0m0-123.5h0m0.5 31.5h0m0.5-33h0m0.5 57h0m0-15.5h0m0 26.5h0m0.5 13h0m0.5-55.5h0m0 21h0m0-77.5h0m0 78.5h0m0-14.5h0m0.5 11.5h0m0-24h0m0 87h0m0-102h0m0 14h0m0 0.5h0m0 47h0m0-16h0m0.5-2h0m0-49.5h0m0.5 65.5h0m0-22h0m0-34h0m0-56h0m0.5 126h0m0-48.5h0m0-68h0m0 104h0m0.5 0.5h0m0-141h0m0 128.5h0m0-2.5h0m0-43.5h0m0.5 9.5h0m0.5 4.5h0m0 49h0m0-54h0m0 17h0m0-11h0m0-16.5h0m0.5 35h0m0-54.5h0m0-6.5h0m0-1.5h0m0 73h0m0 46.5h0m0.5-52h0m0.5-15.5h0m0 4h0m0.5 13.5h0m0-19.5h0m0.5-19h0m0 61.5h0m0.5-37.5h0m0-6.5h0m0 23.5h0m0.5 21.5h0m0-37.5h0m0 15.5h0m0-32.5h0m0 1.5h0m0 31h0m0 4.5h0m0-11.5h0m0.5 15.5h0m0-45h0m0-23.5h0m0 0.5h0m0.5 51h0m0-59.5h0m0 67.5h0m0.5-11h0m0 18.5h0m0-45h0m0.5-7h0m0 44.5h0m0-41h0m0.5 16h0m0 9h0m0-7h0m0 9h0m0 5h0m0.5-18h0m0.5 9h0m0 12h0m0-65.5h0m0 84.5h0m0.5-24.5h0m0-31h0m0.5 16h0m0 32.5h0m0-32h0m0.5 12h0m0 17.5h0m0 9h0m0-33.5h0m0 1.5h0m0.5-14.5h0m0 10.5h0m0 24.5h0m0.5-11h0m0-28.5h0m0 42h0m0-38.5h0m0-4h0m0.5 2.5h0m0-22.5h0m0 79h0m0.5-96.5h0m0 54h0m0 11.5h0m0-43.5h0m0 58.5h0m0.5 4h0m0-7h0m0.5-29.5h0m0 39.5h0m0-99h0m0.5 113.5h0m0-39.5h0m0 0h0m0.5-16.5h0m0 30.5h0m0-44.5h0m0.5 20h0m0 7.5h0m0.5 18h0m0.5-71h0m0 52h0m0-1h0m0 25.5h0m0.5-45h0m0-13h0m0 29h0m0 1h0m0.5-17.5h0m0 6h0m0 37.5h0m0.5-20.5h0m0 14.5h0m0-58.5h0m0.5 31h0m0-32h0m0 63h0m0 7.5h0m0 46.5h0m0-65.5h0m0-21.5h0m0 62h0m0-9h0m0.5-77.5h0m0 20.5h0m0-29h0m0 7h0m0-14.5h0m0 19h0m0.5 57h0m0-4.5h0m0.5 12.5h0m0-68h0m0 41.5h0m0.5-3.5h0m0-28.5h0m0 54.5h0m0 4.5h0m0-33.5h0m1 23.5h0m0-26h0m0 38h0m0-2h0m0-71.5h0m0 18h0m0.5 47.5h0m0-20.5h0m0 46h0m0.5-60h0m0-17h0m0.5 43.5h0m0-30.5h0m0-37h0m0 24h0m0 41.5h0m0-17.5h0m0-1.5h0m0 8h0m0 4.5h0m0 6.5h0m0-28h0m0 39h0m0.5-23.5h0m0-26.5h0m0.5 44h0m0 16.5h0m0-71.5h0m0 48h0m0 33h0m0.5-36h0m0-65.5h0m0 55h0m0.5 30h0m0-2.5h0m0.5-31h0m0 1h0m0-12.5h0m0.5-14h0m0 3h0m0 36.5h0m0-21h0m0.5-28.5h0m0-17.5h0m0 33h0m0 58.5h0m0-89.5h0m0 56.5h0m0-96.5h0m0.5 130.5h0m0 9.5h0m0.5-25.5h0m0 3h0m0-7.5h0m0.5-17h0m0 22h0m0-68h0m0 39h0m0-19h0m0 49h0m0 10.5h0m0 8h0m0.5-12h0m0-23h0m0 28h0m0.5 1.5h0m0-23.5h0m0 1h0m0-15.5h0m0-25h0m0.5 58h0m0-19.5h0m0 12h0m0-10h0m0 33.5h0m0.5-86h0m0.5 44h0m0 29h0m0 5.5h0m0-39.5h0m0.5 30h0m0-25h0m0-18h0m0 6.5h0m0 12.5h0m0.5 40h0m0-66h0m0 2.5h0m0 2.5h0m0-25.5h0m0.5 39.5h0m0-51h0m0 94h0m0-22.5h0m0-64h0m0 48h0m0-25h0m0.5 31h0m0 6.5h0m0.5-14.5h0m0-62h0m0 119h0m0 1h0m0-58.5h0m0.5-45h0m0 36.5h0m0-54.5h0m0 85h0m0-16.5h0m0.5-11.5h0m0 20h0m0 45h0m0.5-69h0m0 17h0m0-16.5h0m0-63h0m0.5 117.5h0m0-26h0m0 5h0m0-24h0m0 59h0m0-45.5h0m0-19h0m0 34.5h0m0-27.5h0m0-30.5h0m0.5 32.5h0m0 51.5h0m0-96.5h0m0 33.5h0m0 1.5h0m0-2.5h0m0.5 24h0m0 4.5h0m0-59h0m0 61.5h0m0 18.5h0m0-70h0m0.5-19.5h0m0 42h0m0-8h0m0 2.5h0m0.5-4h0m0-20.5h0m0 62.5h0m0 4h0m0.5-62h0m0 39h0m0 8.5h0m0-2.5h0m0.5-42h0m0-6h0m0 92h0m0-104h0m0 25h0m0 15.5h0m0.5 16.5h0m0-45h0m0 18.5h0m0 56.5h0m1 0h0m0-41h0m0-22.5h0m0-1h0m0.5 41h0m0-50h0m0 55.5h0m0-45h0m0-19h0m0.5 3h0m0 81.5h0m0-69h0m0 18.5h0m0.5 1h0m0-42.5h0m0 48.5h0m0.5 5.5h0m0.5 19h0m0-47.5h0m0-1.5h0m0 23h0m0 12h0m0 15h0m0-78.5h0m0 26h0m0 42h0m0.5-11.5h0m0 51.5h0m0-27h0m0-77h0m0 98h0m0-54h0m0.5 2.5h0m0 5h0m0.5-35h0m0.5 81.5h0m0-75h0m0-5h0m0 41h0m0 2.5h0m0 26h0m0.5-75h0m0 43.5h0m0-8h0m0.5-33.5h0m0 6h0m0 78h0m0-85h0m0 39.5h0m0.5-49h0m0 41.5h0m0.5 28.5h0m0-86h0m0 54h0m0.5 62.5h0m0-54.5h0m0.5 12h0m0-54.5h0m0 35.5h0m0-20h0m0 51.5h0m0.5-39.5h0m0-5h0m0.5 16h0m0-47.5h0m0 40.5h0m0-12h0m0 17.5h0m0 3.5h0m0 1h0m0 13h0m0.5-6h0m0-44.5h0m0-45h0m0 107h0m0.5-5h0m0 0.5h0m0-26h0m0 41.5h0m0.5-65h0m0-5.5h0m0 118.5h0m0.5-102h0m0 32.5h0m0-2h0m0 11.5h0m0.5-24h0m0 21h0m0 14h0m0-62h0m0-43h0m0 90.5h0m0-82h0m0.5 78h0m0-11h0m0 33h0m0-27h0m0 31.5h0m0-47h0m0.5-44.5h0m0 78.5h0m0-5h0m0-17.5h0m0 17.5h0m0.5-19h0m0-40.5h0m0 12h0m0 35h0m0.5 54.5h0m0-44.5h0m0-108.5h0m0 76h0m0-40h0m0.5 24h0m0-25h0m0 59.5h0m0-4h0m0-4h0m0 11h0m0.5-16.5h0m0 14.5h0m0.5 42h0m0-49h0m0-25h0m0 58h0m0.5-61h0m0 84.5h0m0-47.5h0m0.5 20.5h0m0-39.5h0m0 58h0m0.5-55h0m0.5-15.5h0m0 17.5h0m0-2.5h0m0 11h0m0 14.5h0m0 8.5h0m0.5-12.5h0m0-6h0m0-16h0m0-32h0m0.5 33.5h0m0.5 36.5h0m0-20.5h0m0 18h0m0-13.5h0m0.5 23.5h0m0-76h0m0 0.5h0m0-37h0m0 34.5h0m0.5 36.5h0m0-38.5h0m0 101.5h0m0-66h0m0-13h0m0 44h0m0-4h0m0 19.5h0m0-44.5h0m0.5 1h0m0 22h0m0 21.5h0m0-16.5h0m0-13h0m0.5-35.5h0m0-13.5h0m0 67h0m0.5-40h0m0 18h0m0.5-44h0m0 79h0m0-6h0m0-29.5h0m0 23h0m0-60.5h0m0.5-2h0m0-15.5h0m0 87.5h0m0-33h0m0 4h0m0.5 8h0m0-18h0m0-26h0m0.5-62.5h0m0 86.5h0m0 18.5h0m0-21h0m0-35.5h0m0.5 21.5h0m0 46h0m0-21.5h0m0-45h0m0.5 42h0m0 53.5h0m0-81.5h0m0.5-18.5h0m0 44h0m0-8h0m0 45h0m0.5-61h0m0-17h0m0 46h0m0.5-38.5h0m0 47h0m0-61.5h0m0 26.5h0m0-4.5h0m0 29h0m0.5 50h0m0-12.5h0m0-86.5h0m0 99h0m0.5-116h0m0 102h0m0-67.5h0m0 22h0m0 11.5h0m0-5h0m0-69h0m0 124h0m0-32h0m0.5-9.5h0m0-66.5h0m0.5 44h0m0.5-29h0m0 52.5h0m0-29h0m0 73.5h0m0.5-73h0m0 19.5h0m0 6h0m0.5-34h0m0 25.5h0m0-31h0m0 13.5h0m0-35.5h0m0 39h0m0.5-13h0m0 47.5h0m0-45h0m0-8h0m0 30.5h0m0.5-56.5h0m0.5 49h0m0-55h0m0 41h0m0 26.5h0m0-27.5h0m0.5 2.5h0m0 37h0m0-38h0m0.5 43.5h0m0-2h0m0.5-11.5h0m0-50h0m0 62.5h0m0-60.5h0m0-1h0m0 19.5h0m0-20h0m0 65h0m0-67h0m0.5 36.5h0m0 21h0m0 7.5h0m0.5 4h0m0-29h0m0 34.5h0m0 12.5h0m0-30h0m0 18.5h0m1-20.5h0m0-14h0m0 12h0m0.5-40h0m0 39h0m0-58.5h0m0 72.5h0m0.5-23h0m0 30h0m0-59.5h0m0 13.5h0m0.5-7h0m0-14h0m0 20h0m0 14h0m0-47.5h0m0 49.5h0m0-38.5h0m0.5 22.5h0m0 1.5h0m0 28h0m0-32.5h0m0 52.5h0m0-97.5h0m0.5 77h0m0 3h0m0-3h0m0 16h0m0-108.5h0m0 93h0m0.5-5.5h0m0-9.5h0m0-8h0m0-59h0m0 79h0m0 36h0m0.5-47.5h0m0.5-20h0m0-28.5h0m0 83h0m0-48h0m0-7.5h0m0.5-14h0m0 2.5h0m0 30.5h0m0.5-19.5h0m0 31.5h0m0.5-39.5h0m0-33h0m0 56.5h0m0 37.5h0m0-19.5h0m0.5-28.5h0m0 1.5h0m0 12.5h0m0-54h0m0.5-2.5h0m0 77h0m0-60.5h0m0 44.5h0m0.5-1h0m0 34h0m0-14h0m0-60h0m0-46.5h0m0 60.5h0m0.5 14.5h0m0-7.5h0m0 46h0m0-71.5h0m0.5 38h0m0.5 45h0m0-65h0m0.5 19.5h0m0-3.5h0m0.5 16.5h0m0 30.5h0m0-73h0m0.5 45.5h0m0 8.5h0m0-25h0m0 7.5h0m0 28.5h0m0.5-12.5h0m0-17h0m0-9h0m0 81.5h0m0-42.5h0m0-65h0m0.5 103.5h0m0 30.5h0m0-118.5h0m0 44.5h0m0-57.5h0m0.5 32h0m0-41h0m0 71h0m0-27.5h0m0-12h0m0 42h0m0.5-48h0m0 29h0m0 5h0m0-29.5h0m0 41.5h0m0-44.5h0m0 1.5h0m0-14h0m0 18.5h0m0 28h0m0.5-24h0m0.5 10.5h0m0-1h0m0 10.5h0m0-28.5h0m0.5 36.5h0m0 7h0m0-64.5h0m0 67.5h0m0-44.5h0m0-35h0m0.5 44.5h0m0 10h0m0.5 7h0m0.5 0.5h0m0-11.5h0m0 38.5h0m0-79.5h0m0 41.5h0m0.5-66h0m0 100.5h0m0 13h0m0.5-92.5h0m0-4h0m0 63.5h0m0-56.5h0m0 35.5h0m0.5 52.5h0m0-36.5h0m0 37.5h0m0-63.5h0m0.5 7.5h0m0 39.5h0m0.5-91.5h0m0.5 78.5h0m0-29h0m0 34h0m0.5-59.5h0m0 36.5h0m0-78h0m0 99h0m0 0h0m0.5-42h0m0 32h0m0.5-27.5h0m0 11.5h0m0 24.5h0m0-57h0m0 14.5h0m0.5 59.5h0m0-52h0m0-9.5h0m0 15.5h0m0-43.5h0m0.5 30h0m0-33h0m0.5 40.5h0m0 36h0m0 56h0m0-42.5h0m0.5-81.5h0m0 50h0m0-19h0m0 30h0m0.5-14.5h0m0-18h0m0 21.5h0m0-17.5h0m0 23h0m0-6h0m0.5-3h0m0-69h0m0 84h0m0-39h0m0-14.5h0m0.5 92h0m0-19h0m0-56h0m0 20.5h0m0.5 2h0m0-40.5h0m0 16.5h0m0 11h0m0 42.5h0m0.5-57h0m0 11h0m0 48h0m0-80.5h0m0.5 102h0m0-4h0m0-96h0m0 76h0m0-70h0m0 29h0m0 32h0m0.5-53h0m0.5 26h0m0-1.5h0m0-36.5h0m0.5 13.5h0m0 13.5h0m0-6h0m0 47.5h0m0.5 41.5h0m0-69h0m0-9h0m0-42h0m0.5 53h0m0-17h0m0-34h0m0-16.5h0m0 90.5h0m0.5-46h0m0 98.5h0m0-58h0m0-3.5h0m0-80.5h0m0 15h0m0.5 55h0m0-13.5h0m0 63h0m0-112h0m0 45h0m0.5 7.5h0m0-5.5h0m0 38h0m0 15h0m0.5-9.5h0m0-64.5h0m0-48h0m0 98.5h0m0.5-54.5h0m0 54h0m0-43.5h0m0.5 22h0m0 34.5h0m0 0h0m0-60.5h0m0.5-21h0m0 80h0m0-63h0m0.5 34.5h0m0.5-49h0m0 39h0m0-12.5h0m0 33.5h0m0.5 23h0m0-30h0m0-12h0m0 6h0m0.5-39h0m0 16h0m0 63h0m0-60.5h0m0-19.5h0m0.5 28h0m0-6h0m0.5 2.5h0m0 27h0m0-31.5h0m0 14.5h0m0-23h0m0.5 54.5h0m0-21.5h0m0 55h0m0-52h0m0-46h0m0-9h0m0 28h0m0.5 22h0m0-7h0m0-9h0m0.5 21.5h0m0 2h0m0 14h0m0 26h0m0-93h0m0 19h0m0 33.5h0m0.5-27h0m0-28.5h0m0 76h0m0-58.5h0m0-18.5h0m0 58h0m0 33.5h0m0.5-49.5h0m0-73.5h0m0 85h0m0 29.5h0m0 32.5h0m0-6.5h0m0-21h0m0-54h0m0 12h0m0 10h0m0.5-14.5h0m0 9h0m0 11h0m0-22.5h0m0-10.5h0m0 18h0m0.5 2h0m0-28.5h0m0-2h0m0 28.5h0m0-36h0m0 71.5h0m0-23h0m0.5 35.5h0m0-71h0m0 15.5h0m0.5-39h0m0 24h0m0 32h0m0 5.5h0m0-62h0m0.5 14h0m0 27h0m0-7.5h0m0 25.5h0m0-36h0m0.5 17.5h0m0-39.5h0m0 86h0m0-32.5h0m0 5.5h0m0.5 5.5h0m0-11.5h0m0 38.5h0m0-10h0m0-19.5h0m0 18h0m0 13.5h0m0.5-57h0m0 54h0m0.5-87.5h0m0 48.5h0m0 6.5h0m0 19h0m0-27.5h0m0-2h0m0.5-11h0m0 22h0m0.5 12.5h0m0-35.5h0m0 60h0m0-53h0m0 30.5h0m0-21.5h0m0.5-25.5h0m0.5-14h0m0 24h0m0-27.5h0m0 33.5h0m0 7.5h0m0.5 5h0m0-22h0m0.5-24.5h0m0 36.5h0m0 13h0m0 7h0m0-9h0m0.5-46.5h0m0 19h0m0.5 25h0m0-6.5h0m0-16h0m0.5 1.5h0m0 2.5h0m0 39h0m0-61h0m0 92h0m0-55h0m0.5 30.5h0m0.5-22.5h0m0 40.5h0m0-47h0m0.5-96.5h0m0 71h0m0 70h0m0-78.5h0m0-4h0m0.5-33.5h0m0 82.5h0m0 45h0m0-81.5h0m0-21h0m0.5 69h0m0-23.5h0m0-32.5h0m0.5-6h0m0 52h0m0-27.5h0m0-22h0m0-4h0m0.5 16.5h0m0-47.5h0m0.5 96h0m0-33h0m0.5 21h0m0-12.5h0m0-15.5h0m0 37.5h0m0-71h0m0-10h0m0.5 38.5h0m0-8.5h0m0 99.5h0m0.5-88.5h0m0 11h0m0.5-1.5h0m0 34.5h0m0-35.5h0m0 27h0m0-20h0m0 15.5h0m0-14h0m0.5-13h0m0 16.5h0m0 24h0m0-19h0m0-36h0m0 46h0m0.5-47h0m0 8h0m0 19h0m0 9h0m0 7.5h0m0.5-1.5h0m0-43.5h0m0.5 49h0m0-26.5h0m0-30h0m0 56.5h0m0-14.5h0m0 7h0m0.5-27.5h0m0 48.5h0m0-13h0m0.5 50.5h0m0-15h0m0-60h0m0 3.5h0m0 22h0m0.5-35h0m0-6h0m0 10h0m0-16h0m0 22h0m0 85h0m0-33h0m0.5-56h0m0 45.5h0m0-24h0m0 0.5h0m0-24h0m0 30h0m0.5-6.5h0m0-30.5h0m0 44.5h0m0-47.5h0m0-26h0m0.5 14.5h0m0 51h0m0-48h0m0 6.5h0m0 11h0m0.5-71h0m0 93.5h0m0-13h0m0 14h0m0-2h0m0-41.5h0m0 25.5h0m0.5-2.5h0m0 5.5h0m0-51.5h0m0.5 75.5h0m0.5-41.5h0m0 40.5h0m0-106.5h0m0 43h0m0.5 30h0m0 16.5h0m0 9.5h0m0 12h0m0-53h0m0 31.5h0m0.5-18h0m0-25h0m0-14h0m0.5 18h0m0 33h0m0.5-6.5h0m0 46.5h0m0-50.5h0m0 15.5h0m0-44h0m0.5 23h0m0 62h0m0-34h0m0.5-4.5h0m0.5 2h0m0-69.5h0m0 90h0m0-8h0m0-24h0m0.5 10.5h0m0-0.5h0m0-15h0m0 35.5h0m0-50.5h0m0 16.5h0m0 12h0m0.5 2h0m0-6.5h0m0-29.5h0m0 14.5h0m0 29.5h0m0.5-22h0m0 20.5h0m0-36.5h0m0 20h0m0 6h0m0.5-6.5h0m0 33h0m0-42h0m0 17.5h0m0-12h0m0 6h0m0.5-23.5h0m0 33.5h0m0-84.5h0m0 67h0m0.5 23h0m0-19.5h0m0 18h0m0-19h0m0-10h0m0 30h0m0.5-16h0m0-17.5h0m0-18h0m0 9h0m0.5 18.5h0m0.5 27h0m0-66.5h0m0 48.5h0m0 40.5h0m0-75.5h0m0 16h0m0.5 5h0m0-2h0m0 14.5h0m0-21h0m0.5 36h0m0-67.5h0m0 80.5h0m0-18h0m0.5 38.5h0m0-76h0m0 24.5h0m0 44h0m0 39.5h0m0.5-20.5h0m0-72h0m0 20h0m0-24.5h0m0-28h0m0 19h0m1 36.5h0m0-46h0m0.5 26.5h0m0 8h0m0-12.5h0m0 33h0m0.5-93h0m0.5 74h0m0 14h0m0 8h0m0.5-26h0m0-4h0m0 6.5h0m0.5-19.5h0m0 20.5h0m0 10h0m0-26h0m0.5 61h0m0-44h0m0 28h0m0-80h0m0.5 46.5h0m0 55h0m0-55h0m0 90.5h0m0-85.5h0m0 43h0m0.5-49h0m0-3.5h0m0 17h0m0-29h0m0 13h0m0.5-5.5h0m0.5-14.5h0m0 60.5h0m0.5-37.5h0m0 19h0m0 1h0m0.5 17.5h0m0 0h0m0-37.5h0m0-3.5h0m0 22.5h0m0-39.5h0m0 52h0m0-3.5h0m0.5-62h0m0 125.5h0m0-80.5h0m0.5 32.5h0m0-81.5h0m0 56.5h0m0.5 7.5h0m0 30.5h0m0-64h0m0 60.5h0m0-66h0m0 14.5h0m0.5 47.5h0m0.5-55h0m0-31.5h0m0 29h0m0 11.5h0m0 27.5h0m0.5 11.5h0m0-26.5h0m0 50h0m0-99h0m0 24h0m0 32.5h0m0.5-20h0m0-33h0m0 48h0m0.5 4.5h0m0-22h0m0.5-0.5h0m0-2h0m0-33.5h0m0.5 59.5h0m0-31.5h0m0 31.5h0m0.5 12.5h0m0-44h0m0 14.5h0m0.5 40.5h0m0-31.5h0m0-19h0m0-29.5h0m0-9.5h0m0 70.5h0m0.5-56.5h0m0.5 36.5h0m0.5 34h0m0.5-6h0m0-52h0m0 68h0m0-115.5h0m0 70h0m0 7h0m0 0h0m0 7.5h0m0-6h0m0.5-10h0m0-4.5h0m0-10.5h0m0 1.5h0m0.5 53.5h0m0-4h0m0-59.5h0m0 22h0m0-59h0m0 48h0m0 7h0m0.5-8h0m0 37h0m0-12.5h0m0-20h0m0-15.5h0m0 19.5h0m0.5 69.5h0m0-108.5h0m0 37h0m0 39.5h0m0-36.5h0m0-15h0m0.5 1.5h0m0 38.5h0m0 20.5h0m0-118h0m0.5 89.5h0m0-19.5h0m0 46.5h0m0-16.5h0m0 6h0m0.5-13h0m0-16h0m0-27.5h0m0 21h0m0.5 16.5h0m0 43h0m0-45.5h0m0.5-37.5h0m0 40.5h0m0 17h0m0 17.5h0m0.5-8.5h0m0-42h0m0 1h0m0-58h0m0 50.5h0m0-39.5h0m0 48.5h0m0.5 41h0m0-25h0m0-57h0m0.5 68h0m0-7h0m0-60h0m0.5 21h0m0 47h0m0.5-18.5h0m0 7.5h0m0.5-61h0m0 50h0m0 22h0m0.5-43.5h0m0 16h0m0.5-6.5h0m0 7h0m0.5 9.5h0m0-44.5h0m0 45h0m0-16.5h0m0.5 67.5h0m0-61h0m0 7.5h0m0-22h0m0 13.5h0m0.5-26h0m0 19h0m0-6h0m0-35h0m0.5 15h0m0 26h0m0 26h0m0-39.5h0m0.5 5.5h0m0-2h0m0.5-16.5h0m0 31h0m0 45h0m0-48h0m0.5-13h0m0.5 31.5h0m0 25h0m0 0.5h0m0.5-26h0m0 26h0m0-69.5h0m0 12h0m0.5 12.5h0m0 38.5h0m0-86.5h0m0 61.5h0m0.5-14.5h0m0 53.5h0m0-62.5h0m0 44h0m0-16h0m0.5 11h0m0 14h0m0-13h0m0-13.5h0m0-7h0m0.5-21.5h0m0-1h0m0 41h0m0.5-54h0m0 27h0m0-51.5h0m0 67.5h0m0.5 12.5h0m0-22.5h0m0-20.5h0m0 20.5h0m0 16h0m0.5-57h0m0 63h0m0.5-45h0m0 61.5h0m0.5-28h0m0-6.5h0m0-4h0m0.5-24h0m0 35h0m0-33h0m0 40.5h0m0.5-23.5h0m0-13.5h0m0 1h0m0.5 37.5h0m0.5 38.5h0m0-101.5h0m0 78h0m0.5-16.5h0m0-72.5h0m0 51h0m0-31h0m0 13h0m0.5 17h0m0 37h0m0-61.5h0m0.5 86h0m0-49.5h0m0 15h0m0-7h0m0-50h0m0 17h0m0 21.5h0m0.5 20.5h0m0-70.5h0m0 37h0m0 46.5h0m0-42.5h0m0 64.5h0m0-122.5h0m0.5 20.5h0m0 0h0m0 99.5h0m0-63.5h0m0 52.5h0m0-17h0m0-48.5h0m0-15.5h0m0.5 44.5h0m0 65h0m0-81h0m0.5 59.5h0m0-89.5h0m0 79h0m0-64h0m0 4.5h0m0 24.5h0m0.5 15.5h0m0-35h0m0 40.5h0m0-16h0m0-48h0m0.5 40.5h0m0 6.5h0m0-1h0m0-33.5h0m0.5 75.5h0m0-36h0m0 10h0m0-8h0m0-20.5h0m0-29h0m0.5 71.5h0m0-48h0m0.5 30.5h0m0 6h0m0-21.5h0m0.5-10.5h0m0 5h0m0-26.5h0m0.5 63h0m0-37h0m0.5 25h0m0 40.5h0m0-78h0m0 55h0m0-38.5h0m0 24h0m0-64h0m0 69.5h0m0-84h0m0.5 33.5h0m0 22h0m0 50h0m0-23.5h0m0-72h0m0 88.5h0m0 3.5h0m1-91h0m0-24.5h0m0.5 62.5h0m0-4.5h0m0 9.5h0m0.5-7h0m0-4h0m0-23.5h0m0 22.5h0m0.5 9h0m0-47.5h0m0 79h0m0 23.5h0m0-15.5h0m0-53h0m0.5 19h0m0-16h0m0 0.5h0m0 41.5h0m0-83.5h0m0 54.5h0m0 74.5h0m0.5-70h0m0 44h0m0-11h0m0.5-42h0m0-3h0m0 54.5h0m0.5-10h0m0-9.5h0m0.5-53.5h0m0 25.5h0m0.5 0.5h0m0-4.5h0m0 12h0m0-15.5h0m0 33.5h0m0.5-86.5h0m0 18.5h0m0 60h0m0-20.5h0m0-22.5h0m0.5 14.5h0m0-25.5h0m0 66h0m0-20.5h0m0.5 9h0m0 38h0m0-72h0m0 42h0m0-29h0m0.5 17.5h0m0 9.5h0m0-22h0m0 60h0m0-51h0m0-53h0m0 43.5h0m0.5-33.5h0m0 8.5h0m0-25h0m0.5 66h0m0-79.5h0m0 47.5h0m0 42.5h0m0-36.5h0m0.5-26h0m0 40h0m0-25h0m0-9h0m0 48h0m0.5 2.5h0m0 17h0m0.5-11h0m0-26.5h0m0 25h0m0-31h0m0 5h0m0 36h0m0-50.5h0m0-27.5h0m0.5 34.5h0m0 63.5h0m0-48h0m0.5-3h0m0 15h0m0-60.5h0m0 15.5h0m0.5 41.5h0m0-30.5h0m0-24.5h0m0.5 1h0m0 48.5h0m0-36h0m0 16h0m0-23.5h0m0 19h0m0.5-85h0m0 87.5h0m0 38.5h0m0-32h0m0.5 7h0m0.5-33.5h0m0 44.5h0m0-34h0m0.5 12.5h0m0-9.5h0m0 43h0m0.5 16.5h0m0.5-57h0m0 45h0m0-24h0m0 37h0m0-60h0m0-7.5h0m0 43.5h0m0.5-71.5h0m0 83h0m0 1.5h0m0-27h0m0-15.5h0m0-26h0m0 28h0m0 31.5h0m0.5 0h0m0 7h0m0-44h0m0.5 56h0m0.5-49.5h0m0 33.5h0m0.5-27.5h0m0 15.5h0m0-1h0m0-2h0m0-5.5h0m0.5-6.5h0m0 2h0m0-9h0m0-2h0m0.5 67h0m0-96.5h0m0 53h0m0.5-34.5h0m0 17h0m0 33h0m0-48.5h0m0.5 26.5h0m0-5.5h0m0 45.5h0m0-21h0m0 4h0m0-41.5h0m0.5 40.5h0m0 42h0m0-91.5h0m0 21h0m0.5 14.5h0m0 10h0m0-5h0m0-15h0m0-32.5h0m0 17.5h0m0 12h0m0-28h0m0.5 89.5h0m0-76h0m0 50h0m0-77.5h0m0.5 46.5h0m0-37h0m0-3.5h0m0 44h0m0 26.5h0m0-54h0m0 43.5h0m0.5-30.5h0m0 5h0m0-4h0m0 14h0m0 11h0m0-26h0m0.5 11.5h0m0 1h0m0 18h0m0-8.5h0m0.5-30h0m0 37h0m0-14.5h0m0-2.5h0m0-35.5h0m0 17h0m0 9h0m0-6.5h0m0-21.5h0m0.5 70.5h0m0-64h0m0.5 49h0m0-27.5h0m0-41h0m0 89.5h0m0-17.5h0m0.5-38.5h0m0.5 47.5h0m0-24.5h0m0-29.5h0m0 26h0m0.5 22h0m0-31h0m0.5 23.5h0m0-27h0m0-10.5h0m0.5-22.5h0m0 48h0m0 36.5h0m0.5-62.5h0m0-18.5h0m0 25h0m0 14.5h0m0 31.5h0m0-41h0m0 15h0m0-12h0m0-23h0m0.5 14h0m0-3h0m0-10.5h0m0 14h0m0 6.5h0m0-41.5h0m0.5 100h0m0-15.5h0m0-36h0m0.5-29.5h0m0-2h0m0 8.5h0m0-7.5h0m0.5 39.5h0m0-94.5h0m0.5 53h0m0-17h0m0 38.5h0m0-24.5h0m0.5 42h0m0-60h0m0 77.5h0m1-26h0m0 55h0m0-49.5h0m0 10h0m0.5-8.5h0m0-92h0m0 95.5h0m0-46.5h0m0-9h0m0 90h0m0.5-25h0m0-28h0m0.5 38.5h0m0-98.5h0m0 92h0m0-21.5h0m0-22h0m0.5 52h0m0-29h0m0-48h0m0.5-14h0m0-58h0m0 77h0m0 75h0m0-58h0m0 24h0m0-23h0m0 16h0m0.5 8h0m0 33.5h0m0 21.5h0m0-89.5h0m0.5 1.5h0m0 25.5h0m0 43.5h0m0-69.5h0m0.5 46.5h0m0-23.5h0m0-0.5h0m0-13.5h0m0.5 57.5h0m0-62h0m0-5h0m0-40h0m0.5 79h0m0-72.5h0m0-12h0m0.5 68.5h0m0 19.5h0m0 113h0m0-152.5h0m0-17.5h0m0.5 61h0m0-43.5h0m0-9.5h0m0 3h0m0-31h0m0 108h0m0.5-33.5h0m0-73h0m0 81h0m0-14.5h0m0 1.5h0m0 2h0m0.5-20.5h0m0-9h0m0 45.5h0m0.5 49h0m0-59h0m0-14h0m0 38h0m0-16h0m0.5-18.5h0m0 62h0m0-71h0m0-10h0m0-17.5h0m0 56.5h0m0.5-35h0m0 22.5h0m0 27.5h0m0-108h0m0 22.5h0m0.5 37.5h0m0.5-30h0m0 1h0m0 31h0m0-17.5h0m0 65h0m0.5 2.5h0m0-40h0m0.5-10h0m0-17h0m0 26h0m0-33h0m0.5 23h0m0 27.5h0m0-36.5h0m0.5 18.5h0m0-17h0m0 6h0m0.5 30h0m0-6.5h0m0-6h0m0-31.5h0m0 40h0m0.5-87.5h0m0 77h0m0-13h0m0 9h0m0.5 20h0m0 0h0m0-29h0m0-17h0m0.5 19h0m0 10.5h0m0 31.5h0m0-47.5h0m0-41h0m0.5 7.5h0m0 70h0m0-58h0m0 19h0m0.5 28h0m0-47.5h0m0 65.5h0m0.5-6.5h0m0 12h0m0-23h0m0 19.5h0m0-27h0m0.5-29.5h0m0 23.5h0m0 39h0m0.5-23.5h0m0.5-56h0m0 44h0m0 8h0m0.5-51.5h0m0.5-22.5h0m0 69.5h0m0 24h0m0-33h0m0.5-99h0m0 77.5h0m0-11.5h0m0.5 47h0m0-38h0m0 50h0m0.5-42.5h0m0 45h0m0-8h0m0-38h0m0 93h0m0.5-79h0m0-33.5h0m0 54h0m0-83h0m0.5 89.5h0m0-14.5h0m0 17h0m0-14h0m0.5-49.5h0m0-1.5h0m0.5 58h0m0-17h0m0 6h0m0-1.5h0m0-46.5h0m0 6h0m0.5 83.5h0m0-32.5h0m0-57.5h0m0 51.5h0m0-32.5h0m0.5-47h0m0 50h0m0 39.5h0m0-5h0m0-62h0m1 28.5h0m0 17h0m0-3h0m0-21h0m0.5-7h0m0 3h0m0 29.5h0m0 19.5h0m0-26.5h0m0-11.5h0m0.5 4.5h0m0 103.5h0m0-95h0m0 9h0m0-35.5h0m0.5 38.5h0m0-60h0m0-11.5h0m0.5 60.5h0m0 7.5h0m0-9.5h0m0 41.5h0m0.5-9h0m0-34.5h0m0-23h0m0.5 1h0m0 34h0m0-29h0m0-36.5h0m0 84.5h0m0 32.5h0m0.5-62.5h0m0 41.5h0m0 34h0m0-72h0m0.5 4h0m0 48h0m0.5-51.5h0m0.5 28.5h0m0-71h0m0 41.5h0m0.5-17h0m0 19.5h0m0-16h0m0-32h0m0.5 40.5h0m0-65.5h0m0 107.5h0m0-3h0m0-33.5h0m0-47h0m0.5 18h0m0 87h0m0-34h0m0.5-31h0m0 5h0m0 25h0m0-21.5h0m0 31h0m0.5-56h0m0 36h0m0-8.5h0m0-46.5h0m0.5 47h0m0-19.5h0m0.5 0.5h0m0-16.5h0m0 54.5h0m0-12h0m0.5-3h0m0-11h0m0 45.5h0m0-45h0m0-14h0m0 25.5h0m0 15.5h0m0-5.5h0m0-4h0m0.5-6.5h0m0 13h0m0-23.5h0m0-35h0m0.5-20h0m0 26.5h0m0 37.5h0m0 8.5h0m0.5 11h0m0-35.5h0m0.5 9h0m0.5 36.5h0m0-40h0m0.5 4h0m0-44h0m0 22.5h0m0 4.5h0m0.5-116h0m0 150.5h0m0 7.5h0m0 11h0m0-35h0m0.5 24h0m0.5-80h0m0 48h0m0-9.5h0m0-43.5h0m0.5 54h0m0 29h0m0-51.5h0m0.5 29.5h0m0-32.5h0m0 45h0m0 3h0m0-64.5h0m0 12.5h0m0 45.5h0m0.5-5.5h0m0-10.5h0m0-36.5h0m0.5 61.5h0m0-38h0m0.5-22h0m0 69.5h0m0-21h0m0.5-26h0m0-0.5h0m0 18h0m0.5-5.5h0m0 2.5h0m0-17h0m0-2.5h0m0 43h0m0.5-28h0m0 12h0m0-7.5h0m0.5 37.5h0m0-37.5h0m0.5 37.5h0m0 7h0m0-78h0m0.5 13.5h0m0-3h0m0 27h0m0-0.5h0m0.5-9.5h0m0 50.5h0m0-57h0m0-31h0m0 29.5h0m0.5 48h0m0-42.5h0m0 23h0m0-24h0m0.5-35.5h0m0 43h0m0.5-9.5h0m0 98h0m0-96h0m0-35.5h0m0 70h0m0-9.5h0m0.5-37h0m0 25h0m0.5 11.5h0m0-18h0m0-3.5h0m0.5-45h0m0 58h0m0-43.5h0m0 59.5h0m0.5-36.5h0m0 70h0m0-42.5h0m0 10h0m0.5-55.5h0m0 21h0m0-29.5h0m0-6.5h0m0 8h0m0 12.5h0m0-12h0m0.5 50.5h0m0-1h0m0 13.5h0m0.5-13.5h0m0-8.5h0m0-17.5h0m0.5 8.5h0m0-4h0m0 10h0m0.5 12h0m0-18.5h0m0 25h0m0.5-13h0m0 4.5h0m0-14.5h0m0 42.5h0m0-54h0m0.5 53h0m0-27.5h0m0 15.5h0m0-36h0m0-24.5h0m0 41.5h0m0.5-27.5h0m0-19.5h0m0 44.5h0m0 1.5h0m0-2h0m0-30h0m0 55h0m0-20h0m0-50h0m0.5 47h0m0-43h0m0 44h0m0 20.5h0m0.5 40h0m0-76h0m0-7h0m0 59h0m0-33h0m0.5-8.5h0m0-30h0m0 3.5h0m0.5 16.5h0m0 39.5h0m0 8h0m0.5-14h0m0-20.5h0m0.5 56.5h0m0-46.5h0m0-27h0m0 10.5h0m0 9h0m0.5 18.5h0m0-60.5h0m0 49h0m0.5-51h0m0 16h0m0-14h0m0.5 34.5h0m0 11h0m0 1h0m0 12.5h0m0 6h0m0.5 19h0m0-75h0m0 33.5h0m0-47h0m0 99.5h0m0-85h0m0 38h0m0.5-47h0m0.5 16.5h0m0 53.5h0m0-47.5h0m0.5 30.5h0m0-25.5h0m0-6.5h0m0 21.5h0m0 22.5h0m0 20h0m0.5-88.5h0m0 72h0m0 10.5h0m0-45.5h0m0 19.5h0m0-34.5h0m0-6h0m0.5 48.5h0m0-27.5h0m0.5 24.5h0m0 1h0m0-12.5h0m0.5-27.5h0m0 101h0m0-115h0m0 58.5h0m0.5-7.5h0m0-35.5h0m0 41h0m0.5-26h0m0-7h0m0-58.5h0m0 50h0m0.5 7.5h0m0 49.5h0m0-63.5h0m0 40h0m0-73h0m0 62h0m0.5-50.5h0m0 70.5h0m0-10.5h0m0 30h0m0-42h0m0-13.5h0m0.5 20h0m0-32.5h0m0 73h0m0-42h0m0.5-30h0m0-22.5h0m0 91h0m0-2h0m0.5-40.5h0m0 9h0m0-59h0m0.5 80.5h0m0-28h0m0 19h0m0 12.5h0m0-5h0m0.5-42.5h0m0 24h0m0 11h0m0-96.5h0m0 71h0m0 39h0m0-3h0m0.5-56h0m0 7h0m0 50.5h0m0.5-57h0m0 12.5h0m0 6.5h0m0 32.5h0m0-24h0m0-8.5h0m0 7h0m0-30.5h0m0.5-7.5h0m0 75h0m0-44.5h0m0.5-29.5h0m0 15h0m0.5 12h0m0 58h0m0.5-63.5h0m0 28h0m0 25h0m0-34.5h0m0-2.5h0m0.5-13.5h0m0-44h0m0.5 29.5h0m0.5-4.5h0m0 29.5h0m0-22.5h0m0 7h0m0.5 34.5h0m0 18.5h0m0-67.5h0m0 41h0m0-11.5h0m0.5-25h0m0 24h0m0-34.5h0m0 32h0m0-2.5h0m0-50h0m0.5 67h0m0.5-21.5h0m0 25h0m0-16.5h0m0 11.5h0m0-27h0m0.5 9h0m0 16h0m0-10h0m0 10h0m0-16.5h0m0 34h0m0-20.5h0m0-20.5h0m0 26h0m0.5-31.5h0m0-24h0m0 51.5h0m0.5-16.5h0m0-8h0m0 50.5h0m0-15.5h0m0-14h0m0.5 3.5h0m0-20.5h0m0 12.5h0m0-11.5h0m0 5h0m0.5-3h0m0 77h0m0-63h0m0-5.5h0m0 18h0m0-37h0m0 17.5h0m0.5-38.5h0m0.5 19h0m0 43.5h0m0.5-29h0m0-4h0m0 29h0m0 12h0m0 2.5h0m0-42h0m0.5 14h0m0 30h0m0 11h0m0-50.5h0m0.5 20h0m0-19h0m0 34.5h0m0.5-80h0m0 38.5h0m0 44.5h0m0-74.5h0m0 8.5h0m0.5 10.5h0m0 24h0m0.5-18.5h0m0-2h0m0 48.5h0m0-62h0m0 53h0m0.5-16h0m0-27h0m0 22.5h0m0-27.5h0m0 42.5h0m0-40.5h0m0 62.5h0m0 5h0m0.5-72.5h0m0 40.5h0m0 3h0m0-19.5h0m0 26h0m0-47.5h0m0-29h0m0 19h0m0 93.5h0m0.5-75.5h0m0-16h0m0 52.5h0m0-43.5h0m0-15h0m0.5 91.5h0m0-90.5h0m0 148h0m0-81.5h0m0.5-19h0m0.5-16h0m0-39.5h0m0 40h0m0-7h0m0-18.5h0m0.5 70.5h0m0-57.5h0m0 33.5h0m0.5-25.5h0m0 25.5h0m0.5-32h0m0 16.5h0m0-15.5h0m0 22h0m0.5 18h0m0-56.5h0m0 57h0m0.5-4.5h0m0-57.5h0m0 70h0m0-59.5h0m0-10.5h0m0 26h0m0 5h0m0 17h0m0.5-27.5h0m0 39h0m0-10h0m0-20h0m0 38.5h0m0-52h0m0 47h0m0.5 43.5h0m0-54.5h0m0-23.5h0m0.5 67.5h0m0-15.5h0m0.5-71h0m0 25h0m0-0.5h0m0 2h0m0 14h0m0-21.5h0m0 17.5h0m0-39.5h0m0.5 12.5h0m0-6.5h0m0 40.5h0m0-41.5h0m0 14.5h0m0.5 18.5h0m0 23.5h0m0-17h0m0 7.5h0m0 8.5h0m0.5-69.5h0m0 34.5h0m0 52.5h0m0-40h0m0.5 59.5h0m0-38h0m0-66h0m0.5-67.5h0m0 94h0m0 86h0m0-65h0m0 9.5h0m0-39.5h0m0 2h0m0 59h0m0 17h0m0.5-52.5h0m0 32.5h0m0.5-35h0m0-61.5h0m0-5.5h0m0 59h0m0.5 42h0m0-56h0m0-26h0m0 49.5h0m0.5-13h0m0-3h0m0 8.5h0m0.5-3.5h0m0 17h0m0-9.5h0m0.5 4h0m0 3.5h0m0.5 17.5h0m0-18.5h0m0-8h0m0.5 29h0m0-55h0m0 22.5h0m0 4h0m0-7.5h0m0.5 20h0m0-14.5h0m0 36.5h0m0.5-24.5h0m0.5-42h0m0.5 8h0m0.5 84.5h0m0-39.5h0m0-49h0m0.5 55h0m0-51.5h0m0-17.5h0m0 7.5h0m0.5 42.5h0m0 20.5h0m0 2.5h0m0-38.5h0m0.5-10h0m0 13h0m0 1h0m0-19.5h0m0 29.5h0m0-34.5h0m0 71.5h0m0.5-15.5h0m0-50.5h0m0-13.5h0m0 32h0m0-19.5h0m0.5 39.5h0m0 3.5h0m0-67.5h0m0 36h0m0 41.5h0m0.5-67h0m0 18.5h0m0 3.5h0m0-22h0m0-9.5h0m0 78.5h0m0.5-18.5h0m0-25.5h0m0 54.5h0m0.5-46.5h0m0 36h0m0.5-36.5h0m0 1.5h0m0-16.5h0m0-10.5h0m0 50.5h0m0 46h0m0-88h0m0.5-11.5h0m0 28.5h0m0 38h0m0.5-28.5h0m0.5-80h0m0 61h0m0-13.5h0m0.5 19h0m0 7h0m0-19h0m0 27.5h0m0 2.5h0m0.5 15.5h0m0-59h0m0.5 36h0m0 0h0m0 13h0m0.5-40.5h0m0 60.5h0m0-60h0m0 51h0m0-1h0m0.5 19.5h0m0-85h0m0 8.5h0m0 5h0m0 47h0m0.5 14h0m0-40h0m0 29h0m0.5-24.5h0m0-14.5h0m0.5-1.5h0m0-4.5h0m0.5-4h0m0 30.5h0m0-6.5h0m0 3h0m0-19.5h0m0-18h0m0 26h0m0.5-2h0m0 18h0m0-6.5h0m0 62.5h0m0.5-78.5h0m0 78.5h0m0-70.5h0m0 11h0m0 42h0m0-49.5h0m1-33.5h0m0 24h0m0 31h0m0.5-6h0m0 20h0m0 14h0m0-67.5h0m0 37h0m0-24.5h0m0-8h0m0.5 28h0m0 91.5h0m0-83h0m0-33h0m0.5 49h0m0.5-56h0m0 30.5h0m0.5-52h0m0.5 38h0m0 11.5h0m0-42.5h0m0 21h0m0 13h0m0-13h0m0.5 43h0m0-20h0m0-15.5h0m0.5 5.5h0m0 13.5h0m0-2h0m0-32.5h0m0.5 80h0m0.5-12.5h0m0 32.5h0m0-90h0m0.5 91.5h0m0-85.5h0m0-11.5h0m0.5 8.5h0m0 12h0m0-2h0m0 7h0m0-10.5h0m0 25.5h0m0.5-17h0m0-25.5h0m0 17.5h0m0.5-28h0m0 66h0m0-19.5h0m0-52.5h0m0 3.5h0m0.5 33h0m0-10h0m0.5-43.5h0m0 47.5h0m0.5-17h0m0-12h0m0.5-87h0m0 80h0m0 74.5h0m0-16h0m0 19.5h0m0.5-4.5h0m0-10.5h0m0-3h0m0 28.5h0m0 12h0m0.5-71.5h0m0 14h0m0 19.5h0m0 8h0m0.5 17h0m0-13.5h0m0.5-19.5h0m0-14h0m0 21h0m0 32h0m0.5-94h0m0 11h0m0 58.5h0m0-108.5h0m0 91.5h0m0-42h0m0 55h0m0 7.5h0m0-28.5h0m0.5 8.5h0m0-33.5h0m0 66h0m0 26h0m0.5-22.5h0m0-63h0m0-41h0m0 150h0m0-119h0m0.5 59.5h0m0-96h0m0 21.5h0m0 49h0m0-23h0m0.5 39h0m0-37.5h0m0.5 9h0m0 69h0m0-78h0m0.5 17.5h0m0 5.5h0m0 6.5h0m0-30.5h0m0 54h0m0-21.5h0m0.5-3.5h0m0 21h0m0-45.5h0m0 41.5h0m0.5-39.5h0m0-37.5h0m0 75h0m0-12h0m0-52h0m0 27.5h0m0 3.5h0m0 25.5h0m0.5-7h0m0 22.5h0m0 5h0m0 17.5h0m0.5-54.5h0m0 20.5h0m0-14.5h0m0-16h0m0.5 13.5h0m0 5h0m0 18.5h0m0-34h0m0 25.5h0m0.5-31.5h0m0 11.5h0m0-18h0m0-33.5h0m0.5 50h0m0 22h0m0 31h0m0-90.5h0m0.5 68h0m0-70.5h0m0 52h0m0.5-43h0m0-20.5h0m0 22.5h0m0.5 49h0m0-76h0m0 9.5h0m0.5 43h0m0-71.5h0m0 76h0m0 14.5h0m0-7.5h0m0 0.5h0m0.5-25h0m0 41.5h0m0-62.5h0m0.5 13h0m0 37.5h0m0-14h0m0.5 38h0m0-53h0m0 27h0m0-12h0m0 0.5h0m0.5-54h0m0 61.5h0m0-71.5h0m0 29h0m0 37.5h0m0-20h0m0 16h0m0 7h0m0-36.5h0m0.5 28.5h0m0 21h0m0-38.5h0m0-22h0m0 65h0m0.5-27.5h0m0-4.5h0m0 9h0m0 46.5h0m0 14h0m0-76h0m0.5 79.5h0m0.5-105h0m0 50.5h0m0-15.5h0m0 3.5h0m0-25.5h0m0 49.5h0m0-47.5h0m0.5 23.5h0m0 18h0m0.5-7h0m0 18.5h0m0-1.5h0m0-19.5h0m0 23h0m0.5-14h0m0 17.5h0m0.5-44h0m0 0h0m0.5 11.5h0m0-24h0m0 29h0m0-30h0m0.5-9.5h0m0 48h0m0-10h0m0-38h0m0.5 12.5h0m0-5h0m0 73h0m0-46.5h0m0-1h0m0.5-12.5h0m0 12h0m0 31h0m0.5-16.5h0m0-8h0m0 5.5h0m0 21.5h0m0-3h0m0.5 15.5h0m0-79.5h0m0-60.5h0m0 110.5h0m0-18h0m0 29.5h0m0.5-36h0m0 30h0m0 13.5h0m0-55h0m0.5 28.5h0m0.5-26.5h0m0 32h0m0-57.5h0m0 18h0m0 71h0m0-21h0m0-18h0m0.5-22h0m0-4h0m0 3.5h0m0.5 5.5h0m0 1h0m0 12h0m0 0.5h0m0 7.5h0m0.5-26h0m0 60.5h0m1-57h0m0 3h0m0 15.5h0m0 36.5h0m0.5-46.5h0m0 5h0m0-19.5h0m0 87h0m0.5-64h0m0-37h0m0 55h0m0-2h0m0-9h0m0-7.5h0m0-3h0m0.5-5.5h0m0-6.5h0m0-33h0m0 59h0m0.5-25.5h0m0 68h0m0-28.5h0m0-31h0m0-18.5h0m0-52.5h0m0 86h0m0-8h0m0.5-2h0m0-23h0m0-7h0m0 67h0m0-70h0m0.5 56.5h0m0-19.5h0m0-33.5h0m0 87.5h0m0-87h0m0 20h0m0-6.5h0m0 17h0m0-27.5h0m0.5 42.5h0m0-23h0m0-26h0m0 50.5h0m0.5-38.5h0m0 74h0m0-86h0m0.5 45h0m0 2.5h0m0 19.5h0m0.5 10.5h0m0-81.5h0m0 1.5h0m0 5.5h0m0 22h0m0 84.5h0m0-95h0m0.5 45.5h0m0-31h0m0-20h0m0 36h0m0.5-60.5h0m0 17.5h0m0 25.5h0m0.5 2.5h0m0 34h0m0-41.5h0m0.5 10.5h0m0 21h0m0.5 7.5h0m0-19h0m0-29.5h0m0 48h0m0-3h0m0.5-49.5h0m0 21h0m0 27.5h0m0.5-10.5h0m0-5.5h0m0-49h0m0.5 64.5h0m0-17.5h0m0-18h0m0-11h0m0-2h0m0 34h0m0-17h0m0.5 26h0m0-74.5h0m0 84.5h0m0-29h0m0.5-8h0m0 38h0m0 10.5h0m0.5-68h0m0-9.5h0m0 15.5h0m0 12.5h0m0 12.5h0m0.5-7h0m0 3.5h0m0-17.5h0m0 20h0m0 5.5h0m0.5-9h0m0-6.5h0m0-15h0m0 85h0m0-20h0m0-62h0m0 59h0m0.5-74.5h0m0 52.5h0m0-35.5h0m0.5 13.5h0m0 40h0m0-42.5h0m0.5 21h0m0-57.5h0m0 61.5h0m0 7h0m0 47.5h0m1-54.5h0m0-40.5h0m0 20.5h0m0.5-15h0m0-18.5h0m0 58h0m0-66.5h0m0 15h0m0 46h0m0.5-37.5h0m0 18.5h0m0-4h0m0 13h0m0 9h0m0-7h0m0-56.5h0m0 41h0m0.5-10h0m0.5-2h0m0 22h0m0-4h0m0 9.5h0m0.5-16h0m0-35.5h0m0 77.5h0m0.5-26h0m0 4.5h0m0-63.5h0m0 5h0m0 44.5h0m0-13.5h0m0 41.5h0m0.5 6.5h0m0-21.5h0m0-11h0m0-15.5h0m0 24h0m0-19h0m0.5 3h0m0 32h0m0.5 4.5h0m0-4.5h0m0-19h0m0 5.5h0m0.5-22.5h0m0.5 50.5h0m0-87h0m0 37h0m0.5 9h0m0.5 7h0m0-62.5h0m0.5 65h0m0.5-56h0m0 30h0m0 7h0m0.5 9.5h0m0-20h0m0-10.5h0m0 27h0m0.5 28.5h0m0-13.5h0m0-8h0m0 14.5h0m0-6h0m0.5-38.5h0m0 47.5h0m0 15.5h0m0 22.5h0m0-114h0m0 143.5h0m0.5-54.5h0m0-40h0m0.5 11.5h0m0.5 86h0m0-87h0m0-25h0m0 72h0m0-48.5h0m0.5-33h0m0 23.5h0m0 43h0m0-36h0m0 55.5h0m1-61h0m0 3.5h0m0-38h0m0-2.5h0m0 16.5h0m0.5 14h0m0-1.5h0m0 1h0m0.5 44h0m0-73.5h0m0 35.5h0m0 11.5h0m0.5 4h0m0-8h0m0 24.5h0m0-49.5h0m0.5 70.5h0m0-22h0m0-19h0m0-0.5h0m0-1h0m0-14h0m0 51.5h0m0-10h0m0.5 3h0m0-52.5h0m0 31.5h0m0 50.5h0m0-99h0m0 62.5h0m0.5-13h0m0 13h0m0.5-4.5h0m0-4.5h0m0 47h0m0.5-60.5h0m0 3.5h0m0 23h0m0-83h0m0.5 57.5h0m0 19h0m0.5-26h0m0-5.5h0m0 58.5h0m0-61h0m0.5 26.5h0m0-2h0m0.5 7h0m0 29h0m0.5-9h0m0-45h0m0-0.5h0m0 38h0m0.5-43h0m0 4h0m0.5 4h0m0 2h0m0-32h0m0 19h0m0.5 12h0m0-39h0m0 35.5h0m0-3.5h0m0 26.5h0m0 11h0m0.5 9.5h0m0 39h0m0-81h0m0-9.5h0m0 29h0m0.5-18h0m0-8.5h0m0.5 15.5h0m0-7.5h0m0-18.5h0m0.5-10h0m0 3.5h0m0 11.5h0m0.5 43.5h0m0-5h0m0 2h0m0.5-41h0m0-6.5h0m0 89h0m0-45.5h0m0-23h0m0-14h0m0 45h0m0.5-28h0m0 2h0m0.5-19.5h0m0 15h0m0-1.5h0m0 30h0m0 29h0m0-9.5h0m0-137.5h0m0 116h0m0.5 7.5h0m0-54h0m0.5 25h0m0-14h0m0.5-22h0m0 6.5h0m0.5 0.5h0m0-4.5h0m0 86.5h0m0-66.5h0m0.5 5.5h0m0 10.5h0m0 8.5h0m0 11h0m0-39.5h0m0-8h0m0 42h0m0 35.5h0m0-21h0m0.5 24.5h0m0-52.5h0m0-2.5h0m0 36h0m0-44.5h0m0.5 13.5h0m0-32.5h0m0 41.5h0m0.5 23.5h0m0-80.5h0m0 22h0m0 75.5h0m0-41h0m0-27h0m0.5 40.5h0m0-72.5h0m0.5 32.5h0m0 13h0m0-9.5h0m0 29.5h0m0.5-29h0m0-16h0m0.5 46h0m0-4h0m0 2h0m0.5-3.5h0m0 16.5h0m0.5-18.5h0m0 13h0m0-45h0m0 10.5h0m0.5 31.5h0m0-34.5h0m0-1.5h0m0 27h0m0.5-12.5h0m0-21.5h0m0 70h0m0-68h0m0.5 46h0m0-9.5h0m0-34h0m0 0.5h0m0 50h0m0.5-6.5h0m0-26.5h0m0-45h0m0 39h0m0.5-13h0m0-27h0m0-15h0m0.5 96h0m0-65.5h0m0 21.5h0m0-14.5h0m0 72h0m0.5-7.5h0m0 2.5h0m0-63.5h0m0 56.5h0m0-70h0m0 29h0m0.5 19h0m0-59.5h0m0.5 40.5h0m0 23h0m0.5-28h0m0.5 4.5h0m0 87.5h0m0-79h0m0 5h0m0-32.5h0m0 16.5h0m0-29h0m0 0h0m0.5 41h0m0 35.5h0m0-22.5h0m0-34.5h0m0-31.5h0m0 42h0m0.5 36.5h0m0-65.5h0m0 19h0m0 21h0m0-31.5h0m0 16h0m0 34.5h0m0-23.5h0m0.5 13.5h0m0-20h0m0.5 17h0m0 2h0m0-32.5h0m0-19h0m0.5 46.5h0m0 12.5h0m0-24h0m0-30.5h0m0 2.5h0m0 11h0m0.5-9h0m0 69h0m0-23.5h0m0-44.5h0m0 31h0m0 33.5h0m0-86.5h0m0.5 21.5h0m0.5 16h0m0-2.5h0m0.5 20.5h0m0.5-42h0m0 58.5h0m0-17.5h0m0-16h0m0.5 0h0m0-7h0m0 8.5h0m0.5 22h0m0-42h0m0.5 43.5h0m0.5-15h0m0-6h0m0-5.5h0m0 5.5h0m0-30.5h0m0 33h0m0.5-50.5h0m0-2.5h0m0 78.5h0m0.5-18.5h0m0-29h0m0 21h0m0-25h0m0.5-7h0m0 67.5h0m0 63.5h0m0.5-66.5h0m0-44.5h0m0 70h0m0-91.5h0m0 72h0m0.5-13.5h0m0-7h0m0-52h0m0 63.5h0m0-19.5h0m0 15h0m0-57h0m0.5 50h0m0 12.5h0m0-26h0m0-10h0m0.5 14h0m0 10.5h0m0 4h0m0-27h0m0.5 49h0m0-44h0m0 18h0m0-30.5h0m0 31h0m0.5-26h0m0-46.5h0m0 59.5h0m0.5 24.5h0m0-66.5h0m0.5-9.5h0m0 52.5h0m0-69.5h0m0 43.5h0m0.5-3h0m0-3h0m0.5-9h0m0 22.5h0m0-6.5h0m0 11h0m0.5-21h0m0 58h0m0-37h0m0.5-19.5h0m0 16h0m0 19.5h0m0 21h0m0-50.5h0m0 22.5h0m0 1h0m0 23h0m0-50.5h0m0-10h0m0.5 26.5h0m0 13h0m0-19h0m0-6.5h0m0 39h0m0.5-79.5h0m0 10.5h0m0 3.5h0m0 53.5h0m0.5-13h0m0 12h0m0-64.5h0m0 2.5h0m0 95h0m0.5-16h0m0-71h0m0 53.5h0m0 20h0m0 10h0m0.5-48h0m0-21.5h0m0.5-30.5h0m0 41.5h0m0 12.5h0m0.5 32.5h0m0-64.5h0m0 39.5h0m0 16h0m0-2.5h0m0-11.5h0m0.5 67.5h0m0-72.5h0m0.5-23h0m0.5 84h0m0 10.5h0m0-85h0m0-14.5h0m0.5 77.5h0m0-44h0m0-26.5h0m0-11h0m0.5 118.5h0m0-74h0m0-46.5h0m0 64h0m0-2.5h0m0.5 14h0m0-24.5h0m0 19.5h0m1-63h0m0 80h0m0-53h0m0 9h0m0-13.5h0m0.5 22.5h0m0 6.5h0m0 25.5h0m0.5-58.5h0m0 41.5h0m0 24h0m0-65.5h0m0 35.5h0m0-37h0m0.5-21.5h0m0 63.5h0m0-38h0m0 27h0m0.5-3h0m0 9h0m0-36.5h0m0-35h0m0 12h0m0.5 29.5h0m0-13.5h0m0 38.5h0m0 4h0m0-34h0m0.5 60h0m0-46.5h0m0 19.5h0m0-26h0m0.5-12.5h0m0 31h0m0 37h0m0-96h0m0.5 53.5h0m0 56h0m0-117h0m0 18.5h0m0-11.5h0m0 41.5h0m0-5h0m0 0.5h0m0 19.5h0m0.5 19.5h0m0-61.5h0m0 43.5h0m0 17h0m0 9h0m0.5-24.5h0m0-7h0m0-19.5h0m0 26.5h0m0 26h0m0.5 0h0m0 0.5h0m0-11h0m0-33.5h0m0.5-0.5h0m0-11h0m0-35.5h0m0 27h0m0-18h0m0 43.5h0m0-20h0m0.5 40h0m0-8h0m0-24h0m0 33.5h0m0-27h0m0-27h0m0 15h0m0 13.5h0m0-18h0m0 21h0m0-44.5h0m0 116h0m0.5-74.5h0m0.5 1.5h0m0 18.5h0m0.5-54h0m0 76.5h0m0 5.5h0m0-52.5h0m0-2h0m0.5 41h0m0.5-35.5h0m0-10h0m0 9.5h0m0 34h0m0.5-94.5h0m0 37.5h0m0 82.5h0m0-34h0m0.5-51.5h0m0 35h0m0-6.5h0m0 40.5h0m0.5-15.5h0m0-31h0m0 53.5h0m0-59h0m0 36h0m0-22h0m0 21.5h0m0.5 14.5h0m0-34h0m0 44.5h0m0.5-144h0m0 123.5h0m0-46h0m0 49h0m0.5 0.5h0m0-37.5h0m0 16h0m0 23.5h0m0-1.5h0m0-48.5h0m0.5-67.5h0m0 119.5h0m0-42.5h0m0-27.5h0m0 20.5h0m0-6.5h0m0.5 20.5h0m0-6h0m0 26.5h0m0-11.5h0m0-20.5h0m0 23h0m0.5-34h0m0 62h0m0-55.5h0m0 11.5h0m0-22h0m0 31h0m0-19.5h0m0 40.5h0m0-24.5h0m0-20.5h0m0.5-38h0m0 52.5h0m0 21.5h0m0.5-14h0m0.5-21.5h0m0-31h0m0 59.5h0m0-28h0m0 25h0m0 13.5h0m0.5-22h0m0 63h0m0-59.5h0m0 11.5h0m0 9h0m0 9h0m0.5-47.5h0m0 36h0m0-24h0m0-30h0m0.5 43.5h0m0 13.5h0m0-49.5h0m0 41h0m0.5 14h0m0-39.5h0m0.5-25h0m0 44h0m0 10h0m0-33.5h0m0-28.5h0m0.5 34.5h0m0-25.5h0m0 21h0m0.5 44.5h0m0-13.5h0m0 14h0m0-35.5h0m0.5-16h0m0-0.5h0m0 57.5h0m0-32h0m0.5-109.5h0m0 95h0m0.5 27.5h0m0-43h0m0 57h0m0-94.5h0m0.5 74.5h0m0-31.5h0m0 39.5h0m0.5-8h0m0 27.5h0m0-64h0m0-2.5h0m0 41.5h0m0-33h0m0 38.5h0m0.5-32.5h0m0 21h0m0 5.5h0m0-29.5h0m0.5 3h0m0.5-28.5h0m0 6h0m0 11.5h0m0.5 49h0m0 31.5h0m0-92h0m0 73h0m0.5-36.5h0m0-23.5h0m0 30h0m0 5h0m0 3h0m0.5 18.5h0m0-80h0m0 44.5h0m0 51.5h0m0.5-50.5h0m0 37h0m0-83h0m0 48.5h0m0-17h0m0.5-27h0m0 25h0m0 24.5h0m0 11h0m0.5-22.5h0m0-15.5h0m0-33.5h0m0.5 60h0m0 33h0m0-5.5h0m0.5-3h0m0-52.5h0m0 76.5h0m0.5-57h0m0-46h0m0.5 32h0m0 6.5h0m0 1.5h0m0 8.5h0m0 26h0m0 0.5h0m0.5-45.5h0m0-21.5h0m0 27.5h0m0-22.5h0m0 79.5h0m0.5-42h0m0-8.5h0m0 16h0m0.5-16.5h0m0 80h0m0-90.5h0m0-29h0m0 41h0m0 14h0m0.5-36.5h0m0 13.5h0m0-48.5h0m0.5 85.5h0m0 34h0m0-66.5h0m0.5-9.5h0m0 42h0m0.5-30h0m0.5 62.5h0m0-55h0m0-19.5h0m0.5 49.5h0m0-38h0m0 29.5h0m0 14h0m0-101.5h0m0 121.5h0m0-51.5h0m0-34.5h0m0 10h0m0.5 44h0m0 5.5h0m0-27h0m0-12h0m0-16.5h0m0.5 75.5h0m0-31h0m0-34h0m0.5 91h0m0-46h0m0 13.5h0m0-28h0m0-9h0m0-75h0m0 80h0m0.5-13.5h0m0 47.5h0m0.5-55h0m0 71h0m0.5-21.5h0m0-51.5h0m0-58.5h0m0.5 65h0m0-35.5h0m0 79.5h0m0.5-20h0m0-48.5h0m0 63.5h0m0-32.5h0m0 33h0m0-44.5h0m0.5 53h0m0-23.5h0m0 2.5h0m0-19h0m0 33.5h0m0-5.5h0m0.5-65.5h0m0 87.5h0m0-12.5h0m0-54.5h0m0 39.5h0m0.5-39h0m0 63h0m0-45.5h0m0-140h0m0 161.5h0m0-36.5h0m0 41.5h0m0 28h0m0.5-73.5h0m0 1h0m0-23.5h0m0 26.5h0m0 38.5h0m0.5-44.5h0m0-19h0m0-30h0m0.5 80h0m0-30h0m0-7h0m0.5 55h0m0-20h0m0-40.5h0m0 19h0m0 17.5h0m0-20.5h0m1 18.5h0m0 28.5h0m0-4.5h0m0-61h0m0 0h0m0.5-4h0m0 22h0m0 32h0m0-30h0m0.5-14.5h0m0-9h0m0.5 88.5h0m0-8h0m0-61.5h0m0.5 7.5h0m0-4h0m0-14h0m0 25.5h0m0.5-25.5h0m0 18h0m0 26h0m0-31.5h0m0.5 19.5h0m0 10.5h0m0.5-25h0m0 13.5h0m0 26h0m0-8.5h0m0-28.5h0m0 18.5h0m0.5-15h0m0-28h0m0 43h0m0.5-28.5h0m0-2h0m0 13.5h0m0.5 28.5h0m0-13h0m0-2.5h0m0-35.5h0m0 15h0m0 22.5h0m0-40.5h0m0 6.5h0m0.5 0h0m0 28h0m0-7h0m0-7.5h0m0 43h0m0-50h0m0-33.5h0m0 13.5h0m0.5 37h0m0 29.5h0m0.5-55h0m0-25h0m0.5 82h0m0-58.5h0m0-17h0m0 37.5h0m0 47h0m0-59.5h0m0.5-9h0m0 16h0m0 15h0m0 19h0m0-3.5h0m0.5 34h0m0-32h0m0-37.5h0m0 14h0m0 12h0m0-6h0m0-6.5h0m0.5-36.5h0m0-4h0m0 50h0m0 5h0m0-55h0m0 94.5h0m0.5-1.5h0m0-38h0m0.5-21h0m0 82h0m0-41h0m0-81h0m0 97h0m0.5-28h0m0-6.5h0m0 21.5h0m0-66.5h0m0.5 68h0m0.5-34.5h0m0.5-16.5h0m0 44h0m0-33.5h0m0.5 19.5h0m0 10h0m0-29h0m0.5 32h0m0-25h0m0.5 9h0m0-25h0m0 46h0m0.5-22.5h0m0 0.5h0m0 23.5h0m0.5-17.5h0m0-26h0m0 3.5h0m0 19h0m0 19.5h0m0.5-10h0m0.5-9h0m0 15.5h0m0-37h0m0-15.5h0m0 43h0m0-76h0m0.5 62h0m0-59.5h0m0.5 57.5h0m0-31.5h0m0-30h0m0 46.5h0m0 49.5h0m0.5-58.5h0m0 22h0m0-29h0m0.5 12h0m0.5-30h0m0 29h0m0-20.5h0m0.5 23h0m0 22.5h0m0-19h0m0.5 27h0m0-5h0m0-60h0m0 93.5h0m0.5-37.5h0m0 7h0m0-13.5h0m0.5 26.5h0m0-41h0m0 17h0m0-30h0m0 42h0m0-14h0m0 5h0m0.5 25.5h0m0-13.5h0m0 7.5h0m0.5-14.5h0m0-60.5h0m0 21h0m0 12.5h0m0 47.5h0m0.5 6.5h0m0.5-77h0m0 144.5h0m0-215.5h0m0.5 121h0m0 24h0m0-18.5h0m0 89h0m0.5-127h0m0 34h0m0.5-24h0m0 6.5h0m0-12.5h0m0.5 6.5h0m0 1.5h0m0 3h0m0.5 7h0m0 30h0m0-57.5h0m0.5 6.5h0m0 0h0m0 42.5h0m0-34h0m0-1h0m0-38h0m0.5 83h0m0-43.5h0m0 37.5h0m0-33.5h0m0.5 26h0m0.5-80.5h0m0.5 42.5h0m0 2.5h0m0 55h0m0-37.5h0m0 14.5h0m0.5-28.5h0m0 6h0m0 39h0m0 4h0m0-48h0m0 20.5h0m1 22h0m0-89.5h0m0 81h0m0-47.5h0m0-2h0m0 2.5h0m0 52.5h0m0-51.5h0m0.5 10.5h0m0 2.5h0m0-8h0m0 96.5h0m0.5-126.5h0m0.5 53.5h0m0-16.5h0m0 18h0m0-25.5h0m0 40.5h0m0 7.5h0m0.5-29h0m0-13h0m0-57.5h0m0 85.5h0m0.5-19.5h0m0.5 38.5h0m0-58h0m0 14.5h0m0 47.5h0m0-23h0m0-1.5h0m0 5.5h0m0 2h0m0.5-62.5h0m0 37h0m0 46h0m0-45.5h0m0-23.5h0m0.5 39.5h0m0-46h0m0 25h0m0-43h0m0 21.5h0m0.5 28.5h0m0 26h0m0-30h0m0.5 32.5h0m0-85h0m0 55h0m0 23h0m0-25h0m0.5 12h0m0-44h0m0 29.5h0m0-23.5h0m0.5 88h0m0-85.5h0m0.5 57h0m0-36h0m0 3h0m0 18h0m0 26.5h0m0-74.5h0m0.5 8h0m0 17h0m0 10.5h0m0.5-13h0m0 32h0m0.5-3h0m0-13h0m0 26h0m0-46.5h0m0 9h0m0 31h0m0-23h0m0.5-9.5h0m0-24.5h0m0 9.5h0m0.5 1h0m0-10h0m0 6.5h0m0 46h0m0 9.5h0m0-51h0m0 67.5h0m0-15h0m0.5-25.5h0m0-2.5h0m0.5-11.5h0m0 55.5h0m0-28h0m0-64h0m0 64.5h0m0.5-30h0m0 34.5h0m0 71.5h0m0-129.5h0m0.5 40.5h0m0-29.5h0m0 47.5h0m0-42.5h0m0 17.5h0m0.5 18.5h0m0-21.5h0m0 50h0m0-43.5h0m0.5 6h0m0-36.5h0m0-8.5h0m0 43h0m0.5 36h0m0-19h0m0 0h0m0.5-5.5h0m0-45h0m0 22h0m0.5-10.5h0m0-5h0m0-36.5h0m0 60h0m0.5 55h0m0-57.5h0m0-9h0m0-77.5h0m0 109h0m0-75.5h0m0-8h0m0.5 20h0m0 50.5h0m0-12.5h0m0 0h0m0-20.5h0m0-25.5h0m0.5 21h0m0 106.5h0m0-74h0m0 2.5h0m0.5 10.5h0m0-55.5h0m0.5 81h0m0-52.5h0m1-19.5h0m0 36.5h0m0-47h0m0 41.5h0m0.5-14.5h0m0 25h0m0-47h0m0.5 1h0m0 27h0m0 36.5h0m0-44h0m0 21h0m0-19.5h0m0 77h0m0.5-41h0m0-15h0m0.5 2.5h0m0 50.5h0m0-69.5h0m0.5 17.5h0m0-57h0m0 44.5h0m0 11h0m0 62.5h0m0-101h0m0 16.5h0m0.5 14h0m0-27.5h0m0 89.5h0m0-75h0m0.5 21h0m0-6h0m0-90h0m0 109.5h0m0.5-31h0m0.5-14h0m0 42.5h0m0.5-12.5h0m0-27h0m0 47.5h0m0-32h0m0 12h0m0-4h0m0.5-16h0m0 6h0m0-38h0m0 53h0m0 53h0m0.5-79h0m0 26h0m0-10h0m0.5 14h0m0-27.5h0m0 4.5h0m0 25h0m0.5-10.5h0m0 57.5h0m0-48.5h0m0.5-5.5h0m0 0.5h0m0 7h0m0-41h0m0 63h0m0.5-46h0m0-1h0m0 9.5h0m0 21h0m0-35.5h0m0 26.5h0m1-29.5h0m0 42h0m0 17.5h0m0.5-50.5h0m0-22h0m0 1.5h0m0 7.5h0m0 50h0m0.5 20h0m0-40.5h0m0-15.5h0m0-47.5h0m0.5 39.5h0m0 32h0m0-14.5h0m0 60.5h0m0.5-118.5h0m0 57h0m0 31.5h0m0 6h0m0-26.5h0m0.5 2h0m0-28.5h0m0 31.5h0m0-14h0m0 8h0m0 61h0m0-54h0m0.5-7h0m0-49h0m0 51h0m0.5 21.5h0m0-11h0m0-19h0m0 21h0m0-1h0m0-29.5h0m0 8.5h0m0.5-33h0m0 52h0m0-10.5h0m0-26h0m0 11.5h0m0.5 16h0m0-49h0m0 12.5h0m0 47.5h0m0-12.5h0m0-38.5h0m0.5 31.5h0m0 29h0m0-71.5h0m0 36h0m0-10.5h0m0.5 0.5h0m0 11.5h0m0-4h0m0.5-4h0m0 57h0m0-25h0m0 7.5h0m0.5 2.5h0m0-35h0m0 22h0m0-40h0m0 0h0m0.5-9.5h0m0 27.5h0m0-6h0m0 34h0m0-18.5h0m0-22.5h0m0 17.5h0m0-24h0m0.5 34.5h0m0.5 9h0m0 8h0m0-0.5h0m0-33.5h0m0 13h0m0.5-36h0m0 1h0m0 21.5h0m0.5-14h0m0 16.5h0m0 5.5h0m0 4h0m0-72h0m0.5 86.5h0m0-14h0m0 45h0m0-86h0m0.5 6.5h0m0 2h0m0 65.5h0m0-51h0m0.5 27.5h0m0-16.5h0m0 52h0m0-1.5h0m0.5-16h0m0-26h0m0-32.5h0m0 30h0m0.5-12.5h0m0-1h0m0 26.5h0m1 11.5h0m0-26h0m0 26.5h0m0-42h0m0.5-15h0m0.5 6.5h0m0.5-54.5h0m0 145h0m0-75h0m0-32h0m0 63h0m0.5-21h0m0-24h0m0 29h0m0 43.5h0m0-75h0m0 21h0m0.5 1.5h0m0-14.5h0m0 21.5h0m0.5-6h0m0 54.5h0m0-36h0m0.5 1.5h0m0-10.5h0m0.5-16h0m0 50.5h0m0-46.5h0m0-1.5h0m0 7h0m0 15.5h0m0-30h0m0-1.5h0m0.5 9h0m0-12.5h0m0 35h0m0.5-140.5h0m0 105.5h0m0 45h0m0 2.5h0m0-4h0m0-28h0m0-7h0m0.5-2h0m0-15.5h0m0-8h0m0.5 20h0m0-29.5h0m0.5 39h0m0-48.5h0m0 49h0m0 5h0m0 4h0m0.5-37h0m0-6.5h0m0 58h0m0 3h0m0.5-62h0m0.5 28h0m0 69h0m0.5-29.5h0m0-35h0m0.5 27h0m0-38h0m0 13.5h0m0 13h0m0-30.5h0m0.5 37.5h0m0-41h0m0-6h0m0 16.5h0m0.5 1.5h0m0-6h0m0 18h0m0 4.5h0m0 20.5h0m0-49.5h0m0 55h0m0.5-46h0m0.5-4h0m0 19h0m0-22.5h0m0 35.5h0m0.5-37.5h0m0 37.5h0m0-4h0m0 28h0m0 17h0m0.5-63.5h0m0 13h0m0.5-14h0m0 40h0m0-9h0m0.5-44h0m0 52h0m0 11h0m0.5-93h0m0 58.5h0m0 2.5h0m0-7h0m1-11.5h0m0-10.5h0m0-5h0m0 43h0m0.5-20h0m0-11h0m0.5 8h0m0-10h0m0 13.5h0m0.5 14h0m0.5-96.5h0m0 89h0m0 24.5h0m0-30h0m0-3h0m0-2.5h0m0 28h0m0-19h0m0.5-2h0m0 4h0m0.5 34h0m0-70.5h0m0 44.5h0m0-19h0m0.5-32h0m0 28.5h0m0 38h0m0.5-52.5h0m0-1.5h0m0-10.5h0m0.5 109h0m0-115.5h0m0 55.5h0m0-13h0m0 55.5h0m0.5-22.5h0m0-15h0m0-6h0m0-15h0m0 35.5h0m0-36h0m0 38h0m0.5-80h0m0 79h0m0.5-12.5h0m0-5h0m0.5-21h0m0-45h0m0 73h0m0-18.5h0m0.5 15h0m0-54h0m0 14h0m0 29h0m0.5 59.5h0m0-91.5h0m0 43h0m0-37h0m0.5 45h0m0-21.5h0m0 20.5h0m0-62h0m0 72.5h0m0-13.5h0m0-39.5h0m0.5 53h0m0-69.5h0m0 34.5h0m0 0.5h0m0-30.5h0m0.5 30.5h0m0 5.5h0m0.5 28h0m0-13h0m0-23h0m0-19h0m0 17.5h0m0.5 13h0m0-49.5h0m0.5 14.5h0m0 46h0m0 21.5h0m0.5-39.5h0m0-16h0m0 28h0m0.5-13h0m0-37h0m0 1.5h0m0 59.5h0m0-26.5h0m0-2h0m0 17h0m0.5-15h0m0 26.5h0m0-23.5h0m0.5 27.5h0m0-9.5h0m0.5 34.5h0m0-54h0m0.5-43h0m0 55h0m0 9.5h0m0-29h0m0 41h0m0-16h0m0.5-34.5h0m0 9h0m0-42.5h0m0.5 15.5h0m0 44h0m0.5-67h0m0 88h0m0-37.5h0m0.5-7h0m0 31h0m0 19.5h0m0-28.5h0m0.5 4h0m0-3h0m0 66.5h0m0-56h0m0.5 8.5h0m0-17h0m0-18.5h0m0.5-23h0m0 68h0m0-56h0m0 52h0m0.5-58.5h0m0-16h0m0 51h0m0 2h0m0-25.5h0m0 7.5h0m0.5 3.5h0m0-13h0m0.5 9h0m0-34h0m0 9.5h0m0 9h0m0.5 44.5h0m0 14.5h0m0-74h0m0 75.5h0m0-7.5h0m0-20.5h0m0.5 15h0m0 18.5h0m0-38h0m0-14h0m0-7.5h0m0 21.5h0m0.5-3.5h0m0-2h0m0-1h0m0 20h0m0.5-27h0m0 27.5h0m0-28.5h0m0 21.5h0m0-25.5h0m0 17.5h0m0-23h0m0-3.5h0m0 30.5h0m0.5-42.5h0m0 48.5h0m0-33.5h0m0.5 26h0m0-19.5h0m0-32h0m0 56h0m0.5 36h0m0 1h0m0.5-39h0m0-12h0m0-16.5h0m0 44.5h0m0-18h0m0.5-31h0m0 10h0m0 5.5h0m0-10.5h0m0-47h0m0.5 74.5h0m0 12.5h0m0-11.5h0m0.5 21.5h0m0-38h0m0-30.5h0m0 27.5h0m0 57h0m0-88h0m0 46h0m0 30h0m0.5-0.5h0m0-56.5h0m0-15.5h0m0 5h0m0.5 31h0m0-8h0m0-8h0m0 28.5h0m0 27.5h0m0-56.5h0m0 49.5h0m0.5-49h0m0 24h0m0-30h0m0-20.5h0m0.5 68.5h0m0 14h0m0-34h0m0-11.5h0m0 1h0m0.5 38h0m0.5-86.5h0m0 42h0m0 63.5h0m0-56h0m0.5-1.5h0m0-23h0m0 90h0m0-28h0m1 5.5h0m0-21.5h0m0.5-55.5h0m0 59h0m0.5 30.5h0m0-29.5h0m0-29.5h0m0 28.5h0m0-34h0m0.5 12h0m0-8h0m0-30h0m0.5 25h0m0 97h0m0-110h0m0 26.5h0m0-27h0m0.5 49h0m0-64.5h0m0 63h0m0.5-6.5h0m0.5 17.5h0m0-1h0m0-69.5h0m0 54.5h0m0.5-12h0m0 18h0m0.5-53.5h0m0 44.5h0m0 24.5h0m0-75.5h0m0 109.5h0m0-42.5h0m0 8.5h0m0-36.5h0m0.5 9h0m0-4.5h0m0 47h0m0-67.5h0m0.5 24h0m0 48.5h0m0-5.5h0m0.5-85h0m0 9h0m0.5 30.5h0m0-25h0m0 24h0m0.5 0.5h0m0.5-55.5h0m0 27h0m0 24.5h0m0 4.5h0m1-46.5h0m0 27.5h0m0-39h0m0 45h0m0 59h0m0.5-38h0m0-48h0m0 43h0m0-22h0m0.5 1h0m0-30h0m0 37h0m0-10h0m0-1h0m0.5 23.5h0m0.5-5h0m0 33h0m0-34.5h0m0.5-31h0m0 64h0m0 13.5h0m0-36.5h0m0.5-1h0m0 25h0m0 25h0m0-26h0m0-71.5h0m0.5 32h0m0-22h0m0 34h0m0.5-56.5h0m0 93.5h0m0-28.5h0m0.5-46h0m0 57h0m0.5-16.5h0m0-15h0m0-15h0m0 27.5h0m0 6h0m0.5-29h0m0.5 22.5h0m0-22.5h0m0 38.5h0m0-31h0m0 45.5h0m0.5-47.5h0m0 38h0m0 16.5h0m0-45.5h0m0.5-19.5h0m0-5h0m0 7.5h0m0-8h0m0.5 41h0m0-59h0m0 9.5h0m0.5 133h0m0-96h0m0.5-2h0m0 48h0m0.5-8.5h0m0-65.5h0m0 66h0m0-35.5h0m0.5-15h0m0 6.5h0m0.5-30h0m0 16.5h0m0 52.5h0m0-22h0m0-22h0m0-8.5h0m0 35h0m0.5 18.5h0m0-13.5h0m0 6h0m0-54h0m0.5 32h0m0-67.5h0m0 70h0m0.5-15h0m0 39.5h0m0.5-13h0m0-41h0m0 24h0m0.5 8.5h0m0 7h0m0.5 15.5h0m0 25h0m0-53.5h0m0 11.5h0m0 17.5h0m0.5-51.5h0m0-3.5h0m0.5-25.5h0m0-2h0m0 47.5h0m0 16.5h0m0.5-7.5h0m0 12h0m0-50h0m0 51.5h0m0 18h0m0 12.5h0m0-32.5h0m0 25.5h0m0-100.5h0m0.5 99h0m0-72.5h0m0.5 40h0m0 23h0m0-54.5h0m0 12.5h0m0-5h0m0.5-13.5h0m0-2.5h0m0 84h0m0-95.5h0m0.5 43.5h0m0-27h0m0 59h0m0-35h0m0 24h0m0-48.5h0m0.5-10.5h0m0 49.5h0m0.5-113h0m0 133.5h0m0-62.5h0m0 21.5h0m0 14h0m0.5 9.5h0m0-22.5h0m0 11.5h0m0.5-9h0m0 82.5h0m0-91.5h0m0.5 32h0m0-41.5h0m0.5 34.5h0m0-62h0m0 29h0m0 46.5h0m0-2.5h0m0.5-4.5h0m0-49h0m0.5 58h0m0-55h0m0 28h0m0 2h0m0 44.5h0m0.5-46.5h0m0-42.5h0m0 25.5h0m0 47.5h0m0-14h0m0.5 7.5h0m0.5 9.5h0m0-22h0m0-15h0m0-41h0m0 50h0m0.5 17h0m0-2.5h0m0.5-2h0m0-19.5h0m0-7h0m0 15.5h0m0-33.5h0m0 33.5h0m0 16.5h0m0.5 30h0m0-80.5h0m0.5 0h0m0-12.5h0m0.5 74h0m0-25h0m0 19.5h0m0-31h0m0.5 6.5h0m0 0h0m0-14.5h0m0 66h0m0-67h0m0.5 51.5h0m0-44.5h0m0.5 35h0m0 8h0m0.5-4h0m0-21h0m0-14.5h0m0 17.5h0m0.5-13.5h0m0-26h0m0-43.5h0m0 94h0m0.5-55h0m0 56h0m0-80h0m0.5 20h0m0-6h0m0 4h0m0-3h0m0 85h0m0-29h0m0 29h0m0-25.5h0m0.5 8.5h0m0-17h0m0 40h0m0-32.5h0m0.5 15.5h0m0.5-32.5h0m0.5 13h0m0-65h0m0 71h0m0-23h0m0 16h0m0 15h0m0-6.5h0m0-50.5h0m0 39.5h0m0.5-16.5h0m0.5-22.5h0m0 47.5h0m0 20h0m0-36.5h0m0-5h0m0-14.5h0m0 27.5h0m0.5-9.5h0m0-4.5h0m0.5-23h0m0 54.5h0m0-39.5h0m0 5h0m0 8h0m0.5 29h0m0-49h0m0.5 16h0m0-14.5h0m0 22h0m0 8h0m0.5-34h0m0-11.5h0m0 52h0m0-60.5h0m0 66.5h0m0.5-32h0m0 50h0m0.5-76h0m0 56.5h0m0-36.5h0m0-47h0m0.5 82h0m0 39.5h0m0.5-41h0m0-65.5h0m0 44h0m0.5 46.5h0m0-29h0m0-33h0m0-22.5h0m0.5 54h0m0-42.5h0m0.5 63h0m0-42.5h0m0-11h0m0 15.5h0m0 17h0m0 21.5h0m0.5-45.5h0m0 6.5h0m0 70h0m0-62h0m0-39h0m0 19.5h0m0 0h0m0.5-38h0m0 3.5h0m0 57.5h0m0-31.5h0m0.5-17.5h0m0 22.5h0m0-28h0m0 34h0m0-102h0m0.5 83.5h0m0 7.5h0m0-10h0m0.5 57h0m0-76h0m0 30.5h0m0.5 7.5h0m0 30.5h0m0.5-27h0m0-6.5h0m0 23.5h0m0-50h0m0 22h0m0.5 16h0m0-28h0m0 43.5h0m0-12h0m0 1.5h0m0.5 16.5h0m0-32.5h0m0.5-6h0m0 71h0m0-45.5h0m0 8.5h0m0-40.5h0m0 28h0m0.5-31h0m0 25h0m0-3h0m0-28.5h0m0 21.5h0m0.5 5h0m0-8h0m0.5 35h0m0-32h0m0 13h0m0-9.5h0m0.5-12h0m0 7h0m0 37.5h0m0.5-13.5h0m0.5-59.5h0m0 74h0m0.5-46h0m0 37h0m0.5-2.5h0m0 45h0m0.5-50h0m0-6.5h0m0-0.5h0m0 21h0m0 8h0m0.5 17h0m0-110.5h0m0 59.5h0m0 48h0m0-40.5h0m0-61h0m0 64.5h0m0 38.5h0m0.5-1.5h0m0-7h0m0-3h0m0-35.5h0m1-3h0m0 26h0m0 28.5h0m0-38.5h0m0.5 2.5h0m0-34.5h0m0 28.5h0m0-55.5h0m0 68h0m0.5-9.5h0m0-20.5h0m0 20h0m0.5-5h0m0-40.5h0m0 18.5h0m0.5 28.5h0m0 26.5h0m0 0.5h0m0-45h0m0.5 5h0m0 17h0m0 42h0m0.5-91h0m0 61h0m0-54h0m0.5 8h0m0 56h0m0.5-17.5h0m0-46.5h0m0.5 33.5h0m0 29h0m0.5-31.5h0m0-5h0m0-14.5h0m0 11.5h0m0 35.5h0m0-20h0m0 53.5h0m0.5-56.5h0m0 3.5h0m0-49h0m0 49h0m0-80.5h0m0 98h0m0-53.5h0m0.5 24h0m0 39h0m0-3.5h0m0-2h0m0.5-26.5h0m0 13h0m0-40h0m0 42.5h0m0 5h0m0.5-45h0m0 30h0m0 29h0m0-41h0m0 14h0m0-6h0m0.5 63.5h0m0-43.5h0m0-34.5h0m0 19h0m0-3h0m0-38.5h0m0 36h0m0-10h0m0-9h0m0.5 15h0m0-12.5h0m0 32.5h0m0 9h0m0.5 13h0m0-20h0m0-29h0m0-15h0m0.5 57h0m0-57.5h0m0 7h0m0.5 6.5h0m0-15.5h0m0-27.5h0m0 80h0m0.5-26.5h0m0 34.5h0m0-33.5h0m0 33h0m0-53h0m0.5 13h0m0-35h0m0.5 34h0m0-35.5h0m0 23.5h0m0 37h0m0-28.5h0m0 27h0m0-29.5h0m0.5 6h0m0-53h0m0.5 79.5h0m0-44h0m0 60.5h0m0-64.5h0m0 12h0m1-3.5h0m0-7h0m0-8h0m0.5-1.5h0m0 80.5h0m0-21h0m0-20.5h0m0.5-22.5h0m0-11h0m0-0.5h0m0 22h0m0-34.5h0m0.5 21.5h0m0 21.5h0m0-10.5h0m0 14.5h0m0-22.5h0m0.5-38h0m0 19h0m0 20.5h0m0 18.5h0m0-36.5h0m0 26h0m0.5 79.5h0m0-86h0m0.5 7.5h0m0 14.5h0m0.5-27h0m0 6h0m0-2h0m0.5 8h0m0 53h0m0.5-29.5h0m0-13.5h0m0 4.5h0m0 9.5h0m0 33h0m0-60.5h0m0-12.5h0m0.5 6.5h0m0 5h0m0 14h0m0 24.5h0m0-43.5h0m0 14.5h0m0.5 49h0m0-75h0m0-17.5h0m0 48h0m0 0h0m0.5 23h0m0-44.5h0m0 76.5h0m0.5-71h0m0 25.5h0m0 14h0m0-19h0m0-40.5h0m0.5 28h0m0 16.5h0m0-16h0m0 19.5h0m0.5-6h0m0 16h0m0-45.5h0m0 45.5h0m0.5-24.5h0m0-4.5h0m0-23.5h0m0 22.5h0m0 31.5h0m0-25h0m0.5-25h0m0 34h0m0-9.5h0m0-28h0m0 14h0m0-15.5h0m0 17.5h0m0.5 8h0m0-33h0m0 69h0m0.5-21h0m0 41.5h0m0-67h0m0 61h0m0-33.5h0m0 6.5h0m0.5-32h0m0-34h0m0 56h0m0 13.5h0m0-52.5h0m0 42h0m0.5-8.5h0m0-65h0m0 81.5h0m0 18.5h0m0.5-115h0m0 97.5h0m0-37h0m0-21.5h0m0-12h0m0.5 14.5h0m0 34h0m0.5 5.5h0m0 12h0m0-1.5h0m0.5-37h0m0 12h0m0.5 48.5h0m0-50h0m0 15.5h0m0-11h0m0.5 69.5h0m0-80h0m0.5 14.5h0m0-37.5h0m0 52.5h0m0-36.5h0m0 59h0m0-47.5h0m0 8h0m0 42.5h0m0.5-18h0m0-62.5h0m0 51.5h0m0-40.5h0m0 9h0m0.5 73h0m0-38.5h0m0-28h0m0 35h0m0-71h0m0 59.5h0m0-70.5h0m0 103h0m0.5-41h0m0-23.5h0m0-1.5h0m0 41.5h0m0.5-10.5h0m0-11h0m0-16.5h0m0-28h0m0.5 66h0m0-7.5h0m0.5-5h0m0-27h0m0 34h0m0-51h0m0 41h0m0.5 59h0m0-77.5h0m0.5-18h0m0 47.5h0m0 38h0m0-57.5h0m0-22.5h0m0.5-8h0m0.5-21.5h0m0 63h0m0 44.5h0m0-57h0m0.5-47.5h0m0 86h0m0-29h0m0.5 49h0m0-16.5h0m0-64h0m0 51.5h0m0 9.5h0m0-27.5h0m0-47.5h0m0.5 53.5h0m0 25.5h0m0.5 0.5h0m0-83h0m0 12.5h0m0 46.5h0m0-48h0m0.5 69.5h0m0.5-50h0m0 32h0m0 40h0m0-49.5h0m0 24h0m0.5-34h0m0 32.5h0m0-12h0m0-19h0m0.5 20.5h0m0-4h0m0.5 30h0m0.5-26.5h0m0-7.5h0m0-38.5h0m0 46h0m0-20h0m0.5 45h0m0-89.5h0m0 73.5h0m0-40h0m0.5 72h0m0-113h0m0 15h0m0 27h0m0.5-3h0m0 52.5h0m0.5-30.5h0m0-30h0m0 33.5h0m0 53.5h0m0-63.5h0m0-7.5h0m0.5 62h0m0-87h0m0 40h0m1 4h0m0-48.5h0m0 50.5h0m0 27.5h0m0.5-86h0m0 49h0m0 42.5h0m0-34.5h0m0.5-14.5h0m0 26h0m0 2h0m0 17h0m0-43.5h0m0.5 33h0m0 6h0m0.5-2.5h0m0-89h0m0 53.5h0m0.5 50.5h0m0-29.5h0m0-12h0m0-30h0m0-21h0m0-9.5h0m0.5 100.5h0m0-62h0m0 19h0m0-17.5h0m0.5 18.5h0m0 15.5h0m0-45h0m0 55.5h0m0-16.5h0m0.5-26h0m0-35h0m0 75h0m0.5 20.5h0m0-14h0m0-18h0m0-5h0m0.5-12h0m0 22h0m0-46.5h0m0.5 67.5h0m0-14.5h0m0-17.5h0m0-19h0m0.5-64.5h0m0 93.5h0m0-20h0m0 36.5h0m0.5-43.5h0m0 32.5h0m0-27h0m0 17h0m0-19h0m0.5-6.5h0m0-16h0m0 0h0m0 52h0m0-34h0m0-5h0m0.5 11h0m0 12h0m0-0.5h0m0.5-30.5h0m0.5 51.5h0m0-16.5h0m0-34h0m0-9.5h0m0.5 24.5h0m0 15h0m0 5.5h0m0 6h0m0-42h0m0 41h0m0.5-11h0m0 43.5h0m0-49h0m0 15h0m0-6.5h0m0-26h0m0 12h0m0.5-11.5h0m0 9.5h0m0-9.5h0m0.5 9h0m0 37.5h0m0 49.5h0m0-92.5h0m0-12h0m0 41h0m0.5-46.5h0m0 36h0m0-41.5h0m0 27h0m0-10h0m0 26h0m0 4h0m0.5-42h0m0 59.5h0m0-15h0m0.5-26h0m0.5 51h0m0-60.5h0m0-35.5h0m0 95.5h0m0-14h0m0.5-11h0m0-2h0m0 13h0m0-16h0m0-6h0m0.5-38.5h0m0 26h0m0 41.5h0m0-7h0m0-158.5h0m0 140h0m1.5 3h0m0-45.5h0m0 61.5h0m0.5-36.5h0m0 0h0m0 2h0m0 4h0m0-6h0m0-3h0m0.5-0.5h0m0 45h0m0-44h0m0 16.5h0m0.5 10.5h0m0-29h0m0 16h0m0.5 56h0m0-20h0m0.5-43h0m0 32.5h0m0-34.5h0m0 14h0m0 23h0m0.5-28.5h0m0-39.5h0m0.5 32h0m0.5-44.5h0m0 33.5h0m0-30h0m0.5 64.5h0m0 53.5h0m0-66h0m0.5-39.5h0m0 51.5h0m0-30h0m0 37.5h0m0-31.5h0m0-5.5h0m0 32.5h0m0-15h0m0-19h0m0.5 25.5h0m0.5 24h0m0-111h0m0 64h0m0-22.5h0m0 50h0m0 27h0m0.5-39.5h0m0 8h0m0-65.5h0m0 90.5h0m0-16.5h0m0-18.5h0m0.5 1.5h0m0-54.5h0m0 71h0m0-30h0m0 27h0m0-36.5h0m0 14h0m0-52h0m0.5 58h0m0-4.5h0m0-0.5h0m0 7.5h0m1-9h0m0 37.5h0m0-41.5h0m0-4.5h0m0 7.5h0m0 6.5h0m0.5 50.5h0m0.5-80h0m0 40.5h0m0 26h0m0-37h0m0-47h0m0.5 39.5h0m0 27.5h0m0.5-35.5h0m0 13h0m0 20h0m0 17.5h0m0.5 5h0m0-33.5h0m0 2h0m0-6.5h0m0-70h0m0 43h0m0 3h0m0 13.5h0m0-21h0m0.5 18.5h0m0 10h0m0.5-23h0m0 35h0m0.5-5h0m0-41.5h0m0 64.5h0m0.5-28h0m0-2.5h0m0 9.5h0m0-64h0m0 77h0m0-25h0m0.5 55.5h0m0-26h0m0-28.5h0m0 8.5h0m0 14.5h0m0 8h0m0-26.5h0m0.5-11h0m0-2h0m0 45.5h0m0 9.5h0m0-14h0m0.5-12.5h0m0-42.5h0m0 55h0m0-40.5h0m0-34h0m0.5 59.5h0m0 10.5h0m0-17h0m0 32.5h0m0.5-64.5h0m0 44.5h0m0 12.5h0m0.5-29.5h0m0 63.5h0m0-124.5h0m0.5 38h0m0-35h0m0-7.5h0m0 5h0m0 50.5h0m0.5-4h0m0-9.5h0m0 58h0m0-62.5h0m0 31.5h0m0-10.5h0m0 29.5h0m0-38h0m0-13h0m0.5-13h0m0 31.5h0m0 55h0m0.5-114.5h0m0 48.5h0m0-39h0m0 92h0m0-118.5h0m0.5 65.5h0m0 41.5h0m0-25h0m0 16.5h0m0 14h0m0-53.5h0m0 73h0m0.5-36.5h0m0-53.5h0m0 11h0m0 15.5h0m0.5-33h0m0 84h0m0-44h0m0 9h0m0 10h0m0 23.5h0m0-37.5h0m0.5-6.5h0m0 27h0m0.5 18.5h0m0.5-58.5h0m0 59.5h0m0-30h0m0-28.5h0m0 43h0m0.5-23h0m0-58h0m0 88.5h0m0.5-72.5h0m0 33.5h0m0 8h0m0.5 6h0m0 32h0m0-28h0m0-79h0m0 69.5h0m0.5-8.5h0m0-22h0m0 40h0m0-7h0m0 62.5h0m0-9h0m0-97h0m0.5 22h0m0 11h0m0 50h0m0.5-21h0m0-37h0m0 27h0m0 37h0m0-25.5h0m0-33h0m0 21h0m0.5-4h0m0-1.5h0m0-38.5h0m0 72.5h0m0-55h0m0 62h0m0.5-76h0m0 32h0m0.5-24.5h0m0 20.5h0m0 28h0m0-19.5h0m0 11h0m0.5-37.5h0m0 43.5h0m0-69h0m0 39h0m0 5.5h0m0-63h0m0 10h0m0.5 76.5h0m0-18.5h0m0 7h0m0 25h0m0.5-45h0m0-4h0m0 31h0m0 4.5h0m0-31h0m0.5 15h0m0-27.5h0m0-9.5h0m0.5 47h0m0-37.5h0m0-9.5h0m0.5 18h0m0 19h0m0-34h0m0-38.5h0m0.5 97h0m0-39h0m0-24h0m0 23h0m0.5 18h0m0-38.5h0m0 19h0m0-23.5h0m0 31h0m0.5 31.5h0m0-75.5h0m0 59.5h0m0-48h0m0.5 29h0m0 38.5h0m0-23h0m0 20h0m0-46h0m0 38h0m0-86h0m0 50h0m0.5 0h0m0-23.5h0m0-1h0m0-15.5h0m0 60.5h0m0 17h0m0.5-73h0m0 57h0m0.5-9h0m0.5 7h0m0-3h0m0 30h0m0-32h0m0 5h0m0.5 9.5h0m0.5-26h0m0 57h0m0.5-5.5h0m0-62.5h0m0 10h0m0.5-45h0m0 41.5h0m0 78h0m0-64.5h0m0 40.5h0m0.5-95.5h0m0 86.5h0m0 6.5h0m0-46h0m0-33.5h0m0 21h0m0-12h0m0 9h0m0.5-14.5h0m0 48.5h0m0-3.5h0m0 11.5h0m0.5 21.5h0m0-60.5h0m0 6.5h0m0 22h0m0 5.5h0m0-0.5h0m0-24.5h0m0 16h0m0.5 74h0m0-84.5h0m0-18.5h0m0 68h0m0-50h0m0.5-22h0m0 33.5h0m0-22h0m0.5 60h0m0-21h0m0-18h0m0 67h0m0.5-78.5h0m0 53h0m0-78.5h0m0 27h0m0-13h0m0 54h0m0.5 10.5h0m0-63h0m0 36.5h0m0 18.5h0m0-39h0m0-33h0m0.5 28h0m0-3.5h0m0 25.5h0m0 14.5h0m0-6h0m0-47h0m0.5 25.5h0m0 10.5h0m0-23.5h0m0 35h0m0-20h0m0 9.5h0m0-40.5h0m0.5 43h0m0-7.5h0m0 34.5h0m0.5-16.5h0m0-42h0m0 4.5h0m0.5 65.5h0m0-93.5h0m0 52h0m0.5-46h0m0 21.5h0m0.5-14h0m0 50h0m0 4.5h0m0.5-43.5h0m0-33h0m0 44.5h0m0-20h0m0-29.5h0m0.5 35h0m0-65.5h0m0 105.5h0m0-42.5h0m0.5-32h0m0 57.5h0m0.5-18.5h0m0.5 35.5h0m0-26h0m0.5 9.5h0m0 12h0m0.5-31h0m0-14.5h0m0-37.5h0m0.5 131.5h0m0-51h0m0-28h0m0.5-0.5h0m0-11.5h0m0.5 64.5h0m0-51h0m0 6h0m0 8h0m0-70h0m0.5 50.5h0m0-7.5h0m0 72.5h0m0-43h0m0.5-9.5h0m0-33h0m0 22h0m0 14.5h0m0-29h0m0 33.5h0m0-26.5h0m0.5 39h0m0-42h0m0.5 45.5h0m0-6h0m0-9h0m0 7h0m0.5-6.5h0m0-20h0m0 96h0m0.5-101.5h0m0.5-10.5h0m0-17.5h0m0 46h0m0 61.5h0m0-67.5h0m0.5-9h0m0 20.5h0m0 3h0m0-28h0m0.5-0.5h0m0.5 5h0m0 45h0m0-11.5h0m0 12.5h0m0 13.5h0m0-8.5h0m0-46h0m0.5 29.5h0m0-37.5h0m0 43.5h0m0-51.5h0m1 50h0m0.5-11.5h0m0-64h0m0 69.5h0m0-11h0m0 9.5h0m0.5-5.5h0m0 9.5h0m0-38.5h0m0-3h0m0.5-4h0m0-19h0m0.5 70.5h0m0-35h0m0 51h0m0-61.5h0m0 29.5h0m0.5 0h0m0-8h0m0 24h0m0.5 21.5h0m0 6.5h0m0.5-46.5h0m0 36.5h0m0 3.5h0m0-74.5h0m0 47.5h0m0.5-30h0m0 41.5h0m0.5-0.5h0m0 14h0m0-28h0m0-24.5h0m0.5 33h0m0-31h0m0 106.5h0m0.5-76h0m0-36h0m0 23h0m0.5 28.5h0m0-52h0m0.5 25.5h0m0-17.5h0m0-127.5h0m0.5 155h0m0-10h0m0-32h0m0 29.5h0m0-29.5h0m0.5 70.5h0m0-80.5h0m0 52h0m0.5 30.5h0m0-72h0m0 29h0m0-30.5h0m0-32h0m0 94h0m0.5-40h0m0 37.5h0m0-2.5h0m0.5 11.5h0m0-50h0m0.5 7.5h0m0-34.5h0m0 60h0m0-81.5h0m0 42.5h0m0.5-13h0m0 39.5h0m0-45.5h0m0 75h0m0-41.5h0m0.5 13h0m0.5-10h0m0.5-13.5h0m0 0h0m0-33h0m0 70h0m0.5-24.5h0m0-7.5h0m0.5-58h0m0 42.5h0m0-7h0m0-4h0m0 50.5h0m0-15.5h0m0 21.5h0m0.5-26h0m0-10.5h0m0 19h0m0-7.5h0m0-7.5h0m0.5-33h0m0 85.5h0m0-71.5h0m0 44.5h0m0.5-6h0m0 11h0m0-43.5h0m0.5 38h0m0-56h0m0 51h0m0-2.5h0m0.5-27.5h0m0 74.5h0m0-106.5h0m0 27.5h0m0.5-2h0m0 0h0m0 50h0m0-36h0m0 10.5h0m0-45.5h0m0-17h0m0 107.5h0m0.5-27h0m0 51h0m0.5-86h0m0-36.5h0m0 54h0m0.5 23.5h0m0.5 18h0m0-60h0m0 1.5h0m0-1h0m0-12.5h0m0 51h0m0.5-56.5h0m0 24.5h0m0 35.5h0m0.5-4.5h0m0 23h0m0-27.5h0m0-98.5h0m0 99.5h0m0.5-30.5h0m0 27.5h0m0-34.5h0m0 46.5h0m0-42h0m0.5 16.5h0m0 12h0m0-57.5h0m0-10h0m0.5 47.5h0m0 6.5h0m0.5-29.5h0m0 77h0m0.5-22.5h0m0-12.5h0m0.5 12.5h0m0 43h0m0-37h0m0 39h0m0-37.5h0m0-49h0m0.5 83h0m0-86h0m0-10.5h0m0 74.5h0m0.5-31.5h0m0-25.5h0m0-26h0m0.5 20.5h0m0 21.5h0m0 31.5h0m0-38.5h0m0-51.5h0m0.5 88.5h0m0-47.5h0m0 62.5h0m0-79h0m0.5 17.5h0m0 18.5h0m0-38h0m0.5 2h0m0 51h0m0 4.5h0m0.5-25h0m0-54.5h0m0 44h0m0-20h0m0.5 69.5h0m0-53h0m0 2h0m0-1h0m0-25.5h0m0.5 0h0m0 37h0m0 52h0m0.5-109h0m0 40.5h0m0 22.5h0m0-15h0m0-49h0m0 54.5h0m0 50.5h0m0.5-56.5h0m0-39h0m0 27h0m0 38.5h0m0.5 57.5h0m0-29h0m0-67h0m0 14h0m0 46.5h0m0 9.5h0m0.5-35h0m0-33h0m0 48h0m0-60.5h0m0 79h0m0-53.5h0m0.5-64.5h0m0 49.5h0m0 66h0m0-46h0m0.5 22h0m0-22h0m0-19h0m0 32.5h0m0.5 34.5h0m0-78.5h0m0.5 36.5h0m0-49.5h0m0-60.5h0m0.5 115.5h0m0.5-24.5h0m0-5.5h0m0 0h0m0-22h0m0 29h0m0.5-42h0m0 62h0m0-5.5h0m0 36.5h0m0-31.5h0m0.5-10.5h0m0-17h0m0.5 46.5h0m0 19h0m0.5-42h0m0 18h0m0-11h0m0-72h0m0.5 35h0m0 50.5h0m0 14h0m0-41h0m0 2.5h0m0 2h0m0 19.5h0m0.5-17.5h0m0 31.5h0m0 4h0m0-65h0m0.5 41.5h0m0-40.5h0m0 17h0m0 59.5h0m0-3.5h0m1-56h0m0-26h0m0 25h0m1 19h0m0 24h0m0.5-75.5h0m0 57h0m0-27.5h0m0.5 46.5h0m0-46.5h0m0-43.5h0m0 71h0m0 7h0m0-20h0m0.5 10h0m0-62h0m0 23h0m0 14.5h0m0 38h0m0-81h0m0.5 91.5h0m0.5-76.5h0m0 74.5h0m0-82h0m0.5 34h0m0.5-22h0m0 37h0m0 5h0m0-4h0m0.5-33h0m0 13h0m0 39.5h0m0.5-4.5h0m0-27h0m0.5 47h0m0-64h0m1 22.5h0m0 13h0m0.5 1.5h0m0.5-2.5h0m0 6.5h0m0 0.5h0m0.5-12.5h0m0 35.5h0m0-53.5h0m0 60h0m0 8.5h0m0-53.5h0m0.5 40h0m0-34.5h0m0 93.5h0m0-60.5h0m0.5-44.5h0m0 6.5h0m0.5 66.5h0m0-144.5h0m0 49h0m0 77h0m0-40h0m0.5 2h0m0 8h0m0-21.5h0m0.5 19h0m0-23h0m0-41h0m0 28h0m0 77h0m0-33h0m0.5-25.5h0m0 47h0m0 0h0m0-40h0m0.5-2.5h0m0 17h0m0-25h0m0.5-60.5h0m0 49h0m0 66.5h0m0-92.5h0m0 41h0m0.5-29h0m0 28h0m0 28.5h0m0.5 24.5h0m0-44.5h0m0 53.5h0m0.5-115.5h0m0 51h0m0 14.5h0m0.5 8h0m0 18h0m0.5-49h0m0 8.5h0m0 45h0m0-41.5h0m0-25h0m0 26h0m0 20.5h0m0.5 16.5h0m0 51.5h0m0-44.5h0m0-62.5h0m0.5 72h0m0-85.5h0m0 78h0m0-78.5h0m0-7.5h0m0 51.5h0m0.5-19.5h0m0 26h0m0 12.5h0m0-24.5h0m0-8h0m0 24h0m0.5-9h0m0 30h0m0-69.5h0m0 59h0m0-48.5h0m0.5 6.5h0m0 25.5h0m0-2h0m0 24h0m0-9h0m0-88.5h0m0 64h0m0.5 7.5h0m0-16.5h0m0 8.5h0m0-12.5h0m0-6h0m0.5 6h0m0-18.5h0m0.5 65.5h0m0-76h0m0 73.5h0m0 8h0m0-59h0m0 24.5h0m0 11.5h0m0.5-23h0m0 10.5h0m0 27.5h0m0.5-25h0m0.5-4.5h0m0-17h0m0 49h0m0-10h0m0 6.5h0m0.5-40.5h0m0 57.5h0m0-63.5h0m0 35.5h0m0.5 0h0m0 16.5h0m0-30.5h0m0.5 4.5h0m0-42h0m0.5 20.5h0m0-23h0m0 44.5h0m0 15.5h0m0-34.5h0m0-22h0m0 27h0m0.5 48.5h0m0-32.5h0m0-37h0m0 7h0m0 8.5h0m0-19.5h0m0 42.5h0m0 6.5h0m0-37h0m0-1h0m0 2h0m0.5-12.5h0m0 27h0m0-58h0m0 68h0m0-20.5h0m0-2h0m0.5 37h0m0-25.5h0m0-5.5h0m0 73.5h0m0.5-62.5h0m0-23h0m0-4.5h0m0 29.5h0m0 14.5h0m0-11.5h0m0.5 10.5h0m0 4.5h0m0.5 26h0m0-91.5h0m0 74.5h0m0.5-29h0m0 17.5h0m0.5-9h0m0-25h0m0.5 1.5h0m0 5h0m0 17.5h0m0.5-53h0m0 48.5h0m0 2.5h0m0.5-39.5h0m0 17h0m0-10h0m0 42h0m0.5-53.5h0m0 69.5h0m0 11h0m0-74.5h0m0 13h0m0.5 51.5h0m0-51h0m0.5-3.5h0m0 0h0m0 34h0m0-12h0m0-20.5h0m0.5-23h0m0.5 61h0m0-20h0m0-31.5h0m0 21h0m0 2h0m0.5-4.5h0m0.5-16.5h0m0-5.5h0m0 41h0m0 16.5h0m0-58.5h0m0.5 73h0m0-11h0m0-33h0m0-35h0m0.5 96.5h0m0-64.5h0m0 6.5h0m0.5-46.5h0m0 49h0m0-32h0m0 12.5h0m0 16.5h0m0 70h0m0.5-95.5h0m0 56.5h0m0-14.5h0m0.5-41.5h0m0-15h0m0-6.5h0m0 51h0m0.5 25h0m0-31h0m0-6h0m0-4h0m0.5-11.5h0m0 56h0m0-14.5h0m0.5 7h0m0 2h0m0-60h0m0 39h0m0.5-40h0m0 12h0m0 67h0m0-53.5h0m0-13h0m0-3.5h0m0 32.5h0m0 9.5h0m0-5h0m0-12h0m0.5-10h0m0-16h0m0-17h0m0-32.5h0m0.5 100.5h0m0.5-47.5h0m0 77h0m0-41h0m0-63h0m0.5 91.5h0m0-39h0m0-4.5h0m0 38.5h0m0-32h0m0-5.5h0m0-7.5h0m0 35h0m0 13.5h0m0.5-93.5h0m0 79.5h0m0-28h0m0-7.5h0m0.5-11.5h0m0 18h0m0-30h0m0-31.5h0m0 88.5h0m0-47h0m0 32h0m0.5-49.5h0m0 69.5h0m0-5.5h0m0-13.5h0m0-33h0m0.5 65.5h0m0-48h0m0 18h0m0-26.5h0m0.5-38.5h0m0 12h0m0 48h0m0-11.5h0m0-55h0m0 33h0m0.5 57h0m0-170h0m0 174h0m0-30.5h0m0 10h0m0.5-8.5h0m0 22h0m0-43h0m0 0.5h0m0 9h0m0.5 10h0m0 45h0m0-52h0m0.5 21.5h0m0 18h0m0.5 2h0m0-36.5h0m0-70.5h0m0 41h0m0-38.5h0m0.5 70.5h0m0-41h0m0 6h0m0 68.5h0m1-6h0m0 6.5h0m0-15.5h0m0.5-43.5h0m0 46h0m0.5-25.5h0m0 25.5h0m0.5-11h0m0 8h0m0-59.5h0m0 36.5h0m0.5 23.5h0m1 29h0m0-109.5h0m0.5 92.5h0m0-76h0m0 38.5h0m0 31h0m0-23.5h0m0-32.5h0m0.5-5.5h0m0 27h0m0 29.5h0m0.5-35.5h0m0-21h0m0-2.5h0m0 15.5h0m0 34h0m0-4h0m0.5-60h0m0 48.5h0m0.5 13.5h0m0 2h0m0-20h0m0-1h0m0-9.5h0m0 58h0m0.5-41.5h0m0 22h0m0-36.5h0m0-20h0m0 19h0m0 33.5h0m0.5-42.5h0m0 49.5h0m0-6.5h0m0-57.5h0m0.5 47.5h0m0-18.5h0m0.5 16.5h0m0-6h0m0-32.5h0m0.5 26h0m0 39.5h0m0 6.5h0m0.5-42h0m0 7.5h0m0 1.5h0m0-7.5h0m0-25h0m0.5 13.5h0m0-31.5h0m0 14.5h0m0.5 42h0m0-22.5h0m0.5 3h0m0 0.5h0m0-38h0m0 98h0m0-9h0m0-45h0m0-37.5h0m0 63h0m0-87h0m0.5 58h0m0-31.5h0m0 26h0m0 5h0m0.5-31h0m0 16.5h0m0 58.5h0m0-63.5h0m0 61.5h0m0-12.5h0m0.5-17h0m0-7h0m0 18.5h0m0-16h0m0.5 18h0m0-21.5h0m0-19.5h0m0 6h0m0 11h0m0-12h0m0.5-15.5h0m0 45h0m0-109h0m0 79h0m0-31.5h0m0 41.5h0m0.5 57.5h0m0-78.5h0m0.5-4h0m0 18h0m0 37h0m0-21h0m0 14h0m0-66h0m0.5 60h0m0-23h0m0 26.5h0m0.5-33.5h0m0 15.5h0m0.5 7h0m0 19h0m0-34h0m0 42.5h0m0-76.5h0m0.5 70h0m0-53h0m0.5 4.5h0m0 32h0m0-14.5h0m0 23.5h0m0.5-20h0m0 1h0m0 19h0m0-64.5h0m0 60.5h0m0-32h0m0.5-11.5h0m0 56h0m0-36h0m0.5 2h0m0-22.5h0m0 45h0m0-13.5h0m0-6h0m0 16h0m0 13h0m0 36h0m0.5-71.5h0m0-6h0m0 75.5h0m0-61.5h0m0 42h0m0-45.5h0m0-38h0m0 14h0m0 29h0m0 24h0m0 30h0m0-33.5h0m0.5-47.5h0m0 83.5h0m0.5-96.5h0m0 29.5h0m0.5-35.5h0m0 61.5h0m0-52h0m0 32.5h0m0 9h0m0 9.5h0m0 21.5h0m0.5-11h0m0-9.5h0m0 16.5h0m0 8.5h0m0-103h0m0.5 103h0m0-78h0m0 38h0m0 61h0m0-35.5h0m0-12.5h0m0-4.5h0m0-11h0m0-31h0m0.5-1h0m0 8h0m0 10h0m0 27.5h0m0 2h0m0-14h0m0.5-1.5h0m0 21h0m0.5-39h0m0 14.5h0m0.5 19.5h0m0-4.5h0m0 7.5h0m0-25.5h0m0.5 33h0m0-83.5h0m0 35.5h0m0 38.5h0m0 12.5h0m0 4.5h0m0.5-16h0m0 13.5h0m0 21h0m0-48.5h0m0.5 0h0m0-12.5h0m0-45.5h0m0 73h0m0-36h0m0-33h0m0 13.5h0m0.5 71.5h0m0-28h0m0-28h0m0 21h0m0.5 7.5h0m0 1h0m0-5.5h0m0-24h0m0 22.5h0m0-53h0m0 107.5h0m0-93.5h0m0.5 45.5h0m0 63h0m0.5-67h0m0-5h0m0 21.5h0m0.5-33.5h0m0.5 26h0m0-28.5h0m0.5-29.5h0m0 89h0m0.5-72.5h0m0 39h0m0-12.5h0m0-24.5h0m0.5-3h0m0.5 9h0m0 65h0m0.5-62h0m0-40h0m0 28.5h0m0 52.5h0m0-9.5h0m0-35h0m0 3.5h0m0 21h0m0.5 47h0m0-108.5h0m0 68.5h0m0-46.5h0m0 25h0m0 25.5h0m0.5-7h0m0.5 36h0m0-11h0m0-18.5h0m0 5h0m0.5-10h0m0 21.5h0m0-24h0m0-19h0m0.5 20.5h0m0 41.5h0m0-23h0m0-29h0m0 63.5h0m0-86.5h0m0 32h0m0.5-32h0m0 59.5h0m0 5.5h0m0 10.5h0m0-107.5h0m0 81h0m0-7.5h0m0.5-2.5h0m0 5.5h0m0 4.5h0m0.5-58.5h0m0 21h0m0 6h0m0 24.5h0m0.5-21h0m0-8.5h0m0 41.5h0m0 11.5h0m0.5-7.5h0m0-81h0m0 39h0m0-32h0m0 23h0m0-38h0m0.5 22.5h0m0 61.5h0m0-27h0m0-46h0m0 54.5h0m0-3h0m0.5 2.5h0m0 4.5h0m0-26h0m0-24h0m0 41.5h0m0.5 25h0m0.5-35h0m0-32.5h0m0 19h0m0 69h0m0-58.5h0m0 2h0m0 39h0m0-72.5h0m0 23.5h0m0.5 65.5h0m0-31.5h0m0-13h0m0.5-13.5h0m0 8h0m0.5-83h0m0 85.5h0m0.5 45.5h0m0-94.5h0m0 34.5h0m0 11h0m0.5 5.5h0m0-53h0m0 0h0m0-0.5h0m1 43.5h0m0 70.5h0m0-76h0m0 68h0m0.5-100.5h0m0 59.5h0m0 35.5h0m0 0.5h0m0.5-62.5h0m0 29h0m0-35h0m0-2h0m0-10h0m0 5.5h0m0.5-5.5h0m0 37.5h0m0 23.5h0m0-3h0m0-5h0m0.5-49h0m0 24.5h0m0-21h0m0 57h0m0.5-29.5h0m0-26.5h0m0 6h0m0 6.5h0m0 91.5h0m0.5-64h0m0 2.5h0m0 8h0m0.5-39h0m0-15h0m0.5 9.5h0m0.5 28.5h0m0-100h0m0 145.5h0m0-74.5h0m0.5 30.5h0m0-39.5h0m0 45.5h0m0-20.5h0m0-40h0m0.5 29h0m0 5.5h0m0-13h0m0-4.5h0m0.5-12.5h0m0 96h0m0-63.5h0m0.5 21h0m0-15h0m0-44h0m0 64.5h0m0-24h0m0 14.5h0m0-24h0m0.5-6h0m0 66.5h0m0.5-86h0m0 5h0m0 38.5h0m0.5-18.5h0m0 12h0m0 42h0m0.5-40.5h0m0-7h0m0 62.5h0m0-87h0m0.5 42.5h0m0-25h0m0 29h0m0 8h0m0.5-29.5h0m0-21h0m0 11h0m0 74h0m0-56.5h0m0 58h0m0.5-45h0m0-20.5h0m0-8h0m0-17.5h0m0 39h0m0 3.5h0m0-61.5h0m0.5 67h0m0-14.5h0m0 28.5h0m0-13h0m0.5 35h0m0-62.5h0m0-3.5h0m0.5-28h0m0.5 22h0m0-23h0m0 91h0m0.5-37h0m0-21.5h0m0.5-2.5h0m0 7h0m0-19.5h0m0-23.5h0m0 22h0m0 59.5h0m0-2h0m0.5-37h0m0-27.5h0m0-4h0m0.5 7h0m0 28h0m0 41.5h0m0-105h0m0 33.5h0m0 19.5h0m0 45h0m0-4h0m0.5-14.5h0m0-30h0m0 28.5h0m0 1.5h0m0-17h0m0-31.5h0m0.5 19.5h0m0 9.5h0m0-27.5h0m0 14.5h0m0.5-42h0m0 34.5h0m0-3h0m0 50.5h0m0.5-11.5h0m0 4.5h0m0.5-24.5h0m0 37.5h0m0 31.5h0m1-35h0m0-42.5h0m0 5h0m0.5 45h0m0-18h0m0 33h0m0-21.5h0m0-2.5h0m0-33.5h0m0.5-10.5h0m0 45.5h0m0-88.5h0m0 28h0m0.5 56.5h0m0-50h0m0 76h0m0.5-47.5h0m0-14h0m0 97.5h0m0-62h0m0-25.5h0m0.5 12.5h0m0 3h0m0-31.5h0m0.5 21.5h0m0 66.5h0m0-95h0m0 25.5h0m0.5 7.5h0m0-42.5h0m0.5-4.5h0m0 13.5h0m0-29.5h0m0 53h0m0 3.5h0m0.5 42.5h0m0-38h0m0.5 5h0m0 27h0m0.5 16h0m0-73.5h0m0.5 61h0m0-6h0m0-53h0m0.5-12h0m0 18h0m0 27.5h0m0 7.5h0m0.5-26h0m0-2.5h0m0 78h0m0-55h0m0 2.5h0m0.5-34h0m0 37.5h0m0.5-2h0m0-4.5h0m0 6h0m0.5-6h0m0-16h0m0 21.5h0m0.5-40.5h0m0 37.5h0m0-13h0m0 14h0m0.5-27h0m0-3.5h0m0-15.5h0m0 34.5h0m0 2h0m0.5-49.5h0m0 59h0m0-23.5h0m0 21.5h0m0.5-43.5h0m0 8h0m0 58.5h0m0.5-36h0m0 15h0m0.5-18h0m0 34h0m0.5-45h0m0 23.5h0m0 8.5h0m0 8.5h0m0-26.5h0m0.5-3.5h0m0-3h0m0-63h0m0 58h0m0.5-19h0m0 50h0m0 9h0m0-55h0m0 28.5h0m0-30h0m0 50.5h0m0-7.5h0m0.5-26.5h0m0-23.5h0m0 29.5h0m0 11h0m0 9h0m0.5 38.5h0m0 2.5h0m0-55.5h0m0-28h0m0 20h0m0-10h0m0 15h0m0-37h0m0 23h0m0.5-20h0m0 36.5h0m0-53.5h0m0 45.5h0m0 28.5h0m0-42h0m0 31.5h0m0.5-46.5h0m0 82h0m0-66.5h0m0 40.5h0m0.5-75.5h0m0 47.5h0m0 37.5h0m0.5-62h0m0 11.5h0m0-2.5h0m0-96h0m0 139.5h0m0.5-22.5h0m0-29h0m0 18.5h0m0 26h0m0-20.5h0m0 2.5h0m0.5 1.5h0m0-10h0m0 61.5h0m0-71h0m0 19h0m0.5 29.5h0m0-41.5h0m0 2h0m0 11h0m0.5-2.5h0m0 1.5h0m0-33h0m0.5 74h0m0-30.5h0m0 11.5h0m0-35h0m0 72.5h0m0-17h0m0-66h0m0.5 11.5h0m0-48.5h0m0 108.5h0m0-29h0m0.5-29.5h0m0 43.5h0m0-30.5h0m0-3.5h0m0 16h0m0-48.5h0m0.5 27.5h0m0-22.5h0m0 42.5h0m0.5-0.5h0m0 3h0m0-40.5h0m0 2.5h0m0 54h0m0.5-71.5h0m0.5 39.5h0m0 33h0m0-10.5h0m0-16.5h0m0 34h0m0-17h0m0.5-23.5h0m0-6h0m0 45h0m0-12h0m0-28.5h0m0 41h0m0 3h0m0-4.5h0m0-74h0m0 42h0m0.5 0h0m0-3.5h0m0.5-16h0m0 28.5h0m0 32h0m0.5-61.5h0m0-15h0m0 76h0m0-105.5h0m0 80h0m0-17h0m0.5-48.5h0m0 26.5h0m0.5-35h0m0 12h0m0.5 54.5h0m0.5 44.5h0m0-11.5h0m0-42.5h0m0-21h0m0 61.5h0m0-31.5h0m0.5-9.5h0m0 37.5h0m0-4h0m0 19.5h0m0-62h0m0-16h0m0 57h0m0 10.5h0m0.5-100.5h0m0 70.5h0m0-57h0m0 65.5h0m0.5 36h0m0-61.5h0m0 23.5h0m0-10h0m0-21h0m0 52h0m0.5-53.5h0m0 7h0m0 45h0m0-40.5h0m0.5-43.5h0m0 43.5h0m0 24.5h0m0.5-47h0m0 43.5h0m0-42.5h0m0.5-14h0m0 44h0m0-5.5h0m0-30.5h0m0 35.5h0m0.5-36h0m0 44.5h0m0-12.5h0m0 11h0m0 12h0m0-52.5h0m1 44.5h0m0-14.5h0m0 12h0m0-20h0m0-19h0m0 36.5h0m0-49.5h0m0 22h0m0 39h0m0.5-25h0m0-7.5h0m0 29h0m0-44.5h0m0-13.5h0m0.5 59h0m0.5-6h0m0-37h0m0-19h0m0 27.5h0m0 27h0m0.5-50h0m0 53.5h0m0-64h0m0 38h0m0-9.5h0m0 11h0m0.5 3h0m0 12h0m0.5-30h0m0 29h0m0 2h0m0-13h0m0 17.5h0m0.5-34.5h0m0.5-5h0m0-3h0m0 11.5h0m0 54.5h0m0-49h0m0.5 10h0m0 27h0m0 63h0m0-117.5h0m0.5 76.5h0m0-60h0m0 32.5h0m0 0h0m0-68.5h0m0 67h0m0.5-27h0m0-19h0m0 27.5h0m0 33h0m0-30h0m0.5-14h0m0 21.5h0m0-31h0m0-30h0m0-14h0m0 37h0m0 13.5h0m0.5 27h0m0-70.5h0m0.5 48.5h0m0 8.5h0m0-4.5h0m0 21h0m0.5 15h0m0-4h0m0-44.5h0m0 6h0m0 22h0m0.5-36.5h0m0 12h0m0 8.5h0m0-33h0m0 23h0m0-25.5h0m0.5 53.5h0m0 34.5h0m0-21h0m0.5-44.5h0m0 14h0m0-11.5h0m0.5 25.5h0m0 4.5h0m0-46.5h0m0 53.5h0m0.5-30h0m0-11h0m0 28.5h0m0-42h0m0 13h0m0 51h0m0 34h0m0-88.5h0m0.5 21h0m0 6h0m0-14.5h0m0.5-47h0m0 78h0m0-40.5h0m0 31.5h0m0-43h0m0 61h0m0.5-131.5h0m0 70h0m0 82h0m1-36h0m0 50.5h0m0-84.5h0m0 45.5h0m0-3.5h0m0-36h0m0.5 17.5h0m0 6h0m0 7.5h0m0-38h0m0.5-20.5h0m0 39h0m0 12.5h0m0-3h0m0-26.5h0m0.5 1.5h0m0 41.5h0m0 6h0m0-50h0m0 68h0m0.5-56h0m0-29h0m0 44h0m0.5 0.5h0m0 12h0m0 12h0m0-48.5h0m0.5-27h0m0 73.5h0m0-3h0m0-23h0m0 56h0m0-58.5h0m0.5 31.5h0m0-55.5h0m0 19h0m0.5 1.5h0m0 56.5h0m0-45.5h0m0.5-46.5h0m0 50.5h0m0 6h0m0-11.5h0m0.5-35h0m0 24h0m0 10.5h0m0 20h0m0.5 10h0m0-40.5h0m0-0.5h0m0 30.5h0m0-30h0m0-14.5h0m0 33.5h0m0.5-20h0m0 30h0m0 14h0m0-39h0m0.5 28h0m0.5-27h0m0 70.5h0m0-104h0m0 67h0m0-56.5h0m0-25h0m0 36h0m0-17h0m0.5 30h0m0 19.5h0m0 6.5h0m0.5-35.5h0m0-12.5h0m0 27.5h0m0 11h0m0.5-71h0m0 69h0m0-44h0m0 68.5h0m0-93.5h0m0 43.5h0m0 20.5h0m0.5 12.5h0m0-4h0m0-44.5h0m0 23h0m0 20.5h0m0-78h0m0.5 21.5h0m0 28.5h0m0 39h0m0 6.5h0m0 13h0m0-46.5h0m0.5 22h0m0 29h0m0-16.5h0m0-1.5h0m0-18h0m0-21h0m0.5-15h0m0 19.5h0m0-3h0m0-32h0m0 38h0m0 20h0m0-14.5h0m0-23.5h0m0.5-11h0m0 23h0m0.5-15h0m0 4h0m0 69h0m0.5-57h0m0 6h0m0-20h0m0 19.5h0m0.5-39h0m0 13.5h0m0 15h0m0 29.5h0m0 11h0m0-33.5h0m0.5 5h0m0-21h0m0 18h0m0.5-7.5h0m0 20h0m0.5-62h0m0 56h0m0-23.5h0m0.5 31h0m0-31h0m0 9h0m0 23.5h0m0-35.5h0m0 34.5h0m0 8h0m0-32h0m0.5 57.5h0m0-66.5h0m0-14.5h0m0.5 41.5h0m0 0.5h0m0 4h0m0 4.5h0m0-48h0m0 32h0m0-24h0m0 27h0m0-19h0m0 38h0m0.5-2h0m0 4.5h0m0-73h0m0.5 51h0m0-16.5h0m0 27h0m0-3h0m0.5-19h0m0-2h0m0 13h0m0.5-31h0m0 15h0m0-12.5h0m0 19.5h0m0.5-10h0m0 40h0m0-53h0m0.5 4h0m0 26.5h0m0 26.5h0m0.5-38h0m0 18.5h0m0-15.5h0m0 27h0m0-51h0m0 35.5h0m0.5 1h0m0 4h0m0 14.5h0m0 9.5h0m0.5-65h0m0 14h0m0 1h0m0.5-40h0m0 102h0m0-23h0m0 11h0m0-62h0m0.5 21h0m0-8.5h0m0 33.5h0m0-46.5h0m0.5 46h0m0-55.5h0m0 97.5h0m0-52h0m0-10.5h0m0 23.5h0m0-48h0m0 2.5h0m0-12.5h0m0.5 4.5h0m0-3h0m0 47h0m0-11.5h0m0-63h0m0.5 52h0m0 24.5h0m0 13h0m0.5-40h0m0 69h0m0-68.5h0m0.5-21h0m0-27h0m0 54.5h0m0 9.5h0m0-12.5h0m0 11.5h0m0.5 17h0m0-26.5h0m0.5 86.5h0m0-106.5h0m0 24.5h0m0-4h0m0-30h0m0.5 57.5h0m0 17.5h0m0.5-75.5h0m0 32.5h0m0.5-14h0m0 37.5h0m0 4.5h0m0-82.5h0m0 88h0m0.5-39.5h0m0 32.5h0m0-58h0m0-14.5h0m0.5 27.5h0m0 54h0m0-3h0m0-61h0m0 71.5h0m0.5-79h0m0 31h0m0 39h0m0-30h0m0-8.5h0m0 52h0m0 0.5h0m0.5-57h0m0 75.5h0m0-41h0m0-4.5h0m0-32.5h0m0-18.5h0m0 23h0m0.5 45.5h0m0-70.5h0m0.5 49h0m0-5.5h0m0 25h0m0.5-12.5h0m0-3h0m0-84.5h0m0 72.5h0m0-3.5h0m0 23.5h0m0 36.5h0m0.5-82.5h0m0-44h0m0 59.5h0m0 15.5h0m0-61.5h0m0 53.5h0m0-7.5h0m0 73.5h0m0.5-65h0m0-41.5h0m0 60h0m0-46.5h0m0 31.5h0m0.5 31h0m0-7h0m0-15h0m0-11.5h0m0.5-71h0m0 95.5h0m0-27.5h0m0 66h0m0-14.5h0m0-53.5h0m0.5-55h0m0 30.5h0m0 46h0m0.5-39.5h0m0 0h0m0 3.5h0m0 93.5h0m0.5-89.5h0m0-16h0m0 40h0m0 33.5h0m0-66.5h0m0-41.5h0m0.5 22.5h0m0 47h0m0 12h0m0-14h0m0 58h0m0.5-89h0m0 25.5h0m0.5 42.5h0m0-54.5h0m0-2h0m0.5-14h0m0 22.5h0m0.5-16h0m0-20.5h0m0 74h0m0.5-50h0m0 38h0m0-53h0m0.5 55h0m0-10h0m0-7.5h0m0.5-12h0m0-5.5h0m0.5 9h0m0.5-21h0m0 47.5h0m0-34h0m0-32.5h0m0 10h0m0.5 21.5h0m0-6h0m0 43h0m0-40h0m0 17h0m0-18h0m0.5-8.5h0m0 22h0m0 68h0m0-51h0m0 0.5h0m0 8h0m0.5-22h0m0-5h0m0-0.5h0m0 2h0m0 24.5h0m0.5-20.5h0m0-66h0m0.5 91h0m0-14h0m0-6h0m0.5-19.5h0m0 0h0m0.5 19.5h0m0 54.5h0m0-25h0m0.5-45.5h0m0 39.5h0m0-7h0m0-5h0m0.5-20h0m0-22.5h0m0 4h0m0 12h0m0.5 16h0m0 4.5h0m0-71.5h0m0 48.5h0m0-10h0m0 72.5h0m0-47h0m0.5-37.5h0m0 10h0m0 20.5h0m0-46.5h0m0 43.5h0m0.5-49h0m0 36h0m0 29h0m0.5 3.5h0m0 6.5h0m0.5-30h0m0 19.5h0m0-20.5h0m0-9.5h0m0.5 59.5h0m0-3.5h0m0.5-16h0m0-45.5h0m0 64h0m0.5-46h0m0 12h0m0-26.5h0m0 13h0m0 17.5h0m0-32.5h0m0 50h0m0 45h0m0-83.5h0m0.5 21h0m0 22h0m0-11h0m0-14h0m0 47h0m0-46.5h0m0 37h0m0.5-27.5h0m0-42h0m0.5 41.5h0m0 30.5h0m0-79.5h0m0 38h0m0 6h0m0-80.5h0m0 50.5h0m0 23.5h0m0.5 13h0m0-43.5h0m0 45.5h0m0.5-11.5h0m0 21.5h0m0-21h0m0 32.5h0m0-8.5h0m0-5.5h0m0-5h0m0.5 31h0m0-21h0m0-88.5h0m0 77h0m0-124.5h0m0.5 97h0m0 46.5h0m0-43h0m0 23h0m0.5-44h0m0 17h0m0-30h0m0 64h0m0.5-83h0m0 7.5h0m0 82h0m0-60.5h0m0-12h0m0 38.5h0m0-29.5h0m0 24h0m0.5 31.5h0m0-41h0m0 43.5h0m0-18h0m0-42h0m0 20h0m0-18h0m0.5 56h0m0-2h0m0-35.5h0m0-27.5h0m0 59.5h0m0.5 34h0m0-34.5h0m0-25.5h0m0 21.5h0m0.5 2.5h0m0 6h0m0-44.5h0m0 119.5h0m0.5-144.5h0m0 72.5h0m0-57h0m0.5 29.5h0m0 36.5h0m0-29.5h0m0-14.5h0m0.5-12.5h0m0 34.5h0m0-9h0m0-2.5h0m0 19.5h0m0-45h0m0 63h0m0.5-7h0m0-21h0m0-12h0m0 18h0m0 10h0m0.5 18h0m0-22h0m0.5 31.5h0m0-34.5h0m0-8h0m0-35.5h0m0.5 25.5h0m0 49.5h0m0-75h0m0 34.5h0m0.5 36h0m0-9h0m0-21h0m0-10.5h0m0.5-43.5h0m0 30h0m0-15h0m0 39.5h0m0-39.5h0m0.5 9.5h0m0-27.5h0m0.5 47h0m0 18h0m0 8h0m0-68h0m0 55.5h0m0.5-7.5h0m0 0h0m0-10.5h0m0.5 24.5h0m0-18.5h0m0 30.5h0m0-25h0m0 2h0m0-29.5h0m0.5 54h0m0-35.5h0m0 7.5h0m0-46h0m0 76h0m0-32h0m0.5 0h0m0 13h0m0-6.5h0m0-27h0m0-3h0m0 11.5h0m0.5-68h0m0 77h0m0.5-10h0m0-6h0m0-22h0m0 145.5h0m0.5-165h0m0 54h0m0-45.5h0m0 68.5h0m0-26.5h0m0.5-27h0m0 47.5h0m0-31h0m0.5-19.5h0m0 14.5h0m0 12h0m0-45.5h0m0 46.5h0m0.5-16h0m0-4.5h0m0-4h0m0-3h0m0 44.5h0m0.5-45h0m0 31h0m0 16h0m0.5-58h0m0.5 78h0m0-44.5h0m0-10.5h0m0 3h0m0.5-36.5h0m0 38h0m0 46h0m0-20.5h0m0.5 35h0m0-34h0m0-55.5h0m0 60.5h0m0-95.5h0m0.5 64.5h0m0 29.5h0m0-39h0m0.5 26h0m0-7h0m0 0.5h0m0 19.5h0m0-32h0m0-6.5h0m0 6.5h0m0.5 44.5h0m0-48.5h0m0.5 16h0m0-41.5h0m0 23h0m0 8h0m0-19h0m0.5 56h0m0 55h0m0-64h0m0-66.5h0m0 31h0m0-12h0m0.5 41h0m0-17.5h0m0-11h0m0-10.5h0m0-39h0m0.5 53h0m0 4h0m0.5-19h0m0 32.5h0m0-47h0m0 86h0m0-24.5h0m0 70h0m0.5-114.5h0m0 15.5h0m0.5 24.5h0m0 25.5h0m0.5-45.5h0m0 5h0m0-4.5h0m0-15h0m0 53.5h0m0-50h0m0 34.5h0m0.5-34.5h0m0 48h0m0-85h0m0 48.5h0m0.5 29h0m0 3h0m0-59.5h0m0 6h0m0 30.5h0m0.5-53h0m0 56.5h0m0-62.5h0m0 31.5h0m0-15.5h0m0.5-21.5h0m0 34.5h0m0 43h0m0.5-10h0m0-14h0m0 44h0m0-9.5h0m0.5-26.5h0m0 22h0m0-22.5h0m0 10h0m0 33.5h0m0-14h0m0.5-33.5h0m0 12.5h0m0 21.5h0m0 15.5h0m0 13.5h0m0-49h0m0-16.5h0m0.5 35h0m0-5h0m0-12.5h0m0.5-15h0m0-19.5h0m0 22h0m0-27.5h0m0.5 35.5h0m0 31h0m0-29.5h0m0-39.5h0m0.5 45h0m0 15h0m0-36.5h0m0.5 11.5h0m0 5.5h0m0.5 10.5h0m0-21.5h0m0 4h0m0.5-13.5h0m0 3.5h0m0 34h0m0 37.5h0m0.5-59.5h0m0 13h0m0-8.5h0m0 9h0m0.5 6.5h0m0.5-21h0m0-38.5h0m0.5 32h0m0-14h0m0-24h0m0 60h0m0.5-1h0m0-18h0m0-3h0m0.5-6h0m0-9.5h0m0 31h0m0 6h0m0-20.5h0m0.5-31.5h0m0 35.5h0m0-52h0m0 30.5h0m0-4.5h0m0 58h0m0.5-82h0m0 55.5h0m0 19h0m0.5-17h0m0-23h0m0 2.5h0m0 32h0m0-49.5h0m0 36h0m0-34.5h0m0 60h0m0.5-29h0m0-5.5h0m0 3h0m0.5-17.5h0m0 39.5h0m0-37h0m0.5 27.5h0m0-48.5h0m0-12.5h0m0 30.5h0m0 37.5h0m0.5-29h0m0 65.5h0m0-85.5h0m0 3h0m0 32h0m0-34.5h0m0 67.5h0m0-21h0m0.5-70h0m0 34h0m0 9.5h0m0-5h0m0.5 57h0m0.5-36h0m0-14h0m0-11h0m0-6.5h0m0 16.5h0m0-54h0m0.5 77.5h0m0-1h0m0 15h0m0.5-32.5h0m0 42h0m0-36h0m0.5-31.5h0m0 28h0m0 4h0m0-0.5h0m1 39h0m0.5-9.5h0m0-23h0m0-2h0m0-3h0m0-8.5h0m0.5-41.5h0m0.5 23h0m0 4.5h0m0 17.5h0m0-8h0m0 7.5h0m0.5-18.5h0m0 24h0m0-12h0m0.5 46h0m0-138.5h0m0 62.5h0m0.5 8.5h0m0-9h0m0 20.5h0m0.5 50h0m0.5-19.5h0m0 32h0m0.5 18h0m0-65.5h0m0-7h0m0-28h0m1 26.5h0m0 33.5h0m0-6.5h0m0 1h0m0.5-11h0m0-8h0m0-27h0m0 32h0m0 16.5h0m0.5 16h0m0-59h0m0-26.5h0m0 39h0m0 23h0m0.5-14.5h0m0.5 22h0m0-33.5h0m0 40h0m0-13h0m0.5-15h0m0 16h0m0-52.5h0m0 22.5h0m0.5 23h0m0 22h0m0-17.5h0m0-10.5h0m0.5 14.5h0m0.5-24h0m0 17.5h0m0.5 42h0m0-36h0m0 1.5h0m0-23h0m0 43.5h0m0.5-61h0m0 58h0m0-69.5h0m0.5 51h0m0-18h0m0 26.5h0m0-11h0m0-2.5h0m0.5 7h0m0-3.5h0m0-63.5h0m0.5 79h0m0-29.5h0m0-24h0m0 87.5h0m0.5-37h0m0-51.5h0m0 35h0m0-28.5h0m0.5 1.5h0m0 34h0m0-16h0m0 32.5h0m0-13.5h0m0-13.5h0m0-11h0m0-26.5h0m0-34.5h0m0 67h0m0.5-11.5h0m0.5-34h0m0.5 10h0m0 70.5h0m0-30h0m0-29.5h0m0 33.5h0m0.5 37h0m0-34.5h0m0-3.5h0m0 28.5h0m0.5-5h0m0-63h0m0 48.5h0m0-49h0m0 47.5h0m0.5-15h0m0-15.5h0m0 12h0m0-19h0m0 50.5h0m0.5-33h0m0-15.5h0m0-1.5h0m0.5-6.5h0m0 5.5h0m0 64h0m0-18.5h0m0-15h0m0-15h0m0-39h0m0.5 25.5h0m0-4h0m0 24.5h0m0-46.5h0m0 5h0m0.5 57h0m0-39h0m0 45h0m0.5-6.5h0m0 14h0m0-1h0m0-55.5h0m0-6.5h0m0 68h0m0.5 26h0m0-93h0m0 6h0m1 63.5h0m0-28h0m0 30.5h0m0 29h0m0-68.5h0m0.5-54.5h0m0 24.5h0m0 35h0m0 64h0m0-21.5h0m0-96.5h0m0.5 46h0m0 80h0m0-119.5h0m0-49h0m0 38h0m0 67h0m0-59h0m0.5 10h0m0 89.5h0m0-42.5h0m0-21h0m0.5-43h0m0 48.5h0m0 13h0m0-36.5h0m0.5 45h0m0-19.5h0m0-64h0m0 47h0m0-4h0m0 55h0m0-67.5h0m0-19h0m0.5 40.5h0m0 30.5h0m0-22.5h0m0.5 39h0m0.5-79h0m0 104h0m0.5-54h0m0 45.5h0m0-33h0m0-26.5h0m0-1h0m0 43h0m0.5 17.5h0m0 6h0m0.5-59.5h0m0-11.5h0m0 8h0m0.5 29.5h0m0-18.5h0m0-18h0m0.5 34.5h0m0 7.5h0m0-54.5h0m0 55.5h0m0.5-53h0m0 35.5h0m0-10.5h0m0.5 41.5h0m0-17.5h0m0-46h0m0.5-8h0m0 63h0m0-24.5h0m0-5.5h0m0-14.5h0m0.5 13.5h0m0 10.5h0m0 2.5h0m0-44.5h0m0.5 12.5h0m0-23h0m0 28h0m0 25h0m0.5 3.5h0m0 1.5h0m0-22.5h0m0-37.5h0m0 22.5h0m0.5 51.5h0m0-32.5h0m0 41h0m0.5-28h0m0-33.5h0" stroke="#201c1d" stroke-width="8.2" stroke-linecap="round"/>
<path clip-path="url(#c)" d="M200.5 1469h0m0-2.5h0m0 19h0m0 30.5h0m0.5-6h0m0-5h0m0 11.5h0m0-19.5h0m0 21h0m0.5 4.5h0m0 61.5h0m0-72.5h0m0.5 1h0m0-2h0m0-15.5h0m0 49h0m0-63.5h0m0.5 100h0m0-108.5h0m0 45.5h0m0 32.5h0m0-14h0m0.5 6.5h0m0-68h0m0.5 72h0m0-9h0m0 30h0m0-47.5h0m0.5 3.5h0m0-51.5h0m0 65h0m0-48.5h0m0 43.5h0m0 42.5h0m0.5-80.5h0m0 34h0m0-23h0m0-2h0m0.5-39.5h0m0 44.5h0m0 22.5h0m0.5 28.5h0m0 9h0m0.5-51.5h0m0 32.5h0m0-31h0m0.5-24.5h0m0.5 13h0m0 40.5h0m0-5.5h0m0-72.5h0m0.5 67.5h0m0-25.5h0m0 28.5h0m0-14h0m0.5-43h0m0-3h0m0 38.5h0m0 3h0m0.5 3h0m0-39h0m0.5 77.5h0m0-113.5h0m0 111.5h0m0.5-45.5h0m0-10.5h0m0.5 67h0m0-59h0m0 11h0m0-19h0m0 32h0m0.5 0.5h0m0 28.5h0m0-9.5h0m0.5-35h0m0-19h0m0 6h0m0-10h0m0.5 9.5h0m0-4h0m0 27h0m0-6h0m0.5-26h0m0 30h0m0-74.5h0m0 63.5h0m0.5-67h0m0 58h0m0 30.5h0m0-13.5h0m0.5-39.5h0m0 27.5h0m0 1.5h0m0-13.5h0m0.5 21.5h0m0-24h0m0-5.5h0m0-4.5h0m0 43h0m0.5-41.5h0m0-17h0m0 69h0m0-46.5h0m0.5-21h0m0 62h0m0-37.5h0m0.5 1h0m0-8h0m0 44.5h0m0.5 1h0m0 9.5h0m0-50.5h0m0 91.5h0m0.5-89h0m0-16h0m0 24h0m0.5-43.5h0m0 30h0m0 11h0m0.5 18h0m0 35h0m0-26h0m0-21h0m0.5 10h0m0-37h0m0.5 79h0m0-31h0m0.5 1.5h0m0-30h0m0.5-8.5h0m0-5h0m0 3.5h0m0 8.5h0m0.5 42.5h0m0-46h0m0 38.5h0m0 7.5h0m0-13.5h0m1 14h0m0.5-93.5h0m0 76.5h0m0-21.5h0m0 53.5h0m0-29h0m0-20.5h0m0.5 11h0m0 5.5h0m0.5 46h0m0-64h0m0 20.5h0m0-25h0m0 24.5h0m0 3h0m0-5.5h0m0.5-10h0m0 50h0m0-13h0m0-17.5h0m0-31.5h0m0.5 30.5h0m0-9h0m0.5 23.5h0m0-10.5h0m0.5-36h0m0 36.5h0m0 38h0m0-38.5h0m0-48.5h0m0.5 19.5h0m0 117.5h0m0-76h0m0 52h0m0-125h0m0.5 76.5h0m0 18.5h0m0-6h0m1-82h0m0.5 39.5h0m0 39.5h0m0-17h0m0.5-34h0m0-17.5h0m0.5 27h0m0 17.5h0m0-45.5h0m0 24.5h0m0 42.5h0m0 1.5h0m0.5-33.5h0m0 35h0m0-44.5h0m0.5-15h0m0.5-1h0m0-12h0m0 17.5h0m0.5 3.5h0m0 73h0m0-33h0m0 37.5h0m0-97h0m0 50.5h0m0.5-34.5h0m0-29h0m0 60h0m0-37.5h0m0 42.5h0m0 54.5h0m0.5-74.5h0m0-6h0m0-17.5h0m0-24.5h0m0 32h0m0.5-12h0m0 29.5h0m0.5-15h0m0 19.5h0m0 5.5h0m0 20.5h0m0.5-69h0m0 9.5h0m0 66.5h0m1-16h0m0-47.5h0m0.5 96h0m0-159h0m0.5 71.5h0m0 2h0m0.5 24h0m0-97h0m0 82.5h0m0 6.5h0m0 28h0m0.5-91.5h0m0 36.5h0m0 1.5h0m0 47.5h0m0.5 28.5h0m0-7h0m0.5-72h0m0 27.5h0m0-12h0m0 4.5h0m0-20.5h0m0 32.5h0m0.5-14h0m0 19.5h0m0-21.5h0m0.5 80.5h0m0-125h0m0 32h0m0 0.5h0m0 22h0m0 22.5h0m0.5-29h0m0 91.5h0m0.5-78.5h0m0 32h0m0-45h0m0-19.5h0m0 95.5h0m0.5-98.5h0m0.5-20h0m0 23.5h0m0 27h0m0 83h0m0.5-97h0m0 0.5h0m0 16h0m0 15.5h0m0.5-48h0m0 33.5h0m0-26h0m0.5 30h0m0 2h0m0 15.5h0m0 23.5h0m0-69h0m0.5-11.5h0m0.5 31.5h0m0-2.5h0m0 0h0m0 23.5h0m0.5-20h0m0 21.5h0m0-24h0m0-5h0m0.5-21.5h0m0 45h0m0.5-18.5h0m0 34.5h0m0-17.5h0m0-34h0m0.5 22h0m0-10h0m0-1h0m0-36.5h0m0 46.5h0m0.5-4h0m0-38h0m0 44h0m0 2.5h0m0-44.5h0m0 0.5h0m0.5 40.5h0m0 14.5h0m0-14h0m0-60.5h0m0 20h0m0.5 47.5h0m0-45.5h0m0 60.5h0m0.5 1.5h0m0-56.5h0m0 31h0m0 13.5h0m0.5-6.5h0m0-27.5h0m0 7.5h0m0 3.5h0m0 49h0m0.5-5.5h0m0-7.5h0m1-26.5h0m0 9h0m0 9h0m0-30h0m0.5-16.5h0m0 33h0m0-23.5h0m0-4.5h0m0-30h0m0.5 5.5h0m0 44.5h0m0-31.5h0m0.5 4.5h0m0 14h0m0-26.5h0m0 50.5h0m0.5 10.5h0m0-58h0m0 21.5h0m0.5 4h0m0-8h0m0 17h0m0.5 8h0m0-29h0m0 40h0m0-77h0m0 25.5h0m0 57h0m0.5-39h0m0 22.5h0m0 24h0m0 15.5h0m0-81.5h0m0 10h0m0.5 0.5h0m1 0.5h0m0 28.5h0m0-64h0m0 68.5h0m0.5-15h0m0 45h0m0 59.5h0m0-146.5h0m0.5 83.5h0m0-50.5h0m0-9h0m0 45.5h0m0 0h0m0.5-64.5h0m0 63.5h0m0-32h0m0.5-3.5h0m0-3h0m0 12h0m0.5-15h0m0 20h0m0.5-73.5h0m0 97h0m0-18h0m0.5-25h0m0 27.5h0m0.5-17h0m0 23h0m0.5 13.5h0m0-17h0m0.5-101.5h0m0 126h0m0-36h0m0 17.5h0m0.5-42.5h0m0 18h0m0.5-2h0m0 23h0m0 4.5h0m0.5-10.5h0m0-3h0m0 18h0m0 7h0m0.5-13h0m0-29.5h0m0 34h0m0-61.5h0m0 44.5h0m0.5 35h0m0.5-84.5h0m0 9h0m0-31.5h0m0 118.5h0m0-50h0m0.5 8.5h0m0-6h0m0-11.5h0m0-21.5h0m0 31.5h0m0.5-34h0m0 63h0m0 10h0m0 20h0m0.5-91.5h0m0 14.5h0m0.5-14.5h0m0-23.5h0m0.5 15h0m0 29.5h0m0 32.5h0m0 7h0m0.5-61h0m0 45h0m0-25h0m0.5 12.5h0m0 23h0m0-1h0m0-1h0m0.5-18h0m0-0.5h0m0-0.5h0m0 10h0m0-20h0m0.5 16h0m0-9h0m0 35.5h0m0-67.5h0m0 16.5h0m0 14h0m0.5-5h0m0-61.5h0m0 95h0m0 11.5h0m0-90.5h0m0 9h0m0 76.5h0m0-81h0m0.5 46.5h0m0-6h0m0-9h0m0 22h0m0-41.5h0m0.5-15h0m0 29h0m0 11.5h0m0 11.5h0m0 17.5h0m0 19.5h0m0.5-28h0m0-17h0m0 15.5h0m0.5-48h0m0 13.5h0m0.5-1h0m0.5-23h0m0.5 67h0m0-52.5h0m0.5-11h0m0 12.5h0m0 71h0m0.5-6.5h0m0-28.5h0m0 11.5h0m0-72h0m0 26.5h0m0 34.5h0m0.5-38.5h0m0-11h0m0.5 19.5h0m0 43.5h0m0 20h0m0-72h0m0 69h0m0.5-75.5h0m0.5 39.5h0m0-4.5h0m0-9.5h0m0 59.5h0m0-26h0m0.5-21h0m0 29h0m0-50h0m0.5 31.5h0m0 29.5h0m0-29h0m0.5 44h0m0-87h0m0-4h0m0 27h0m0 2h0m0.5-8.5h0m0.5 56h0m0-31h0m0-38.5h0m0 9h0m1 32h0m0-48h0m0.5 46h0m0-40h0m0.5 23.5h0m0.5 18h0m0-54.5h0m0 29h0m0.5 1.5h0m0 15h0m0 18h0m0-24h0m0-83h0m0 73.5h0m0-14h0m0.5 20h0m0 61.5h0m0-29.5h0m0 7h0m0-56.5h0m0.5-25h0m0-12h0m0.5 60h0m0 123h0m0-139.5h0m0.5-17.5h0m0.5 32.5h0m0.5 37.5h0m0-44.5h0m0 20.5h0m0 48.5h0m0.5-76h0m0 39.5h0m0-65h0m0.5 18h0m0 19.5h0m0 36h0m0.5-27h0m0-18h0m0 32.5h0m0 25.5h0m0-1h0m0.5-67.5h0m0 43h0m0-34h0m0 36.5h0m0.5 11.5h0m0-64h0m0 162h0m0.5-185h0m0 60h0m0-55.5h0m0 18.5h0m0 77h0m0 34h0m0.5-23.5h0m0-64.5h0m0-19h0m0 0h0m0 113h0m0.5-55.5h0m0-88h0m0 59.5h0m0-3h0m0 30h0m0-45h0m0.5-34h0m0 29h0m0 38.5h0m0.5-14h0m0-19h0m0-20.5h0m0.5 72.5h0m0-17.5h0m0-43h0m0-9.5h0m0.5 88h0m0-61.5h0m0 47.5h0m0-43.5h0m0.5 0h0m0-9h0m0 31h0m0-3.5h0m0.5-68h0m0 104.5h0m0-62h0m0-4.5h0m0 50.5h0m0-56.5h0m1 16.5h0m0.5 13.5h0m0 19h0m0-74h0m0.5 19.5h0m0-42.5h0m0 86h0m0.5-8.5h0m0 9h0m0-8h0m0-28h0m0.5 36h0m0.5-48h0m0 3.5h0m0 17.5h0m0.5 39h0m0-67.5h0m0 125h0m0.5-108.5h0m0-24.5h0m0 50h0m0-29.5h0m0.5 44.5h0m0 5.5h0m0.5-54.5h0m0 44h0m0-31h0m0 24h0m0-22h0m0 10.5h0m0.5 13.5h0m0.5 32h0m0.5-54h0m0 34.5h0m0 23h0m0-69h0m0.5 55.5h0m0-41h0m0.5 19.5h0m0 3.5h0m0.5-21.5h0m0 51h0m0-6h0m0-33h0m0.5-5h0m0.5 3h0m0 14.5h0m0 15.5h0m0-72h0m0 60h0m0.5-5.5h0m0-24.5h0m0.5-12.5h0m0.5-26.5h0m0 58.5h0m0-29h0m0.5 7h0m0 87.5h0m0-166.5h0m0 34.5h0m0.5 78h0m0-73.5h0m0 35.5h0m0.5 16.5h0m0-28.5h0m0 61.5h0m0.5-33.5h0m0 3.5h0m1-25h0m0-10h0m0 23.5h0m0 62h0m0.5-57.5h0m0 18.5h0m0.5-2.5h0m0-40h0m0 48.5h0m0-37.5h0m0.5-96h0m0.5 57h0m0 73h0m0 37h0m0-36.5h0m0 13h0m0-65.5h0m0.5-52h0m0 137.5h0m0-23.5h0m0.5-75.5h0m0 54.5h0m0.5-8h0m0-3h0m0-65.5h0m0 81h0m0.5 9h0m0-60.5h0m0 51h0m0.5-54.5h0m0 63.5h0m0-26.5h0m0 33h0m0.5-13h0m0-61h0m0 16.5h0m0 33.5h0m0 14.5h0m0.5 18.5h0m0-70h0m0 30.5h0m0 74.5h0m0.5-66.5h0m0-31h0m0-24.5h0m0.5 65h0m0 14h0m0.5-49.5h0m0 72h0m0-16.5h0m0 9.5h0m0.5-22h0m0-27.5h0m0-39h0m0 74h0m0.5-67h0m0.5 85h0m0-26.5h0m0-27h0m0-45.5h0m0 173.5h0m0.5-145h0m0-19h0m0 12.5h0m0.5 45.5h0m0 52h0m0-97h0m0-22.5h0m0.5 114.5h0m0-58.5h0m0 7.5h0m0.5-31h0m0.5 67.5h0m0-44h0m0.5 20h0m0 2h0m0 21.5h0m0.5-34h0m0-29h0m0 33.5h0m0-18.5h0m0.5-49.5h0m0.5 33.5h0m0.5-27h0m0.5 40h0m0-9h0m0 3h0m0-38h0m0 64.5h0m0-10.5h0m0.5 26h0m0-67h0m0.5 20.5h0m0-5h0m0 33h0m0-59.5h0m0 62h0m0.5-48.5h0m0 45.5h0m0-8.5h0m0-6h0m0-3.5h0m0.5 2h0m0.5 31h0m0 2h0m0-3.5h0m0-22h0m0-19.5h0m0.5-2.5h0m0 10h0m0 5.5h0m0-15h0m0-18h0m0.5-32.5h0m0 89.5h0m0.5-42.5h0m0 19h0m0.5-11.5h0m0 21h0m0-16h0m0 40.5h0m0-27h0m0-39h0m0.5 33h0m0.5-32.5h0m0.5 21h0m0 37.5h0m0-67h0m0 56.5h0m0.5-18h0m0 32h0m0-29.5h0m0.5 27h0m0-24h0m0 65h0m0-61.5h0m0-28.5h0m1 27h0m0-4h0m0.5 50h0m0-74h0m0.5-22h0m0 81.5h0m0-55h0m1-31h0m0 22h0m0 5h0m0 10h0m0 76h0m0.5-71h0m0 25h0m0-4h0m1-31h0m0-34h0m0 105.5h0m0.5-69h0m0-10h0m0 40.5h0m0.5-41.5h0m0 9.5h0m0 44h0m0.5-42h0m0.5 19.5h0m0.5-16.5h0m0 54.5h0m0.5-90.5h0m0-34.5h0m0 84h0m0-12.5h0m0.5 179h0m0.5-166.5h0m0 0.5h0m0 19.5h0m0-14h0m0.5 9.5h0m0-44.5h0m0.5 17.5h0m0 51.5h0m0-77h0m1 23.5h0m0 22h0m0 11h0m0.5-20h0m0 17.5h0m0.5 5h0m0-20.5h0m0-24.5h0m0 35h0m0-30.5h0m0 1h0m1 52.5h0m0-22.5h0m0-46.5h0m0.5-19h0m0 28h0m0 30.5h0m0 10.5h0m0-18.5h0m0 59.5h0m0-62h0m0.5-26h0m0 26.5h0m0.5 30h0m0-14.5h0m0.5-2.5h0m0 28.5h0m0-8h0m0.5 15h0m0-57.5h0m0 24.5h0m0-4h0m0.5-2.5h0m0 50.5h0m0.5-39.5h0m0 0h0m0-48h0m0.5 25.5h0m0 24h0m0-11h0m0.5-32h0m0 46.5h0m0.5-19.5h0m0 32h0m0-11h0m0 10h0m0.5-54h0m0-12h0m0 95h0m0 28h0m0-64h0m0-2.5h0m0-28h0m0 71.5h0m0.5-50.5h0m0.5-9.5h0m0 12.5h0m0-26h0m1 34h0m0-15.5h0m0-9h0m0.5-36.5h0m0 8.5h0m0 21.5h0m0.5-55h0m0 39h0m0 24.5h0m0-1h0m0.5 64h0m0-122h0m0 52.5h0m0.5-16.5h0m0 30.5h0m0.5-17h0m0.5-14.5h0m0 28h0m0-14h0m0.5 70.5h0m0-72.5h0m0 24h0m0 13h0m0.5-14h0m0-17.5h0m0 3h0m0-4h0m0.5-19h0m0 27h0m0 45.5h0m0-5h0m0.5-67.5h0m0 49.5h0m0.5-25h0m0-6.5h0m0-0.5h0m0 32.5h0m0.5-51h0m0 0.5h0m0 61h0m0-86.5h0m0 36h0m0.5 27.5h0m0-14.5h0m0-6.5h0m0.5 63h0m0.5-16h0m0-28h0m0 19.5h0m0-31h0m0-8h0m0.5 45h0m0 5h0m0.5-74h0m0 78.5h0m0 16h0m0-32h0m0-61h0m0.5 55h0m0-40h0m0.5 54h0m0-36h0m0-2h0m0-23h0m0.5 23h0m0 7h0m0.5-45h0m0.5 22.5h0m0-11.5h0m0 59h0m0-25.5h0m0-19.5h0m0 81.5h0m0-64h0m0.5-10h0m0.5-5h0m0 45.5h0m0.5-30.5h0m0-54h0m0 32.5h0m0 10h0m1-60h0m0 95.5h0m0 52.5h0m1-107h0m0 57.5h0m0.5-16h0m0.5-8h0m0-32h0m0 79h0m0.5-43.5h0m0-31.5h0m0.5 44.5h0m0-19.5h0m0-29h0m0 46.5h0m0-10.5h0m0-67.5h0m0 55.5h0m0.5 13h0m0 14.5h0m0 7h0m0.5-29h0m0 4h0m0-41h0m0 29h0m0.5-17h0m0 45h0m0 10.5h0m0-51.5h0m0-47.5h0m0 85.5h0m0.5 8.5h0m0-37.5h0m0-34h0m0 61h0m0.5-44h0m0 26.5h0m0.5-8h0m0 27h0m0-103h0m0 117.5h0m0.5-26.5h0m0 53.5h0m0-93h0m0-33h0m0.5 59.5h0m0-38.5h0m0 42.5h0m0-59h0m0.5 82h0m0-21.5h0m0 18h0m0.5-24h0m0-36.5h0m0 71.5h0m0.5 5.5h0m0 8h0m0-59.5h0m0.5 19.5h0m0 12h0m0-32.5h0m0.5 17h0m0.5 2.5h0m0.5 23h0m0-80.5h0m0 98h0m0-38h0m0.5-2.5h0m0-18.5h0m0.5 47h0m0-11h0m0-17h0m0 26h0m0.5-45.5h0m0 41h0m0-49h0m0.5 14.5h0m0 63.5h0m0.5-71.5h0m0-3.5h0m0 16.5h0m0 11.5h0m0.5 10h0m0-12.5h0m0-2.5h0m0.5 1.5h0m0 74h0m0-122h0m0.5 56h0m0 16.5h0m0-53h0m0 45.5h0m0.5-0.5h0m0-95.5h0m0.5 136h0m0-26.5h0m0-16h0m0-38.5h0m0 19h0m0-15.5h0m0.5-1h0m0 52.5h0m0.5-94.5h0m0-3.5h0m0 48.5h0m0.5 40h0m0-80.5h0m0 80h0m1-41.5h0m0.5 16.5h0m0 1h0m0.5 12h0m0 7h0m0-22.5h0m0.5-49.5h0m0.5 13h0m0 78h0m0-25h0m0 20.5h0m0.5-51.5h0m0.5 63.5h0m0-16h0m0 10.5h0m0-39h0m0 40.5h0m0-77.5h0m0.5 31.5h0m0-22.5h0m0-9h0m0.5 41.5h0m0.5 25h0m0.5-50h0m0 7h0m0-2.5h0m0.5 1h0m0.5 40.5h0m0.5 5.5h0m0.5-74h0m0 58h0m0-1.5h0m0-27h0m0-36.5h0m0 44.5h0m0.5-31h0m0 49h0m0.5-1h0m0 30.5h0m0-58h0m0 22h0m0.5-15.5h0m0 23h0m0-31h0m0 3h0m0-17.5h0m0 33.5h0m0.5 2h0m0 47.5h0m0-39.5h0m0.5-18.5h0m0 37.5h0m0-1.5h0m0-41.5h0m0.5 18h0m0.5-15h0m0 2.5h0m0 9h0m0.5-8.5h0m0-13h0m0 30h0m0.5-27h0m0-39.5h0m0 36h0m0 50h0m0-22h0m0 7.5h0m0.5-11h0m0-30.5h0m0.5-20.5h0m0 4h0m0 39.5h0m0-8.5h0m1 13h0m0-22h0m0.5 84h0m0-90h0m0 64.5h0m0-51.5h0m0.5 50.5h0m0 17.5h0m0.5-3.5h0m0.5-8.5h0m0.5-27.5h0m0-61.5h0m0.5-4.5h0m0.5 56.5h0m0 20h0m0.5-67.5h0m0 75.5h0m0-34h0m0-33.5h0m0.5 39h0m1 62h0m0-103.5h0m0 44h0m0 1.5h0m0.5-22h0m0 45.5h0m0.5 10h0m0-24.5h0m0.5 26.5h0m0-41h0m1 18.5h0m0-55h0m0 65.5h0m0-38.5h0m0.5-48.5h0m0 50h0m0-42h0m0 10.5h0m0 55.5h0m0.5-1h0m0-54h0m0.5-38h0m0 86h0m0.5-55h0m0 80.5h0m0-21.5h0m0-10h0m0.5 50h0m0-40h0m0-26.5h0m0-10h0m0.5 13.5h0m0 10.5h0m0-50h0m0 30.5h0m0 9.5h0m0-47h0m0 6h0m0 49h0m0.5-52.5h0m0 80.5h0m1-21h0m0-6.5h0m0.5-29h0m0-11.5h0m0 41h0m0 1.5h0m0.5 19.5h0m0-111.5h0m0 96h0m0 8.5h0m0-66.5h0m0 54.5h0m0.5-29h0m0 2.5h0m0-28.5h0m0 65.5h0m0.5-18.5h0m0-14h0m0.5 0h0m0 20.5h0m0.5 34h0m1 0.5h0m0-39h0m0.5-29.5h0m0 42.5h0m0-68.5h0m0 97.5h0m0-23h0m0.5-58h0m0.5 28.5h0m0-16h0m0 33.5h0m0.5-39h0m0 29.5h0m0-22h0m0-34.5h0m0 53.5h0m0.5-12h0m0.5-14.5h0m0-11.5h0m0 22.5h0m0 1.5h0m0-10.5h0m0.5 5h0m0 11h0m0-19h0m0.5 52h0m0-15h0m0.5 9.5h0m0-45.5h0m0 13h0m0 18.5h0m0.5-6h0m0-18.5h0m0.5 1.5h0m0 36h0m0.5 10h0m0.5 20h0m0-55.5h0m0 30.5h0m0 2.5h0m0.5-16h0m0-3.5h0m0-4h0m0 25.5h0m0 27.5h0m0-77.5h0m0.5 15h0m0-15.5h0m0.5 30.5h0m0-20h0m0.5 25h0m0 30.5h0m0-55.5h0m0 46.5h0m0.5-25h0m0-11.5h0m0 0.5h0m0 1h0m0.5 24h0m0 35h0m0-52h0m0-12.5h0m0 44.5h0m0.5-15h0m0-42h0m0 47h0m0.5-34h0m0.5 16.5h0m0 14h0m0-37.5h0m0 10.5h0m0 19h0m0.5-56.5h0m0 31.5h0m0.5-42.5h0m0 59.5h0m0-11.5h0m0-25.5h0m0.5 9h0m0-30h0m0 47h0m0-22.5h0m0 27.5h0m0.5 24h0m0-40h0m0-17.5h0m0 69h0m0.5-55.5h0m0 51.5h0m0-19.5h0m0 21h0m0-48h0m0.5-91h0m0 89.5h0m0 19h0m1 48.5h0m0-77h0m0.5 39h0m0.5-53h0m0 28.5h0m0 42.5h0m0.5-3.5h0m0-15.5h0m0 123.5h0m0-134h0m0 11.5h0m0 14h0m0-32h0m0.5 0h0m0.5 9h0m0 4.5h0m0.5-60.5h0m0 43.5h0m0-2.5h0m0 8h0m0.5-17.5h0m0.5 49.5h0m0-8h0m0-19.5h0m0 86h0m0-64.5h0m0 14.5h0m0.5-27.5h0m0 7.5h0m0.5 13.5h0m0-51.5h0m0-22.5h0m0 102.5h0m0.5-108h0m0-34.5h0m0 75.5h0m0-11h0m0 22h0m0.5 42.5h0m0-22h0m0-85.5h0m0 43.5h0m0.5 143h0m0-119h0m0-16.5h0m0.5-48.5h0m0 40h0m0 50.5h0m0.5-32.5h0m0-16h0m0.5-23h0m0 100h0m0.5 12h0m0-95.5h0m0 52.5h0m0-27h0m0-34h0m0.5-11h0m0 53h0m0.5-13.5h0m0-41h0m0 52h0m0 6h0m0 62h0m0.5-78.5h0m0-18.5h0m0.5-8h0m0 45h0m0 35.5h0m0-55.5h0m0.5 34h0m0-25h0m1-10.5h0m0-7.5h0m0 16h0m0.5 15h0m0-37h0m0-10h0m0.5-1h0m0 65.5h0m0-50.5h0m0 70.5h0m0.5-94.5h0m0 38h0m0-6.5h0m0-30h0m0-13.5h0m0 26.5h0m0.5 60h0m0.5-61.5h0m0 35.5h0m0 14.5h0m0.5-6.5h0m0-86.5h0m0 49h0m0-41.5h0m0.5 73.5h0m0 8h0m0.5 11h0m0-10h0m0.5 14.5h0m0-5.5h0m0-18h0m0.5 14.5h0m0.5-52h0m0 31.5h0m0-36h0m0 11.5h0m0.5 23h0m0 36.5h0m0-46.5h0m0.5 25h0m0-17.5h0m0 38h0m0.5-18.5h0m0.5-36h0m0 44h0m0-19.5h0m0.5-12.5h0m0 53.5h0m0-50h0m0.5-19h0m0-45h0m1 19h0m0.5 71h0m0-124h0m0 126.5h0m0.5-64h0m0-0.5h0m0 63.5h0m0-81h0m0 34h0m0.5-9h0m0 19.5h0m0 41.5h0m0 21h0m0-104.5h0m0 19h0m0.5 106.5h0m0-28h0m0 13.5h0m0-3.5h0m0.5-53.5h0m0-26h0m0 50.5h0m0-14h0m0 33.5h0m0-32.5h0m0.5 59.5h0m0-121.5h0m0-2h0m0 35.5h0m0-19.5h0m0 37h0m0.5-24h0m0 60h0m0-29h0m0 3h0m0.5-29.5h0m0 16h0m0-11h0m0.5-16.5h0m0.5 36h0m0-131.5h0m0 93.5h0m0.5 10h0m0 55h0m0-45h0m0-43.5h0m0 48h0m0 15h0m0.5 3h0m0 12.5h0m0.5-2.5h0m0.5-8.5h0m0 26.5h0m0.5-51.5h0m0 27h0m0-10.5h0m0 6h0m0 3h0m0-24h0m0 2h0m0 8.5h0m0.5-68h0m0 77h0m0 18h0m0-34.5h0m0-6h0m0 5h0m0 40h0m0-48.5h0m0.5 45.5h0m0.5-73h0m0 24h0m0 64h0m0.5-62h0m0-26.5h0m0 51.5h0m0-22.5h0m0.5 12h0m0 18h0m0-30.5h0m0 27.5h0m0.5-21h0m0 9h0m0.5-9h0m0-32.5h0m0 14.5h0m0 6h0m0 67h0m0-72h0m0.5-5.5h0m0.5 35h0m0.5 16.5h0m0-18h0m0.5-13h0m0-35.5h0m0 58h0m0 20h0m0.5-40.5h0m0 14.5h0m0-31.5h0m0 5h0m0 24h0m0-8.5h0m0 19.5h0m0-9h0m0.5-20h0m0-4.5h0m0 34h0m0.5-51h0m0 50h0m0.5-25.5h0m0-30.5h0m0 13.5h0m0 16.5h0m0 84h0m0.5-77.5h0m1-33h0m0 65.5h0m0-59.5h0m0.5-9h0m0.5 51h0m0 50h0m0-1.5h0m0.5-48.5h0m0-33.5h0m0 24.5h0m0 38.5h0m0.5 8h0m0-72h0m0 74h0m0-56h0m0.5-28.5h0m0 55h0m0.5-15.5h0m0-48h0m0 15h0m1 29.5h0m0.5 12.5h0m0-47h0m0 66.5h0m0-58.5h0m0.5-3h0m0 49.5h0m0.5 15h0m0-45.5h0m0 3h0m0.5 17h0m0 22.5h0m0-45.5h0m0.5 7h0m0.5-13h0m0-31h0m1 69h0m0-32h0m0.5 42h0m0-44h0m0 54h0m0-33h0m0 23.5h0m0-68h0m0.5 18h0m0 3h0m0 72.5h0m0.5-42.5h0m0-28h0m0-51h0m0.5 37h0m0 68.5h0m0-54.5h0m0 32.5h0m0-67h0m0.5 61h0m0 19.5h0m0-18.5h0m0.5-42h0m0-3h0m0.5 49.5h0m0-49h0m0-11h0m0 47h0m0.5-37.5h0m0.5-1.5h0m0 28h0m0 2.5h0m0-37h0m0 41h0m0.5 36h0m0-15.5h0m0 10h0m0-2h0m0-27h0m0 5.5h0m0-36.5h0m0 2h0m0 4.5h0m0.5-11.5h0m0 92.5h0m0-19h0m0.5-85.5h0m0 65h0m0-16h0m0 22.5h0m0.5-13h0m0 45.5h0m0-92.5h0m0.5 6.5h0m0 15.5h0m0 40.5h0m0-26.5h0m0-3h0m0.5-4.5h0m0 29.5h0m0-11.5h0m0 30.5h0m0 15h0m0.5-37h0m0-44.5h0m0-10.5h0m0.5 32.5h0m0.5 10h0m0.5-5h0m0 8h0m0-8h0m0 38.5h0m0.5-41h0m0 38h0m0-30.5h0m0.5-16.5h0m0 13.5h0m0.5-19h0m0 23.5h0m0-72h0m0.5 68.5h0m0 24h0m0 4.5h0m0-54h0m0.5-45h0m0.5 102h0m0-77h0m0 35h0m0-3.5h0m0.5 17.5h0m0 18.5h0m0.5 13h0m0-97.5h0m0 47h0m0-50.5h0m0 39.5h0m0-24.5h0m0.5 36.5h0m0-8h0m0 24h0m0 8.5h0m0-13.5h0m0 17.5h0m0.5 11.5h0m0-36.5h0m0 3h0m0.5-21.5h0m0-4.5h0m0 47.5h0m0 25h0m0.5-41h0m0-48.5h0m0 22h0m0.5 29h0m0-4h0m0.5-30h0m0 31.5h0m0-0.5h0m0-46h0m0 13h0m1 46.5h0m0-44h0m0 20.5h0m0.5 42h0m0-12h0m0-4h0m0-56h0m0 14.5h0m0 20.5h0m0-4.5h0m0 28h0m1-1h0m0 10h0m0 12h0m0.5-45.5h0m0-26h0m0 55.5h0m0-21.5h0m0 6h0m0.5-24.5h0m0 10h0m0.5 148h0m0-198h0m0 75.5h0m0-12h0m0.5 11h0m0-34h0m0 15h0m0-14h0m0 5.5h0m0-5h0m0 114.5h0m0.5-70h0m0-14.5h0m0-4h0m0.5-29.5h0m0-27h0m0 53.5h0m0-37.5h0m1 10.5h0m0-11h0m0 13.5h0m0.5-1.5h0m0.5 53.5h0m0 5.5h0m0-43.5h0m0.5 16.5h0m0-17.5h0m0 9.5h0m0-21.5h0m0 24.5h0m1-109.5h0m0 24.5h0m0.5 128h0m0-45.5h0m0-8.5h0m0 15.5h0m0.5-11.5h0m0 19h0m0-56h0m0 13h0m0 57.5h0m1-30h0m0-29.5h0m0-19h0m0.5 93.5h0m0-22.5h0m0-13.5h0m0-60h0m0 24h0m0.5-15.5h0m1-22.5h0m0.5 39.5h0m0 5h0m0 74h0m0-102h0m0.5 100h0m0.5-40.5h0m0 1.5h0m0-17h0m0 25h0m0.5-31.5h0m0.5 37.5h0m0.5-13h0m0-50h0m0.5 22.5h0m0 60h0m0.5-2.5h0m0-76h0m0 35h0m0.5 39.5h0m0-34.5h0m0-33.5h0m0 38.5h0m0-14.5h0m0-54.5h0m0 64h0m0.5-9h0m0 14h0m0 34h0m0 0.5h0m0.5-7h0m0.5 57h0m0-132h0m0-3h0m0 42.5h0m0.5-11.5h0m0 13.5h0m0.5-27h0m0 31.5h0m0.5 30h0m0-51h0m0.5 0.5h0m0-12.5h0m0-46h0m0 54.5h0m0.5 0h0m0 14h0m0-28h0m0 62h0m0-10h0m0.5 25.5h0m0-136.5h0m0 63h0m0.5 37.5h0m0-6.5h0m0-1.5h0m0.5-12h0m0 68.5h0m0.5-77.5h0m0.5 4.5h0m0.5 79.5h0m0-82h0m0 37h0m0-24h0m0 19h0m0-22h0m0.5 27.5h0m0 6.5h0m1-39h0m0-11h0m0.5-3.5h0m0-8h0m0.5 71h0m0 9.5h0m0.5-108.5h0m0 30.5h0m0 28h0m0 22.5h0m0-62.5h0m0.5 19h0m0 20.5h0m0 21.5h0m0.5-52h0m0 56.5h0m0-56h0m0.5 53.5h0m0-46.5h0m0 8.5h0m0 33.5h0m0-11h0m0.5 9.5h0m0-26.5h0m0.5-3.5h0m0 44.5h0m0 19.5h0m0.5-43h0m0-0.5h0m0-35.5h0m0 78h0m0-66h0m0.5 23h0m0 28.5h0m0-213.5h0m1 162.5h0m0.5-30.5h0m0 27h0m0 13h0m0.5-43.5h0m0 77h0m0 36.5h0m0-79h0m0 8.5h0m0.5 51.5h0m0-39.5h0m0-44.5h0m0 50h0m0-36h0m0.5 57.5h0m0-58.5h0m0 63h0m0-81h0m0 32h0m0.5-57h0m0 139.5h0m0-75.5h0m0-10h0m0.5 21.5h0m0-8h0m0 10h0m0 54h0m0.5-19.5h0m0-62h0m0 23h0m1-12h0m0 17.5h0m0-46h0m0 20h0m1-35h0m0 62h0m0-36h0m0.5 55.5h0m0-30.5h0m0-48h0m0 94.5h0m0-113h0m0 148h0m0.5-34.5h0m0.5-1.5h0m0 3.5h0m0-16.5h0m0-39.5h0m0-18.5h0m0.5 25h0m0-78.5h0m0 86.5h0m0.5-14.5h0m0 8.5h0m0.5-21h0m0-30.5h0m0 47h0m0.5-16h0m0 0.5h0m0 14h0m0 53h0m0-15.5h0m1-75.5h0m0 42h0m0.5-65h0m0 24h0m0.5 1h0m0 25.5h0m0 6h0m0.5 11.5h0m0-8.5h0m0.5-4.5h0m0-38h0m0.5 55.5h0m0-44h0m0.5 48.5h0m0-29h0m0 70.5h0m0.5-91h0m0 45.5h0m0.5 18h0m0-46.5h0m0 4.5h0m0 60.5h0m0.5-21.5h0m0.5-19h0m0-26h0m0.5 0.5h0m0-32.5h0m0 98.5h0m0.5-48h0m0 18h0m0.5 22.5h0m0-17.5h0m0-28h0m0 46.5h0m0-155.5h0m0 152.5h0m0.5-23.5h0m0.5-17h0m0 22.5h0m0 14h0m0-54h0m0.5 29h0m0-20h0m0 8h0m0 28.5h0m0-37.5h0m0-18h0m0.5 22h0m0 56h0m0-7h0m0-16h0m0 23.5h0m0-52.5h0m0.5-13.5h0m0.5-5.5h0m0 36h0m0 2h0m0-50.5h0m0.5 109.5h0m0-48.5h0m0.5-72h0m0-8.5h0m0 60h0m0-1.5h0m0-41h0m0 34h0m0.5-1.5h0m0.5-3.5h0m0 41.5h0m0-76.5h0m0.5 35h0m0-79.5h0m0.5 85.5h0m0 3.5h0m0 60h0m0.5-94.5h0m0 34.5h0m0-11h0m0.5 7h0m0-23.5h0m0-15h0m0.5 16h0m0-33h0m0 82h0m0.5-34.5h0m0 49.5h0m0-70.5h0m0.5-27.5h0m0 37h0m0 6h0m0 74h0m0-96h0m0 58.5h0m0.5-35h0m0-8.5h0m0 47.5h0m0-46.5h0m0 75.5h0m0-36.5h0m0.5 4.5h0m0-30h0m0 19h0m0 17.5h0m0.5-52.5h0m0 20.5h0m0-25h0m0 17h0m0 15h0m0-62h0m0.5 57h0m0-20h0m0 43.5h0m0-60.5h0m0 24.5h0m0.5 3h0m0 41.5h0m0-34h0m0.5 47h0m0.5-21h0m0.5-53.5h0m0-12h0m0 32.5h0m0.5 24.5h0m0.5-23.5h0m0-26.5h0m0.5 45.5h0m0-23.5h0m0-16.5h0m0.5 32.5h0m0-13.5h0m0-42.5h0m0.5 44h0m0 17h0m0.5-37h0m0-20.5h0m0.5 63.5h0m0 12h0m0-37.5h0m0 13h0m0.5-30h0m0 24.5h0m0-44h0m0.5 31.5h0m0 16.5h0m0-25.5h0m0 15h0m0.5 6.5h0m0 36h0m0-54h0m0-26h0m0 19h0m0 0.5h0m0.5 35.5h0m0 24h0m0.5-74.5h0m0 40h0m0.5 11h0m0-23h0m0 3.5h0m0.5-20h0m0 60.5h0m0-16.5h0m0-51h0m0 38.5h0m0.5-45h0m0 50.5h0m0 15h0m0.5-84.5h0m0 46.5h0m0 4h0m0.5 71h0m0.5-46h0m0 3h0m0-23.5h0m0 9h0m0 15h0m0-14.5h0m0 13h0m0.5-21.5h0m0-32.5h0m1 45h0m0-5.5h0m0.5-46h0m0 13h0m0.5 13.5h0m0 59h0m0-25h0m0.5 30.5h0m0-114h0m0 77h0m0 34.5h0m0-58.5h0m0 26.5h0m0-73.5h0m0.5 71.5h0m0.5-12.5h0m0-41.5h0m0.5 76.5h0m0.5-31h0m0 22.5h0m0-74h0m0 75h0m0.5-42h0m0 39.5h0m0.5-54.5h0m0 68h0m0-44.5h0m0.5 12h0m0-17h0m0-89.5h0m0 91.5h0m0.5 48h0m0 2h0m0-47h0m0 48.5h0m0.5-42h0m0-30.5h0m0 32h0m0 4h0m0.5 29h0m0-94h0m0.5 99.5h0m0.5-10.5h0m0-7h0m1-58.5h0m0-5h0m0 75.5h0m0.5-38.5h0m0 37.5h0m0.5-64h0m0 54h0m0 13.5h0m0.5-72h0m0 30.5h0m0 61.5h0m0-75.5h0m0 55.5h0m0-33h0m0.5-28h0m0 11.5h0m0-14h0m0 82h0m0.5-97.5h0m0 10h0m0.5 36h0m0 28.5h0m0-67.5h0m0 12.5h0m0 19h0m0.5-3.5h0m0 12h0m0-21h0m0 18.5h0m0.5 22h0m0-55.5h0m0.5-13.5h0m0 25.5h0m0 25.5h0m0.5 74h0m0-52.5h0m0-10h0m0-101h0m0.5 30.5h0m0.5 74.5h0m0-36h0m0.5-4.5h0m0 45h0m0 11.5h0m0.5-18.5h0m0-11h0m0-59h0m0 47h0m0.5 31.5h0m0-31h0m0-38h0m0-28h0m0.5 61.5h0m0 27h0m0-38.5h0m0 15.5h0m0 18.5h0m0.5-27h0m0 11h0m0-14.5h0m0.5-3.5h0m0 36.5h0m0.5 2.5h0m0.5-23.5h0m0-35.5h0m0.5 54.5h0m0 11.5h0m0.5-102.5h0m0 100.5h0m0.5-0.5h0m0-21h0m0.5-7h0m0.5 23.5h0m0 2h0m0 0h0m0-43.5h0m0-28h0m0 64.5h0m0.5-1h0m0.5-2h0m0 7.5h0m0-60.5h0m0 26.5h0m0.5 37.5h0m0.5-33h0m0 9h0m0 47h0m0-20h0m0-36.5h0m0 32.5h0m0.5-39h0m0 34h0m0.5-52h0m0.5-9h0m0 93h0m0-15h0m0-56h0m0 40.5h0m0-84.5h0m0 72h0m0 31.5h0m0.5-10.5h0m0.5-17.5h0m0-6.5h0m0 8.5h0m0 54h0m0.5-74h0m0 20.5h0m0.5 15.5h0m0-47.5h0m0 69.5h0m0.5-100.5h0m0 49.5h0m0-6.5h0m0 11h0m0.5-35.5h0m0 26.5h0m0.5 19.5h0m0-32.5h0m0 50h0m0.5-84h0m0 53h0m0 104h0m0.5-126.5h0m0 29.5h0m0-13h0m0.5-6h0m0 36h0m0-58h0m0.5 54h0m0-56h0m0 33h0m0 30h0m0-39.5h0m1 18h0m0 64.5h0m0-61h0m0.5 3.5h0m0.5 11h0m0-2h0m0.5-17h0m0-8h0m0.5 15h0m0 14.5h0m0.5 17.5h0m0-34h0m0.5 18.5h0m0 33.5h0m0-105h0m0 41.5h0m0-1h0m0 2.5h0m0.5 46h0m0-49.5h0m0 14h0m0 43h0m0-111h0m0.5 25.5h0m0 3h0m0.5 34.5h0m0 14.5h0m0-41h0m0 66h0m0.5 7h0m0-70h0m0 7h0m0-14h0m0.5 48.5h0m0-31.5h0m0 40.5h0m0.5-118h0m0.5 123h0m0.5-32h0m0-25h0m0.5-49.5h0m1 83.5h0m0 5.5h0m0-13.5h0m0-26h0m0 56h0m0-33.5h0m0 21.5h0m0.5 4h0m0 5.5h0m0.5-9.5h0m0-66h0m0 57h0m1-13h0m0-30.5h0m0.5 7h0m0.5-2h0m0 14h0m0 5.5h0m0 10h0m0-57h0m0 29h0m0.5 46h0m0.5 12h0m0-40h0m0-6h0m0.5 69h0m0-85h0m0 60.5h0m0.5-5.5h0m0-14h0m0 20.5h0m0.5-11.5h0m0-24h0m0 26h0m0 52h0m0.5-67.5h0m0 24h0m0.5 26.5h0m0-82.5h0m0.5 26h0m0-27.5h0m0 31.5h0m0.5-18.5h0m0 49.5h0m0.5-42.5h0m0 28.5h0m0-14.5h0m0-128h0m0.5 135.5h0m0-40h0m0.5 55h0m0-31h0m0.5-3.5h0m0-17h0m0 37h0m0-28.5h0m0.5-7h0m0 20.5h0m0-65h0m0.5 100.5h0m0-48h0m0 42h0m0.5-64.5h0m0-24h0m0 32.5h0m0.5 38.5h0m0 26h0m0 3.5h0m0.5-8h0m0-55h0m0.5 6.5h0m0 27h0m0 10.5h0m0-49.5h0m0.5-0.5h0m0.5-11h0m0 112.5h0m0.5-100.5h0m0 36h0m0-6.5h0m0 12h0m0.5-59.5h0m0 46.5h0m0.5 25h0m0-8.5h0m0-28.5h0m0 33h0m0-15h0m0.5-16.5h0m0 12h0m0 64.5h0m0.5-81h0m0-30.5h0m0 65h0m1 3h0m0-8h0m0-18.5h0m0.5 33h0m0 28.5h0m0-15h0m0.5-104h0m0 36.5h0m0 32h0m0.5-71h0m0 116h0m0.5-2h0m0-73.5h0m0-6.5h0m0 64h0m0-44h0m0 19h0m0.5-40.5h0m0-1.5h0m0 19.5h0m0.5 14.5h0m0 23h0m0-39.5h0m0 38h0m0-36.5h0m0-12h0m0.5 13h0m0-1.5h0m0.5-22.5h0m0-18.5h0m0.5 87h0m0-26h0m0 15.5h0m0-68h0m0 36h0m0-29.5h0m0.5 78.5h0m0 10.5h0m0-31h0m0 23h0m0-84h0m0.5 38.5h0m0.5 11h0m0 10h0m0-13.5h0m0.5 18h0m0-12h0m0-17.5h0m0.5 45.5h0m0-48.5h0m0.5 33.5h0m0-4h0m0.5-49h0m0 19.5h0m0 74h0m0.5-60h0m0 19.5h0m0.5-32.5h0m0 45h0m0-30h0m0 27h0m0.5-2.5h0m0.5-50.5h0m0.5 25h0m0 19h0m0-48.5h0m0.5 31h0m0-8.5h0m0.5 26h0m0-49.5h0m0 43h0m0.5 13.5h0m0-41h0m0 3h0m0 33h0m0.5-36h0m0 29.5h0m0 20.5h0m0-74h0m0 52.5h0m0 22h0m0-78h0m0.5 48h0m0 8h0m0-25.5h0m0.5 19h0m0-38h0m0 31.5h0m0-23h0m0 42.5h0m0.5-20.5h0m0 6.5h0m0 21h0m0-16.5h0m0.5-29.5h0m0.5 11h0m0-13.5h0m0 36.5h0m0 22h0m0.5 18.5h0m0-32.5h0m0-65.5h0m0 64h0m0.5-52.5h0m0-10h0m0 10.5h0m0 56h0m0.5-74h0m0 63h0m0 89h0m0.5-108h0m0.5 53h0m0-49.5h0m0-11.5h0m0-20.5h0m0.5 7.5h0m0 31h0m0-47.5h0m0-36.5h0m0 60.5h0m0 11h0m0-2h0m0-4h0m0.5-14.5h0m0-19.5h0m0 86.5h0m0-20.5h0m0.5-11h0m0-24.5h0m0-9h0m0 16h0m0 25h0m0-104h0m0 88.5h0m0-3h0m0.5 17.5h0m0-36.5h0m0.5-6h0m0 14h0m0.5 1h0m0 61.5h0m0 14.5h0m0.5-97.5h0m0 8h0m0 23.5h0m0.5-57h0m0 39h0m0.5 56.5h0m0-61h0m0.5 8h0m0.5 45h0m0.5 20.5h0m0-58h0m0 6h0m0.5 9h0m0 18h0m0-77.5h0m0 70h0m0-31.5h0m0 30.5h0m0.5 0.5h0m0-87.5h0m0.5 98.5h0m0.5-24h0m0-15.5h0m0 25.5h0m0.5 0h0m0 45.5h0m0-38h0m0.5 2.5h0m0-17h0m0.5 13h0m0-46h0m0 48h0m0.5-16.5h0m0 18h0m0 1.5h0m0.5-67h0m0 54.5h0m0 32h0m0-15h0m0.5-87.5h0m0 68.5h0m0-51h0m0 18.5h0m0 30.5h0m0 6.5h0m0-13.5h0m0.5-12.5h0m0-2.5h0m0 34.5h0m0 1.5h0m0.5-20h0m0-55h0m0-15h0m0 20h0m0 31.5h0m0 36h0m0-33.5h0m0.5-4.5h0m0 11h0m0-3.5h0m0.5-5.5h0m0.5-10h0m0 2.5h0m0 14.5h0m0 6.5h0m0.5-17h0m0 41.5h0m0.5-92.5h0m0 81.5h0m0-34.5h0m0 38.5h0m0-47.5h0m0.5 29.5h0m0 28h0m0-4.5h0m0-48h0m0 7h0m0.5-16.5h0m0.5 23.5h0m0.5-35h0m0 33.5h0m0-13h0m0 21.5h0m0-4.5h0m0 5h0m0.5 3h0m0 27h0m0-35h0m0-8h0m0 47h0m0-121.5h0m0 28.5h0m0.5 32h0m0 75h0m0-27h0m0.5-2h0m0-15.5h0m0 10.5h0m0.5 75h0m0.5-135h0m0 23.5h0m0.5 39h0m0-37.5h0m0 47h0m0.5 1h0m0 9.5h0m0.5-80.5h0m0 53h0m0 60h0m0.5-77.5h0m0 42.5h0m0.5-38h0m0-26h0m0 83.5h0m0.5-91.5h0m0 49h0m0-11h0m0.5-13.5h0m0 0.5h0m0-34h0m0 58.5h0m0-39.5h0m0 86.5h0m0.5-67h0m0-36h0m0 59h0m0 14.5h0m0.5 8.5h0m0-44h0m0.5 8.5h0m0.5-2.5h0m0 21.5h0m0 23.5h0m0-12h0m0.5 71.5h0m0-111h0m0 6h0m0 2.5h0m0.5-15h0m0-13.5h0m0 18h0m0.5 27.5h0m0.5 0h0m0-46h0m0.5 40h0m0-15.5h0m0.5 15.5h0m0 11.5h0m0.5-7h0m0 13.5h0m0-6.5h0m0.5 3.5h0m0-28h0m0-45.5h0m0-16h0m0.5 59.5h0m0-2h0m0-39h0m0-43.5h0m0.5 24h0m1 100h0m0-103.5h0m0 5.5h0m0.5 79h0m0 8.5h0m0-42h0m0.5 31.5h0m0 2.5h0m0-33h0m0 94h0m0-60.5h0m0-3h0m0.5-10.5h0m0 12h0m0.5-40.5h0m0 25h0m0.5 7h0m0.5 5h0m0-20h0m0.5 17.5h0m0-21.5h0m0.5 55.5h0m0-74.5h0m0-8.5h0m0.5 40.5h0m0 21.5h0m0-36.5h0m0 18h0m0.5-2h0m0 9h0m0 34.5h0m0-75h0m0.5 10h0m0 21h0m0.5-9h0m0.5 19h0m0 39h0m0-29.5h0m0-32h0m0.5 36h0m0-4.5h0m0.5 41h0m0-87h0m0.5 38h0m0 21h0m0-6h0m0.5-18h0m0.5-26h0m0-6.5h0m0-3h0m0.5 35h0m0 8h0m0-110.5h0m0.5 88h0m0.5-10.5h0m0 24h0m0-50h0m0 115.5h0m0-92.5h0m0 30h0m0.5-8h0m0 0h0m0.5 10h0m0-40.5h0m0 87.5h0m0-48.5h0m0-52h0m0 87h0m0-21.5h0m0-22.5h0m0.5 8.5h0m0-30.5h0m0.5 86h0m0-56.5h0m0.5-20h0m0.5-31h0m0 17h0m0-26.5h0m0 49.5h0m0.5-10.5h0m0-11.5h0m0.5 18h0m0 17h0m0-10h0m0-16.5h0m1 35h0m0-23.5h0m0 11.5h0m0.5-11.5h0m0-7.5h0m0 68h0m0.5-80.5h0m0-29.5h0m0 9.5h0m0 12.5h0m0 88.5h0m0.5 32.5h0m0-146h0m0 86h0m0-30.5h0m0.5 61h0m0-45h0m0-29h0m0 77.5h0m0-47.5h0m0-9h0m0-56.5h0m0.5 61.5h0m0.5-2.5h0m0.5-4h0m0-15h0m0 25.5h0m0.5-17.5h0m0-33.5h0m0 48h0m0.5-52.5h0m0 50h0m0.5-2.5h0m0 48h0m0-25.5h0m0 7h0m0-4.5h0m0.5-41.5h0m1 35.5h0m0 3h0m0-60.5h0m0 19h0m0.5 59.5h0m0 4.5h0m0.5 5.5h0m0-16h0m0-99h0m0 12h0m0.5-3.5h0m0 7h0m0.5 62.5h0m0-34.5h0m0.5-7.5h0m0.5-2h0m0 3h0m0 121h0m0-133h0m1-4.5h0m0 66h0m0-30h0m0-49.5h0m0 34h0m0 16.5h0m0.5-24h0m0 39.5h0m0-31.5h0m0 26.5h0m0.5 8h0m0-15h0m0-13h0m0 27.5h0m0 11h0m0.5 14h0m0-28.5h0m0-57h0m0 86h0m0.5-87.5h0m0.5-77.5h0m0 91h0m0.5 96.5h0m0-54.5h0m0 52h0m0-60h0m0-4.5h0m0-64h0m0.5 65h0m0.5 20.5h0m0-9h0m0 64h0m0-47.5h0m0-9.5h0m0.5 16.5h0m0-17.5h0m0.5 3.5h0m0-39h0m0-34h0m0 42h0m0 0.5h0m0.5 19h0m0 15.5h0m0-24h0m0-38h0m0.5 45.5h0m0 19.5h0m0.5-58.5h0m0 58h0m0-46h0m0 5h0m0.5 57h0m0-45h0m0 30h0m0.5-3.5h0m0-14h0m0 47h0m0-34.5h0m0 11.5h0m0.5-18h0m0-118.5h0m0 47.5h0m0.5 47h0m0 24h0m0.5 37h0m0.5-20.5h0m0-42h0m0 13.5h0m0.5 5.5h0m0 7h0m0-2h0m0.5-35h0m0 41h0m0.5-3.5h0m0.5-23.5h0m0.5 58.5h0m0 10h0m0-20h0m0-41.5h0m0-64h0m0.5 88.5h0m0-52.5h0m0-5.5h0m0-3h0m0.5-56.5h0m0 88.5h0m0-33.5h0m0-14.5h0m0 7.5h0m0 22h0m0.5-25.5h0m0 18.5h0m0.5 41.5h0m0-38.5h0m0 12h0m0.5 14.5h0m0-74h0m0 100h0m0.5 11.5h0m0-101.5h0m0.5 52.5h0m0 21h0m0.5-21h0m0 23.5h0m0-23.5h0m0.5 1.5h0m0 26h0m0-17h0m0 16h0m0.5-36.5h0m0-9h0m0 15.5h0m0.5 17.5h0m0 21h0m0-39h0m0.5-4h0m0-12h0m0.5 52h0m0.5-44h0m0-5h0m0.5 32h0m0-9h0m0.5 26h0m0-18h0m0.5 4.5h0m0.5-51.5h0m0 19h0m0.5 110h0m0-91h0m0-31h0m0 60h0m0-8h0m0.5-7.5h0m0-21h0m0 22h0m0.5 2.5h0m0-61.5h0m0 63h0m0.5-47h0m0 93h0m0-28.5h0m0.5-48.5h0m0 8h0m0 6h0m0.5-12.5h0m0 5.5h0m0-21.5h0m0 83.5h0m0.5-37h0m0-17.5h0m0 39.5h0m0.5-46.5h0m0 105.5h0m0-117.5h0m0 76h0m0.5-87h0m0-7.5h0m0.5 31h0m0 56.5h0m0-58h0m0 27.5h0m0.5-86.5h0m0 22h0m0 51.5h0m0.5-17.5h0m0 46.5h0m0-32.5h0m0 28h0m0.5-29.5h0m0-31h0m0.5 72h0m0-79h0m0-7h0m0 56.5h0m0.5-30h0m0 3h0m0-3h0m0.5 47h0m0-68h0m0-8h0m0 37.5h0m0-36.5h0m0.5 48h0m0 13.5h0m0 28.5h0m0.5-59.5h0m0.5-22.5h0m0 21h0m0 57h0m0-26h0m0.5 51.5h0m0-75h0m0 16h0m0.5 49.5h0m0-68h0m0.5-0.5h0m0 25h0m0 19.5h0m0.5-14.5h0m0-15h0m0 14h0m0-5.5h0m0.5-27h0m0 42h0m0 11.5h0m0 9.5h0m0.5-64.5h0m0-5h0m0-6h0m0 10.5h0m0-27.5h0m0.5 43.5h0m0 71.5h0m0-72.5h0m0.5 12h0m0-28h0m0 19.5h0m0.5-3h0m0 17h0m0.5-5h0m0-38h0m0.5 65h0m0.5 16h0m0-64h0m0 10h0m0-2.5h0m0.5 23.5h0m0 32h0m0.5-62h0m0-8h0m0.5 104h0m0-53.5h0m0 5.5h0m0-54h0m0 46.5h0m0 10.5h0m0-38.5h0m0-31h0m0.5 112h0m0-63.5h0m0.5-39.5h0m0 11h0m0 21.5h0m0-33h0m0 0.5h0m0 7h0m0.5 34h0m0 6.5h0m0-13h0m0-24h0m0 41h0m0-17h0m0-46h0m0 46.5h0m0.5-6h0m0-53.5h0m0 37.5h0m0-30h0m0 18.5h0m0.5 9h0m0 15h0m0 14.5h0m0.5-0.5h0m0-17h0m0-13.5h0m0-13.5h0m0 29h0m0 57h0m0-36.5h0m0.5-76h0m0 63.5h0m0.5-16h0m0 21.5h0m0-3h0m0 30h0m0.5 2.5h0m0-19.5h0m0-15.5h0m0-42.5h0m0.5 75h0m0-36h0m0 24h0m0-38.5h0m0 32.5h0m0.5 24h0m0-30.5h0m0.5-24h0m0 34.5h0m0-25.5h0m0-43h0m0 67.5h0m0.5-57.5h0m0.5 17.5h0m0.5 59h0m0-5h0m0-44.5h0m0.5-15h0m0 14h0m0.5 27.5h0m0-46.5h0m0 35.5h0m0.5-74h0m0.5 83h0m0.5-64h0m0 7.5h0m0 49.5h0m0-2.5h0m0.5-40h0m0 2h0m0.5 67.5h0m0-96h0m0.5 51h0m0-6.5h0m0 11h0m0-22h0m0.5 15h0m0.5-2h0m0 113.5h0m0.5-134h0m0 23.5h0m0 5h0m0.5-1h0m0 25h0m0-46h0m0.5 42.5h0m0-22h0m0-8h0m0 57.5h0m0-26h0m0.5-55.5h0m0 42.5h0m0.5 7.5h0m0 34.5h0m0.5-55h0m0-3.5h0m0 4h0m0 36h0m0-64.5h0m0-1h0m0-4.5h0m0.5 26h0m0 38.5h0m0-47h0m0 71h0m1-31h0m0.5-37h0m0-3.5h0m0.5 3h0m0 17.5h0m0.5-59.5h0m0.5 78.5h0m0 9.5h0m0-81.5h0m0.5-1.5h0m0 35h0m0 6h0m0.5-24.5h0m0-10h0m0 29.5h0m0.5-22h0m0 7.5h0m0 38h0m1-60h0m0 61h0m0-51.5h0m0-1h0m0 7h0m0 22h0m0.5 41.5h0m0-22h0m0 26h0m0.5 35.5h0m0-89h0m0 4.5h0m0.5 18.5h0m0.5-55h0m0 85.5h0m0-39.5h0m0 19.5h0m0-21h0m0.5 18.5h0m0-61.5h0m0 101h0m0.5-63.5h0m0-1.5h0m0.5 62.5h0m0-37h0m0 15.5h0m0-24h0m0.5 64.5h0m0-65h0m0.5-27.5h0m0 35.5h0m0-31.5h0m0 31.5h0m0-5h0m0 22h0m0.5-4h0m0-2h0m0 20.5h0m0.5-15.5h0m0-48h0m0 23.5h0m0-7h0m0 97.5h0m0-47.5h0m1-20.5h0m0.5-44h0m0 36.5h0m0 49.5h0m0-52.5h0m0-22.5h0m0.5 44.5h0m0-45.5h0m0 30h0m0-11h0m0-15.5h0m0.5 67h0m0.5-105.5h0m0 81h0m0.5-19.5h0m0-98.5h0m0 100h0m0.5-15h0m0 50h0m0-37h0m0-117h0m0.5 117.5h0m0-19.5h0m0 22h0m0 2h0m0.5-39.5h0m0 9.5h0m0 2h0m0 10h0m0 17.5h0m0.5 23h0m0-39.5h0m0-16.5h0m0-6h0m0.5 18h0m0.5 31.5h0m0-42h0m0 28h0m0.5-27h0m0-0.5h0m0 19.5h0m0 5.5h0m0.5 31.5h0m0-33.5h0m0-31h0m0 2h0m0-38.5h0m0 21.5h0m0.5 13.5h0m0.5 58h0m0-47.5h0m0 118h0m0.5-71h0m0-53.5h0m0 36.5h0m0.5-9.5h0m0-3h0m0-24.5h0m0 23h0m0.5 35.5h0m0-35h0m0-30.5h0m1-2.5h0m0 29.5h0m0-15h0m0 5h0m0 0.5h0m0.5 48.5h0m0-28h0m0-25.5h0m0-6.5h0m0 15.5h0m0 69.5h0m0.5-69h0m0-64h0m0 61.5h0m0 22.5h0m0.5-34h0m0 26h0m0 56h0m0-27.5h0m0.5-4h0m0-66h0m0 28h0m0 6h0m0.5 2.5h0m0.5 56.5h0m0-11.5h0m0-50h0m0 22h0m0-44h0m0.5 83.5h0m0-109h0m0 83.5h0m0-62h0m0 83.5h0m0.5-16.5h0m0.5-43.5h0m0-0.5h0m0.5-24.5h0m0 5h0m0-0.5h0m0.5 4h0m0 41.5h0m0-32.5h0m0 38.5h0m0-47.5h0m0 28.5h0m0.5 6h0m0-8h0m0-35h0m0 61h0m0-63h0m0 49h0m0.5-3h0m0-20.5h0m0.5 8.5h0m1 9.5h0m0 50.5h0m1-52h0m0-26h0m0 50.5h0m0 6.5h0m0-33.5h0m0 27h0m0.5 12.5h0m0-103h0m0 109h0m0-62.5h0m0-8.5h0m0.5 9h0m0 10.5h0m0-26.5h0m0.5 15h0m0-23h0m0 42h0m0 3h0m0-24.5h0m0 11.5h0m1 48.5h0m0-74.5h0m0 105.5h0m0-42.5h0m0-18h0m0.5 17h0m0.5-79.5h0m0 96.5h0m0-74h0m0 67h0m0.5 0h0m0-52.5h0m0 36.5h0m0-3h0m0-9.5h0m0.5-6h0m0 11h0m0-55h0m0-8.5h0m0 85.5h0m0.5-73.5h0m0.5 4h0m0 46.5h0m0.5-26.5h0m0 1.5h0m0 7.5h0m0.5 47h0m0.5-28h0m0-14.5h0m0 61h0m0-50h0m0-2.5h0m0.5 17h0m0-37h0m0.5-26h0m0.5 12h0m0 12.5h0m0.5 58.5h0m0 52.5h0m0-65h0m0-98.5h0m0.5 22h0m0 38.5h0m0.5 5.5h0m0-3h0m0.5-14.5h0m0 45.5h0m0-24.5h0m0.5-37h0m0 29.5h0m0.5 22h0m0 4h0m0-32.5h0m0.5-20h0m0 85h0m0-66.5h0m0 16.5h0m0-98h0m0 72.5h0m0.5 89h0m0-24.5h0m0-62h0m0.5 37.5h0m0-30.5h0m0 28.5h0m0.5-8.5h0m0 2h0m0.5 36.5h0m0-82h0m0.5 40.5h0m0-40h0m0 50.5h0m0.5-50h0m0 83.5h0m0-39h0m0-73.5h0m0 60h0m0.5-49h0m0.5 51h0m0-10.5h0m0-41.5h0m0.5 38.5h0m0 11.5h0m0 23h0m0.5-58h0m0 64.5h0m0-28.5h0m0.5-26.5h0m0 31h0m0-26h0m0.5 14h0m0 31.5h0m0.5 5h0m0-9h0m0.5-101h0m0.5 63.5h0m0.5 21.5h0m0-8h0m0-0.5h0m0.5-17.5h0m0-75h0m0 65h0m0.5-48.5h0m0 72h0m0.5 24h0m0-49.5h0m0 59h0m0-23.5h0m0-34.5h0m0.5 34h0m0.5 7.5h0m0-9h0m0.5-17h0m0 17h0m0-12h0m0.5 27h0m0-41h0m0.5 20.5h0m0.5-15h0m0 49h0m0 7.5h0m0-71h0m0.5 16.5h0m0-14.5h0m0 27.5h0m0 23h0m0.5 25.5h0m0-58.5h0m0 32.5h0m0.5-17h0m0 4h0m0-31h0m0-8.5h0m0.5 37h0m0 27h0m0.5-45.5h0m0 33.5h0m0-39h0m0 43h0m0-7h0m0.5-22.5h0m0 0h0m0 29h0m0 1h0m0.5-18.5h0m0-23h0m0 58h0m0.5-12h0m0-70h0m0.5 27h0m0 30.5h0m0 0.5h0m0-52.5h0m0 30h0m0.5 1h0m0 66.5h0m0.5-70.5h0m0 13.5h0m0.5-21h0m0.5 39.5h0m0-30.5h0m0 19.5h0m0-70.5h0m1 73h0m0.5 5h0m0 3h0m0-71h0m0 42h0m0.5 35h0m0-24.5h0m0.5-6h0m0-3.5h0m0-1.5h0m0 4.5h0m0 5h0m2 9.5h0m0.5-31h0m0-0.5h0m0 25.5h0m0.5 26.5h0m0-21h0m0 40h0m0-111.5h0m0.5 57.5h0m0 6h0m0-31h0m0 18.5h0m0 24.5h0m0 26h0m0.5-66.5h0m0 69h0m0-24h0m0 18h0m0.5-18h0m0-23h0m0.5 76.5h0m0-93.5h0m0.5 39.5h0m0-39.5h0m0 38.5h0m0-28.5h0m0.5 70h0m0 10h0m0-42.5h0m0 2.5h0m1-54.5h0m0-2.5h0m0-18.5h0m0 25.5h0m0-4h0m0.5 46h0m0 15h0m0.5-52.5h0m0 12h0m0-31.5h0m0.5 28.5h0m0 26.5h0m0 6.5h0m0-45.5h0m0 52.5h0m0.5-16h0m0-6.5h0m0 18h0m0.5-42.5h0m0-13h0m0 47h0m0.5 25.5h0m0 1.5h0m0-150.5h0m0 111.5h0m0-21.5h0m0-32h0m0 45.5h0m0 0h0m0.5 24h0m0-83.5h0m0.5 24h0m0 23h0m0 62h0m0 4.5h0m0.5-23h0m0 5h0m0-45h0m0 14.5h0m0.5 7h0m0-12.5h0m0-22h0m0 51.5h0m0 12.5h0m0-88.5h0m0.5 46h0m0 66h0m0-86h0m0.5 2.5h0m0-2h0m0-28h0m0.5 98.5h0m0-13h0m0.5-31.5h0m0 69.5h0m0-120h0m0 47h0m0.5 9h0m0-25.5h0m0.5-82.5h0m0 103h0m0.5 2.5h0m0-22h0m0 43h0m0.5 18.5h0m0.5-68h0m0 11.5h0m0.5-16.5h0m0-43h0m0 46.5h0m0.5 14.5h0m0.5 47.5h0m0-63h0m0 1h0m0 58.5h0m0-54h0m0.5 49.5h0m0.5-52.5h0m0-64.5h0m0 53h0m0-5h0m0 45h0m0.5-11h0m0 91.5h0m0-122.5h0m0 19.5h0m0.5 14.5h0m0 80.5h0m0-114.5h0m0 95h0m0.5-94h0m0 16.5h0m0 65.5h0m0-110h0m0-8h0m0.5 64h0m0 29h0m0-57h0m0.5 44h0m0-37.5h0m0.5-20.5h0m0 49.5h0m0 52.5h0m0-26h0m0-58h0m0-5.5h0m0 46.5h0m0 7h0m0.5-53.5h0m0 119h0m0-90h0m0 23h0m0.5 12h0m0 7h0m0-24.5h0m0-21.5h0m0-15.5h0m0.5 27h0m0 47.5h0m0-76h0m0.5-6.5h0m0-24.5h0m0.5 69.5h0m0-22.5h0m0-27h0m0 56h0m1-11.5h0m0-125h0m0 116.5h0m0-31.5h0m0.5 39h0m0-53.5h0m0 32.5h0m0 59h0m0-35.5h0m0-32.5h0m0.5 5h0m1-17.5h0m0 7h0m0 14.5h0m0.5-7h0m0-6.5h0m0 32h0m0-109.5h0m0.5 68h0m0 7h0m0.5 8h0m0-34h0m0 83.5h0m0 25h0m0.5 24h0m0-118h0m0 35.5h0m0-12.5h0m0 2.5h0m0.5 42h0m0-31h0m0-38.5h0m0 46h0m0 61h0m1-54.5h0m0.5 46.5h0m0-49.5h0m0.5 14.5h0m0 41h0m0.5-127.5h0m0 121.5h0m0.5-4.5h0m0-56h0m0 39h0m0-35.5h0m0 22.5h0m0.5-12h0m0-30.5h0m1 79.5h0m0-2.5h0m0-46.5h0m0.5 25.5h0m0.5-4.5h0m0-31.5h0m0 59h0m0.5-30h0m0-65.5h0m0-108.5h0m0.5 132.5h0m0 26h0m0-11.5h0m1-6.5h0m0-18h0m0 12.5h0m0.5 44.5h0m0 20.5h0m0-63.5h0m0-28h0m0.5 64h0m0-48.5h0m0 35.5h0m0.5-2h0m0.5-36.5h0m0 20h0m0.5 9h0m0-27h0m0-20h0m0.5 38.5h0m0-4h0m0 30h0m0-20h0m0 11h0m0-82.5h0m0.5 33h0m0 47h0m0 9h0m0-64h0m0.5 37.5h0m0 47h0m0.5-76h0m0-13.5h0m0.5 44h0m0 52.5h0m1-38h0m0 9h0m0 15h0m0-44.5h0m0.5 14h0m0-28h0m0 34h0m0.5-3.5h0m0 4h0m0-18h0m0 31h0m0-40.5h0m0 36h0m0.5 27h0m0.5-56h0m0 23.5h0m0-41h0m0.5 18h0m0 34.5h0m0.5-51h0m0 9h0m0.5-35h0m0 28h0m0 52.5h0m0 3.5h0m0.5-9h0m0-53h0m0 26.5h0m0.5 31.5h0m0-6.5h0m0-10.5h0m0 22.5h0m0-59.5h0m0.5 40.5h0m0 4h0m0-44h0m0-5.5h0m0.5 75h0m0-25.5h0m0-89h0m0 70h0m0-0.5h0m0.5-1.5h0m0 33.5h0m0-1h0m0 16h0m0-74h0m0.5 59h0m0-55h0m0 56.5h0m0.5-6.5h0m0 27h0m0 6.5h0m0.5-57.5h0m0 15.5h0m0 13.5h0m0.5-75.5h0m0 18.5h0m0 37h0m0 11h0m0 2.5h0m0-52h0m0.5 110.5h0m0-79h0m0 16.5h0m0-2h0m0-50h0m0 5.5h0m0.5 87h0m0-53.5h0m0 48h0m0.5-84h0m0 13h0m0-4.5h0m0 54h0m0-32.5h0m0-52.5h0m0.5 79.5h0m0.5-54.5h0m0-20h0m0 24.5h0m0-4.5h0m0-0.5h0m1 11h0m0-27h0m0 43h0m0-23h0m0.5 34h0m0.5 0h0m0-8.5h0m0.5-19h0m0 10h0m0-11.5h0m0.5 13h0m0 32h0m0 39.5h0m0-25.5h0m0.5-35h0m0 27.5h0m1-79.5h0m0.5 139.5h0m0-63h0m0.5-54h0m0 29h0m0.5 5.5h0m0-21h0m0-5h0m0.5-0.5h0m0 15.5h0m0.5-10.5h0m0-17.5h0m0 42h0m0 4.5h0m0-9h0m0 8h0m0.5 41.5h0m0-37.5h0m0.5-22.5h0m0-16.5h0m0 28.5h0m0.5 22h0m0-53.5h0m0.5 55h0m0-54.5h0m0.5-24h0m0 30.5h0m0 112.5h0m0-53h0m0.5-42h0m0-37.5h0m0.5 56.5h0m0-4h0m0-4h0m0-48h0m0.5 61.5h0m0.5-47h0m0 77.5h0m0-106.5h0m0 23h0m0.5 16.5h0m0-27h0m0.5 32.5h0m0-28.5h0m0-0.5h0m0.5 46.5h0m0.5-66h0m0 75h0m0-25h0m0-48.5h0m0.5 73.5h0m0 18.5h0m0-51.5h0m0 58h0m0-37.5h0m0.5-2.5h0m0 22.5h0m0.5-57.5h0m0 45.5h0m0.5-33.5h0m0 19.5h0m0 1h0m0-42h0m0.5 37.5h0m0-22.5h0m0.5 25.5h0m0-1.5h0m0-37h0m0.5 8h0m0 74.5h0m0.5 3h0m0-54h0m0 15h0m0.5 3h0m0-47h0m0 63.5h0m0.5-27h0m0-10.5h0m0 43.5h0m0-28h0m0.5-51h0m0.5 27.5h0m0-3h0m0-9h0m0 5.5h0m0.5 0.5h0m0 1.5h0m0.5 69h0m0-44.5h0m0 20h0m0 4.5h0m0 18h0m0-41h0m0.5-4h0m0 9h0m0-46h0m0.5 17.5h0m0 55h0m0-16h0m0.5-26h0m0.5 96.5h0m0.5-108.5h0m0 29.5h0m0-63h0m0.5 21h0m0 80.5h0m0.5-39h0m0-6.5h0m0-25h0m0 15h0m0-21.5h0m0.5 38h0m0-2h0m0-12h0m0.5 48h0m0.5-26h0m0-62h0m0 64h0m0 35h0m0.5-55.5h0m0 35.5h0m0-24.5h0m1-33.5h0m0 4.5h0m0 4.5h0m0.5-28h0m0.5 38.5h0m0-21.5h0m0 126h0m0-100.5h0m0-36h0m0.5-4.5h0m0 75h0m0-39h0m0-34.5h0m0 19h0m0.5 24h0m0-4.5h0m0 58.5h0m0-48h0m0-27h0m0.5-44h0m0 75.5h0m0-3.5h0m0-16.5h0m0.5 31h0m0-22.5h0m0 3h0m0 57h0m0-98.5h0m0.5 62h0m0.5 1.5h0m0-66.5h0m0 118.5h0m0-128h0m0 61h0m0-45.5h0m0-3h0m0 36h0m0.5-12h0m0 24.5h0m0-15h0m0.5-14.5h0m0 3h0m0.5-13.5h0m0 32.5h0m0 25h0m0-38h0m0-1h0m0 10.5h0m0-56h0m0-3.5h0m0.5 45h0m0 39h0m0 12h0m1-8h0m0-29.5h0m0-15h0m0 13.5h0m0-18h0m0.5 16.5h0m0.5 12.5h0m0.5-20h0m0-42h0m0 93.5h0m0.5 26.5h0m0-94.5h0m0-6.5h0m0 65.5h0m0.5-78.5h0m0 15h0m0 44.5h0m0.5 56h0m0-39.5h0m0-70h0m0 99.5h0m0.5-86.5h0m0 43h0m0-63h0m0 60.5h0m1.5-3h0m0-52h0m0 0.5h0m0 66.5h0m0.5-7h0m0-46.5h0m0 24h0m0 15h0m0-74.5h0m0 10.5h0m0 51h0m0.5-0.5h0m0 14.5h0m0.5-38.5h0m0-0.5h0m0 2h0m0 21h0m0.5 39.5h0m0-34.5h0m0.5-23.5h0m0 60.5h0m0-47.5h0m0.5 33h0m0 22.5h0m0 5.5h0m0-73h0m0-8.5h0m0 0h0m0.5 33h0m0 26h0m0-68h0m0.5 23h0m0 4h0m0-8.5h0m0.5 32.5h0m0.5 37.5h0m0-65h0m0-4.5h0m0-6h0m0.5 15h0m0 53h0m0-61h0m0.5 53h0m0-40.5h0m0-29h0m0 24h0m0 23.5h0m0.5-19.5h0m0-29h0m0 44.5h0m0.5-38h0m0 12.5h0m1 35.5h0m0 0.5h0m0-10h0m0-34h0m1.5 66h0m0-55h0m0 177.5h0m0-188h0m0.5-6h0m0 21h0m1 33.5h0m0-61h0m0 42h0m0.5-39h0m0 28.5h0m0 31h0m0-1h0m0-51h0m0 29h0m0 22.5h0m0.5-45.5h0m0 3h0m0 13h0m0 10.5h0m0-5h0m0 83h0m0.5-102.5h0m0 9h0m0 75.5h0m0-54.5h0m0.5-83h0m0.5 63.5h0m0 35h0m0-29h0m0-20h0m0.5 23.5h0m0 78.5h0m0.5-71h0m0-33.5h0m0.5-6.5h0m0-10.5h0m0 49.5h0m0.5 24.5h0m0-20h0m0 27.5h0m0-53h0m0.5 64.5h0m0 52.5h0m0-144.5h0m0.5 71h0m0.5-36.5h0m0.5-2.5h0m0-20.5h0m0.5 14h0m0 35h0m0-44h0m0 31h0m0-29.5h0m0-32.5h0m0 72h0m0.5-37.5h0m0 16.5h0m0 47h0m0 0.5h0m0.5-70.5h0m0 25.5h0m0 30h0m0.5-38h0m0-34h0m0.5 76.5h0m0.5 27h0m0-20.5h0m0.5-55h0m0-18h0m0 10.5h0m0.5 8.5h0m0-11h0m0.5-5h0m0 7h0m0 43h0m0-29.5h0m0.5 9h0m0 1h0m0 35h0m0 0.5h0m0.5-34.5h0m0-48h0m0 83.5h0m0.5-19h0m0-27.5h0m0 82.5h0m0-67h0m0-18h0m0.5 71.5h0m0-6h0m1-137h0m0 123h0m0-45h0m0 58.5h0m0-90.5h0m0.5 51.5h0m0-31.5h0m0 14.5h0m0.5 1h0m0.5 16.5h0m0-79.5h0m0.5 46h0m0 24h0m0-34h0m0.5 31h0m0-38.5h0m0 35.5h0m0.5-40h0m0-12h0m1 41.5h0m0 50.5h0m0.5-17.5h0m0 14.5h0m0-24.5h0m1-14.5h0m0 19.5h0m0-51.5h0m0.5 30.5h0m0-22.5h0m0.5 62h0m0-26h0m0-27.5h0m0 16.5h0m0 26.5h0m1-29h0m0 7.5h0m0 10.5h0m0-17h0m0.5 71h0m0-57.5h0m0-31h0m0.5 2h0m0 90h0m0-66.5h0m1-37.5h0m0-20.5h0m0 71h0m0.5 58h0m0-57.5h0m0-26.5h0m0 43.5h0m0-45h0m0 0h0m0.5 2h0m0.5-9.5h0m0-25h0m0.5 47.5h0m0.5 57.5h0m0.5-106.5h0m0.5 10h0m0 48h0m0.5-24h0m0 3.5h0m0.5 14h0m0 10.5h0m0-13.5h0m0.5 14h0m0 3h0m0-39h0m0 43h0m0-20.5h0m0.5-38.5h0m0 79.5h0m0-65.5h0m0 39h0m0.5-37h0m0.5 49h0m0-77h0m0 33.5h0m0-0.5h0m0.5-7h0m0.5 154.5h0m0-182h0m0 23h0m0 11h0m0.5 52h0m0-39h0m0-28h0m0.5 33h0m0-26h0m0.5 5.5h0m0 75.5h0m0.5-83h0m0 18.5h0m0 9h0m0-63h0m0 54.5h0m0.5-40h0m0-28h0m0 81.5h0m0.5-15.5h0m0 20h0m0-74.5h0m0 110h0m0-10.5h0m0-70.5h0m0.5 40.5h0m0-22.5h0m0 32h0m0-13h0m0.5-3.5h0m0 1.5h0m0.5-26.5h0m0-6.5h0m0 15h0m0.5 31h0m0-27.5h0m0.5 12.5h0m0-33.5h0m0 33h0m0.5 16.5h0m0-18.5h0m0-29h0m0 75.5h0m0-28.5h0m0-43.5h0m0.5 53.5h0m0-35.5h0m0.5 24.5h0m0-22.5h0m0.5-42.5h0m0 36h0m0.5 79.5h0m0-28h0m0-33.5h0m0-21h0m0.5-18.5h0m0 19.5h0m0 36.5h0m0.5 13h0m0 19h0m0-96.5h0m0.5 20h0m0 36.5h0m0.5-35.5h0m0 44h0m0.5-44.5h0m0 41h0m0-37.5h0m0.5 62.5h0m0-48h0m0-14h0m0.5 36.5h0m0.5-34.5h0m0 118h0m0.5-88h0m0-15.5h0m0-51h0m0 82h0m0 2h0m0-60.5h0m0.5 5.5h0m0 47.5h0m0 20h0m0-89.5h0m0 11.5h0m0.5 50.5h0m0 34.5h0m0-90h0m0 42.5h0m0 48h0m0-58h0m0 38h0m0-4.5h0m0.5-20.5h0m0-41.5h0m0.5 54h0m0-9h0m0 23h0m0.5-69h0m0 59h0m0 49.5h0m0-74.5h0m0.5-41h0m0 51h0m0-55h0m0.5 48h0m0 16.5h0m0-5h0m0 27.5h0m0.5-53.5h0m0 23h0m0 10.5h0m0.5-31.5h0m0 1h0m0.5 24.5h0m0.5-9h0m0.5-10.5h0m0-3.5h0m0.5 8.5h0m0 5h0m0 12h0m0.5-71h0m0 35h0m0 5.5h0m0 45.5h0m0-5.5h0m0.5-45h0m0-4h0m0 13h0m0.5 14.5h0m0-33.5h0m0.5-3h0m0.5 19h0m0 24.5h0m0 24.5h0m0.5 19h0m0-86h0m0-13h0m0 83h0m0.5-87.5h0m0 36h0m0-9h0m0 45h0m0-19h0m0.5-2h0m0 6h0m0-42.5h0m0.5 31.5h0m0-8h0m0.5 44h0m0-60.5h0m0 7h0m0.5 21.5h0m0 27h0m0.5-30h0m0.5-6h0m0-0.5h0m0-37.5h0m0 0.5h0m0 16.5h0m0 16h0m0.5 14h0m0-28.5h0m0 15h0m0-14h0m0 36.5h0m0-36h0m0 22.5h0m0.5 1h0m0-90.5h0m0 87h0m0-39.5h0m0 102h0m0-77h0m0 15.5h0m0.5-43.5h0m0 50.5h0m0 31.5h0m0-33h0m0.5-12.5h0m0 25h0m0-3.5h0m0.5 22h0m0-62.5h0m0 67.5h0m0.5-33h0m0 33.5h0m0-27h0m0-13.5h0m0.5 44h0m0-63h0m0 16.5h0m0.5-23h0m0 59h0m0.5-1h0m0 20h0m0-83h0m0 51h0m0.5-45h0m0 48h0m0-35h0m0.5-31h0m0 107h0m0-30.5h0m0.5 22.5h0m0-8h0m0.5-21.5h0m0-19h0m0.5 16.5h0m0.5-18h0m0-3h0m0-63h0m0.5 79h0m0-3h0m0-34.5h0m0 36.5h0m0.5-12h0m0-38h0m0 58h0m0-49h0m0.5 64.5h0m0.5-7.5h0m0-19.5h0m0-34h0m0.5 26.5h0m0 7h0m0-37.5h0m0 21.5h0m0.5-28.5h0m0 7h0m0 70.5h0m0-42.5h0m0.5-9h0m0-14.5h0m0 61.5h0m0.5-71.5h0m0.5 82.5h0m0-11h0m0-100h0m0.5 42.5h0m0 71.5h0m0-50h0m0-23.5h0m0.5 40.5h0m0-30.5h0m0.5 21.5h0m0-31.5h0m0 46h0m0 2h0m0.5-6.5h0m0-48.5h0m0.5-9.5h0m0 15.5h0m0.5 99h0m0-112h0m0 33.5h0m0-48h0m0.5 85.5h0m1-79.5h0m0 29.5h0m0 18h0m0.5-23h0m0 69.5h0m0-47h0m0 26.5h0m0.5-28.5h0m0 3.5h0m0 26.5h0m0.5-23h0m0-28.5h0m0-11h0m0.5 78h0m0.5-40h0m0 1h0m0 7.5h0m0-131.5h0m0.5 157.5h0m0-35h0m0-39.5h0m0-8h0m0 38h0m0.5-96h0m0.5 126h0m0 13h0m0-105h0m0 47.5h0m0-15.5h0m0.5 186.5h0m0-178h0m0 63h0m0 16h0m0.5-58h0m0.5 8h0m0.5 31h0m1.5-114h0m0 60.5h0m0 4h0m0-44h0m0 14h0m0.5 42h0m0.5-7h0m0-66h0m0 82.5h0m0.5 10h0m0-5.5h0m0.5-31.5h0m0-34h0m0.5 30h0m0 7.5h0m0 1h0m0-19.5h0m0.5 21h0m0-24h0m0-8.5h0m0.5 67.5h0m0-42.5h0m0-19h0m0 50h0m0-16h0m0.5-24.5h0m0 17.5h0m0.5 37h0m0-60.5h0m0.5 51h0m1 19h0m0.5-24h0m0 18h0m0-74h0m0 36.5h0m0 67h0m0-49.5h0m0 31.5h0m0.5-48h0m0.5 19.5h0m0 9.5h0m0 17h0m0.5-41h0m0 36h0m0-61h0m0-13.5h0m0.5 7.5h0m0 34h0m0-20.5h0m0-14.5h0m0.5 26.5h0m0.5 11.5h0m0.5 21.5h0m0-17h0m0-50.5h0m0.5 27h0m0 46.5h0m0 3.5h0m0.5-65h0m0 29h0m0.5-43.5h0m0 23h0m0 7.5h0m0 21h0m0-6h0m0-19h0m0.5-16h0m0.5 9.5h0m0 98.5h0m0-65.5h0m0.5 55h0m0-18h0m0-21.5h0m0-20h0m0-49.5h0m0.5 52.5h0m0.5 48.5h0m0-133h0m0 63h0m0 51.5h0m0-38h0m0.5 31.5h0m0-34h0m0 12.5h0m0-18h0m0-3h0m0 6.5h0m0.5 20.5h0m0-21.5h0m0.5-56.5h0m0 63h0m0 42h0m0-51.5h0m0.5-33.5h0m0 32.5h0m0-34.5h0m0.5 78h0m0-29h0m0 2h0m0-17.5h0m0.5 26h0m0-17.5h0m1 39h0m0.5-18h0m0-62.5h0m0 10.5h0m0.5 25.5h0m0 21.5h0m0-24h0m0-25h0m0.5-21.5h0m0 47h0m0 50h0m0.5-71h0m0 10h0m0 28.5h0m0-5.5h0m0 7h0m0.5 1h0m0 6h0m0 14.5h0m0-41.5h0m0.5-112.5h0m0 165h0m0-44h0m0-24.5h0m0.5 12h0m0 36.5h0m0 10h0m0.5-55h0m0.5 70.5h0m0.5-35h0m0-37h0m0 25h0m0.5 21h0m0 28.5h0m0-41h0m0.5-19h0m0-18.5h0m0.5 11h0m0 48h0m0-52h0m0 14.5h0m0-12.5h0m0 27h0m0.5 12h0m0.5 15.5h0m0 10h0m0-57h0m0-32.5h0m0 75.5h0m0-17h0m0.5-3h0m0.5-14h0m0.5 15.5h0m0-39.5h0m0 12h0m0 13h0m0 13.5h0m0.5 23.5h0m0-46.5h0m0 15h0m0 3h0m0.5 19.5h0m0-8h0m0-39.5h0m0 42.5h0m0 43.5h0m0-108.5h0m0.5 63h0m0.5-30h0m0-30.5h0m0.5 52h0m0 22h0m0-67.5h0m0 38h0m0.5 31h0m0-48.5h0m0 26h0m0-8h0m0-47h0m0 69.5h0m0-39.5h0m0.5 40h0m0-66.5h0m0-1.5h0m0 22.5h0m0.5 73h0m0-43h0m0 4.5h0m0-151h0m0.5 118h0m0-29h0m0-10h0m0.5 26h0m0 37h0m0 45.5h0m0-101h0m0-13h0m0 86h0m0 8.5h0m0-27.5h0m0.5-38h0m0 66h0m0-62h0m0.5 102.5h0m0-81.5h0m0.5-16h0m0 3h0m0 95h0m0.5-56.5h0m0.5-5h0m0.5-46.5h0m0 41.5h0m0-13h0m0 46h0m0.5-65.5h0m0 67.5h0m0-71.5h0m0 1.5h0m0 31.5h0m0-0.5h0m0.5-55h0m0 7h0m0.5 14.5h0m0 49h0m0 46h0m0-42h0m0.5-12.5h0m0 7h0m0-37h0m0 24h0m0.5-24.5h0m0 4.5h0m0 71h0m0-56.5h0m0 33.5h0m0-65h0m0.5 22h0m0-9.5h0m0 6h0m0 7h0m0 16h0m0-7.5h0m0-18.5h0m0 63h0m0.5-69h0m0 53.5h0m0-47.5h0m0-14.5h0m0.5 111h0m0-121h0m0 12.5h0m0 44h0m0-26h0m1-27.5h0m0 40h0m1 38.5h0m0-24h0m0-10h0m0.5 9h0m0-32h0m0 43h0m0.5-28.5h0m0.5-42.5h0m0 19h0m0 26h0m0 1.5h0m0-6h0m0.5-27.5h0m0 38.5h0m0-35.5h0m0-27h0m0 37.5h0m0 56h0m0-7.5h0m0.5-32.5h0m0 30.5h0m0-12.5h0m0.5-36.5h0m0 43h0m0-27.5h0m0.5-2.5h0m0 26h0m0-44.5h0m0 138.5h0m0-101h0m0 28.5h0m0-4.5h0m0-37h0m0 35h0m0-73h0m0.5 58h0m0-35h0m0 53.5h0m0-36.5h0m0 7h0m0.5 3h0m0.5-40.5h0m0.5-56.5h0m0.5 63h0m0 22.5h0m0 45.5h0m0.5-45h0m0 20.5h0m0-21.5h0m1.5 5h0m0 18h0m0-33.5h0m0 42h0m0 28h0m0-18h0m0.5-64h0m0 52.5h0m0-3h0m0.5 9h0m0.5-38h0m0 42h0m0-26h0m0-21.5h0m0.5 41h0m0-35h0m0-38.5h0m0 45.5h0m0.5-41.5h0m0 19h0m0 24h0m0-66.5h0m0 42h0m0 7.5h0m0-77.5h0m0 30.5h0m0 30h0m0-20h0m0.5-2h0m0 24.5h0m0 39.5h0m0.5-17.5h0m0 37h0m0-11h0m0-10.5h0m0 9h0m0.5-36.5h0m0.5 68h0m0.5-22.5h0m0-33h0m0 0.5h0m0 0h0m0.5 128h0m0-155h0m0 56.5h0m0-55.5h0m0.5 44h0m0-5.5h0m0-15h0m0 21.5h0m0 6h0m0-59h0m0.5-22.5h0m0 45h0m0 34h0m0-10h0m0 2.5h0m0 11.5h0m0 20h0m0.5-72h0m0 24h0m0 77h0m0.5-115.5h0m0-1h0m0 24h0m0 19.5h0m0 9.5h0m0.5-14h0m0.5 27h0m0 23h0m0-44h0m0.5-37h0m0 25h0m0.5 5.5h0m0 18h0m0-42h0m0.5 67.5h0m0-32h0m0 34.5h0m0-57.5h0m0 0.5h0m0 97h0m0-142h0m0.5 50.5h0m0 3h0m0.5-12h0m0.5-13h0m0.5 61h0m0-42h0m0-6.5h0m0 26.5h0m0-14.5h0m0-27.5h0m0.5-7.5h0m0 44h0m0 22h0m0.5-23h0m0 17.5h0m0.5 0.5h0m0-46.5h0m0 53h0m0-19h0m0 59h0m0-46.5h0m0.5-39.5h0m0.5 22.5h0m0-64h0m0 44.5h0m0 28.5h0m0 2.5h0m0.5 10.5h0m0-36.5h0m0.5-14h0m0 7.5h0m0-14h0m0 79h0m0.5-77.5h0m0-6h0m0 93h0m0.5-68h0m0 30.5h0m0.5-8h0m0-28h0m0 19.5h0m0.5 36.5h0m0.5-51h0m0 144.5h0m0.5-189.5h0m0-11.5h0m0.5 32.5h0m0 28h0m0 31h0m0.5 40h0m0-26h0m0-3h0m0.5 18.5h0m0-56h0m0 10.5h0m0-76.5h0m0 69h0m0.5 47.5h0m1-53.5h0m0 28.5h0m0-24.5h0m0.5 12.5h0m0-28.5h0m0 30h0m0-38h0m0 35.5h0m0.5-33h0m0 7h0m0 47h0m0-56.5h0m0.5 43h0m0.5-111h0m0 146h0m0-78h0m0-4h0m0.5 4h0m0 49h0m0-27h0m0 13h0m0.5 41.5h0m0-62.5h0m0.5 45.5h0m0-34.5h0m0-5.5h0m0-31h0m0 13.5h0m0 95.5h0m0.5-63h0m0-58.5h0m0.5 89.5h0m0.5-18.5h0m0 4h0m0.5 29.5h0m0-108h0m0.5 4h0m0 42h0m0 16h0m0-8h0m0 25h0m0.5-61.5h0m0 68h0m0.5-95.5h0m0 67.5h0m0.5 13h0m0 1h0m0 2h0m0.5-16h0m0-2h0m0-40.5h0m0 41.5h0m0.5-18h0m0 24h0m0.5-28.5h0m0-22h0m0 80.5h0m0.5-94.5h0m0 45.5h0m0 51.5h0m0.5 2h0m0-96h0m0 75.5h0m0.5-40.5h0m0 29.5h0m0 8h0m0.5 7h0m0-83.5h0m0 30.5h0m0 45.5h0m1-0.5h0m0 31h0m0-25h0m0.5-126.5h0m0 138.5h0m0.5-2.5h0m0-11h0m0-64h0m0 98h0m0.5-45.5h0m0-25.5h0m0 6.5h0m0-12h0m0.5 19h0m0-50.5h0m0 78.5h0m0.5-59h0m0 62h0m0-47.5h0m1 36h0m0 21h0m0-26.5h0m0.5-13h0m0 4.5h0m0-12.5h0m0 0.5h0m0.5 67.5h0m0.5-95h0m0 11h0m0 9h0m0.5 13h0m0 20h0m0-22h0m0 34h0m1-62.5h0m0 43h0m0-5h0m0-37h0m0 27.5h0m0-7.5h0m0-9.5h0m0.5-4.5h0m0 51.5h0m0.5-50.5h0m0 51h0m0 3.5h0m0 6h0m0-158.5h0m0.5 140h0m0-64h0m0.5 50h0m0.5 17h0m0 3.5h0m1 14h0m0-17h0m0.5-24h0m0-13.5h0m0-5.5h0m0.5 23h0m0-8.5h0m0.5 48h0m0-56.5h0m0.5-13h0m0 9h0m0 89h0m0.5-66h0m0.5-40.5h0m0 81.5h0m0-52h0m0 14h0m0-27h0m0 40h0m0 3h0m0-45.5h0m0.5 25h0m0-43h0m0 82.5h0m0.5-70.5h0m0 3h0m0-3.5h0m0-2h0m0 35.5h0m0.5-22.5h0m0 37.5h0m0-4h0m0.5 19h0m0 7h0m0.5-61.5h0m0.5 22.5h0m0-29.5h0m0.5 13.5h0m0 33h0m0-7.5h0m0.5-53h0m0 55.5h0m0.5-12.5h0m0 15.5h0m0-88.5h0m0 43.5h0m0 57.5h0m0-77h0m0.5 34h0m0 5h0m0-14h0m0 11h0m0.5 16h0m0.5-10h0m0-11.5h0m0 33.5h0m0.5 8.5h0m0.5-0.5h0m0-82h0m0 97.5h0m0.5-28h0m0-18h0m0-93.5h0m0.5 129.5h0m0-5.5h0m0 2h0m0.5-49.5h0m0-27.5h0m1 95.5h0m0-28h0m0.5-30.5h0m0 1h0m0 6.5h0m0 29.5h0m0-59.5h0m0.5 10.5h0m0 96.5h0m0-109.5h0m0.5 53h0m0-8h0m0-2h0m0 33.5h0m0.5-49.5h0m0 47h0m1-34.5h0m0-20.5h0m0-2.5h0m0 6h0m0.5 43.5h0m0 4h0m0.5-29h0m0.5-26h0m0-3.5h0m0 22h0m0.5 45.5h0m0-18h0m0-32h0m0 53.5h0m0-92h0m0.5-12.5h0m0.5 14.5h0m0 72.5h0m0.5-61h0m0 19h0m0 15.5h0m0.5-17h0m0 42h0m0-14h0m0-19h0m0 30.5h0m0-82h0m0.5 94h0m0-50h0m0-12.5h0m0 27.5h0m0.5 17.5h0m0-16.5h0m0 10.5h0m0.5-17.5h0m0-12.5h0m0 65h0m0.5-14.5h0m0-75h0m0 59.5h0m0-41.5h0m0 1.5h0m0 35.5h0m0 17h0m0.5 18h0m0-15h0m0-47.5h0m0-1.5h0m0-5h0m0.5 13h0m0 57h0m0.5-37h0m0-3.5h0m0-101h0m0 102h0m0.5-29h0m0.5 13.5h0m0.5 18h0m0 10h0m0-41h0m0-3.5h0m0.5 26.5h0m0-23h0m0 64.5h0m0-57.5h0m0-39h0m0.5 51h0m0-37.5h0m0.5-65.5h0m0 216.5h0m0-117h0m0 5h0m0 32h0m0 3.5h0m0-48h0m0.5-42h0m0-9.5h0m0.5 116h0m0-56.5h0m0.5 21.5h0m0-31h0m0 18.5h0m0 16.5h0m0.5-36h0m0 10.5h0m0.5 18h0m0-50h0m0 7.5h0m0.5 44h0m0-29.5h0m0-2h0m0-83h0m0.5 110.5h0m0-1h0m0 110.5h0m0-122.5h0m0-5.5h0m0.5 31.5h0m0-23h0m0 44.5h0m0-45h0m0.5-4h0m0 27.5h0m0.5 12.5h0m0-21h0m0.5 69.5h0m0-122h0m0 38.5h0m0.5 13h0m0 35h0m0.5-86h0m0 85h0m0.5-49h0m0 26.5h0m0.5-14.5h0m0.5-71h0m0.5 42.5h0m0.5 22.5h0m0-23.5h0m0 1.5h0m0 22h0m0-12h0m0.5 0h0m0 44h0m0.5-52h0m0-26.5h0m0 11h0m0.5 37h0m0.5-47h0m0 24h0m0 30.5h0m0.5-35.5h0m0 3h0m0-23.5h0m0.5 65.5h0m0-3.5h0m0.5-29.5h0m0 28.5h0m0-39h0m0.5-55h0m0-16h0m0 107h0m0-41.5h0m0.5 36h0m0.5-19.5h0m0 37.5h0m0.5-23.5h0m0.5-37.5h0m0-12h0m0 38h0m0.5 33.5h0m0-28h0m0 40h0m0.5-7.5h0m0-43h0m0-6.5h0m0 4h0m0.5 9h0m0 14.5h0m0-3.5h0m0-38.5h0m0.5 34h0m0.5-8h0m0.5 27.5h0m0-56.5h0m0 78h0m0-40.5h0m0.5-14h0m0 3.5h0m0.5-13.5h0m0 32h0m0 19.5h0m0-21h0m0.5-2h0m0 20h0m0 21h0m0.5-15h0m0-93h0m0 66.5h0m0 5.5h0m0.5-7.5h0m0 6.5h0m0 40.5h0m0-39h0m0-4.5h0m0-8.5h0m0-42h0m0.5 6.5h0m0-10.5h0m0 95.5h0m0-44h0m0-36.5h0m0.5 24h0m0.5 10h0m0-16.5h0m0.5 50.5h0m0-24h0m0 17h0m0-48.5h0m0-15.5h0m0 28h0m0 3.5h0m0.5 25.5h0m0-78h0m1 83.5h0m0-28h0m0 8h0m0 20h0m0-46h0m0.5 17.5h0m0 15.5h0m0-22h0m0.5-28.5h0m0 52.5h0m0-23h0m0.5-3h0m0.5 24h0m0-32.5h0m0 60h0m0.5-14.5h0m0 16h0m0-60.5h0m0.5 18.5h0m0-8.5h0m0-8h0m0-11h0m0.5 19.5h0m0 4h0m0.5-22.5h0m0-41.5h0m0 39h0m0 136.5h0m0-59.5h0m0-62h0m0.5 41.5h0m0-54h0m0.5-29.5h0m0 63h0m0.5 11h0m0-8h0m0-12.5h0m0-0.5h0m0.5 28.5h0m0-42.5h0m0.5 20.5h0m0 50h0m0-112h0m0 67.5h0m0.5 50.5h0m0-111h0m0-0.5h0m0 30.5h0m0 13h0m0 53h0m0-67.5h0m0.5-28.5h0m0 95.5h0m0.5-50.5h0m0.5 9.5h0m0-4.5h0m0-34.5h0m0 14.5h0m0.5 37.5h0m0 5.5h0m0.5-68.5h0m0 50h0m0-34h0m0 54h0m0-29.5h0m0.5-4.5h0m0.5 19.5h0m0 42.5h0m0-45.5h0m0 63.5h0m0-52h0m0-8.5h0m0.5 0h0m0 0.5h0m0.5-5h0m0 67.5h0m0.5-103.5h0m0 37h0m0-3.5h0m0 7.5h0m0.5-8.5h0m0 29.5h0m0.5-63.5h0m0 70.5h0m0 3.5h0m0-52.5h0m0.5 28.5h0m0-63.5h0m0.5 82h0m0-1h0m0.5 17h0m0-48.5h0m0 64.5h0m0.5-1.5h0m0-27h0m0-9h0m0.5-24.5h0m0-25h0m0.5 33.5h0m0-23h0m0.5 48h0m0-63.5h0m0-2.5h0m0.5 44.5h0m0-34.5h0m0 41.5h0m0-8.5h0m0.5 15.5h0m0-9.5h0m0.5-22h0m0.5-9h0m0 4.5h0m0 28h0m0.5-25h0m0 53h0m0 6.5h0m0-78h0m1 45.5h0m0-63.5h0m0 25.5h0m0.5 54.5h0m0-78.5h0m0 25.5h0m0 5h0m0-41h0m0 15.5h0m0 50.5h0m0.5-15h0m0.5 28.5h0m0-43h0m0-59h0m0 67h0m0-35h0m0 58h0m0.5-48.5h0m0 151h0m0-175.5h0m0.5 38h0m0 82h0m0-44.5h0m0-14.5h0m0.5 17.5h0m0 16.5h0m0-68h0m0.5 32.5h0m0 38h0m0.5-14h0m0-47.5h0m0.5 29h0m0 11.5h0m0-97h0m0-17h0m0 127h0m0 2.5h0m0-82.5h0m0.5 31h0m0-11h0m0-18.5h0m0.5 20.5h0m0.5-29h0m0 74h0m0-11.5h0m0.5-60h0m0 4h0m0 66.5h0m0-37.5h0m0 55h0m0.5-56.5h0m0 5.5h0m0 13.5h0m0.5-33.5h0m0 18.5h0m0 22.5h0m0.5 64h0m0-84h0m0.5 16.5h0m0-38.5h0m0 24h0m0.5-21.5h0m0.5 1h0m0 2h0m0-8h0m0.5 59.5h0m0 12h0m0-85.5h0m0 84.5h0m0.5-24.5h0m0-23.5h0m0-25h0m0.5 38h0m0 8.5h0m0-54h0m0.5-6h0m0 125.5h0m0-134.5h0m0 67h0m0.5-29h0m0.5 0.5h0m0 51.5h0m0-56h0m0.5 72.5h0m0-28h0m0.5 42.5h0m0-63h0m0-2.5h0m0 0.5h0m0 13.5h0m0.5 37.5h0m0-83h0m0 94h0m0.5-50.5h0m0-20.5h0m0-1.5h0m0.5 43h0m0-9.5h0m0 1.5h0m0-13.5h0m0.5 32h0m0.5-27h0m0-26h0m0 26.5h0m0-6.5h0m0-1h0m0.5 30.5h0m0-29.5h0m0-42.5h0m0.5-7.5h0m0 15.5h0m0.5-9h0m0 19.5h0m0.5 3.5h0m0.5 64h0m0-30.5h0m0 18h0m0.5-36.5h0m0-9.5h0m0-44h0m0 38h0m0 35h0m0-50.5h0m0 62h0m0-9h0m0.5-24h0m0-1.5h0m0 42.5h0m0.5-52h0m0-0.5h0m0 1h0m0.5-31.5h0m0 28.5h0m0 122h0m0-142.5h0m0 66.5h0m0.5-33.5h0m0-47.5h0m0 84.5h0m0-51h0m0.5 0h0m0-14.5h0m0-7.5h0m0 26h0m0 27h0m0.5-57h0m0 33.5h0m0-14h0m0.5-68h0m0.5 104h0m0-16h0m0-70.5h0m0 83.5h0m0.5 7h0m0-52h0m0.5 16h0m0.5 8.5h0m0-3h0m0-11.5h0m0 73.5h0m0.5-66h0m0 7.5h0m0.5 6h0m0 1h0m0 55h0m0-30h0m0.5 31.5h0m0-73h0m0 50h0m0.5-24h0m0 8h0m0-65h0m0.5 34h0m0.5 11.5h0m0-10h0m0 23h0m0.5 21h0m0-9.5h0m0.5-11.5h0m0-43.5h0m0.5 68.5h0m0.5-64h0m0 59h0m0-61h0m0 56h0m0.5-99.5h0m0 115.5h0m0-38.5h0m0.5 10.5h0m0-25h0m0 1h0m0-9h0m0.5 45.5h0m0-33h0m0.5-2h0m0.5-9h0m0-26h0m0 16h0m0.5 20h0m0-29h0m0.5 78.5h0m0-62.5h0m0 16.5h0m0 13h0m0-44.5h0m0-99.5h0m0.5 149h0m0-25h0m0 16h0m0-21.5h0m0.5 17.5h0m0 23.5h0m0.5-18.5h0m0-10.5h0m0 68.5h0m0-61h0m0.5 5.5h0m0-10h0m0 13h0m0-47.5h0m0 72h0m0.5 16.5h0m0-78.5h0m0 61h0m0.5-14h0m0-22h0m0-33.5h0m0-4h0m0 43.5h0m0 48h0m0-16.5h0m0.5 13.5h0m0-74.5h0m0.5 6.5h0m0 7.5h0m0 57.5h0m0-71h0m0.5 1.5h0m0 42.5h0m0-20h0m0-34.5h0m0 66h0m0.5-91h0m0.5 50.5h0m0 7.5h0m0-15.5h0m0-102.5h0m0 117.5h0m0.5 15.5h0m0-44.5h0m0 44h0m0-27h0m0 5.5h0m0.5-13.5h0m0 19.5h0m0-4h0m0 5.5h0m0.5-27.5h0m0.5 25.5h0m0 3.5h0m0 47.5h0m0-33h0m0.5-24h0m0 32h0m0.5-0.5h0m0-28h0m0-5h0m0 69h0m1-55h0m0 11h0m0-41.5h0m0.5 26h0m0-44.5h0m0 49h0m0 16.5h0m0-57.5h0m0.5 10.5h0m0 23.5h0m0 23h0m0-16h0m0-34h0m0.5 9h0m0 17h0m0 9h0m0.5-22.5h0m0.5-4.5h0m0 29h0m0 8.5h0m0-14.5h0m0-15.5h0m0-43.5h0m0.5 63h0m0-2h0m0.5-16h0m0.5-21h0m0 27.5h0m0 68h0m0-109.5h0m0.5 20h0m0 35.5h0m0-45.5h0m0.5 19.5h0m0 23h0m0-16.5h0m0.5 1h0m0 8h0m0-22.5h0m0.5 51.5h0m0-51h0m0 0.5h0m0 15.5h0m0.5 1.5h0m0 35h0m0.5-16.5h0m0-17.5h0m0.5-6h0m0-50.5h0m0 90.5h0m0-49h0m0.5 50.5h0m0-69.5h0m0 56.5h0m0-28h0m0-24.5h0m0.5-34.5h0m0 78h0m0 17.5h0m0.5-21.5h0m0.5-50h0m0 102.5h0m0-66h0m0.5-13h0m0 39.5h0m0-38h0m0 65h0m0.5-40.5h0m0-9h0m0.5 9.5h0m0-15.5h0m0 18h0m0 46h0m0-14.5h0m0.5-1.5h0m0 14.5h0m0-48h0m0 45.5h0m0-38h0m0 26h0m0.5-28.5h0m0-39.5h0m0-1h0m0.5 54h0m0-51h0m0 34h0m0.5 30h0m0-18h0m0-29.5h0m0 18.5h0m0 51.5h0m0-60h0m0.5 38.5h0m0.5-14h0m0 27.5h0m0-49h0m0 39h0m0.5-27.5h0m0 13h0m0-48.5h0m0.5 11.5h0m0 6.5h0m0.5 11h0m0 0.5h0m0.5-12h0m0 29.5h0m0-32.5h0m0 32h0m0-46.5h0m0.5 27.5h0m0-5h0m0 22.5h0m1-58.5h0m0 47h0m0.5-43h0m0 58h0m0.5-42.5h0m0 70h0m0.5-38h0m0 28h0m0-22.5h0m0.5 8.5h0m0.5-79.5h0m0 49.5h0m0-31.5h0m0.5 49.5h0m0-25.5h0m0 37.5h0m0-2h0m0.5-10h0m0-19h0m0 35h0m0.5-28h0m0-5.5h0m0 8.5h0m0.5 22.5h0m0-18.5h0m0-4.5h0m0-11.5h0m0-20.5h0m0.5 28h0m0.5 5h0m0 14h0m0-37.5h0m0.5-2h0m0-17.5h0m0 51.5h0m0-42.5h0m0 65.5h0m0.5-57h0m0 7h0m0 6h0m0.5 18h0m0 36h0m0.5-65.5h0m0 1h0m0 73h0m0.5 1h0m0-2h0m0.5-65.5h0m0 76h0m0-63h0m0 48.5h0m0.5-72.5h0m0 23.5h0m0-36h0m0 42.5h0m0 36.5h0m0.5-21h0m1 5h0m0 8.5h0m0-5h0m0-40.5h0m0.5 2.5h0m0 8h0m0-6.5h0m0 37.5h0m0-11.5h0m0.5 5.5h0m0-2h0m0.5-11h0m0-19h0m0.5 39.5h0m0-13.5h0m0 16h0m0.5-39h0m0 78h0m0.5-44h0m0-11.5h0m0 21.5h0m0.5-146.5h0m0.5 78h0m0-25h0m0 36.5h0m0.5 55h0m0-41h0m0-51h0m0 36.5h0m0.5 5.5h0m0 59h0m0-44h0m0 45h0m0.5-67.5h0m0 18.5h0m0 4.5h0m0-12.5h0m0.5-75h0m0 45h0m0 85h0m1-57h0m0.5 38.5h0m0-76.5h0m0 58.5h0m0-25.5h0m0-54h0m0.5 82h0m0-26.5h0m0 0h0m0 61.5h0m0.5-19.5h0m0.5-42h0m0 62h0m0-89h0m0 30.5h0m0-20h0m0.5 11.5h0m0 46h0m0.5-7.5h0m0.5 21.5h0m0.5-7h0m0-21.5h0m0-29.5h0m0.5 21h0m0-14.5h0m0 6h0m0-0.5h0m0.5 56h0m0-66h0m0 49.5h0m0.5-10.5h0m0.5-16h0m0 14.5h0m0.5-45h0m0 66h0m0.5-27.5h0m0 1.5h0m0-7h0m0-2h0m0-32h0m0.5-14.5h0m0 27.5h0m0.5 49.5h0m0-55h0m0 0.5h0m0 23h0m0.5-54.5h0m0 54.5h0m0 10h0m0.5 23.5h0m0.5-32.5h0m0 12h0m0.5-33h0m0-5.5h0m0.5-37.5h0m0 108h0m0-81.5h0m0 9h0m0 14h0m0 19.5h0m0.5-4.5h0m0 9.5h0m0 9.5h0m0.5 47h0m0-102h0m0 61h0m0-82.5h0m0 75h0m0-4h0m0.5 8h0m0.5-50.5h0m0 13.5h0m0.5 34.5h0m0-103h0m0.5 63.5h0m0 8h0m0.5-34h0m0 58h0m0-30.5h0m0 47h0m0.5-22h0m0-7h0m0 12.5h0m0.5-13.5h0m0-29h0m0-35.5h0m0 79h0m0.5-12h0m0.5-30h0m0 18h0m0-22h0m0 22.5h0m0 0h0m0-7.5h0m0-21h0m0.5 32h0m0-42h0m0 13.5h0m0.5 45.5h0m0-14.5h0m0.5 16h0m0.5 21h0m0-20h0m0 12.5h0m0-13.5h0m0.5-10.5h0m0-8.5h0m0 28h0m0 32.5h0m0.5-90h0m0 42.5h0m0 14h0m0.5-24.5h0m0-54h0m0.5 52.5h0m0-55h0m0 66h0m0-37.5h0m0 73h0m0-136.5h0m0 63h0m0.5 61.5h0m0 5h0m0-67.5h0m0 42.5h0m0.5 21h0m0.5-62.5h0m0-30.5h0m0 65.5h0m1-20h0m0 10h0m0.5 18h0m0-69h0m0 87h0m0-49.5h0m0 13.5h0m0.5 52h0m0-30.5h0m0.5-16.5h0m0-53h0m0 94h0m0-65.5h0m0.5 41.5h0m0-25h0m0 39h0m0-69.5h0m0.5 28h0m0 8h0m0.5-144.5h0m0 127.5h0m0-49h0m0 95h0m0.5-8h0m0-44.5h0m0 26.5h0m0 18.5h0m0-1.5h0m0 23h0m0.5-36.5h0m0-13h0m0.5-24.5h0m0 33h0m0-8h0m0 42.5h0m0.5-72h0m0 29h0m0 38h0m0 3.5h0m0.5-45.5h0m0 36h0m0-59.5h0m0 85.5h0m0.5-75.5h0m0 44h0m0-27.5h0m0-114h0m0 101.5h0m0 79h0m0.5-52h0m0-46.5h0m0 2.5h0m0 48h0m0.5-9.5h0m0 3.5h0m0.5-10h0m0.5 15.5h0m0-2.5h0m0-12.5h0m0-55h0m0 50.5h0m0 15h0m1 22h0m1.5 19h0m0-40.5h0m0 42.5h0m0.5-44h0m0 36h0m1-30.5h0m0 10h0m0.5-55.5h0m0.5 22h0m0 45h0m0-2h0m0.5-7h0m0-32.5h0m0.5-12h0m0 5.5h0m0 9h0m0.5 16.5h0m0-34h0m0.5 16h0m0.5-8h0m0-64h0m0 41h0m0 40h0m0-11.5h0m1 24.5h0m0-93h0m0 103.5h0m0-46h0m0.5 13h0m0-32.5h0m0 59h0m0-27h0m0 38h0m0-65h0m0.5 43.5h0m0 15h0m0.5 16h0m0-5h0m1-18h0m0-3.5h0m0-40.5h0m0-10.5h0m0.5 94h0m0-11.5h0m0-54h0m0-35.5h0m0.5 82.5h0m0-9.5h0m0-36.5h0m0.5 14.5h0m0-5.5h0m0 60.5h0m1-61.5h0m0 40.5h0m0-21h0m0 14h0m0.5-49h0m0 33h0m0-77h0m0.5 91h0m0-81h0m0 59h0m0.5-6h0m0 31.5h0m0-40h0m0.5 49h0m0-10h0m0.5-44.5h0m0 31.5h0m0-0.5h0m0-5h0m0.5-62h0m0 53.5h0m0-6h0m0-13.5h0m0.5-27.5h0m0 54.5h0m0 1h0m0.5-51h0m0 2h0m0 35.5h0m0.5 12.5h0m0-15.5h0m0-27h0m0.5 21.5h0m0 11.5h0m0-24.5h0m0-1.5h0m0 51h0m0 10h0m0-2h0m0.5-11h0m0.5-12h0m0.5 11.5h0m0-10h0m0-20.5h0m0 88h0m0-59h0m0.5-42.5h0m0 6.5h0m0.5 13.5h0m0 14.5h0m0-101h0m0 72.5h0m0.5 35.5h0m0-18.5h0m0 43h0m0-30h0m0-146h0m0.5-29h0m0 219h0m0-74.5h0m0-28.5h0m0 48h0m0.5-18h0m0 24.5h0m0 31h0m0.5 83.5h0m0-135.5h0m0 71h0m0-70.5h0m0.5-2h0m0-76.5h0m0 98.5h0m0-14.5h0m0 14.5h0m0 6h0m0.5-9.5h0m0 25h0m0-62.5h0m0.5-18h0m0 10.5h0m0 35.5h0m0 75.5h0m0.5-71h0m0 29.5h0m0-9h0m0-34h0m0.5 19.5h0m0 23.5h0m0-65h0m0 4.5h0m0.5 67.5h0m0-41h0m0 4h0m0.5-8.5h0m0-36.5h0m0 59.5h0m0-34.5h0m0-1h0m0.5 66.5h0m0 1h0m0-64.5h0m0.5-19.5h0m0 44.5h0m0-41.5h0m0.5 41.5h0m0-44.5h0m0-55.5h0m0 104.5h0m0.5-20.5h0m0 45.5h0m0.5-0.5h0m0 23h0m0.5-60.5h0m0.5-26.5h0m0 12.5h0m0.5 0h0m0-9.5h0m0 33h0m0.5 1.5h0m0.5-24h0m0-36.5h0m0 63h0m0.5-55h0m0 37.5h0m0-32h0m1 14.5h0m0 57.5h0m0-47.5h0m0 17.5h0m0.5 6h0m0 19h0m0-51.5h0m0 21h0m0.5-42.5h0m0 58h0m0-11h0m0.5-4h0m0-7.5h0m0-28h0m0 89h0m0.5-90h0m0 21.5h0m0.5-1.5h0m0 23h0m0-69.5h0m0.5 119.5h0m0-79h0m0 13.5h0m0-0.5h0m0-18.5h0m0 74h0m0.5 18.5h0m0-30.5h0m0.5-107.5h0m0 83h0m0 44h0m0.5-111.5h0m0 101.5h0m0-22.5h0m0-57h0m0.5-1.5h0m0 23.5h0m0-31h0m0.5 5.5h0m0 66.5h0m0 30.5h0m0-21h0m0.5-12.5h0m0 40.5h0m0-11h0m0-41h0m0-17h0m0 32.5h0m0-82.5h0m0.5 23.5h0m0.5 13h0m0 8.5h0m0 76.5h0m0-66.5h0m0-36h0m0 37.5h0m0-46.5h0m0.5 66h0m0 57h0m0-35.5h0m0 2h0m0-54h0m0.5-3h0m0 32.5h0m0.5-40h0m0.5-34h0m0 76h0m0-37.5h0m0-25.5h0m0.5 28.5h0m0 74h0m0-69.5h0m0-4.5h0m0.5-14.5h0m0-10.5h0m0 60.5h0m0-25h0m0 7h0m0.5-6.5h0m0-5.5h0m0-26h0m0.5 15.5h0m0 34h0m0-8h0m1-0.5h0m0 12h0m0 53h0m0.5-91h0m0 46h0m0-79.5h0m0.5 64h0m0-22h0m0-16.5h0m1 24h0m0.5-20h0m0-35h0m0.5 55.5h0m0-6h0m0 29h0m0-9h0m0.5 21.5h0m0-52h0m1 141h0m0.5-107.5h0m0-5h0m0-10.5h0m0-13h0m0.5 31h0m0 9h0m0 25.5h0m0.5-27h0m0-24h0m0 5h0m0.5-11h0m0-5h0m0.5 14.5h0m0 58h0m0-95.5h0m0 23h0m0.5 3h0m0-31.5h0m0 82.5h0m0-71.5h0m0 56h0m0.5 31.5h0m0-74.5h0m0.5 21h0m0-49h0m0 43.5h0m0-34h0m0 45.5h0m0-59h0m0.5 29h0m0-6h0m0.5 19.5h0m0 28h0m0-1.5h0m0-41h0m0 52h0m0-24.5h0m0 9.5h0m0 2h0m0.5 29h0m0.5-60h0m0-43.5h0m0 62h0m0-33.5h0m0.5-10.5h0m0 0.5h0m0.5 69.5h0m0-22.5h0m0-63h0m0.5 11.5h0m0-0.5h0m0.5 31h0m0 40h0m0-48h0m0.5 41h0m0 0h0m0-13.5h0m0.5 15h0m0-39.5h0m0.5-15h0m0 2h0m0 27.5h0m0 8h0m0-49h0m0.5 12.5h0m0.5-12h0m0 46h0m0.5 15.5h0m0-67.5h0m0 84h0m0-56h0m0 13.5h0m0-9h0m0 24.5h0m0-28.5h0m0.5 11h0m0 16.5h0m0-3.5h0m0-12.5h0m0-17h0m0.5 13h0m0 56h0m0-60h0m0-23.5h0m0 34h0m0 36h0m0-7h0m0-64.5h0m0.5 49.5h0m0.5 25h0m0-15.5h0m0-78h0m0 30.5h0m0-7h0m0.5 62h0m0-31.5h0m0-12.5h0m0.5 51.5h0m0-31h0m0 1.5h0m0.5 31h0m0 9h0m0-61.5h0m0-31.5h0m0 7h0m0 39.5h0m0.5-1.5h0m0-3h0m0 35.5h0m0-36.5h0m0-61h0m0.5 101h0m0-82.5h0m0-8h0m0.5 86h0m0 7h0m0 0.5h0m0.5-63h0m0 43h0m0-11.5h0m0 32.5h0m0-4.5h0m0.5-41.5h0m0-7h0m0-14h0m0.5 16h0m0-10.5h0m0 42h0m0 10h0m0 42.5h0m0.5-49h0m0-20.5h0m0.5-2.5h0m0 27.5h0m1-66h0m0.5-91.5h0m0 113.5h0m0 24h0m0.5-8.5h0m0-26.5h0m0 73h0m0-32h0m0 1h0m0 10.5h0m0.5-11.5h0m0.5 7.5h0m0 31h0m0.5-64.5h0m0 27h0m0-29.5h0m0.5 44h0m0 4.5h0m0.5-86h0m0 59h0m0-1h0m0.5 23h0m0-36.5h0m0 30.5h0m0-37h0m0 3h0m0.5-33.5h0m0 47.5h0m0.5 1.5h0m0-28h0m0.5 53.5h0m0 12.5h0m0-17h0m0-30.5h0m0.5 17.5h0m0 19.5h0m0.5-28.5h0m0 7.5h0m0-20.5h0m0 18.5h0m0.5 66h0m0-85.5h0m0 19h0m0-50.5h0m0 13.5h0m0 28h0m0.5-10.5h0m0 19h0m0 9.5h0m0-49.5h0m0 32h0m0.5 12h0m0-10h0m0 39.5h0m0.5-105.5h0m0.5 101.5h0m0 1h0m0-27.5h0m0.5-77h0m0.5 100h0m0-46.5h0m0 60.5h0m0-24.5h0m0-48.5h0m0.5 0h0m0 23.5h0m1 39h0m0-24.5h0m0-27.5h0m0-31h0m0 22h0m0.5 37h0m0-15h0m0-43.5h0m0 51h0m0.5 0h0m0-7.5h0m0 1.5h0m0.5-2.5h0m0 21.5h0m0.5-9h0m0-109.5h0m0 76h0m0.5 1.5h0m0.5 55h0m0-71.5h0m0.5 74.5h0" stroke="#201c1d" stroke-width="8.2" stroke-linecap="round"/>
<path clip-path="url(#d)" d="M1589.7 413.9 L1590.5 422.4 L1591.3 374.3 L1592.1 359.8 L1592.9 421.2 L1593.7 404 L1594.5 403.8 L1595.3 345.6 L1596.1 345.5 L1596.9 403.7 L1597.7 335.9 L1598.5 357.1 L1599.3 283.3 L1599.5 269.3 L1600.1 309.7 L1600.9 398.5 L1601.7 353.5 L1602.5 366 L1603.3 317.5 L1603.5 300.3 L1604.1 334.8 L1604.9 377.2 L1605.7 348.2 L1606.5 375 L1607 328.3 L1607.3 364.9 L1608.1 352.2 L1608.9 414.8 L1609.7 326 L1610 353.3 L1610.5 370.1 L1611.3 418.7 L1612.1 409.8 L1612.9 427 L1613.7 391.7 L1614.5 393.6 L1615.3 377.8 L1616.1 422.6 L1616.9 368 L1617.7 414.2 L1618.5 414 L1619.3 413.1 L1620.1 374.1 L1620.9 427.5 L1621.7 369.6 L1622.5 416.4 L1623.3 389.9 L1624.1 384.7 L1624.9 423.7 L1625.7 411.5 L1626.5 391.4 L1627.3 425.1 L1628.1 412.8 L1628.9 371.6 L1629.7 372.8 L1630.5 413.6 L1631.3 374.5 L1632.1 417.8 L1632.9 416.1 L1633.7 394.3 L1634.5 408.7 L1635.3 418.5 L1636.1 396.7 L1636.9 383.2 L1637.7 391.1 L1638.5 406.2 L1639.3 400.3 L1640.1 419.3 L1640.9 393.5 L1641.7 398.6 L1642.5 382.1 L1643.3 393.5 L1644.1 362.4 L1644.9 364.5 L1645.7 323.1 L1646.5 346.4 L1647.3 305.5 L1648.1 357.1 L1648.9 191.5 L1649.7 338.4 L1650.5 129.7 L1651 105.7 L1651.3 162.6 L1652.1 206.7 L1652.9 181.3 L1653.7 324.3 L1654.5 294 L1655.3 337 L1656.1 326.8 L1656.9 394.9 L1657.7 349 L1658.5 386.9 L1659.3 377.5 L1660.1 407.3 L1660.9 382.7 L1661.7 403.7 L1662.5 401.1 L1663.3 416.4 L1664.1 407.6 L1664.9 416.8 L1665.7 413.9 L1666.5 418 L1667.3 397.6 L1668.1 425.6 L1668.9 384.9 L1669.7 383.6 L1670.5 373.2 L1671.3 395.7 L1672.1 392.5 L1672.9 381.4 L1673.7 381.4 L1674.5 414 L1675.3 411.5 L1676.1 410.7 L1676.9 385.1 L1677.7 385.7 L1678.5 399.1 L1679.3 385.4 L1680.1 391.9 L1680.9 423.8 L1681.7 422.8 L1682.5 405.8 L1683.3 386.2 L1684.1 427.9 L1684.9 394.1 L1685.7 384.5 L1686.5 391 L1687.3 405.3 L1688.1 394.8 L1688.9 422 L1689.7 387 L1690.5 384.4 L1691.3 417.6 L1692.1 424.7 L1692.9 405.7 L1693.7 416.9 L1694.5 407.1 L1695.3 396.7 L1696.1 395.2 L1696.9 419.5 L1697.7 423.7 L1698.5 414 L1699.3 377.1 L1700.1 425.9 L1700.9 401.5 L1701.7 422.7 L1702.5 384.2 L1703.3 417.5 L1704.1 394.4 L1704.9 421.9 L1705.7 426.6 L1706.5 416.8 L1707.3 397.1 L1708.1 426.8 L1708.9 397.4 L1709.7 424.6 L1710.5 397.9 L1711.3 417.6 L1712.1 393.5 L1712.9 424.6 L1713.7 393.4 L1714.5 424.4 L1715.3 408.9 L1716.1 421.4 L1716.9 404.2 L1717.7 420.7 L1718.5 407.2 L1719.3 426.7 L1720.1 421.7 L1720.9 426 L1721.7 412.3 L1722.5 382.8 L1723.3 420.5 L1724.1 421 L1724.9 405.1 L1725.7 425.8 L1726.5 397.5 L1727.3 424.2 L1728.1 400.7 L1728.9 422.8 L1729.7 397.6 L1730.5 420 L1731.3 398.4 L1732.1 396.1 L1732.9 400.3 L1733.7 383.7 L1734.5 406.1 L1735.3 417.3 L1736.1 398.1 L1736.9 424.2 L1737.7 406.9 L1738.5 403.1 L1739.3 383.4 L1740.1 420.1 L1740.9 397.5 L1741.7 417.1 L1742.5 407 L1743.3 420.7 L1744.1 424.9 L1744.9 418.9 L1745.7 397.8 L1746.5 410.7 L1747.3 403.2 L1748.1 427.1 L1748.9 403.9 L1749.7 416.2 L1750.5 421.5 L1751.3 427.1 L1752.1 403.4 L1752.9 424.5 L1753.7 387.4 L1754.5 390.1 L1755.3 395 L1756.1 417.8 L1756.9 415.9 L1757.7 401.2 L1758.5 420.6 L1759.3 426.3 L1760.1 399.5 L1760.9 397.3 L1761.7 388.1 L1762.5 423.3 L1763.3 426.2 L1764.1 422.7 L1764.9 403.4 L1765.7 414.5 L1766.5 406.5 L1767.3 423.1 L1768.1 408.9 L1768.9 425.3 L1769.7 410.8 L1770.5 422.4 L1771.3 400 L1772.1 417.7 L1772.9 399.2 L1773.7 406.8 L1774.5 392.3 L1775.3 426.3 L1776.1 409.5 L1776.9 401.2 L1777.7 425 L1778.5 423.5 L1779.3 409.3 L1780.1 423.6 L1780.9 398.5 L1781.7 398.4 L1782.5 422.8 L1783.3 419.6 L1784.1 403.8 L1784.9 427.7 L1785.7 399 L1786.5 427.4 L1787.3 398 L1788.1 421.3 L1788.9 404.8 L1789.7 425.9 L1790.5 417 L1791.3 426.6 L1792.1 426.1 L1792.9 420 L1793.7 402.6 L1794.5 420.8 L1795.3 408.5 L1796.1 400 L1796.9 400.5 L1797.7 422.9 L1798.5 398.5 L1799.3 428.2 L1800.1 407.3 L1800.9 420.3 L1801.7 425 L1802.5 423 L1803.3 407.8 L1804.1 423.7 L1804.9 399.1 L1805.7 426.4 L1806.5 408.8 L1807.3 417.7 L1808.1 417.8 L1808.9 421.7 L1809.7 424.9 L1810.5 426.5 L1811.3 400 L1812.1 425.6 L1812.9 416.1 L1813.7 422.9 L1814.5 396.9 L1815.3 395.9 L1816.1 373.5 L1816.9 427.9 L1817.7 404.7 L1818.5 416.6 L1819.3 399.2 L1820.1 418.3 L1820.9 404.4 L1821.7 420.2 L1822.5 399.4 L1823.3 419.4 L1824.1 400.5 L1824.9 426.5 L1825.7 418.4 L1826.5 422.9 L1827.3 403 L1828.1 393.7 L1828.9 408.7 L1829.7 416 L1830.5 401.2 L1831.3 420.3 L1832.1 401.9 L1832.9 407.5 L1833.7 425.1 L1834.5 424.7 L1835.3 394 L1836.1 425.4 L1836.9 402.3 L1837.7 423 L1838.5 423.6 L1839.3 393.4 L1840.1 410.4 L1840.9 418.9 L1841.7 417.3 L1842.5 396.9 L1843.3 397.9 L1844.1 416.9 L1844.9 412.3 L1845.7 417.8 L1846.5 403.6 L1847.3 409.4 L1848.1 400.5 L1848.9 403.5 L1849.7 405.9 L1850.5 419.2 L1851.3 402.7 L1852.1 407.4 L1852.9 404.9 L1853.7 427.5 L1854.5 403.9 L1855.3 427.8 L1856.1 403.5 L1856.9 426.7 L1857.7 399.2 L1858.5 418.5 L1859.3 399.1 L1860.1 419 L1860.9 400.8 L1861.7 420.1 L1862.5 408.1 L1863.3 397 L1864.1 420.5 L1864.9 391.3 L1865.7 401.4 L1866.5 420.1 L1867.3 402.1 L1868.1 413.6 L1868.9 385.1 L1869.7 405.4 L1870.5 396.4 L1871.3 382.6 L1872.1 384.7 L1872.9 424.6 L1873.7 404.4 L1874.5 426.7 L1875.3 403.5 L1876.1 424.6 L1876.9 396.5 L1877.7 403.5 L1878.5 400 L1879.3 394.8 L1880.1 408.9 L1880.9 401.5 L1881.7 409.5 L1882.5 428.2 L1883.3 414 L1884.1 422.6 L1884.9 405.7 L1885.7 425.9 L1886.5 418.7 L1887.3 425.3 L1888.1 419.4 L1888.9 422.4 L1889.7 411 L1890.5 425.8 L1891.3 405.8 L1892.1 423.2 L1892.9 404 L1893.7 427.8 L1894.5 404.9 L1895.3 428 L1896.1 409.4 L1896.9 426.8 L1897.7 419.3 L1898.5 408.6 L1899.3 405.7 L1900.1 423 L1900.9 409.3 L1901.7 421.7 L1902.5 409.3 L1903.3 404.5 L1904.1 409.4 L1904.9 423.9 L1905.7 412.8 L1906.5 426.2 L1907.3 408.2 L1908.1 420.2 L1908.9 410.7 L1909.7 426.6 L1910.5 402.2 L1911.3 425.6 L1912.1 414.6 L1912.9 423.7 L1913.7 408.6 L1914.5 423.7 L1915.3 413.1 L1916.1 419.3 L1916.9 422.7 L1917.7 420.6 L1918.5 414.7 L1919.3 427.2 L1920.1 406.2 L1920.9 402 L1921.7 402.9 L1922.5 422.2 L1923.3 420.8 L1924.1 419.5 L1924.9 407.5 L1925.7 419.9 L1926.5 423.5 L1927.3 422.3 L1928.1 408.6 L1928.9 420.2 L1929.7 401.7 L1930.5 428.2 L1931.3 402.1 L1932.1 422 L1932.9 404.3 L1933.7 427.1 L1934.5 404.9 L1935.3 422.4 L1936.1 406.2 L1936.9 422.1 L1937.7 406.6 L1938.5 422.2 L1939.3 407.7 L1940.1 424.1 L1940.9 408 L1941.7 403.8 L1942.5 404.7 L1943.3 421.6 L1944.1 403.9 L1944.9 419.8 L1945.7 413.6 L1946.5 427.8 L1947.3 409.2 L1948.1 424.7 L1948.9 427.3 L1949.7 395.8 L1950.5 397.4 L1951.3 420.5 L1952.1 401.8 L1952.9 426.3 L1953.7 403.7 L1954.5 418.7 L1955.3 401.4 L1956.1 403 L1956.9 420.9 L1957.7 421.5 L1958.5 399.2 L1959.3 404.5 L1960.1 422.4 L1960.9 395.4 L1961.7 407.6 L1962.5 423.1 L1963.3 394.2 L1964.1 417.5 L1964.9 390.3 L1965.7 422.9 L1966.5 390.8 L1967.3 416.7 L1968.1 416.8 L1968.9 423.9 L1969.7 399.7 L1970.5 423.6 L1971.3 406.6 L1972.1 419.3 L1972.9 397.2 L1973.7 419.6 L1974.5 406.8 L1975.3 404.5 L1976.1 426.7 L1976.9 410.5 L1977.7 402.8 L1978.5 422.5 L1979.3 406.4 L1980.1 424.2 L1980.9 405.1 L1981.7 421.6 L1982.5 405.8 L1983.3 425.6 L1984.1 401.9 L1984.9 421.1 L1985.7 402.2 L1986.5 424 L1987.3 426.5 L1988.1 421.6 L1988.9 410.2 L1989.7 375.3 L1990.5 403.7 L1991.3 424.6 L1992.1 400.3 L1992.9 426.9 L1993.7 401.8 L1994.5 415.8 L1995.3 418 L1996.1 421.2 L1996.9 406.2 L1997.7 424.4 L1998.5 403.1 L1999.3 404.7 L2000.1 398.9 L2000.9 417.9 L2001.7 403.2 L2002.5 422.3 L2003.3 407.6 L2004.1 421.5" fill="none" stroke="#201c1d" stroke-width="4.0" stroke-linejoin="round" stroke-linecap="butt"/>
<path clip-path="url(#e)" d="M1564.2 1018.1C1564.8 1019.4 1566.5 1023.7 1567.9 1025.7C1569.3 1027.8 1571 1030.9 1572.6 1030.4C1574.2 1029.9 1576 1024.5 1577.4 1022.8C1578.8 1021.1 1579.8 1021.1 1581.1 1020C1582.3 1018.9 1583.8 1019 1584.9 1016.2C1586 1013.4 1586.4 1006.9 1587.7 1003C1589 999.1 1591.1 991.6 1592.5 992.6C1593.9 993.6 1595 1001 1596.2 1008.7C1597.5 1016.4 1598.7 1036.7 1600 1038.9C1601.3 1041.1 1602.4 1025 1603.8 1021.9C1605.2 1018.8 1606.5 1023.5 1608.5 1020C1610.5 1016.5 1614 1001.4 1616 1001.1C1618 1000.8 1619.4 1011.8 1620.8 1018.1C1622.2 1024.4 1623.1 1035.4 1624.5 1038.9C1625.9 1042.4 1627.5 1044.6 1629.2 1038.9C1630.9 1033.2 1633.3 1007.7 1634.9 1004.9C1636.5 1002.1 1637.4 1014.7 1638.7 1021.9C1640 1029.1 1641.2 1049.2 1642.5 1048.3C1643.8 1047.3 1645.1 1020 1646.2 1016.2C1647.3 1012.4 1648.1 1022.2 1649.1 1025.7C1650 1029.2 1650.5 1044.2 1651.9 1037C1653.3 1029.8 1655.9 988 1657.5 982.3C1659.1 976.6 1660 994.5 1661.3 1003C1662.6 1011.5 1663.7 1030.7 1665.1 1033.2C1666.5 1035.7 1668.4 1026 1669.8 1018.1C1671.2 1010.2 1672.3 987.9 1673.6 986C1674.9 984.1 1676.3 999.2 1677.4 1006.8C1678.5 1014.3 1679 1032.9 1680.2 1031.3C1681.5 1029.7 1683.7 1001.2 1684.9 997.4C1686.2 993.6 1686.8 1005.6 1687.7 1008.7C1688.7 1011.8 1689.3 1020 1690.6 1016.2C1691.9 1012.4 1693.7 984.1 1695.3 986C1696.9 987.9 1698.3 1033.8 1700 1027.5C1701.7 1021.2 1704.3 956.8 1705.7 948.3C1707.1 939.8 1707.6 963.4 1708.5 976.6C1709.4 989.8 1710.2 1030.3 1711.3 1027.5C1712.4 1024.7 1713.5 977.5 1715.1 959.6C1716.7 941.7 1719.4 925.4 1720.8 920C1722.2 914.6 1722.8 912.4 1723.6 927.5C1724.4 942.6 1724.6 1031.8 1725.5 1010.6C1726.4 989.4 1727.9 847.2 1729 800C1730.1 752.8 1731.1 727.5 1732.1 727.5C1733.1 727.5 1733.9 748.4 1735 800C1736.1 851.6 1737.8 1004.4 1738.7 1037C1739.6 1069.6 1739.7 996.8 1740.6 995.5C1741.5 994.2 1742.9 1039.8 1744.3 1029.4C1745.7 1019 1747.7 933.2 1749.1 933.2C1750.5 933.2 1751.4 1034.4 1752.8 1029.4C1754.2 1024.4 1755.8 900.8 1757.5 903C1759.2 905.2 1761.8 1027.8 1763.2 1042.6C1764.6 1057.4 1765 997.4 1766 991.7C1767 986.1 1767.6 1024.7 1769 1008.7C1770.4 992.7 1772.6 900.9 1774.5 895.5C1776.4 890.1 1778.6 962.5 1780.2 976.6C1781.8 990.8 1782.9 978.1 1784 980.4C1785.1 982.7 1786.2 980.9 1787 990.4C1787.8 999.9 1788 1033.6 1788.8 1037.3C1789.6 1041 1790.8 1016.4 1791.7 1012.7C1792.6 1009 1792.9 1009.5 1794.1 1015C1795.3 1020.5 1796.8 1046.8 1798.8 1045.6C1800.8 1044.4 1804.5 1010.8 1806.4 1008C1808.4 1005.2 1808.2 1026.2 1810.5 1029.1C1812.8 1032 1817.7 1024.4 1819.9 1025.6C1822.2 1026.8 1822.2 1039.9 1824 1036.2C1825.8 1032.5 1828.2 1003.9 1830.5 1003.3C1832.8 1002.7 1835.5 1033.6 1837.5 1032.6C1839.5 1031.6 1841 995.8 1842.8 997.4C1844.6 999 1846 1034.6 1848.1 1042C1850.1 1049.4 1852.9 1048.1 1855.1 1042C1857.2 1035.9 1859 1008.9 1861 1005.6C1863 1002.3 1864.8 1018.4 1866.9 1022.1C1869.1 1025.8 1871.8 1023.8 1873.9 1027.9C1876.1 1032 1877.2 1043.4 1879.8 1046.7C1882.3 1050 1886.3 1056.7 1889.2 1047.9C1892.1 1039.1 1894.7 995.3 1897.4 993.9C1900.1 992.5 1902.8 1039.9 1905.6 1039.7C1908.3 1039.5 1911.8 993.5 1913.9 992.7C1916.1 991.9 1916.5 1038.9 1918.5 1035C1920.5 1031.1 1923 968 1925.6 969.2C1928.1 970.4 1931.2 1031.6 1933.8 1042C1936.3 1052.4 1939 1031.9 1940.9 1031.5C1942.9 1031.1 1943.8 1041.7 1945.5 1039.7C1947.2 1037.7 1949.2 1020.5 1951.4 1019.7C1953.6 1018.9 1955.8 1035.2 1958.5 1035C1961.2 1034.8 1965.4 1018.3 1967.9 1018.5C1970.4 1018.7 1971.8 1036.2 1973.7 1036.2C1975.7 1036.2 1977.4 1020.1 1979.6 1018.5C1981.8 1016.9 1984.4 1022.3 1986.6 1026.8C1988.8 1031.3 1990.9 1045 1992.5 1045.6C1994.1 1046.2 1994.2 1033.6 1996 1030.3C1997.8 1027 2001.9 1026.4 2003.1 1025.6" fill="none" stroke="#201c1d" stroke-width="4.2" stroke-linejoin="round"/>
<path clip-path="url(#f)" d="M1595.7 1668.7 L1596.5 1672.7 L1597.3 1671.2 L1598.1 1658 L1598.9 1660.7 L1599.7 1666.6 L1600.5 1648.5 L1601.3 1655.4 L1602.1 1647.9 L1602.9 1668.9 L1603.7 1665 L1604.5 1659.3 L1605.3 1671.2 L1606.1 1660.1 L1606.9 1650.5 L1607.7 1669.4 L1608.5 1636.8 L1609.3 1667.2 L1610.1 1652.2 L1610.9 1644 L1611.7 1648.5 L1612.5 1671.6 L1613.3 1650.1 L1614.1 1669 L1614.9 1672.1 L1615.7 1668.5 L1616.5 1654.5 L1617.3 1669.8 L1618.1 1660.2 L1618.9 1668.3 L1619.7 1656.1 L1620.5 1671.9 L1621.3 1657.1 L1622.1 1641.1 L1622.9 1666 L1623.7 1663.8 L1624.5 1666.9 L1625.3 1667.1 L1626.1 1664.9 L1626.9 1669.1 L1627.7 1654.5 L1628.5 1667 L1629.3 1668.8 L1630.1 1661.7 L1630.9 1647.4 L1631.7 1664 L1632.5 1635.3 L1633.3 1656.9 L1634.1 1631.3 L1634.9 1671.9 L1635.7 1638.2 L1636.5 1669.8 L1637.3 1636.9 L1638.1 1665.1 L1638.9 1648.6 L1639.7 1665.6 L1640.5 1647.6 L1641.3 1666.6 L1642.1 1661.1 L1642.9 1660.4 L1643.7 1649.3 L1644.5 1665.4 L1645.3 1652.8 L1646.1 1672.1 L1646.9 1654 L1647.7 1669.9 L1648.5 1660.2 L1649.3 1672.3 L1650.1 1662.2 L1650.9 1660.4 L1651.7 1651.6 L1652.5 1666.4 L1653.3 1640.9 L1654.1 1665.1 L1654.9 1646.6 L1655.7 1661 L1656.5 1632.2 L1657.3 1641.5 L1658.1 1644.6 L1658.9 1643.5 L1659.7 1660 L1660.5 1671.1 L1661.3 1654.7 L1662.1 1670.8 L1662.9 1666.5 L1663.7 1664.4 L1664.5 1648.3 L1665.3 1668.5 L1666.1 1653.3 L1666.9 1670.2 L1667.7 1668 L1668.5 1667.8 L1669.3 1667.9 L1670.1 1669.3 L1670.9 1672.5 L1671.7 1658.3 L1672.5 1652.1 L1673.3 1670.3 L1674.1 1659.4 L1674.9 1666.5 L1675.7 1658 L1676.5 1672.1 L1677.3 1631.9 L1678.1 1664.2 L1678.9 1662.9 L1679.7 1624.9 L1680.5 1661.4 L1681.3 1627.2 L1682.1 1649 L1682.9 1669.5 L1683.7 1668.3 L1684.5 1667.6 L1685.3 1648.3 L1686.1 1660.2 L1686.9 1641.1 L1687.7 1668.2 L1688.5 1648.4 L1689.3 1659.4 L1690.1 1634.3 L1690.9 1639.2 L1691.7 1637.2 L1692.5 1656.4 L1693.3 1620.9 L1694.1 1627.6 L1694.9 1612.1 L1695.7 1634.7 L1696.5 1590.8 L1697.3 1583.7 L1698.1 1442.5 L1698.9 1531.2 L1699.6 1351.7 L1699.7 1534.3 L1700.5 1405.1 L1701.3 1554.3 L1702.1 1557.9 L1702.9 1624.9 L1703.7 1603.7 L1704.5 1645.4 L1705.3 1627.1 L1706.1 1614 L1706.9 1619.3 L1707.7 1641 L1708.5 1615.1 L1709.3 1634.1 L1710 1600.7 L1710.1 1641.8 L1710.9 1615.2 L1711.7 1641.6 L1712.5 1611 L1713.3 1646 L1714.1 1618.8 L1714.9 1642.8 L1715.7 1624.1 L1716.5 1651.9 L1717.3 1625.3 L1718.1 1654.4 L1718.9 1633.1 L1719 1620.7 L1719.7 1625.3 L1720.5 1640.5 L1721.3 1637.5 L1722.1 1642.9 L1722.9 1626.8 L1723.7 1655.1 L1724.5 1641.9 L1725.3 1634 L1726.1 1631.7 L1726.9 1664.4 L1727.7 1663.2 L1728.5 1661.5 L1729.3 1648.3 L1730.1 1661.9 L1730.9 1642 L1731.7 1641 L1732.5 1635.8 L1733.3 1662.6 L1734.1 1667.8 L1734.9 1664.7 L1735.7 1645.8 L1736.5 1663.1 L1737.3 1649.5 L1738.1 1669.2 L1738.9 1642.2 L1739.7 1666.5 L1740.5 1643.5 L1741.3 1665.6 L1742.1 1671 L1742.9 1654.1 L1743.7 1668.4 L1744.5 1666.8 L1745.3 1654.2 L1746.1 1667.1 L1746.9 1646.7 L1747.7 1671.4 L1748.5 1666.9 L1749.3 1667.5 L1750.1 1643.5 L1750.9 1671.9 L1751.7 1671 L1752.5 1671.1 L1753.3 1644.6 L1754.1 1654.3 L1754.9 1647.9 L1755.7 1670.3 L1756.5 1655.3 L1757.3 1666.3 L1758.1 1651.6 L1758.9 1670.3 L1759.7 1653.6 L1760.5 1648.8 L1761.3 1648.9 L1762.1 1668.1 L1762.9 1647.7 L1763.7 1667.2 L1764.5 1649 L1765.3 1662.1 L1766.1 1645 L1766.9 1644.4 L1767.7 1646.5 L1768.5 1657.2 L1769.3 1653.8 L1770.1 1670.1 L1770.9 1641 L1771.7 1669.9 L1772.5 1641.2 L1773.3 1670.9 L1774.1 1642.3 L1774.9 1660.4 L1775.7 1672.1 L1776.5 1661.3 L1777.3 1651 L1778.1 1663.8 L1778.9 1645.1 L1779.7 1630.1 L1780.5 1654.4 L1781.3 1670.1 L1782.1 1644.6 L1782.9 1657.6 L1783.7 1651.9 L1784.5 1641.2 L1785.3 1653.2 L1786.1 1644.7 L1786.9 1666.2 L1787.7 1667 L1788.5 1671.1 L1789.3 1644.7 L1790.1 1666.3 L1790.9 1669.3 L1791.7 1648 L1792.5 1647.9 L1793.3 1658.3 L1794.1 1666.1 L1794.9 1671 L1795.7 1663.5 L1796.5 1652.6 L1797.3 1670 L1798.1 1642.7 L1798.9 1660 L1799.7 1641.5 L1800.5 1665.8 L1801.3 1638.5 L1802.1 1664.1 L1802.9 1618.8 L1803.7 1670.8 L1804.5 1624.5 L1805.3 1667.7 L1806.1 1627.2 L1806.9 1659.3 L1807.7 1646.2 L1808.5 1663 L1809.3 1643.4 L1810.1 1667.2 L1810.9 1640.8 L1811.7 1664.7 L1812.5 1664.4 L1813.3 1669.3 L1814.1 1637.6 L1814.9 1646.2 L1815.7 1639.4 L1816.5 1668.5 L1817.3 1644 L1818.1 1663.9 L1818.9 1645.8 L1819.7 1640.3 L1820.5 1640.6 L1821.3 1663.2 L1822.1 1646.1 L1822.9 1670.6 L1823.7 1654.8 L1824.5 1669.8 L1825.3 1655.5 L1826.1 1664.8 L1826.9 1658.7 L1827.7 1655.6 L1828.5 1659.8 L1829.3 1668.1 L1830.1 1667.5 L1830.9 1658.9 L1831.7 1659.9 L1832.5 1671.6 L1833.3 1652.5 L1834.1 1671.5 L1834.9 1650.2 L1835.7 1666.9 L1836.5 1657.1 L1837.3 1645.5 L1838.1 1651.3 L1838.9 1671.4 L1839.7 1641.8 L1840.5 1661.5 L1841.3 1640 L1842.1 1641.2 L1842.9 1650.2 L1843.7 1665.3 L1844.5 1643.1 L1845.3 1666.1 L1846.1 1641.5 L1846.9 1662.6 L1847.7 1652.2 L1848.5 1664.3 L1849.3 1665.8 L1850.1 1668.3 L1850.9 1653.7 L1851.7 1670.6 L1852.5 1647.7 L1853.3 1668.6 L1854.1 1662.9 L1854.9 1669 L1855.7 1655.8 L1856.5 1663.4 L1857.3 1645.6 L1858.1 1669.8 L1858.9 1640.6 L1859.7 1665.9 L1860.5 1639.7 L1861.3 1665.1 L1862.1 1667.4 L1862.9 1668.2 L1863.7 1640.3 L1864.5 1663.4 L1865.3 1652 L1866.1 1661.2 L1866.9 1646.4 L1867.7 1671.5 L1868.5 1646 L1869.3 1664.2 L1870.1 1668.2 L1870.9 1668.1 L1871.7 1650.6 L1872.5 1666.2 L1873.3 1646.6 L1874.1 1655.4 L1874.9 1653.6 L1875.7 1654.4 L1876.5 1645.9 L1877.3 1671 L1878.1 1642.9 L1878.9 1652.1 L1879.7 1650.6 L1880.5 1669.6 L1881.3 1650.5 L1882.1 1669.6 L1882.9 1652.1 L1883.7 1669.2 L1884.5 1652.7 L1885.3 1639.7 L1886.1 1647.1 L1886.9 1669.8 L1887.7 1639.1 L1888.5 1647.9 L1889.3 1646.5 L1890.1 1662.3 L1890.9 1643 L1891.7 1643.3 L1892.5 1667.6 L1893.3 1666.6 L1894.1 1646.8 L1894.9 1660.5 L1895.7 1639.6 L1896.5 1664.6 L1897.3 1638.5 L1898.1 1670 L1898.9 1638.6 L1899.7 1670.7 L1900.5 1663.5 L1901.3 1672.5 L1902.1 1664.7 L1902.9 1660.4 L1903.7 1671.1 L1904.5 1671.9 L1905.3 1643 L1906.1 1668.1 L1906.9 1643 L1907.7 1668 L1908.5 1636.8 L1909.3 1635.3 L1910.1 1650.6 L1910.9 1664 L1911.7 1640.6 L1912.5 1636.3 L1913.3 1636.8 L1914.1 1670.3 L1914.9 1637.5 L1915.7 1670 L1916.5 1663 L1917.3 1670.1 L1918.1 1643.8 L1918.9 1663.4 L1919.7 1669.3 L1920.5 1640.9 L1921.3 1649.1 L1922.1 1664.4 L1922.9 1648.4 L1923.7 1672.5 L1924.5 1658.2 L1925.3 1668.1 L1926.1 1666.1 L1926.9 1667.8 L1927.7 1648 L1928.5 1669.1 L1929.3 1646.4 L1930.1 1670.3 L1930.9 1667.6 L1931.7 1658.5 L1932.5 1647.1 L1933.3 1667.1 L1934.1 1648.3 L1934.9 1671.7 L1935.7 1647.6 L1936.5 1650.1 L1937.3 1656.8 L1938.1 1645 L1938.9 1643.5 L1939.7 1655.8 L1940.5 1642.4 L1941.3 1669.2 L1942.1 1643.7 L1942.9 1668.2 L1943.7 1643.1 L1944.5 1668.8 L1945.3 1644.4 L1946.1 1655.9 L1946.9 1649.5 L1947.7 1667.7 L1948.5 1658.2 L1949.3 1666.7 L1950.1 1645.1 L1950.9 1672 L1951.7 1663.9 L1952.5 1667.1 L1953.3 1644.5 L1954.1 1671.7 L1954.9 1658.4 L1955.7 1665.3 L1956.5 1668.3 L1957.3 1664.7 L1958.1 1657.7 L1958.9 1662.9 L1959.7 1651.3 L1960.5 1665.8 L1961.3 1654 L1962.1 1665 L1962.9 1646.2 L1963.7 1670.1 L1964.5 1654.1 L1965.3 1645.8 L1966.1 1646.9 L1966.9 1669 L1967.7 1645.4 L1968.5 1663 L1969.3 1656.8 L1970.1 1656 L1970.9 1665.6 L1971.7 1662.7 L1972.5 1651.3 L1973.3 1671.1 L1974.1 1642.4 L1974.9 1667.3 L1975.7 1657.2 L1976.5 1669.4 L1977.3 1669.1 L1978.1 1665.4 L1978.9 1656.9 L1979.7 1666.6 L1980.5 1669.5 L1981.3 1669 L1982.1 1671.8 L1982.9 1665.6 L1983.7 1670.3 L1984.5 1670.6 L1985.3 1665.4 L1986.1 1644.3 L1986.9 1665.6 L1987.7 1671.3 L1988.5 1656.2 L1989.3 1672.2 L1990.1 1654.1 L1990.9 1671.4 L1991.7 1656.2 L1992.5 1667 L1993.3 1650.8 L1994.1 1666.2 L1994.9 1650.2 L1995.7 1668 L1996.5 1662.2 L1997.3 1668.5 L1998.1 1653.6 L1998.9 1652.7 L1999.7 1667.8 L2000.5 1662.9 L2001.3 1653.1 L2002.1 1667.3 L2002.9 1656.7 L2003.7 1661.2 L2004.5 1658.2" fill="none" stroke="#201c1d" stroke-width="4.0" stroke-linejoin="round" stroke-linecap="butt"/>
<rect x="183.3" y="91.2" width="1145.9" height="352.7" fill="none" stroke="#262626" stroke-width="2.5"/>
<rect x="183.5" y="714.3" width="1160.8" height="351.9" fill="none" stroke="#262626" stroke-width="2.5"/>
<rect x="204.1" y="1336" width="1132.7" height="352.9" fill="none" stroke="#262626" stroke-width="2.5"/>
<rect x="1571" y="91.2" width="453.8" height="352.7" fill="none" stroke="#262626" stroke-width="2.5"/>
<rect x="1545.3" y="714.3" width="478.4" height="351.9" fill="none" stroke="#262626" stroke-width="2.5"/>
<rect x="1578.9" y="1336" width="444.6" height="352.9" fill="none" stroke="#262626" stroke-width="2.5"/>
<text transform="translate(183.3 490.9) scale(1.06 1)" font-size="29.5" text-anchor="middle">2104</text>
<text transform="translate(310.6 490.9) scale(1.06 1)" font-size="29.5" text-anchor="middle">2105</text>
<text transform="translate(437.9 490.9) scale(1.06 1)" font-size="29.5" text-anchor="middle">2106</text>
<text transform="translate(565.3 490.9) scale(1.06 1)" font-size="29.5" text-anchor="middle">2107</text>
<text transform="translate(692.6 490.9) scale(1.06 1)" font-size="29.5" text-anchor="middle">2108</text>
<text transform="translate(819.9 490.9) scale(1.06 1)" font-size="29.5" text-anchor="middle">2109</text>
<text transform="translate(947.2 490.9) scale(1.06 1)" font-size="29.5" text-anchor="middle">2110</text>
<text transform="translate(1074.5 490.9) scale(1.06 1)" font-size="29.5" text-anchor="middle">2111</text>
<text transform="translate(1201.9 490.9) scale(1.06 1)" font-size="29.5" text-anchor="middle">2112</text>
<text transform="translate(1329.2 490.9) scale(1.06 1)" font-size="29.5" text-anchor="middle">2113</text>
<path d="M183.3 443.9v13M310.6 443.9v13M437.9 443.9v13M565.3 443.9v13M692.6 443.9v13M819.9 443.9v13M947.2 443.9v13M1074.5 443.9v13M1201.9 443.9v13M1329.2 443.9v13" stroke="#262626" stroke-width="2.5"/>
<text transform="translate(157 126.1) scale(1.06 1)" font-size="29.5" text-anchor="end">0.1</text>
<text transform="translate(157 281.8) scale(1.06 1)" font-size="29.5" text-anchor="end">0.0</text>
<text transform="translate(157 437.5) scale(1.06 1)" font-size="29.5" text-anchor="end">−0.1</text>
<path d="M183.3 114.8h-13M183.3 270.5h-13M183.3 426.2h-13" stroke="#262626" stroke-width="2.5"/>
<text transform="translate(281.3 1113.2) scale(1.06 1)" font-size="29.5" text-anchor="middle">1752</text>
<text transform="translate(478.1 1113.2) scale(1.06 1)" font-size="29.5" text-anchor="middle">1754</text>
<text transform="translate(674.9 1113.2) scale(1.06 1)" font-size="29.5" text-anchor="middle">1756</text>
<text transform="translate(871.7 1113.2) scale(1.06 1)" font-size="29.5" text-anchor="middle">1758</text>
<text transform="translate(1068.5 1113.2) scale(1.06 1)" font-size="29.5" text-anchor="middle">1760</text>
<text transform="translate(1265.3 1113.2) scale(1.06 1)" font-size="29.5" text-anchor="middle">1762</text>
<path d="M281.3 1066.2v13M478.1 1066.2v13M674.9 1066.2v13M871.7 1066.2v13M1068.5 1066.2v13M1265.3 1066.2v13" stroke="#262626" stroke-width="2.5"/>
<text transform="translate(157.2 747.3) scale(1.06 1)" font-size="29.5" text-anchor="end">0.10</text>
<text transform="translate(157.2 836.6) scale(1.06 1)" font-size="29.5" text-anchor="end">0.05</text>
<text transform="translate(157.2 925.9) scale(1.06 1)" font-size="29.5" text-anchor="end">0.00</text>
<text transform="translate(157.2 1015.2) scale(1.06 1)" font-size="29.5" text-anchor="end">−0.05</text>
<path d="M183.5 736h-13M183.5 825.3h-13M183.5 914.6h-13M183.5 1004h-13" stroke="#262626" stroke-width="2.5"/>
<text transform="translate(204.1 1735.9) scale(1.06 1)" font-size="29.5" text-anchor="middle">1857</text>
<text transform="translate(365.9 1735.9) scale(1.06 1)" font-size="29.5" text-anchor="middle">1858</text>
<text transform="translate(527.7 1735.9) scale(1.06 1)" font-size="29.5" text-anchor="middle">1859</text>
<text transform="translate(689.5 1735.9) scale(1.06 1)" font-size="29.5" text-anchor="middle">1860</text>
<text transform="translate(851.3 1735.9) scale(1.06 1)" font-size="29.5" text-anchor="middle">1861</text>
<text transform="translate(1013.2 1735.9) scale(1.06 1)" font-size="29.5" text-anchor="middle">1862</text>
<text transform="translate(1175 1735.9) scale(1.06 1)" font-size="29.5" text-anchor="middle">1863</text>
<text transform="translate(1336.8 1735.9) scale(1.06 1)" font-size="29.5" text-anchor="middle">1864</text>
<path d="M204.1 1688.9v13M365.9 1688.9v13M527.7 1688.9v13M689.5 1688.9v13M851.3 1688.9v13M1013.2 1688.9v13M1175 1688.9v13M1336.8 1688.9v13" stroke="#262626" stroke-width="2.5"/>
<text transform="translate(177.8 1409.4) scale(1.06 1)" font-size="29.5" text-anchor="end">0.05</text>
<text transform="translate(177.8 1535.6) scale(1.06 1)" font-size="29.5" text-anchor="end">0.00</text>
<text transform="translate(177.8 1661.7) scale(1.06 1)" font-size="29.5" text-anchor="end">−0.05</text>
<path d="M204.1 1398.1h-13M204.1 1524.3h-13M204.1 1650.5h-13" stroke="#262626" stroke-width="2.5"/>
<text transform="translate(1589.2 490.9) scale(1.06 1)" font-size="29.5" text-anchor="middle">0</text>
<text transform="translate(1705.9 490.9) scale(1.06 1)" font-size="29.5" text-anchor="middle">25</text>
<text transform="translate(1822.6 490.9) scale(1.06 1)" font-size="29.5" text-anchor="middle">50</text>
<text transform="translate(1939.3 490.9) scale(1.06 1)" font-size="29.5" text-anchor="middle">75</text>
<path d="M1589.2 443.9v13M1705.9 443.9v13M1822.6 443.9v13M1939.3 443.9v13" stroke="#262626" stroke-width="2.5"/>
<text transform="translate(1544.7 439.6) scale(1.06 1)" font-size="29.5" text-anchor="end">0.000</text>
<text transform="translate(1544.7 306.9) scale(1.06 1)" font-size="29.5" text-anchor="end">0.002</text>
<text transform="translate(1544.7 174.3) scale(1.06 1)" font-size="29.5" text-anchor="end">0.004</text>
<path d="M1571 428.3h-13M1571 295.6h-13M1571 163h-13" stroke="#262626" stroke-width="2.5"/>
<text transform="translate(1550.3 1113.2) scale(1.06 1)" font-size="29.5" text-anchor="middle">0</text>
<text transform="translate(1707.3 1113.2) scale(1.06 1)" font-size="29.5" text-anchor="middle">10</text>
<text transform="translate(1864.3 1113.2) scale(1.06 1)" font-size="29.5" text-anchor="middle">20</text>
<text transform="translate(2021.3 1113.2) scale(1.06 1)" font-size="29.5" text-anchor="middle">30</text>
<path d="M1550.3 1066.2v13M1707.3 1066.2v13M1864.3 1066.2v13M2021.3 1066.2v13" stroke="#262626" stroke-width="2.5"/>
<text transform="translate(1519 1062.1) scale(1.06 1)" font-size="29.5" text-anchor="end">0.000</text>
<text transform="translate(1519 916.5) scale(1.06 1)" font-size="29.5" text-anchor="end">0.002</text>
<text transform="translate(1519 771) scale(1.06 1)" font-size="29.5" text-anchor="end">0.004</text>
<path d="M1545.3 1050.8h-13M1545.3 905.2h-13M1545.3 759.7h-13" stroke="#262626" stroke-width="2.5"/>
<text transform="translate(1591.8 1735.9) scale(1.06 1)" font-size="29.5" text-anchor="middle">0</text>
<text transform="translate(1735.3 1735.9) scale(1.06 1)" font-size="29.5" text-anchor="middle">20</text>
<text transform="translate(1878.8 1735.9) scale(1.06 1)" font-size="29.5" text-anchor="middle">40</text>
<text transform="translate(2022.2 1735.9) scale(1.06 1)" font-size="29.5" text-anchor="middle">60</text>
<path d="M1591.8 1688.9v13M1735.3 1688.9v13M1878.8 1688.9v13M2022.2 1688.9v13" stroke="#262626" stroke-width="2.5"/>
<text transform="translate(1552.6 1684) scale(1.06 1)" font-size="29.5" text-anchor="end">0.000</text>
<text transform="translate(1552.6 1525.7) scale(1.06 1)" font-size="29.5" text-anchor="end">0.002</text>
<text transform="translate(1552.6 1367.5) scale(1.06 1)" font-size="29.5" text-anchor="end">0.004</text>
<path d="M1578.9 1672.7h-13M1578.9 1514.5h-13M1578.9 1356.2h-13" stroke="#262626" stroke-width="2.5"/>
<text x="1646.6" y="61.7" font-size="26" text-anchor="middle" class="c">18.7</text>
<text x="1722.3" y="61.7" font-size="26" text-anchor="middle" class="c">9.4</text>
<text x="1797.9" y="61.7" font-size="26" text-anchor="middle" class="c">6.2</text>
<text x="1873.5" y="61.7" font-size="26" text-anchor="middle" class="c">4.7</text>
<text x="1949.2" y="61.7" font-size="26" text-anchor="middle" class="c">3.7</text>
<text x="2024.8" y="61.7" font-size="26" text-anchor="middle" class="c">3.1</text>
<path d="M1646.6 91.2v-13M1722.3 91.2v-13M1797.9 91.2v-13M1873.5 91.2v-13M1949.2 91.2v-13M2024.8 91.2v-13" stroke="#262626" stroke-width="2.5"/>
<text transform="translate(1797.9 26.9) scale(1.01 1)" font-size="25" text-anchor="middle">Period [hr]</text>
<text x="1625" y="684.8" font-size="26" text-anchor="middle" class="c">57.6</text>
<text x="1704.8" y="684.8" font-size="26" text-anchor="middle" class="c">28.8</text>
<text x="1784.5" y="684.8" font-size="26" text-anchor="middle" class="c">19.2</text>
<text x="1864.2" y="684.8" font-size="26" text-anchor="middle" class="c">14.4</text>
<text x="1944" y="684.8" font-size="26" text-anchor="middle" class="c">11.5</text>
<text x="2023.7" y="684.8" font-size="26" text-anchor="middle" class="c">9.6</text>
<path d="M1625 714.3v-13M1704.8 714.3v-13M1784.5 714.3v-13M1864.2 714.3v-13M1944 714.3v-13M2023.7 714.3v-13" stroke="#262626" stroke-width="2.5"/>
<text transform="translate(1784.5 650) scale(1.01 1)" font-size="25" text-anchor="middle">Period [hr]</text>
<text x="1653" y="1306.5" font-size="26" text-anchor="middle" class="c">28.8</text>
<text x="1727.1" y="1306.5" font-size="26" text-anchor="middle" class="c">14.4</text>
<text x="1801.2" y="1306.5" font-size="26" text-anchor="middle" class="c">9.6</text>
<text x="1875.3" y="1306.5" font-size="26" text-anchor="middle" class="c">7.2</text>
<text x="1949.4" y="1306.5" font-size="26" text-anchor="middle" class="c">5.8</text>
<text x="2023.5" y="1306.5" font-size="26" text-anchor="middle" class="c">4.8</text>
<path d="M1653 1336v-13M1727.1 1336v-13M1801.2 1336v-13M1875.3 1336v-13M1949.4 1336v-13M2023.5 1336v-13" stroke="#262626" stroke-width="2.5"/>
<text transform="translate(1801.2 1271.7) scale(1.01 1)" font-size="25" text-anchor="middle">Period [hr]</text>
<text transform="translate(756.2 541.2) scale(1.006 1)" font-size="32" text-anchor="middle">Time - 2457000 [BJD]</text>
<text transform="translate(763.9 1163.5) scale(1.006 1)" font-size="32" text-anchor="middle">Time - 2457000 [BJD]</text>
<text transform="translate(770.4 1786.2) scale(1.006 1)" font-size="32" text-anchor="middle">Time - 2457000 [BJD]</text>
<text transform="translate(1797.9 545.9) scale(1.018 1)" font-size="32" text-anchor="middle">Frequency [<tspan font-style="italic">μ</tspan>Hz]</text>
<text transform="translate(1784.5 1167.7) scale(1.018 1)" font-size="32" text-anchor="middle">Frequency [<tspan font-style="italic">μ</tspan>Hz]</text>
<text transform="translate(1801.2 1790.4) scale(1.018 1)" font-size="32" text-anchor="middle">Frequency [<tspan font-style="italic">μ</tspan>Hz]</text>
<text transform="translate(53.7 267.6) rotate(-90) scale(1.01 1)" font-size="32" text-anchor="middle">Amplitude [%]</text>
<text transform="translate(32.6 890.2) rotate(-90) scale(1.01 1)" font-size="32" text-anchor="middle">Amplitude [%]</text>
<text transform="translate(53 1512.5) rotate(-90) scale(1.01 1)" font-size="32" text-anchor="middle">Amplitude [%]</text>
<text transform="translate(1428.7 267.6) rotate(-90) scale(1.01 1)" font-size="32" text-anchor="middle">Amplitude [%]</text>
<text transform="translate(1399.3 890.2) rotate(-90) scale(1.01 1)" font-size="32" text-anchor="middle">Amplitude [%]</text>
<text transform="translate(1435 1512.5) rotate(-90) scale(1.01 1)" font-size="32" text-anchor="middle">Amplitude [%]</text>
<rect x="196.7" y="107" width="321" height="107.2" rx="4" fill="#fff" fill-opacity="0.8" stroke="#ccc" stroke-opacity="0.8" stroke-width="2"/>
<circle cx="237.4" cy="161.2" r="4.1" fill="#201c1d"/>
<text transform="translate(287.6 136.5) scale(1.02 1)" font-size="28" text-anchor="start">HR 701</text>
<text transform="translate(287.6 167.7) scale(1.02 1)" font-size="28" text-anchor="start">TIC 166698220</text>
<text transform="translate(287.6 196.2) scale(1.02 1)" font-size="28" text-anchor="start">Sector 29</text>
<rect x="196.3" y="729.7" width="321" height="107.2" rx="4" fill="#fff" fill-opacity="0.8" stroke="#ccc" stroke-opacity="0.8" stroke-width="2"/>
<circle cx="237.9" cy="783.8" r="4.1" fill="#201c1d"/>
<text transform="translate(287.4 759.1) scale(1.02 1)" font-size="28" text-anchor="start">HR 5467</text>
<text transform="translate(287.4 790.3) scale(1.02 1)" font-size="28" text-anchor="start">TIC 298165335</text>
<text transform="translate(287.4 818.8) scale(1.02 1)" font-size="28" text-anchor="start">Sector 16</text>
<rect x="216.5" y="1352.4" width="321" height="107.2" rx="4" fill="#fff" fill-opacity="0.8" stroke="#ccc" stroke-opacity="0.8" stroke-width="2"/>
<circle cx="257.9" cy="1406" r="4.1" fill="#201c1d"/>
<text transform="translate(307.5 1381.8) scale(1.02 1)" font-size="28" text-anchor="start">del Umi</text>
<text transform="translate(307.5 1413) scale(1.02 1)" font-size="28" text-anchor="start">TIC 383553764</text>
<text transform="translate(307.5 1441.5) scale(1.02 1)" font-size="28" text-anchor="start">Sector 20</text>
<rect x="1771.8" y="107" width="238.8" height="107.2" rx="4" fill="#fff" fill-opacity="0.8" stroke="#ccc" stroke-opacity="0.8" stroke-width="2"/>
<text transform="translate(1780.7 136.5) scale(1.02 1)" font-size="28" text-anchor="start">HR 701</text>
<text transform="translate(1780.7 167.7) scale(1.02 1)" font-size="28" text-anchor="start">TIC 166698220</text>
<text transform="translate(1780.7 196.2) scale(1.02 1)" font-size="28" text-anchor="start">Sector 29</text>
<rect x="1771.8" y="729.7" width="238.8" height="107.2" rx="4" fill="#fff" fill-opacity="0.8" stroke="#ccc" stroke-opacity="0.8" stroke-width="2"/>
<text transform="translate(1780.7 759.1) scale(1.02 1)" font-size="28" text-anchor="start">HR 5467</text>
<text transform="translate(1780.7 790.3) scale(1.02 1)" font-size="28" text-anchor="start">TIC 298165335</text>
<text transform="translate(1780.7 818.8) scale(1.02 1)" font-size="28" text-anchor="start">Sector 16</text>
<rect x="1771.8" y="1352.4" width="238.8" height="107.2" rx="4" fill="#fff" fill-opacity="0.8" stroke="#ccc" stroke-opacity="0.8" stroke-width="2"/>
<text transform="translate(1780.7 1381.8) scale(1.02 1)" font-size="28" text-anchor="start">del Umi</text>
<text transform="translate(1780.7 1413) scale(1.02 1)" font-size="28" text-anchor="start">TIC 383553764</text>
<text transform="translate(1780.7 1441.5) scale(1.02 1)" font-size="28" text-anchor="start">Sector 20</text></svg>
</body></html>
